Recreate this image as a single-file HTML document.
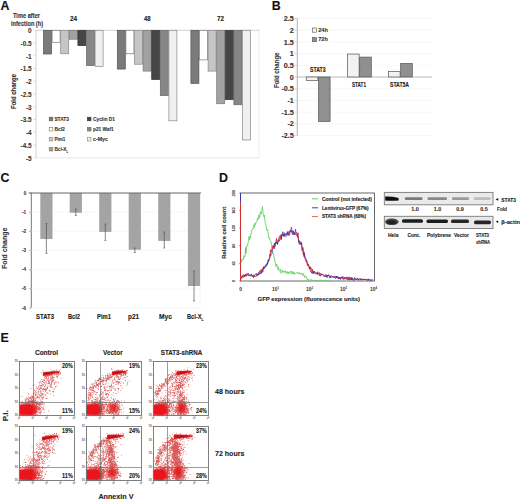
<!DOCTYPE html>
<html><head><meta charset="utf-8"><style>
html,body{margin:0;padding:0;background:#fff;width:520px;height:500px;overflow:hidden}
svg{display:block}
text{font-family:"Liberation Sans", sans-serif}
</style></head><body>
<svg width="520" height="500" viewBox="0 0 520 500" font-family='"Liberation Sans", sans-serif'>
<text x="0.50" y="9.60" font-size="12.4" font-weight="bold" text-anchor="start" fill="#111" stroke="#111" stroke-width="0.1" >A</text>
<text x="13.00" y="18.38" font-size="6.6" font-weight="bold" text-anchor="start" fill="#333" stroke="#333" stroke-width="0.12" textLength="27.00" lengthAdjust="spacingAndGlyphs" >Time after</text>
<text x="11.00" y="25.88" font-size="6.6" font-weight="bold" text-anchor="start" fill="#333" stroke="#333" stroke-width="0.12" textLength="32.00" lengthAdjust="spacingAndGlyphs" >infection (h)</text>
<text x="70.00" y="21.38" font-size="6.6" font-weight="bold" text-anchor="start" fill="#222" stroke="#222" stroke-width="0.12" textLength="7.00" lengthAdjust="spacingAndGlyphs" >24</text>
<text x="144.00" y="21.38" font-size="6.6" font-weight="bold" text-anchor="start" fill="#222" stroke="#222" stroke-width="0.12" textLength="6.50" lengthAdjust="spacingAndGlyphs" >48</text>
<text x="217.00" y="21.38" font-size="6.6" font-weight="bold" text-anchor="start" fill="#222" stroke="#222" stroke-width="0.12" textLength="7.00" lengthAdjust="spacingAndGlyphs" >72</text>
<line x1="36.00" y1="30.30" x2="36.00" y2="157.80" stroke="#c8c8c8" stroke-width="0.8" />
<line x1="36.00" y1="157.80" x2="259.00" y2="157.80" stroke="#e0e0e0" stroke-width="0.8" />
<line x1="259.00" y1="30.30" x2="259.00" y2="157.80" stroke="#e6e6e6" stroke-width="0.8" />
<line x1="36.00" y1="30.30" x2="259.00" y2="30.30" stroke="#c8c8c8" stroke-width="0.8" />
<line x1="33.50" y1="30.30" x2="36.00" y2="30.30" stroke="#c8c8c8" stroke-width="0.6" />
<text x="31.60" y="33.10" font-size="6.4" font-weight="bold" text-anchor="end" fill="#333" stroke="#333" stroke-width="0.06" >0</text>
<line x1="33.50" y1="43.05" x2="36.00" y2="43.05" stroke="#c8c8c8" stroke-width="0.6" />
<text x="31.60" y="45.85" font-size="6.4" font-weight="bold" text-anchor="end" fill="#333" stroke="#333" stroke-width="0.06" >-0.5</text>
<line x1="33.50" y1="55.80" x2="36.00" y2="55.80" stroke="#c8c8c8" stroke-width="0.6" />
<text x="31.60" y="58.60" font-size="6.4" font-weight="bold" text-anchor="end" fill="#333" stroke="#333" stroke-width="0.06" >-1</text>
<line x1="33.50" y1="68.55" x2="36.00" y2="68.55" stroke="#c8c8c8" stroke-width="0.6" />
<text x="31.60" y="71.35" font-size="6.4" font-weight="bold" text-anchor="end" fill="#333" stroke="#333" stroke-width="0.06" >-1.5</text>
<line x1="33.50" y1="81.30" x2="36.00" y2="81.30" stroke="#c8c8c8" stroke-width="0.6" />
<text x="31.60" y="84.10" font-size="6.4" font-weight="bold" text-anchor="end" fill="#333" stroke="#333" stroke-width="0.06" >-2</text>
<line x1="33.50" y1="94.05" x2="36.00" y2="94.05" stroke="#c8c8c8" stroke-width="0.6" />
<text x="31.60" y="96.85" font-size="6.4" font-weight="bold" text-anchor="end" fill="#333" stroke="#333" stroke-width="0.06" >-2.5</text>
<line x1="33.50" y1="106.80" x2="36.00" y2="106.80" stroke="#c8c8c8" stroke-width="0.6" />
<text x="31.60" y="109.60" font-size="6.4" font-weight="bold" text-anchor="end" fill="#333" stroke="#333" stroke-width="0.06" >-3</text>
<line x1="33.50" y1="119.55" x2="36.00" y2="119.55" stroke="#c8c8c8" stroke-width="0.6" />
<text x="31.60" y="122.35" font-size="6.4" font-weight="bold" text-anchor="end" fill="#333" stroke="#333" stroke-width="0.06" >-3.5</text>
<line x1="33.50" y1="132.30" x2="36.00" y2="132.30" stroke="#c8c8c8" stroke-width="0.6" />
<text x="31.60" y="135.10" font-size="6.4" font-weight="bold" text-anchor="end" fill="#333" stroke="#333" stroke-width="0.06" >-4</text>
<line x1="33.50" y1="145.05" x2="36.00" y2="145.05" stroke="#c8c8c8" stroke-width="0.6" />
<text x="31.60" y="147.85" font-size="6.4" font-weight="bold" text-anchor="end" fill="#333" stroke="#333" stroke-width="0.06" >-4.5</text>
<line x1="33.50" y1="157.80" x2="36.00" y2="157.80" stroke="#c8c8c8" stroke-width="0.6" />
<text x="31.60" y="160.60" font-size="6.4" font-weight="bold" text-anchor="end" fill="#333" stroke="#333" stroke-width="0.06" >-5</text>
<text x="15.50" y="91.50" font-size="6.4" font-weight="bold" text-anchor="middle" fill="#333" stroke="#333" stroke-width="0.12" textLength="35.00" lengthAdjust="spacingAndGlyphs" transform="rotate(-90 15.50 91.50)" >Fold change</text>
<rect x="43.50" y="30.30" width="8.00" height="23.71" fill="#7a7a7a" stroke="#555" stroke-width="0.7" />
<rect x="52.10" y="30.30" width="8.00" height="11.98" fill="#ffffff" stroke="#777" stroke-width="0.7" />
<rect x="60.70" y="30.30" width="8.00" height="23.46" fill="#c6c6c6" stroke="#888" stroke-width="0.7" />
<rect x="69.30" y="30.30" width="8.00" height="8.92" fill="#a2a2a2" stroke="#777" stroke-width="0.7" />
<rect x="77.90" y="30.30" width="8.00" height="15.30" fill="#464646" stroke="#333" stroke-width="0.7" />
<rect x="86.50" y="30.30" width="8.00" height="35.19" fill="#868686" stroke="#666" stroke-width="0.7" />
<rect x="95.10" y="30.30" width="8.00" height="36.21" fill="#f0f0f0" stroke="#888" stroke-width="0.7" />
<rect x="117.30" y="30.30" width="8.00" height="38.76" fill="#7a7a7a" stroke="#555" stroke-width="0.7" />
<rect x="125.90" y="30.30" width="8.00" height="23.46" fill="#ffffff" stroke="#777" stroke-width="0.7" />
<rect x="134.50" y="30.30" width="8.00" height="33.91" fill="#c6c6c6" stroke="#888" stroke-width="0.7" />
<rect x="143.10" y="30.30" width="8.00" height="40.80" fill="#a2a2a2" stroke="#777" stroke-width="0.7" />
<rect x="151.70" y="30.30" width="8.00" height="49.21" fill="#464646" stroke="#333" stroke-width="0.7" />
<rect x="160.30" y="30.30" width="8.00" height="65.28" fill="#868686" stroke="#666" stroke-width="0.7" />
<rect x="168.90" y="30.30" width="8.00" height="90.52" fill="#f0f0f0" stroke="#888" stroke-width="0.7" />
<rect x="190.90" y="30.30" width="8.00" height="53.04" fill="#7a7a7a" stroke="#555" stroke-width="0.7" />
<rect x="199.50" y="30.30" width="8.00" height="29.58" fill="#ffffff" stroke="#777" stroke-width="0.7" />
<rect x="208.10" y="30.30" width="8.00" height="40.80" fill="#c6c6c6" stroke="#888" stroke-width="0.7" />
<rect x="216.70" y="30.30" width="8.00" height="73.44" fill="#a2a2a2" stroke="#777" stroke-width="0.7" />
<rect x="225.30" y="30.30" width="8.00" height="69.36" fill="#464646" stroke="#333" stroke-width="0.7" />
<rect x="233.90" y="30.30" width="8.00" height="74.46" fill="#868686" stroke="#666" stroke-width="0.7" />
<rect x="242.50" y="30.30" width="8.00" height="109.65" fill="#f0f0f0" stroke="#888" stroke-width="0.7" />
<rect x="49.20" y="117.20" width="3.60" height="3.60" fill="#7a7a7a" stroke="#555" stroke-width="0.6" />
<text x="54.40" y="121.20" font-size="6.2" font-weight="bold" text-anchor="start" fill="#333" stroke="#333" stroke-width="0.12" textLength="14.60" lengthAdjust="spacingAndGlyphs" >STAT3</text>
<rect x="49.20" y="127.40" width="3.60" height="3.60" fill="#ffffff" stroke="#777" stroke-width="0.6" />
<text x="54.40" y="131.40" font-size="6.2" font-weight="bold" text-anchor="start" fill="#333" stroke="#333" stroke-width="0.12" textLength="10.50" lengthAdjust="spacingAndGlyphs" >Bcl2</text>
<rect x="49.20" y="137.40" width="3.60" height="3.60" fill="#c6c6c6" stroke="#888" stroke-width="0.6" />
<text x="54.40" y="141.40" font-size="6.2" font-weight="bold" text-anchor="start" fill="#333" stroke="#333" stroke-width="0.12" textLength="11.00" lengthAdjust="spacingAndGlyphs" >Pim1</text>
<rect x="49.20" y="147.40" width="3.60" height="3.60" fill="#a2a2a2" stroke="#777" stroke-width="0.6" />
<text x="54.40" y="151.40" font-size="6.2" font-weight="bold" text-anchor="start" fill="#333" stroke="#333" stroke-width="0.12" textLength="13.60" lengthAdjust="spacingAndGlyphs" >Bcl-X<tspan font-size="3.4" dy="1.4">L</tspan></text>
<rect x="87.40" y="117.20" width="3.60" height="3.60" fill="#464646" stroke="#333" stroke-width="0.6" />
<text x="93.00" y="121.20" font-size="6.2" font-weight="bold" text-anchor="start" fill="#333" stroke="#333" stroke-width="0.12" textLength="22.00" lengthAdjust="spacingAndGlyphs" >Cyclin D1</text>
<rect x="87.40" y="127.40" width="3.60" height="3.60" fill="#868686" stroke="#666" stroke-width="0.6" />
<text x="93.00" y="131.40" font-size="6.2" font-weight="bold" text-anchor="start" fill="#333" stroke="#333" stroke-width="0.12" textLength="20.60" lengthAdjust="spacingAndGlyphs" >p21 Waf1</text>
<rect x="87.40" y="137.40" width="3.60" height="3.60" fill="#f0f0f0" stroke="#888" stroke-width="0.6" />
<text x="93.00" y="141.40" font-size="6.2" font-weight="bold" text-anchor="start" fill="#333" stroke="#333" stroke-width="0.12" textLength="15.00" lengthAdjust="spacingAndGlyphs" >c-Myc</text>
<text x="271.80" y="9.60" font-size="12.4" font-weight="bold" text-anchor="start" fill="#111" stroke="#111" stroke-width="0.1" >B</text>
<line x1="297.00" y1="18.50" x2="432.00" y2="18.50" stroke="#f0f0f0" stroke-width="0.6" />
<line x1="294.50" y1="18.50" x2="297.00" y2="18.50" stroke="#bbb" stroke-width="0.6" />
<text x="293.80" y="21.10" font-size="7.2" font-weight="bold" text-anchor="end" fill="#333" stroke="#333" stroke-width="0.12" >2.5</text>
<line x1="297.00" y1="30.20" x2="432.00" y2="30.20" stroke="#f0f0f0" stroke-width="0.6" />
<line x1="294.50" y1="30.20" x2="297.00" y2="30.20" stroke="#bbb" stroke-width="0.6" />
<text x="293.80" y="32.80" font-size="7.2" font-weight="bold" text-anchor="end" fill="#333" stroke="#333" stroke-width="0.12" >2</text>
<line x1="297.00" y1="41.90" x2="432.00" y2="41.90" stroke="#f0f0f0" stroke-width="0.6" />
<line x1="294.50" y1="41.90" x2="297.00" y2="41.90" stroke="#bbb" stroke-width="0.6" />
<text x="293.80" y="44.50" font-size="7.2" font-weight="bold" text-anchor="end" fill="#333" stroke="#333" stroke-width="0.12" >1.5</text>
<line x1="297.00" y1="53.60" x2="432.00" y2="53.60" stroke="#f0f0f0" stroke-width="0.6" />
<line x1="294.50" y1="53.60" x2="297.00" y2="53.60" stroke="#bbb" stroke-width="0.6" />
<text x="293.80" y="56.20" font-size="7.2" font-weight="bold" text-anchor="end" fill="#333" stroke="#333" stroke-width="0.12" >1</text>
<line x1="297.00" y1="65.30" x2="432.00" y2="65.30" stroke="#f0f0f0" stroke-width="0.6" />
<line x1="294.50" y1="65.30" x2="297.00" y2="65.30" stroke="#bbb" stroke-width="0.6" />
<text x="293.80" y="67.90" font-size="7.2" font-weight="bold" text-anchor="end" fill="#333" stroke="#333" stroke-width="0.12" >0.5</text>
<line x1="294.50" y1="77.00" x2="297.00" y2="77.00" stroke="#bbb" stroke-width="0.6" />
<text x="293.80" y="79.60" font-size="7.2" font-weight="bold" text-anchor="end" fill="#333" stroke="#333" stroke-width="0.12" >0</text>
<line x1="297.00" y1="88.70" x2="432.00" y2="88.70" stroke="#f0f0f0" stroke-width="0.6" />
<line x1="294.50" y1="88.70" x2="297.00" y2="88.70" stroke="#bbb" stroke-width="0.6" />
<text x="293.80" y="91.30" font-size="7.2" font-weight="bold" text-anchor="end" fill="#333" stroke="#333" stroke-width="0.12" >-0.5</text>
<line x1="297.00" y1="100.40" x2="432.00" y2="100.40" stroke="#f0f0f0" stroke-width="0.6" />
<line x1="294.50" y1="100.40" x2="297.00" y2="100.40" stroke="#bbb" stroke-width="0.6" />
<text x="293.80" y="103.00" font-size="7.2" font-weight="bold" text-anchor="end" fill="#333" stroke="#333" stroke-width="0.12" >-1</text>
<line x1="297.00" y1="112.10" x2="432.00" y2="112.10" stroke="#f0f0f0" stroke-width="0.6" />
<line x1="294.50" y1="112.10" x2="297.00" y2="112.10" stroke="#bbb" stroke-width="0.6" />
<text x="293.80" y="114.70" font-size="7.2" font-weight="bold" text-anchor="end" fill="#333" stroke="#333" stroke-width="0.12" >-1.5</text>
<line x1="297.00" y1="123.80" x2="432.00" y2="123.80" stroke="#f0f0f0" stroke-width="0.6" />
<line x1="294.50" y1="123.80" x2="297.00" y2="123.80" stroke="#bbb" stroke-width="0.6" />
<text x="293.80" y="126.40" font-size="7.2" font-weight="bold" text-anchor="end" fill="#333" stroke="#333" stroke-width="0.12" >-2</text>
<line x1="297.00" y1="135.50" x2="432.00" y2="135.50" stroke="#f0f0f0" stroke-width="0.6" />
<line x1="294.50" y1="135.50" x2="297.00" y2="135.50" stroke="#bbb" stroke-width="0.6" />
<text x="293.80" y="138.10" font-size="7.2" font-weight="bold" text-anchor="end" fill="#333" stroke="#333" stroke-width="0.12" >-2.5</text>
<line x1="297.30" y1="18.50" x2="297.30" y2="135.50" stroke="#a0a0a0" stroke-width="0.8" />
<line x1="297.00" y1="77.00" x2="432.00" y2="77.00" stroke="#aaa" stroke-width="0.8" />
<text x="279.20" y="70.30" font-size="7.0" font-weight="bold" text-anchor="middle" fill="#333" stroke="#333" stroke-width="0.12" textLength="35.40" lengthAdjust="spacingAndGlyphs" transform="rotate(-90 279.20 70.30)" >Fold change</text>
<rect x="312.30" y="28.00" width="4.20" height="4.20" fill="#f4f4f4" stroke="#555" stroke-width="0.6" />
<rect x="312.30" y="37.50" width="4.20" height="4.20" fill="#909090" stroke="#555" stroke-width="0.6" />
<text x="318.20" y="32.20" font-size="6.2" font-weight="bold" text-anchor="start" fill="#333" stroke="#333" stroke-width="0.12" textLength="9.60" lengthAdjust="spacingAndGlyphs" >24h</text>
<text x="318.20" y="41.40" font-size="6.2" font-weight="bold" text-anchor="start" fill="#333" stroke="#333" stroke-width="0.12" textLength="9.60" lengthAdjust="spacingAndGlyphs" >72h</text>
<rect x="306.30" y="77.00" width="11.60" height="3.51" fill="#f2f2f2" stroke="#555" stroke-width="0.7" />
<rect x="318.50" y="77.00" width="11.60" height="44.46" fill="#909090" stroke="#555" stroke-width="0.7" />
<rect x="347.50" y="54.07" width="11.60" height="22.93" fill="#f2f2f2" stroke="#555" stroke-width="0.7" />
<rect x="359.70" y="57.11" width="11.60" height="19.89" fill="#909090" stroke="#555" stroke-width="0.7" />
<rect x="388.50" y="71.62" width="11.60" height="5.38" fill="#f2f2f2" stroke="#555" stroke-width="0.7" />
<rect x="400.70" y="63.43" width="11.60" height="13.57" fill="#909090" stroke="#555" stroke-width="0.7" />
<text x="310.00" y="71.68" font-size="6.6" font-weight="bold" text-anchor="start" fill="#222" stroke="#222" stroke-width="0.12" textLength="15.50" lengthAdjust="spacingAndGlyphs" >STAT3</text>
<text x="352.00" y="87.38" font-size="6.6" font-weight="bold" text-anchor="start" fill="#222" stroke="#222" stroke-width="0.12" textLength="14.00" lengthAdjust="spacingAndGlyphs" >STAT1</text>
<text x="390.00" y="87.38" font-size="6.6" font-weight="bold" text-anchor="start" fill="#222" stroke="#222" stroke-width="0.12" textLength="19.00" lengthAdjust="spacingAndGlyphs" >STAT5A</text>
<text x="0.60" y="182.30" font-size="12.4" font-weight="bold" text-anchor="start" fill="#111" stroke="#111" stroke-width="0.1" >C</text>
<line x1="31.30" y1="193.00" x2="31.30" y2="308.02" stroke="#666" stroke-width="0.9" />
<line x1="31.00" y1="308.02" x2="200.00" y2="308.02" stroke="#f2f2f2" stroke-width="0.6" />
<line x1="200.00" y1="193.00" x2="200.00" y2="308.02" stroke="#eee" stroke-width="0.6" />
<line x1="29.20" y1="193.00" x2="31.30" y2="193.00" stroke="#777" stroke-width="0.6" />
<text x="26.20" y="194.60" font-size="4.6" font-weight="bold" text-anchor="end" fill="#444" stroke="#444" stroke-width="0.12" >0</text>
<line x1="31.00" y1="212.17" x2="200.00" y2="212.17" stroke="#f3f3f3" stroke-width="0.6" />
<line x1="29.20" y1="212.17" x2="31.30" y2="212.17" stroke="#777" stroke-width="0.6" />
<text x="26.20" y="213.77" font-size="4.6" font-weight="bold" text-anchor="end" fill="#444" stroke="#444" stroke-width="0.12" >-1</text>
<line x1="31.00" y1="231.34" x2="200.00" y2="231.34" stroke="#f3f3f3" stroke-width="0.6" />
<line x1="29.20" y1="231.34" x2="31.30" y2="231.34" stroke="#777" stroke-width="0.6" />
<text x="26.20" y="232.94" font-size="4.6" font-weight="bold" text-anchor="end" fill="#444" stroke="#444" stroke-width="0.12" >-2</text>
<line x1="31.00" y1="250.51" x2="200.00" y2="250.51" stroke="#f3f3f3" stroke-width="0.6" />
<line x1="29.20" y1="250.51" x2="31.30" y2="250.51" stroke="#777" stroke-width="0.6" />
<text x="26.20" y="252.11" font-size="4.6" font-weight="bold" text-anchor="end" fill="#444" stroke="#444" stroke-width="0.12" >-3</text>
<line x1="31.00" y1="269.68" x2="200.00" y2="269.68" stroke="#f3f3f3" stroke-width="0.6" />
<line x1="29.20" y1="269.68" x2="31.30" y2="269.68" stroke="#777" stroke-width="0.6" />
<text x="26.20" y="271.28" font-size="4.6" font-weight="bold" text-anchor="end" fill="#444" stroke="#444" stroke-width="0.12" >-4</text>
<line x1="31.00" y1="288.85" x2="200.00" y2="288.85" stroke="#f3f3f3" stroke-width="0.6" />
<line x1="29.20" y1="288.85" x2="31.30" y2="288.85" stroke="#777" stroke-width="0.6" />
<text x="26.20" y="290.45" font-size="4.6" font-weight="bold" text-anchor="end" fill="#444" stroke="#444" stroke-width="0.12" >-5</text>
<line x1="31.00" y1="308.02" x2="200.00" y2="308.02" stroke="#f3f3f3" stroke-width="0.6" />
<line x1="29.20" y1="308.02" x2="31.30" y2="308.02" stroke="#777" stroke-width="0.6" />
<text x="26.20" y="309.62" font-size="4.6" font-weight="bold" text-anchor="end" fill="#444" stroke="#444" stroke-width="0.12" >-6</text>
<text x="7.10" y="248.30" font-size="6.9" font-weight="bold" text-anchor="middle" fill="#333" stroke="#333" stroke-width="0.12" textLength="41.40" lengthAdjust="spacingAndGlyphs" transform="rotate(-90 7.10 248.30)" >Fold change</text>
<rect x="40.30" y="193.00" width="12.20" height="46.01" fill="#a4a4a4" stroke="none" stroke-width="0.6" />
<rect x="69.70" y="193.00" width="12.20" height="19.75" fill="#a4a4a4" stroke="none" stroke-width="0.6" />
<rect x="99.20" y="193.00" width="12.20" height="38.92" fill="#a4a4a4" stroke="none" stroke-width="0.6" />
<rect x="128.70" y="193.00" width="12.20" height="56.74" fill="#a4a4a4" stroke="none" stroke-width="0.6" />
<rect x="158.20" y="193.00" width="12.20" height="47.93" fill="#a4a4a4" stroke="none" stroke-width="0.6" />
<rect x="187.90" y="193.00" width="12.20" height="92.97" fill="#a4a4a4" stroke="none" stroke-width="0.6" />
<line x1="46.40" y1="223.50" x2="46.40" y2="253.40" stroke="#555" stroke-width="0.7" />
<line x1="45.40" y1="223.50" x2="47.40" y2="223.50" stroke="#555" stroke-width="0.6" />
<line x1="45.40" y1="253.40" x2="47.40" y2="253.40" stroke="#555" stroke-width="0.6" />
<line x1="75.80" y1="209.00" x2="75.80" y2="215.50" stroke="#555" stroke-width="0.7" />
<line x1="74.80" y1="209.00" x2="76.80" y2="209.00" stroke="#555" stroke-width="0.6" />
<line x1="74.80" y1="215.50" x2="76.80" y2="215.50" stroke="#555" stroke-width="0.6" />
<line x1="105.30" y1="224.00" x2="105.30" y2="240.50" stroke="#555" stroke-width="0.7" />
<line x1="104.30" y1="224.00" x2="106.30" y2="224.00" stroke="#555" stroke-width="0.6" />
<line x1="104.30" y1="240.50" x2="106.30" y2="240.50" stroke="#555" stroke-width="0.6" />
<line x1="134.80" y1="248.00" x2="134.80" y2="252.50" stroke="#555" stroke-width="0.7" />
<line x1="133.80" y1="248.00" x2="135.80" y2="248.00" stroke="#555" stroke-width="0.6" />
<line x1="133.80" y1="252.50" x2="135.80" y2="252.50" stroke="#555" stroke-width="0.6" />
<line x1="164.30" y1="232.00" x2="164.30" y2="248.00" stroke="#555" stroke-width="0.7" />
<line x1="163.30" y1="232.00" x2="165.30" y2="232.00" stroke="#555" stroke-width="0.6" />
<line x1="163.30" y1="248.00" x2="165.30" y2="248.00" stroke="#555" stroke-width="0.6" />
<line x1="194.00" y1="271.00" x2="194.00" y2="301.00" stroke="#555" stroke-width="0.7" />
<line x1="193.00" y1="271.00" x2="195.00" y2="271.00" stroke="#555" stroke-width="0.6" />
<line x1="193.00" y1="301.00" x2="195.00" y2="301.00" stroke="#555" stroke-width="0.6" />
<line x1="28.80" y1="193.00" x2="201.00" y2="193.00" stroke="#666" stroke-width="1.0" />
<text x="36.00" y="319.30" font-size="6.4" font-weight="bold" text-anchor="start" fill="#222" stroke="#222" stroke-width="0.12" textLength="18.00" lengthAdjust="spacingAndGlyphs" >STAT3</text>
<text x="68.00" y="319.30" font-size="6.4" font-weight="bold" text-anchor="start" fill="#222" stroke="#222" stroke-width="0.12" textLength="12.00" lengthAdjust="spacingAndGlyphs" >Bcl2</text>
<text x="97.00" y="319.30" font-size="6.4" font-weight="bold" text-anchor="start" fill="#222" stroke="#222" stroke-width="0.12" textLength="14.00" lengthAdjust="spacingAndGlyphs" >Pim1</text>
<text x="128.00" y="319.30" font-size="6.4" font-weight="bold" text-anchor="start" fill="#222" stroke="#222" stroke-width="0.12" textLength="11.00" lengthAdjust="spacingAndGlyphs" >p21</text>
<text x="159.00" y="319.30" font-size="6.4" font-weight="bold" text-anchor="start" fill="#222" stroke="#222" stroke-width="0.12" textLength="13.00" lengthAdjust="spacingAndGlyphs" >Myc</text>
<text x="187.00" y="319.30" font-size="6.4" font-weight="bold" text-anchor="start" fill="#222" stroke="#222" stroke-width="0.12" textLength="16.50" lengthAdjust="spacingAndGlyphs" >Bcl-X<tspan font-size="3.6" dy="1.4">L</tspan></text>
<text x="219.00" y="182.40" font-size="12.4" font-weight="bold" text-anchor="start" fill="#111" stroke="#111" stroke-width="0.1" >D</text>
<text x="226.00" y="232.80" font-size="5.6" font-weight="bold" text-anchor="middle" fill="#333" stroke="#333" stroke-width="0.12" textLength="51.90" lengthAdjust="spacingAndGlyphs" transform="rotate(-90 226.00 232.80)" >Relative cell count</text>
<rect x="240.50" y="193.00" width="133.90" height="88.00" fill="none" stroke="#444" stroke-width="0.8" />
<line x1="239.00" y1="281.00" x2="240.50" y2="281.00" stroke="#444" stroke-width="0.5" />
<text x="234.90" y="281.00" font-size="3.8" font-weight="bold" text-anchor="middle" fill="#333" stroke="#333" stroke-width="0.05" transform="rotate(-90 234.90 281.00)" >0</text>
<line x1="239.00" y1="263.40" x2="240.50" y2="263.40" stroke="#444" stroke-width="0.5" />
<text x="234.90" y="263.40" font-size="3.8" font-weight="bold" text-anchor="middle" fill="#333" stroke="#333" stroke-width="0.05" transform="rotate(-90 234.90 263.40)" >40</text>
<line x1="239.00" y1="245.80" x2="240.50" y2="245.80" stroke="#444" stroke-width="0.5" />
<text x="234.90" y="245.80" font-size="3.8" font-weight="bold" text-anchor="middle" fill="#333" stroke="#333" stroke-width="0.05" transform="rotate(-90 234.90 245.80)" >80</text>
<line x1="239.00" y1="228.20" x2="240.50" y2="228.20" stroke="#444" stroke-width="0.5" />
<text x="234.90" y="228.20" font-size="3.8" font-weight="bold" text-anchor="middle" fill="#333" stroke="#333" stroke-width="0.05" transform="rotate(-90 234.90 228.20)" >120</text>
<line x1="239.00" y1="210.60" x2="240.50" y2="210.60" stroke="#444" stroke-width="0.5" />
<text x="234.90" y="210.60" font-size="3.8" font-weight="bold" text-anchor="middle" fill="#333" stroke="#333" stroke-width="0.05" transform="rotate(-90 234.90 210.60)" >160</text>
<line x1="239.00" y1="193.00" x2="240.50" y2="193.00" stroke="#444" stroke-width="0.5" />
<text x="234.90" y="193.00" font-size="3.8" font-weight="bold" text-anchor="middle" fill="#333" stroke="#333" stroke-width="0.05" transform="rotate(-90 234.90 193.00)" >200</text>
<text x="240.70" y="290.60" font-size="4.9" font-weight="bold" text-anchor="middle" fill="#333" >0</text>
<text x="275.50" y="290.60" font-size="4.9" font-weight="bold" text-anchor="middle" fill="#333" >10<tspan font-size="2.8" dy="-1.6">1</tspan></text>
<text x="309.50" y="290.60" font-size="4.9" font-weight="bold" text-anchor="middle" fill="#333" >10<tspan font-size="2.8" dy="-1.6">2</tspan></text>
<text x="343.50" y="290.60" font-size="4.9" font-weight="bold" text-anchor="middle" fill="#333" >10<tspan font-size="2.8" dy="-1.6">3</tspan></text>
<text x="373.50" y="290.60" font-size="4.9" font-weight="bold" text-anchor="middle" fill="#333" >10<tspan font-size="2.8" dy="-1.6">4</tspan></text>
<text x="257.60" y="301.03" font-size="6.2" font-weight="bold" text-anchor="start" fill="#222" stroke="#222" stroke-width="0.12" textLength="102.40" lengthAdjust="spacingAndGlyphs" >GFP expression (fluorescence units)</text>
<polyline points="241.0,259.1 241.5,262.2 242.0,259.3 242.5,259.6 243.0,258.8 243.5,259.6 244.0,255.7 244.5,257.1 245.0,256.8 245.5,247.5 246.0,253.4 246.5,247.9 247.0,245.2 247.5,245.7 248.0,243.1 248.5,241.4 249.0,236.6 249.5,240.0 250.0,236.3 250.5,237.7 251.0,233.0 251.5,232.9 252.0,229.4 252.5,229.2 253.0,228.1 253.5,228.8 254.0,224.6 254.5,227.2 255.0,223.1 255.5,224.9 256.0,222.1 256.5,221.8 257.0,220.9 257.5,218.1 258.0,219.8 258.5,218.2 259.0,214.9 259.5,218.1 260.0,214.7 260.5,211.8 261.0,214.3 261.5,210.5 262.0,209.7 262.5,206.4 263.0,213.2 263.5,215.4 264.0,216.9 264.5,215.0 265.0,221.7 265.5,223.6 266.0,225.1 266.5,228.3 267.0,230.5 267.5,229.2 268.0,231.6 268.5,236.9 269.0,238.2 269.5,237.6 270.0,240.6 270.5,241.0 271.0,241.5 271.5,245.5 272.0,250.5 272.5,251.2 273.0,254.1 273.5,253.8 274.0,258.0 274.5,258.1 275.0,261.8 275.5,263.9 276.0,266.6 276.5,264.1 277.0,265.0 277.5,266.2 278.0,269.6 278.5,267.2 279.0,270.6 279.5,270.9 280.0,270.7 280.5,269.2 281.0,273.3 281.5,272.6 282.0,271.3 282.5,270.0 283.0,272.4 283.5,271.3 284.0,272.2 284.5,271.5 285.0,272.5 285.5,270.7 286.0,271.5 286.5,273.7 287.0,273.4 287.5,271.7 288.0,273.5 288.5,271.8 289.0,273.8 289.5,273.2 290.0,272.2 290.5,271.8 291.0,271.0 291.5,273.8 292.0,271.2 292.5,273.7 293.0,274.2 293.5,273.0 294.0,271.8 294.5,274.0 295.0,274.4 295.5,273.6 296.0,273.0 296.5,272.7 297.0,272.7 297.5,272.3 298.0,273.9 298.5,273.2 299.0,272.5 299.5,272.3 300.0,274.2 300.5,273.1 301.0,273.8 301.5,273.4 302.0,275.2 302.5,275.6 303.0,273.2 303.5,274.2 304.0,275.0 304.5,277.4 305.0,277.1 305.5,276.1 306.0,276.1 306.5,278.0 307.0,279.1 307.5,279.8 308.0,278.8 308.5,280.1 309.0,280.3 309.5,280.0 310.0,280.6 310.5,279.7 311.0,280.6 311.5,279.6 312.0,279.8 312.5,280.6 313.0,280.0 313.5,280.6 314.0,280.6 314.5,280.6 315.0,280.4 315.5,280.4 316.0,280.3 316.5,280.6 317.0,280.6 317.5,280.6 318.0,280.6 318.5,280.0 319.0,280.6 319.5,280.0 320.0,279.9 320.5,279.9 321.0,280.6 321.5,280.6 322.0,280.6 322.5,280.4 323.0,280.6 323.5,280.6 324.0,280.4 324.5,280.6 325.0,280.2 325.5,279.9 326.0,280.2 326.5,280.6 327.0,280.6 327.5,280.6 328.0,280.5 328.5,280.3 329.0,280.6 329.5,280.6 330.0,279.8" fill="none" stroke="#5fd35f" stroke-width="0.9" stroke-opacity="1" stroke-linejoin="round"/>
<polyline points="241.0,276.7 241.5,277.4 242.0,276.6 242.5,277.1 243.0,276.9 243.5,274.9 244.0,274.5 244.5,276.8 245.0,274.7 245.5,274.4 246.0,276.5 246.5,274.7 247.0,275.5 247.5,274.2 248.0,274.4 248.5,273.2 249.0,274.9 249.5,275.9 250.0,275.1 250.5,276.0 251.0,276.0 251.5,274.4 252.0,276.8 252.5,276.5 253.0,275.9 253.5,274.8 254.0,277.1 254.5,275.7 255.0,276.2 255.5,276.4 256.0,275.7 256.5,276.1 257.0,274.2 257.5,275.2 258.0,273.8 258.5,274.9 259.0,274.2 259.5,271.3 260.0,270.9 260.5,270.1 261.0,273.5 261.5,270.3 262.0,270.8 262.5,268.6 263.0,269.2 263.5,267.9 264.0,266.9 264.5,267.3 265.0,266.5 265.5,267.4 266.0,265.4 266.5,265.9 267.0,264.7 267.5,264.5 268.0,261.6 268.5,261.4 269.0,260.4 269.5,258.1 270.0,257.5 270.5,249.8 271.0,252.3 271.5,251.4 272.0,249.5 272.5,248.1 273.0,245.4 273.5,245.9 274.0,248.8 274.5,248.4 275.0,243.2 275.5,242.4 276.0,243.9 276.5,238.4 277.0,242.2 277.5,244.4 278.0,241.2 278.5,241.3 279.0,240.0 279.5,241.2 280.0,237.6 280.5,236.3 281.0,239.9 281.5,234.8 282.0,234.2 282.5,234.1 283.0,236.0 283.5,235.1 284.0,235.2 284.5,236.2 285.0,233.7 285.5,235.2 286.0,233.8 286.5,233.6 287.0,233.0 287.5,232.2 288.0,234.7 288.5,231.8 289.0,231.6 289.5,232.5 290.0,230.5 290.5,231.5 291.0,231.9 291.5,230.3 292.0,232.6 292.5,231.9 293.0,230.6 293.5,231.3 294.0,235.0 294.5,232.5 295.0,234.7 295.5,233.7 296.0,233.9 296.5,234.3 297.0,235.6 297.5,236.8 298.0,232.8 298.5,241.7 299.0,240.6 299.5,244.1 300.0,244.2 300.5,244.8 301.0,243.9 301.5,242.2 302.0,247.1 302.5,247.4 303.0,252.4 303.5,255.2 304.0,251.9 304.5,254.9 305.0,259.2 305.5,259.2 306.0,261.4 306.5,260.8 307.0,263.2 307.5,265.6 308.0,264.2 308.5,264.3 309.0,266.9 309.5,269.2 310.0,266.7 310.5,270.8 311.0,272.4 311.5,272.3 312.0,272.9 312.5,269.2 313.0,272.7 313.5,273.6 314.0,271.2 314.5,272.0 315.0,272.1 315.5,273.1 316.0,272.9 316.5,273.2 317.0,274.3 317.5,272.0 318.0,272.3 318.5,272.7 319.0,272.8 319.5,272.8 320.0,275.8 320.5,275.6 321.0,273.3 321.5,274.8 322.0,274.3 322.5,274.5 323.0,274.7 323.5,275.8 324.0,275.8 324.5,275.2 325.0,274.8 325.5,275.3 326.0,274.8 326.5,276.2 327.0,276.8 327.5,275.8 328.0,274.9 328.5,275.3 329.0,276.0 329.5,276.8 330.0,277.4 330.5,276.2 331.0,277.6 331.5,277.1 332.0,276.6 332.5,276.5 333.0,276.9 333.5,277.6 334.0,276.8 334.5,277.7 335.0,277.1 335.5,276.5 336.0,277.4 336.5,278.0 337.0,276.1 337.5,277.3 338.0,277.3 338.5,278.8 339.0,279.0 339.5,277.3 340.0,279.0 340.5,278.7 341.0,277.1 341.5,277.8 342.0,276.8 342.5,279.0 343.0,278.6 343.5,279.3 344.0,279.1 344.5,278.7 345.0,279.0 345.5,278.5 346.0,277.1 346.5,278.6 347.0,276.8 347.5,277.3 348.0,279.3 348.5,277.1 349.0,277.3 349.5,277.3 350.0,279.8 350.5,277.7 351.0,277.2 351.5,279.8 352.0,277.6 352.5,279.9 353.0,279.4 353.5,279.9 354.0,280.3 354.5,279.2 355.0,279.5 355.5,278.3 356.0,279.5 356.5,279.1 357.0,279.4 357.5,278.5 358.0,279.6 358.5,279.9 359.0,278.5 359.5,279.0 360.0,279.4 360.5,279.8 361.0,278.9 361.5,278.9 362.0,279.0 362.5,279.6 363.0,279.8 363.5,279.3 364.0,279.3 364.5,279.4 365.0,279.3 365.5,279.5 366.0,279.0 366.5,279.6 367.0,280.4 367.5,279.6 368.0,280.1 368.5,279.2 369.0,280.1 369.5,280.2 370.0,280.1 370.5,279.9 371.0,279.9 371.5,280.1 372.0,280.6 372.5,279.4" fill="none" stroke="#e53024" stroke-width="1.0" stroke-opacity="1" stroke-linejoin="round"/>
<polyline points="241.0,279.0 241.5,278.8 242.0,275.5 242.5,275.4 243.0,277.6 243.5,277.0 244.0,276.6 244.5,275.1 245.0,275.9 245.5,275.6 246.0,275.3 246.5,273.6 247.0,274.3 247.5,273.9 248.0,274.7 248.5,275.9 249.0,276.0 249.5,274.9 250.0,274.8 250.5,274.5 251.0,273.9 251.5,274.2 252.0,275.9 252.5,275.6 253.0,276.1 253.5,277.6 254.0,276.1 254.5,276.0 255.0,274.6 255.5,273.7 256.0,274.4 256.5,273.5 257.0,274.5 257.5,275.9 258.0,274.6 258.5,272.5 259.0,274.4 259.5,273.6 260.0,272.9 260.5,273.9 261.0,272.6 261.5,272.3 262.0,269.3 262.5,272.4 263.0,271.8 263.5,266.6 264.0,269.1 264.5,268.1 265.0,265.9 265.5,265.4 266.0,264.4 266.5,266.0 267.0,262.9 267.5,263.8 268.0,259.9 268.5,261.7 269.0,258.6 269.5,258.3 270.0,254.2 270.5,255.7 271.0,255.5 271.5,254.2 272.0,253.1 272.5,249.2 273.0,248.7 273.5,245.8 274.0,246.4 274.5,243.0 275.0,246.6 275.5,243.1 276.0,241.9 276.5,242.6 277.0,242.5 277.5,244.3 278.0,239.8 278.5,240.2 279.0,237.1 279.5,237.0 280.0,235.7 280.5,235.0 281.0,234.7 281.5,238.9 282.0,235.0 282.5,231.9 283.0,231.9 283.5,236.5 284.0,233.4 284.5,232.7 285.0,236.5 285.5,237.0 286.0,236.5 286.5,234.1 287.0,234.9 287.5,231.5 288.0,235.6 288.5,233.7 289.0,233.1 289.5,235.4 290.0,233.2 290.5,229.7 291.0,228.6 291.5,227.0 292.0,231.8 292.5,234.6 293.0,231.0 293.5,231.5 294.0,234.0 294.5,234.8 295.0,233.6 295.5,229.2 296.0,232.8 296.5,232.1 297.0,234.5 297.5,237.3 298.0,237.4 298.5,238.1 299.0,243.5 299.5,241.6 300.0,240.9 300.5,244.1 301.0,242.7 301.5,245.9 302.0,250.6 302.5,248.6 303.0,247.5 303.5,250.9 304.0,256.8 304.5,253.9 305.0,257.9 305.5,258.0 306.0,258.5 306.5,261.4 307.0,260.9 307.5,262.4 308.0,265.4 308.5,265.2 309.0,266.5 309.5,269.0 310.0,267.9 310.5,267.2 311.0,268.1 311.5,268.4 312.0,273.2 312.5,272.6 313.0,273.8 313.5,273.1 314.0,271.0 314.5,273.3 315.0,273.8 315.5,273.8 316.0,273.1 316.5,272.8 317.0,273.3 317.5,274.6 318.0,272.9 318.5,273.9 319.0,273.9 319.5,275.7 320.0,275.3 320.5,275.9 321.0,275.7 321.5,274.1 322.0,274.0 322.5,275.0 323.0,274.4 323.5,275.1 324.0,276.1 324.5,277.1 325.0,276.1 325.5,276.9 326.0,274.6 326.5,275.5 327.0,277.8 327.5,275.0 328.0,275.9 328.5,274.8 329.0,275.0 329.5,277.8 330.0,278.1 330.5,277.1 331.0,275.4 331.5,276.0 332.0,275.9 332.5,277.4 333.0,277.5 333.5,276.8 334.0,277.1 334.5,275.8 335.0,277.3 335.5,278.8 336.0,278.2 336.5,276.0 337.0,277.5 337.5,278.2 338.0,276.7 338.5,278.9 339.0,277.5 339.5,278.4 340.0,277.4 340.5,279.5 341.0,278.8 341.5,278.2 342.0,276.8 342.5,277.8 343.0,276.5 343.5,278.4 344.0,279.4 344.5,277.1 345.0,278.3 345.5,278.2 346.0,278.0 346.5,279.1 347.0,279.9 347.5,279.1 348.0,278.4 348.5,280.1 349.0,278.0 349.5,279.4 350.0,279.1 350.5,279.5 351.0,279.9 351.5,277.8 352.0,279.2 352.5,278.5 353.0,279.4 353.5,280.5 354.0,279.4 354.5,277.3 355.0,278.9 355.5,279.4 356.0,279.7 356.5,279.3 357.0,279.6 357.5,278.3 358.0,279.9 358.5,279.6 359.0,279.4 359.5,279.9 360.0,279.9 360.5,278.6 361.0,279.9 361.5,279.8 362.0,278.9 362.5,279.8 363.0,279.6 363.5,279.0 364.0,280.0 364.5,278.9 365.0,279.7 365.5,279.5 366.0,279.2 366.5,279.7 367.0,279.6 367.5,279.2 368.0,280.5 368.5,279.0 369.0,278.9 369.5,279.8 370.0,280.4 370.5,280.1 371.0,280.3 371.5,279.9 372.0,280.2 372.5,279.7" fill="none" stroke="#2c2cb0" stroke-width="0.9" stroke-opacity="0.75" stroke-linejoin="round"/>
<line x1="240.50" y1="281.00" x2="240.50" y2="193.50" stroke="#3434b4" stroke-width="1.0" />
<line x1="240.50" y1="281.00" x2="240.50" y2="201.00" stroke="#d03030" stroke-width="1.0" />
<line x1="312.00" y1="198.80" x2="318.00" y2="198.80" stroke="#5fd35f" stroke-width="1.0" />
<line x1="312.00" y1="207.80" x2="318.00" y2="207.80" stroke="#2a2aa8" stroke-width="0.9" />
<line x1="312.00" y1="216.60" x2="318.00" y2="216.60" stroke="#e06030" stroke-width="0.9" />
<text x="322.00" y="201.00" font-size="5.0" font-weight="bold" text-anchor="start" fill="#222" stroke="#222" stroke-width="0.12" textLength="50.00" lengthAdjust="spacingAndGlyphs" >Control (not infected)</text>
<text x="322.00" y="209.70" font-size="5.0" font-weight="bold" text-anchor="start" fill="#222" stroke="#222" stroke-width="0.12" textLength="46.60" lengthAdjust="spacingAndGlyphs" >Lentivirus-GFP (67%)</text>
<text x="322.00" y="217.90" font-size="5.0" font-weight="bold" text-anchor="start" fill="#222" stroke="#222" stroke-width="0.12" textLength="44.00" lengthAdjust="spacingAndGlyphs" >STAT3 shRNA (68%)</text>
<rect x="384.30" y="192.40" width="108.70" height="12.40" fill="#eaeaea" stroke="#7a7a7a" stroke-width="0.9" />
<rect x="384.30" y="216.30" width="108.70" height="12.20" fill="#e8e8e8" stroke="#7a7a7a" stroke-width="0.9" />
<defs><filter id="bl" x="-20%" y="-50%" width="140%" height="200%"><feGaussianBlur stdDeviation="0.6"/></filter><filter id="bl2" x="-20%" y="-50%" width="140%" height="200%"><feGaussianBlur stdDeviation="0.45"/></filter><filter id="bl3" x="-50%" y="-50%" width="200%" height="200%"><feGaussianBlur stdDeviation="1.2"/></filter><filter id="bl4" x="-20%" y="-20%" width="140%" height="140%"><feGaussianBlur stdDeviation="0.8"/></filter></defs>
<path d="M385.2,196.6 Q392,196.4 398.6,198.0 L398.6,200.5 Q392,201.0 385.2,200.6 Z" fill="#0a0a0a" filter="url(#bl2)"/>
<rect x="404.8" y="197.3" width="17.69999999999999" height="2.6" rx="1" fill="#7a7a7a" filter="url(#bl)"/>
<rect x="427.5" y="197.3" width="19.5" height="2.6" rx="1" fill="#888" filter="url(#bl)"/>
<rect x="452" y="197.3" width="17" height="2.6" rx="1" fill="#9a9a9a" filter="url(#bl)"/>
<rect x="474" y="197.3" width="16.5" height="2.6" rx="1" fill="#bdbdbd" filter="url(#bl)"/>
<ellipse cx="391.8" cy="221.8" rx="6.8" ry="3.3" fill="#4a4a4a" filter="url(#bl)"/>
<ellipse cx="391.5" cy="222.2" rx="5.0" ry="2.0" fill="#222" filter="url(#bl)"/>
<rect x="402" y="219.2" width="21" height="3.6" rx="1.6" fill="#1e1e1e" filter="url(#bl2)"/>
<rect x="426.5" y="219.39999999999998" width="21.5" height="3.6" rx="1.6" fill="#1e1e1e" filter="url(#bl2)"/>
<rect x="451" y="219.39999999999998" width="18" height="3.6" rx="1.6" fill="#262626" filter="url(#bl2)"/>
<rect x="474" y="220.6" width="17" height="3.6" rx="1.6" fill="#262626" filter="url(#bl2)"/>
<path d="M495.6,199.4 L498.2,198.1 L498.2,200.7 Z" fill="#111"/>
<path d="M495.6,221.8 L498.2,220.5 L498.2,223.1 Z" fill="#111"/>
<text x="501.30" y="201.63" font-size="6.2" font-weight="bold" text-anchor="start" fill="#222" stroke="#222" stroke-width="0.12" textLength="14.70" lengthAdjust="spacingAndGlyphs" >STAT3</text>
<text x="501.30" y="224.03" font-size="6.2" font-weight="bold" text-anchor="start" fill="#222" stroke="#222" stroke-width="0.12" textLength="18.70" lengthAdjust="spacingAndGlyphs" >β-actin</text>
<text x="415.00" y="211.20" font-size="5.4" font-weight="bold" text-anchor="middle" fill="#333" stroke="#333" stroke-width="0.12" >1.0</text>
<text x="437.50" y="211.20" font-size="5.4" font-weight="bold" text-anchor="middle" fill="#333" stroke="#333" stroke-width="0.12" >1.0</text>
<text x="460.00" y="211.20" font-size="5.4" font-weight="bold" text-anchor="middle" fill="#333" stroke="#333" stroke-width="0.12" >0.9</text>
<text x="484.00" y="211.20" font-size="5.4" font-weight="bold" text-anchor="middle" fill="#333" stroke="#333" stroke-width="0.12" >0.5</text>
<text x="497.00" y="210.94" font-size="5.4" font-weight="bold" text-anchor="start" fill="#333" stroke="#333" stroke-width="0.12" textLength="10.00" lengthAdjust="spacingAndGlyphs" >Fold</text>
<text x="388.00" y="237.12" font-size="5.6" font-weight="bold" text-anchor="start" fill="#222" stroke="#222" stroke-width="0.12" textLength="10.50" lengthAdjust="spacingAndGlyphs" >Hela</text>
<text x="407.50" y="237.12" font-size="5.6" font-weight="bold" text-anchor="start" fill="#222" stroke="#222" stroke-width="0.12" textLength="12.50" lengthAdjust="spacingAndGlyphs" >Cont.</text>
<text x="427.00" y="237.12" font-size="5.6" font-weight="bold" text-anchor="start" fill="#222" stroke="#222" stroke-width="0.12" textLength="24.00" lengthAdjust="spacingAndGlyphs" >Polybrene</text>
<text x="454.00" y="237.12" font-size="5.6" font-weight="bold" text-anchor="start" fill="#222" stroke="#222" stroke-width="0.12" textLength="14.80" lengthAdjust="spacingAndGlyphs" >Vector</text>
<text x="476.00" y="237.12" font-size="5.6" font-weight="bold" text-anchor="start" fill="#222" stroke="#222" stroke-width="0.12" textLength="13.00" lengthAdjust="spacingAndGlyphs" >STAT3</text>
<text x="476.00" y="244.22" font-size="5.6" font-weight="bold" text-anchor="start" fill="#222" stroke="#222" stroke-width="0.12" textLength="14.00" lengthAdjust="spacingAndGlyphs" >shRNA</text>
<text x="0.40" y="342.40" font-size="12.4" font-weight="bold" text-anchor="start" fill="#111" stroke="#111" stroke-width="0.1" >E</text>
<text x="35.00" y="355.45" font-size="6.8" font-weight="bold" text-anchor="start" fill="#222" stroke="#222" stroke-width="0.12" textLength="23.00" lengthAdjust="spacingAndGlyphs" >Control</text>
<text x="103.00" y="355.45" font-size="6.8" font-weight="bold" text-anchor="start" fill="#222" stroke="#222" stroke-width="0.12" textLength="19.70" lengthAdjust="spacingAndGlyphs" >Vector</text>
<text x="160.80" y="355.45" font-size="6.8" font-weight="bold" text-anchor="start" fill="#222" stroke="#222" stroke-width="0.12" textLength="41.40" lengthAdjust="spacingAndGlyphs" >STAT3-shRNA</text>
<text x="215.00" y="393.68" font-size="8.0" font-weight="bold" text-anchor="start" fill="#222" stroke="#222" stroke-width="0.12" textLength="29.40" lengthAdjust="spacingAndGlyphs" >48 hours</text>
<text x="215.00" y="456.08" font-size="8.0" font-weight="bold" text-anchor="start" fill="#222" stroke="#222" stroke-width="0.12" textLength="29.40" lengthAdjust="spacingAndGlyphs" >72 hours</text>
<text x="7.80" y="415.80" font-size="6.8" font-weight="bold" text-anchor="middle" fill="#222" stroke="#222" stroke-width="0.12" textLength="11.00" lengthAdjust="spacingAndGlyphs" transform="rotate(-90 7.80 415.80)" >P.I.</text>
<text x="98.40" y="498.88" font-size="8.0" font-weight="bold" text-anchor="start" fill="#222" stroke="#222" stroke-width="0.12" textLength="35.10" lengthAdjust="spacingAndGlyphs" >Annexin V</text>
<path d="M28.9 397.9h.8v.8h-.8zM46.7 378.0h.8v.8h-.8zM47.3 379.6h.8v.8h-.8zM52.4 391.1h.8v.8h-.8zM50.4 379.6h.8v.8h-.8zM49.3 383.2h.8v.8h-.8zM33.6 399.5h.8v.8h-.8zM55.4 386.0h.8v.8h-.8zM51.1 381.6h.8v.8h-.8zM35.3 393.9h.8v.8h-.8zM27.5 403.6h.8v.8h-.8zM47.6 392.9h.8v.8h-.8zM52.0 381.8h.8v.8h-.8zM47.9 382.7h.8v.8h-.8zM50.4 384.9h.8v.8h-.8zM48.3 377.3h.8v.8h-.8zM34.5 389.8h.8v.8h-.8zM42.8 388.1h.8v.8h-.8zM43.5 380.4h.8v.8h-.8zM49.1 375.4h.8v.8h-.8zM56.1 375.5h.8v.8h-.8zM43.3 380.4h.8v.8h-.8zM48.9 390.1h.8v.8h-.8zM54.3 384.3h.8v.8h-.8zM48.3 383.1h.8v.8h-.8zM45.9 388.3h.8v.8h-.8zM41.3 378.9h.8v.8h-.8zM44.2 386.2h.8v.8h-.8zM37.7 401.3h.8v.8h-.8zM48.7 385.8h.8v.8h-.8zM46.3 380.6h.8v.8h-.8zM42.8 380.6h.8v.8h-.8zM43.3 383.9h.8v.8h-.8zM50.1 379.1h.8v.8h-.8zM37.4 396.4h.8v.8h-.8zM34.8 394.5h.8v.8h-.8zM39.1 396.5h.8v.8h-.8zM40.0 386.9h.8v.8h-.8zM44.4 393.4h.8v.8h-.8zM40.3 395.5h.8v.8h-.8zM47.1 387.1h.8v.8h-.8zM50.2 377.7h.8v.8h-.8zM53.2 395.3h.8v.8h-.8zM40.6 393.1h.8v.8h-.8zM52.4 387.2h.8v.8h-.8zM44.5 386.4h.8v.8h-.8zM33.1 403.0h.8v.8h-.8zM50.8 378.3h.8v.8h-.8zM38.1 387.0h.8v.8h-.8zM52.7 391.8h.8v.8h-.8zM30.8 396.4h.8v.8h-.8zM55.0 386.6h.8v.8h-.8zM32.9 393.2h.8v.8h-.8zM45.4 390.6h.8v.8h-.8zM42.8 390.9h.8v.8h-.8zM46.6 378.0h.8v.8h-.8zM44.1 382.6h.8v.8h-.8zM43.0 384.2h.8v.8h-.8zM43.2 388.2h.8v.8h-.8zM33.9 396.8h.8v.8h-.8zM48.6 380.9h.8v.8h-.8zM33.6 398.6h.8v.8h-.8zM38.0 396.8h.8v.8h-.8zM50.5 387.2h.8v.8h-.8zM57.6 381.5h.8v.8h-.8zM50.2 393.8h.8v.8h-.8zM41.0 387.3h.8v.8h-.8zM39.9 390.3h.8v.8h-.8zM42.6 393.1h.8v.8h-.8zM50.2 383.8h.8v.8h-.8zM48.0 381.3h.8v.8h-.8zM28.1 398.9h.8v.8h-.8zM34.9 395.5h.8v.8h-.8zM39.8 387.6h.8v.8h-.8zM41.6 393.9h.8v.8h-.8zM50.4 386.0h.8v.8h-.8zM53.4 370.2h.8v.8h-.8zM31.4 397.2h.8v.8h-.8zM56.4 376.0h.8v.8h-.8zM53.6 380.5h.8v.8h-.8zM44.6 387.8h.8v.8h-.8zM52.7 378.6h.8v.8h-.8zM40.8 385.6h.8v.8h-.8zM51.6 375.3h.8v.8h-.8zM40.7 394.8h.8v.8h-.8zM39.4 385.6h.8v.8h-.8zM36.1 397.8h.8v.8h-.8zM48.7 380.4h.8v.8h-.8zM44.6 386.2h.8v.8h-.8zM39.3 389.1h.8v.8h-.8zM38.8 397.6h.8v.8h-.8zM35.1 402.5h.8v.8h-.8zM52.3 377.6h.8v.8h-.8zM40.4 391.1h.8v.8h-.8zM49.9 385.4h.8v.8h-.8zM33.6 392.8h.8v.8h-.8zM44.1 380.1h.8v.8h-.8zM34.6 398.0h.8v.8h-.8zM51.2 386.8h.8v.8h-.8zM43.6 389.5h.8v.8h-.8zM38.5 382.4h.8v.8h-.8zM35.9 394.6h.8v.8h-.8zM51.4 373.7h.8v.8h-.8zM46.1 378.6h.8v.8h-.8zM45.8 388.9h.8v.8h-.8zM40.4 400.3h.8v.8h-.8zM51.3 376.8h.8v.8h-.8zM48.8 381.9h.8v.8h-.8zM38.3 385.9h.8v.8h-.8zM49.3 373.4h.8v.8h-.8zM50.3 374.7h.8v.8h-.8zM52.0 376.6h.8v.8h-.8zM57.9 374.6h.8v.8h-.8zM47.5 379.5h.8v.8h-.8zM40.9 372.6h.8v.8h-.8zM41.5 394.6h.8v.8h-.8zM45.2 385.1h.8v.8h-.8zM49.3 381.4h.8v.8h-.8zM28.7 397.6h.8v.8h-.8zM41.8 383.4h.8v.8h-.8zM52.7 381.8h.8v.8h-.8zM44.0 389.4h.8v.8h-.8zM48.7 379.8h.8v.8h-.8zM46.1 377.3h.8v.8h-.8zM57.5 376.3h.8v.8h-.8zM41.6 385.3h.8v.8h-.8zM31.3 396.5h.8v.8h-.8zM47.4 383.4h.8v.8h-.8zM34.7 391.4h.8v.8h-.8zM32.2 400.0h.8v.8h-.8zM52.0 380.2h.8v.8h-.8zM57.9 382.4h.8v.8h-.8zM48.7 385.4h.8v.8h-.8zM34.9 399.8h.8v.8h-.8zM35.7 394.1h.8v.8h-.8zM51.1 386.4h.8v.8h-.8zM56.0 381.8h.8v.8h-.8zM29.9 400.7h.8v.8h-.8zM39.9 401.7h.8v.8h-.8zM36.1 392.7h.8v.8h-.8zM52.4 381.8h.8v.8h-.8zM44.7 389.6h.8v.8h-.8zM27.4 398.1h.8v.8h-.8zM39.6 394.9h.8v.8h-.8zM46.3 377.7h.8v.8h-.8zM42.5 385.3h.8v.8h-.8zM45.5 376.1h.8v.8h-.8zM45.0 391.0h.8v.8h-.8zM41.2 388.4h.8v.8h-.8zM43.4 397.5h.8v.8h-.8zM47.4 379.3h.8v.8h-.8zM50.9 372.8h.8v.8h-.8zM55.7 369.7h.8v.8h-.8zM49.8 390.8h.8v.8h-.8zM53.7 374.3h.8v.8h-.8zM34.4 384.4h.8v.8h-.8zM32.7 385.1h.8v.8h-.8zM40.8 395.9h.8v.8h-.8zM38.9 388.6h.8v.8h-.8zM41.3 397.2h.8v.8h-.8zM34.6 398.0h.8v.8h-.8zM43.5 382.1h.8v.8h-.8zM51.4 384.0h.8v.8h-.8zM33.8 390.2h.8v.8h-.8zM40.6 391.4h.8v.8h-.8zM40.9 382.6h.8v.8h-.8zM32.9 396.1h.8v.8h-.8zM54.6 382.0h.8v.8h-.8zM51.6 378.5h.8v.8h-.8zM48.1 377.9h.8v.8h-.8zM52.2 379.8h.8v.8h-.8zM43.1 389.5h.8v.8h-.8zM42.7 380.7h.8v.8h-.8zM44.4 387.7h.8v.8h-.8zM37.0 387.8h.8v.8h-.8zM39.2 383.8h.8v.8h-.8zM36.2 389.8h.8v.8h-.8zM34.6 392.6h.8v.8h-.8zM49.2 381.5h.8v.8h-.8zM42.1 385.6h.8v.8h-.8zM56.4 385.4h.8v.8h-.8zM47.6 372.3h.8v.8h-.8zM38.5 391.8h.8v.8h-.8zM48.8 382.3h.8v.8h-.8zM54.3 383.1h.8v.8h-.8zM47.1 375.1h.8v.8h-.8zM48.1 376.2h.8v.8h-.8zM41.7 397.6h.8v.8h-.8zM41.1 385.2h.8v.8h-.8zM42.4 394.8h.8v.8h-.8zM46.9 387.2h.8v.8h-.8zM49.3 390.0h.8v.8h-.8zM41.5 392.7h.8v.8h-.8zM45.3 394.4h.8v.8h-.8zM26.8 410.2h.8v.8h-.8zM48.2 374.2h.8v.8h-.8zM45.3 376.2h.8v.8h-.8zM45.2 390.4h.8v.8h-.8zM44.2 386.4h.8v.8h-.8zM46.8 392.4h.8v.8h-.8zM44.0 377.0h.8v.8h-.8zM39.7 385.2h.8v.8h-.8zM52.7 388.9h.8v.8h-.8zM35.7 387.8h.8v.8h-.8zM42.3 397.9h.8v.8h-.8zM41.8 381.1h.8v.8h-.8zM51.5 375.5h.8v.8h-.8zM45.1 381.5h.8v.8h-.8zM51.7 380.7h.8v.8h-.8zM38.3 391.8h.8v.8h-.8zM36.5 392.3h.8v.8h-.8zM45.4 383.9h.8v.8h-.8zM45.8 382.2h.8v.8h-.8zM60.9 378.0h.8v.8h-.8zM32.2 397.5h.8v.8h-.8zM36.1 385.9h.8v.8h-.8zM50.7 384.5h.8v.8h-.8zM42.7 393.9h.8v.8h-.8zM55.0 381.6h.8v.8h-.8zM42.3 389.1h.8v.8h-.8zM49.3 381.8h.8v.8h-.8zM46.9 385.8h.8v.8h-.8zM41.7 389.8h.8v.8h-.8zM31.5 394.7h.8v.8h-.8zM48.1 376.2h.8v.8h-.8zM40.5 385.2h.8v.8h-.8zM46.4 398.1h.8v.8h-.8zM51.3 380.5h.8v.8h-.8zM48.4 375.1h.8v.8h-.8zM53.6 372.1h.8v.8h-.8zM51.7 377.2h.8v.8h-.8zM53.9 388.6h.8v.8h-.8zM45.8 376.7h.8v.8h-.8zM44.9 388.6h.8v.8h-.8zM57.0 377.3h.8v.8h-.8zM51.0 383.2h.8v.8h-.8zM46.3 378.2h.8v.8h-.8zM37.8 393.3h.8v.8h-.8zM53.4 379.2h.8v.8h-.8zM44.6 378.4h.8v.8h-.8zM52.8 379.9h.8v.8h-.8zM37.0 397.3h.8v.8h-.8zM46.5 389.4h.8v.8h-.8zM39.5 382.1h.8v.8h-.8zM51.0 382.8h.8v.8h-.8zM31.9 399.7h.8v.8h-.8zM47.0 388.2h.8v.8h-.8zM31.5 400.9h.8v.8h-.8zM35.3 398.4h.8v.8h-.8zM40.1 392.5h.8v.8h-.8zM37.3 396.1h.8v.8h-.8zM38.4 390.9h.8v.8h-.8zM45.6 397.9h.8v.8h-.8zM49.7 374.5h.8v.8h-.8zM53.7 377.3h.8v.8h-.8zM46.5 375.8h.8v.8h-.8zM42.2 381.1h.8v.8h-.8zM40.1 380.8h.8v.8h-.8zM50.3 377.3h.8v.8h-.8zM29.7 398.4h.8v.8h-.8zM41.8 383.9h.8v.8h-.8zM51.6 381.2h.8v.8h-.8zM43.1 396.4h.8v.8h-.8zM50.4 384.8h.8v.8h-.8zM42.9 397.0h.8v.8h-.8zM39.7 399.3h.8v.8h-.8zM48.4 382.8h.8v.8h-.8zM42.4 396.7h.8v.8h-.8zM53.5 391.1h.8v.8h-.8zM43.6 379.0h.8v.8h-.8zM37.9 389.5h.8v.8h-.8zM34.4 402.4h.8v.8h-.8zM36.7 388.2h.8v.8h-.8zM35.8 397.2h.8v.8h-.8zM45.9 382.6h.8v.8h-.8zM33.5 401.1h.8v.8h-.8zM50.0 385.4h.8v.8h-.8zM45.6 382.8h.8v.8h-.8zM38.4 388.4h.8v.8h-.8zM39.6 396.4h.8v.8h-.8zM28.5 393.7h.8v.8h-.8zM44.1 389.0h.8v.8h-.8zM35.0 391.2h.8v.8h-.8zM45.9 389.5h.8v.8h-.8zM43.3 370.4h.8v.8h-.8zM42.7 375.2h.8v.8h-.8zM46.3 391.9h.8v.8h-.8zM36.7 396.2h.8v.8h-.8zM46.1 372.2h.8v.8h-.8zM46.7 374.4h.8v.8h-.8zM30.6 388.0h.8v.8h-.8zM40.9 387.7h.8v.8h-.8zM48.0 379.4h.8v.8h-.8zM39.9 388.3h.8v.8h-.8zM38.9 394.1h.8v.8h-.8zM37.7 391.5h.8v.8h-.8zM53.4 377.1h.8v.8h-.8zM47.0 387.5h.8v.8h-.8zM34.9 395.5h.8v.8h-.8zM39.9 385.1h.8v.8h-.8zM31.1 408.1h.8v.8h-.8zM30.7 410.8h.8v.8h-.8zM33.5 407.5h.8v.8h-.8zM32.3 405.1h.8v.8h-.8zM28.2 413.7h.8v.8h-.8zM30.8 407.1h.8v.8h-.8zM31.1 411.2h.8v.8h-.8zM28.3 403.2h.8v.8h-.8zM31.2 407.7h.8v.8h-.8zM26.8 409.3h.8v.8h-.8zM36.0 412.0h.8v.8h-.8zM35.0 411.0h.8v.8h-.8zM35.3 410.5h.8v.8h-.8zM37.5 410.5h.8v.8h-.8zM22.3 401.3h.8v.8h-.8zM31.1 409.6h.8v.8h-.8zM25.3 411.7h.8v.8h-.8zM31.7 413.9h.8v.8h-.8zM37.1 411.2h.8v.8h-.8zM32.7 402.2h.8v.8h-.8zM30.7 413.2h.8v.8h-.8zM35.9 407.3h.8v.8h-.8zM31.7 401.9h.8v.8h-.8zM36.0 407.2h.8v.8h-.8zM32.7 406.6h.8v.8h-.8zM33.5 407.0h.8v.8h-.8zM30.3 410.3h.8v.8h-.8zM33.6 413.3h.8v.8h-.8zM30.6 406.6h.8v.8h-.8zM33.2 395.8h.8v.8h-.8zM28.7 407.1h.8v.8h-.8zM29.9 413.1h.8v.8h-.8zM40.1 405.8h.8v.8h-.8zM31.4 409.9h.8v.8h-.8zM31.4 402.3h.8v.8h-.8zM28.9 414.6h.8v.8h-.8zM32.9 399.6h.8v.8h-.8zM32.1 412.7h.8v.8h-.8zM35.2 405.2h.8v.8h-.8zM33.4 408.3h.8v.8h-.8zM28.1 403.6h.8v.8h-.8zM29.8 397.3h.8v.8h-.8zM27.3 405.3h.8v.8h-.8zM37.7 402.9h.8v.8h-.8zM35.7 408.8h.8v.8h-.8zM29.2 405.5h.8v.8h-.8zM33.6 407.5h.8v.8h-.8zM41.5 401.3h.8v.8h-.8zM28.4 410.3h.8v.8h-.8zM28.6 405.9h.8v.8h-.8zM39.2 407.3h.8v.8h-.8zM28.1 407.2h.8v.8h-.8zM26.0 404.5h.8v.8h-.8zM31.0 400.3h.8v.8h-.8zM31.8 405.6h.8v.8h-.8zM27.1 408.1h.8v.8h-.8zM32.9 404.4h.8v.8h-.8zM30.3 410.8h.8v.8h-.8zM42.3 399.3h.8v.8h-.8zM28.8 411.4h.8v.8h-.8zM38.7 409.6h.8v.8h-.8zM27.5 408.9h.8v.8h-.8zM45.5 395.3h.8v.8h-.8zM28.4 400.8h.8v.8h-.8zM28.8 399.9h.8v.8h-.8zM21.1 402.7h.8v.8h-.8zM34.7 413.5h.8v.8h-.8zM27.7 408.0h.8v.8h-.8zM31.5 406.2h.8v.8h-.8zM39.3 403.0h.8v.8h-.8zM27.4 413.5h.8v.8h-.8zM40.8 409.8h.8v.8h-.8zM32.1 402.9h.8v.8h-.8zM27.7 411.2h.8v.8h-.8zM25.0 407.2h.8v.8h-.8zM29.2 406.4h.8v.8h-.8zM28.3 396.6h.8v.8h-.8zM37.4 407.3h.8v.8h-.8zM33.9 401.0h.8v.8h-.8zM27.7 399.3h.8v.8h-.8zM30.2 411.3h.8v.8h-.8zM30.3 410.0h.8v.8h-.8zM31.4 407.1h.8v.8h-.8zM28.9 405.0h.8v.8h-.8zM29.6 408.9h.8v.8h-.8zM33.6 404.8h.8v.8h-.8zM40.8 409.6h.8v.8h-.8zM36.1 408.4h.8v.8h-.8zM35.0 407.5h.8v.8h-.8zM24.3 405.9h.8v.8h-.8zM26.3 405.5h.8v.8h-.8zM32.1 406.1h.8v.8h-.8zM30.7 410.0h.8v.8h-.8zM42.6 406.6h.8v.8h-.8zM33.7 413.0h.8v.8h-.8zM31.3 401.9h.8v.8h-.8zM32.0 399.8h.8v.8h-.8zM34.3 408.3h.8v.8h-.8zM32.6 410.6h.8v.8h-.8zM35.2 409.9h.8v.8h-.8zM27.1 409.4h.8v.8h-.8zM35.3 412.4h.8v.8h-.8zM29.2 404.9h.8v.8h-.8zM39.4 406.9h.8v.8h-.8zM37.5 405.8h.8v.8h-.8zM32.3 401.1h.8v.8h-.8zM35.5 405.3h.8v.8h-.8zM22.7 413.2h.8v.8h-.8zM32.0 412.2h.8v.8h-.8zM31.9 408.9h.8v.8h-.8zM32.6 407.3h.8v.8h-.8zM26.1 405.7h.8v.8h-.8zM41.7 397.4h.8v.8h-.8zM30.8 402.3h.8v.8h-.8zM34.7 405.8h.8v.8h-.8zM29.2 404.6h.8v.8h-.8zM33.6 406.8h.8v.8h-.8zM28.8 405.4h.8v.8h-.8zM35.0 406.6h.8v.8h-.8zM31.9 406.9h.8v.8h-.8zM32.2 411.8h.8v.8h-.8zM26.3 401.5h.8v.8h-.8zM29.4 408.2h.8v.8h-.8zM30.7 409.5h.8v.8h-.8zM35.2 403.7h.8v.8h-.8zM24.3 409.3h.8v.8h-.8zM28.1 403.5h.8v.8h-.8zM26.5 411.0h.8v.8h-.8zM39.8 409.3h.8v.8h-.8zM31.2 411.2h.8v.8h-.8zM43.9 412.0h.8v.8h-.8zM30.8 407.9h.8v.8h-.8zM40.9 407.1h.8v.8h-.8zM33.1 405.3h.8v.8h-.8zM24.5 404.7h.8v.8h-.8zM29.8 401.1h.8v.8h-.8zM40.0 402.0h.8v.8h-.8zM30.3 405.6h.8v.8h-.8zM26.2 406.6h.8v.8h-.8zM21.0 411.7h.8v.8h-.8zM22.2 405.6h.8v.8h-.8zM38.8 402.5h.8v.8h-.8zM38.0 410.5h.8v.8h-.8zM27.0 413.3h.8v.8h-.8zM32.5 407.8h.8v.8h-.8zM29.5 401.3h.8v.8h-.8zM30.6 405.8h.8v.8h-.8zM26.2 399.5h.8v.8h-.8zM36.0 403.2h.8v.8h-.8zM40.2 404.5h.8v.8h-.8zM29.8 408.1h.8v.8h-.8zM24.8 411.3h.8v.8h-.8zM33.0 411.7h.8v.8h-.8zM27.5 414.2h.8v.8h-.8zM29.4 412.8h.8v.8h-.8zM25.7 412.0h.8v.8h-.8zM34.1 406.8h.8v.8h-.8zM32.8 410.4h.8v.8h-.8zM34.6 414.6h.8v.8h-.8zM30.6 413.0h.8v.8h-.8zM36.2 411.4h.8v.8h-.8zM29.7 414.4h.8v.8h-.8zM30.5 409.1h.8v.8h-.8zM28.3 407.9h.8v.8h-.8zM37.6 407.8h.8v.8h-.8zM25.6 402.6h.8v.8h-.8zM31.8 406.3h.8v.8h-.8zM28.3 409.8h.8v.8h-.8zM36.4 402.3h.8v.8h-.8zM32.6 413.3h.8v.8h-.8zM35.1 401.4h.8v.8h-.8zM27.6 403.2h.8v.8h-.8zM42.4 406.9h.8v.8h-.8zM20.2 412.3h.8v.8h-.8zM34.9 403.8h.8v.8h-.8zM30.8 407.9h.8v.8h-.8zM33.0 405.6h.8v.8h-.8zM35.0 406.1h.8v.8h-.8zM27.6 406.3h.8v.8h-.8zM30.9 402.4h.8v.8h-.8zM27.4 401.9h.8v.8h-.8zM36.5 407.2h.8v.8h-.8zM36.1 407.6h.8v.8h-.8zM33.8 407.7h.8v.8h-.8zM35.7 408.2h.8v.8h-.8zM30.0 406.3h.8v.8h-.8zM24.1 410.8h.8v.8h-.8zM27.5 406.1h.8v.8h-.8zM30.3 398.0h.8v.8h-.8zM36.4 405.2h.8v.8h-.8zM31.9 400.4h.8v.8h-.8zM30.6 410.2h.8v.8h-.8zM31.4 406.3h.8v.8h-.8zM48.4 410.6h.8v.8h-.8zM27.2 406.5h.8v.8h-.8zM28.7 407.7h.8v.8h-.8zM34.7 411.4h.8v.8h-.8zM31.1 398.5h.8v.8h-.8zM36.5 408.6h.8v.8h-.8zM32.7 402.1h.8v.8h-.8zM36.0 404.7h.8v.8h-.8zM27.3 399.5h.8v.8h-.8zM29.5 407.4h.8v.8h-.8zM34.4 408.2h.8v.8h-.8zM21.7 401.6h.8v.8h-.8zM34.2 411.7h.8v.8h-.8zM35.8 408.7h.8v.8h-.8zM32.0 408.2h.8v.8h-.8zM29.0 399.9h.8v.8h-.8zM40.4 403.0h.8v.8h-.8zM29.0 404.8h.8v.8h-.8zM33.1 403.5h.8v.8h-.8zM42.8 406.7h.8v.8h-.8zM35.5 409.6h.8v.8h-.8zM24.8 414.3h.8v.8h-.8zM30.8 400.9h.8v.8h-.8zM31.9 402.3h.8v.8h-.8zM31.4 409.9h.8v.8h-.8zM32.4 403.1h.8v.8h-.8zM29.1 409.0h.8v.8h-.8zM35.3 407.2h.8v.8h-.8zM36.5 407.9h.8v.8h-.8zM32.2 411.2h.8v.8h-.8zM40.8 410.8h.8v.8h-.8zM23.9 409.7h.8v.8h-.8zM30.8 406.2h.8v.8h-.8zM34.1 404.3h.8v.8h-.8zM33.4 403.2h.8v.8h-.8zM31.3 408.8h.8v.8h-.8zM34.2 408.9h.8v.8h-.8zM22.3 406.2h.8v.8h-.8zM40.7 412.1h.8v.8h-.8zM30.7 409.9h.8v.8h-.8zM32.7 406.2h.8v.8h-.8zM24.8 408.5h.8v.8h-.8zM25.5 407.2h.8v.8h-.8zM30.2 405.9h.8v.8h-.8zM32.8 408.0h.8v.8h-.8zM36.5 408.7h.8v.8h-.8zM28.9 408.2h.8v.8h-.8zM28.1 402.9h.8v.8h-.8zM23.9 406.1h.8v.8h-.8zM34.7 407.5h.8v.8h-.8zM36.0 406.2h.8v.8h-.8zM28.9 403.9h.8v.8h-.8zM42.6 403.2h.8v.8h-.8zM32.7 408.5h.8v.8h-.8zM27.2 406.5h.8v.8h-.8zM30.1 400.9h.8v.8h-.8zM35.7 401.3h.8v.8h-.8zM31.2 406.4h.8v.8h-.8zM23.9 407.8h.8v.8h-.8zM27.3 401.3h.8v.8h-.8zM21.1 402.1h.8v.8h-.8zM26.0 397.8h.8v.8h-.8zM33.4 406.1h.8v.8h-.8zM34.4 406.3h.8v.8h-.8zM25.3 400.1h.8v.8h-.8zM31.0 413.9h.8v.8h-.8zM23.2 404.5h.8v.8h-.8zM32.9 404.5h.8v.8h-.8zM37.6 413.8h.8v.8h-.8zM39.8 413.7h.8v.8h-.8zM38.1 407.7h.8v.8h-.8zM32.6 405.4h.8v.8h-.8zM26.1 408.9h.8v.8h-.8zM28.9 412.7h.8v.8h-.8zM32.7 409.1h.8v.8h-.8zM34.9 414.6h.8v.8h-.8zM34.7 404.9h.8v.8h-.8zM36.5 408.9h.8v.8h-.8zM21.5 396.3h.8v.8h-.8zM28.6 411.5h.8v.8h-.8zM32.5 405.3h.8v.8h-.8zM41.8 401.9h.8v.8h-.8zM34.9 403.8h.8v.8h-.8zM32.6 400.8h.8v.8h-.8zM32.9 403.8h.8v.8h-.8zM37.2 401.8h.8v.8h-.8zM23.8 409.9h.8v.8h-.8zM25.2 414.3h.8v.8h-.8zM35.0 401.7h.8v.8h-.8zM27.2 404.8h.8v.8h-.8zM28.5 403.0h.8v.8h-.8zM29.1 409.5h.8v.8h-.8zM26.0 405.8h.8v.8h-.8zM31.9 407.5h.8v.8h-.8zM42.5 409.5h.8v.8h-.8zM36.1 406.0h.8v.8h-.8zM36.2 401.7h.8v.8h-.8zM35.4 411.0h.8v.8h-.8zM36.1 409.4h.8v.8h-.8zM25.5 403.2h.8v.8h-.8zM36.4 402.8h.8v.8h-.8zM37.0 406.3h.8v.8h-.8zM23.4 403.3h.8v.8h-.8zM37.6 411.7h.8v.8h-.8zM23.2 406.5h.8v.8h-.8zM28.1 409.2h.8v.8h-.8zM31.0 407.5h.8v.8h-.8zM39.3 402.5h.8v.8h-.8zM32.3 402.4h.8v.8h-.8zM40.3 411.2h.8v.8h-.8zM28.9 404.4h.8v.8h-.8zM37.8 403.9h.8v.8h-.8zM43.2 408.6h.8v.8h-.8zM39.0 405.2h.8v.8h-.8zM32.2 411.0h.8v.8h-.8zM30.4 410.1h.8v.8h-.8zM30.2 408.6h.8v.8h-.8zM25.2 401.7h.8v.8h-.8zM30.7 410.4h.8v.8h-.8zM34.4 406.4h.8v.8h-.8zM27.2 410.0h.8v.8h-.8zM39.5 409.8h.8v.8h-.8zM25.5 402.2h.8v.8h-.8zM27.7 401.2h.8v.8h-.8zM24.8 407.6h.8v.8h-.8zM27.3 408.0h.8v.8h-.8zM35.9 407.4h.8v.8h-.8zM31.7 410.2h.8v.8h-.8zM35.8 408.6h.8v.8h-.8zM35.4 406.5h.8v.8h-.8zM35.9 402.4h.8v.8h-.8zM29.1 410.9h.8v.8h-.8zM27.9 405.0h.8v.8h-.8zM39.0 407.3h.8v.8h-.8zM34.8 408.1h.8v.8h-.8zM33.1 406.5h.8v.8h-.8zM35.6 410.8h.8v.8h-.8zM36.1 405.7h.8v.8h-.8zM25.8 413.0h.8v.8h-.8zM27.5 400.9h.8v.8h-.8zM30.5 410.3h.8v.8h-.8zM33.9 404.6h.8v.8h-.8zM31.0 399.3h.8v.8h-.8zM29.3 412.6h.8v.8h-.8zM31.7 413.7h.8v.8h-.8zM36.0 409.6h.8v.8h-.8zM25.6 403.8h.8v.8h-.8zM26.3 404.6h.8v.8h-.8zM31.0 406.9h.8v.8h-.8zM37.5 394.6h.8v.8h-.8zM30.2 398.1h.8v.8h-.8zM35.2 406.7h.8v.8h-.8zM37.0 407.6h.8v.8h-.8zM31.3 412.3h.8v.8h-.8zM28.8 411.3h.8v.8h-.8zM36.0 401.6h.8v.8h-.8zM30.3 398.2h.8v.8h-.8zM30.0 406.5h.8v.8h-.8zM24.7 405.4h.8v.8h-.8zM35.9 408.0h.8v.8h-.8zM36.3 403.3h.8v.8h-.8zM32.8 411.4h.8v.8h-.8zM21.6 407.0h.8v.8h-.8zM37.6 409.2h.8v.8h-.8zM32.8 409.8h.8v.8h-.8zM37.9 408.5h.8v.8h-.8zM24.5 412.9h.8v.8h-.8zM34.3 409.0h.8v.8h-.8zM32.8 412.6h.8v.8h-.8zM26.9 411.0h.8v.8h-.8zM32.7 398.8h.8v.8h-.8zM26.0 402.8h.8v.8h-.8zM34.1 401.5h.8v.8h-.8zM38.4 404.9h.8v.8h-.8zM37.5 406.1h.8v.8h-.8zM27.9 409.9h.8v.8h-.8zM25.1 405.8h.8v.8h-.8zM23.9 408.1h.8v.8h-.8zM23.1 410.4h.8v.8h-.8zM32.6 410.5h.8v.8h-.8zM36.2 405.9h.8v.8h-.8zM31.3 412.3h.8v.8h-.8zM35.0 407.6h.8v.8h-.8zM26.0 407.1h.8v.8h-.8zM37.4 409.0h.8v.8h-.8zM26.3 404.6h.8v.8h-.8zM39.8 413.0h.8v.8h-.8zM28.3 399.9h.8v.8h-.8zM34.2 409.3h.8v.8h-.8zM31.4 407.4h.8v.8h-.8zM32.5 404.3h.8v.8h-.8zM29.7 401.2h.8v.8h-.8zM35.6 406.3h.8v.8h-.8zM38.2 407.1h.8v.8h-.8zM44.1 409.4h.8v.8h-.8zM22.8 402.4h.8v.8h-.8zM25.1 403.8h.8v.8h-.8zM21.0 408.0h.8v.8h-.8zM33.4 402.0h.8v.8h-.8zM29.3 405.2h.8v.8h-.8zM30.7 410.5h.8v.8h-.8zM31.0 411.4h.8v.8h-.8zM33.2 401.4h.8v.8h-.8zM25.5 399.2h.8v.8h-.8zM25.5 405.3h.8v.8h-.8zM26.6 407.3h.8v.8h-.8zM35.9 403.8h.8v.8h-.8zM32.2 396.8h.8v.8h-.8zM30.4 401.4h.8v.8h-.8zM29.6 406.4h.8v.8h-.8zM37.2 402.8h.8v.8h-.8zM27.9 413.3h.8v.8h-.8zM37.1 411.8h.8v.8h-.8zM44.0 403.6h.8v.8h-.8zM34.0 404.8h.8v.8h-.8zM28.3 407.9h.8v.8h-.8zM39.3 403.7h.8v.8h-.8zM36.5 407.1h.8v.8h-.8zM23.0 410.5h.8v.8h-.8zM28.4 406.4h.8v.8h-.8zM33.1 408.2h.8v.8h-.8zM35.0 407.7h.8v.8h-.8zM28.4 412.7h.8v.8h-.8zM33.7 407.5h.8v.8h-.8zM32.9 407.7h.8v.8h-.8zM32.7 400.8h.8v.8h-.8zM27.6 411.2h.8v.8h-.8zM34.1 405.3h.8v.8h-.8zM34.7 405.9h.8v.8h-.8zM33.2 397.7h.8v.8h-.8zM35.8 408.7h.8v.8h-.8zM29.6 407.2h.8v.8h-.8zM33.1 404.0h.8v.8h-.8zM39.5 408.8h.8v.8h-.8zM20.7 410.7h.8v.8h-.8zM41.7 404.2h.8v.8h-.8zM36.9 408.6h.8v.8h-.8zM38.1 404.2h.8v.8h-.8zM25.8 408.0h.8v.8h-.8zM42.3 402.5h.8v.8h-.8zM20.8 403.2h.8v.8h-.8zM32.0 396.1h.8v.8h-.8zM26.6 406.3h.8v.8h-.8zM29.2 406.0h.8v.8h-.8zM33.8 407.4h.8v.8h-.8zM29.8 407.8h.8v.8h-.8zM34.4 403.6h.8v.8h-.8zM28.1 408.3h.8v.8h-.8zM34.9 398.4h.8v.8h-.8zM40.3 405.2h.8v.8h-.8zM31.4 409.7h.8v.8h-.8zM32.3 409.3h.8v.8h-.8zM31.2 410.1h.8v.8h-.8zM31.3 412.6h.8v.8h-.8zM32.4 409.4h.8v.8h-.8zM32.0 401.2h.8v.8h-.8zM39.7 411.9h.8v.8h-.8zM37.8 403.9h.8v.8h-.8zM31.6 407.2h.8v.8h-.8zM32.1 410.1h.8v.8h-.8zM30.9 402.8h.8v.8h-.8zM24.8 399.8h.8v.8h-.8zM39.3 407.6h.8v.8h-.8zM25.4 411.6h.8v.8h-.8zM38.7 403.3h.8v.8h-.8zM32.1 404.2h.8v.8h-.8zM32.8 412.7h.8v.8h-.8zM32.3 403.5h.8v.8h-.8zM32.7 398.4h.8v.8h-.8zM41.3 402.9h.8v.8h-.8zM39.5 408.4h.8v.8h-.8zM24.2 404.4h.8v.8h-.8zM29.5 405.5h.8v.8h-.8zM36.5 406.2h.8v.8h-.8zM35.0 406.0h.8v.8h-.8zM30.8 400.2h.8v.8h-.8zM38.7 408.3h.8v.8h-.8zM32.4 410.5h.8v.8h-.8zM27.7 411.3h.8v.8h-.8zM29.4 403.3h.8v.8h-.8zM26.2 397.3h.8v.8h-.8zM28.3 402.9h.8v.8h-.8zM31.7 405.3h.8v.8h-.8zM36.3 401.4h.8v.8h-.8zM30.1 398.4h.8v.8h-.8zM40.2 408.1h.8v.8h-.8zM27.8 406.7h.8v.8h-.8zM34.9 407.5h.8v.8h-.8zM32.9 410.3h.8v.8h-.8zM29.8 413.6h.8v.8h-.8zM34.7 406.9h.8v.8h-.8zM28.7 410.5h.8v.8h-.8zM29.0 404.5h.8v.8h-.8zM29.0 411.2h.8v.8h-.8zM27.6 411.1h.8v.8h-.8zM37.4 407.4h.8v.8h-.8zM27.3 403.6h.8v.8h-.8zM30.2 407.5h.8v.8h-.8zM29.4 405.2h.8v.8h-.8zM30.8 410.2h.8v.8h-.8zM27.8 403.6h.8v.8h-.8zM30.2 396.6h.8v.8h-.8zM28.9 401.1h.8v.8h-.8zM29.1 410.6h.8v.8h-.8zM36.7 396.3h.8v.8h-.8zM28.3 404.8h.8v.8h-.8zM31.5 412.7h.8v.8h-.8zM24.7 400.9h.8v.8h-.8zM28.1 412.5h.8v.8h-.8zM31.5 400.6h.8v.8h-.8zM33.6 402.9h.8v.8h-.8zM33.8 411.1h.8v.8h-.8zM35.2 412.8h.8v.8h-.8zM34.0 407.7h.8v.8h-.8zM29.7 403.5h.8v.8h-.8zM37.0 404.3h.8v.8h-.8zM28.1 408.5h.8v.8h-.8zM29.9 410.3h.8v.8h-.8zM31.4 405.2h.8v.8h-.8zM28.3 405.4h.8v.8h-.8zM31.1 408.0h.8v.8h-.8zM32.5 406.1h.8v.8h-.8zM29.6 407.7h.8v.8h-.8zM36.7 402.2h.8v.8h-.8zM29.9 409.6h.8v.8h-.8zM25.5 406.4h.8v.8h-.8zM36.5 403.9h.8v.8h-.8zM25.9 402.6h.8v.8h-.8zM36.5 414.3h.8v.8h-.8zM28.1 401.6h.8v.8h-.8zM39.0 412.8h.8v.8h-.8zM35.5 405.6h.8v.8h-.8zM32.2 406.2h.8v.8h-.8zM37.8 397.8h.8v.8h-.8zM31.8 409.5h.8v.8h-.8zM28.7 397.6h.8v.8h-.8zM29.7 405.3h.8v.8h-.8zM27.9 393.4h.8v.8h-.8zM30.9 413.3h.8v.8h-.8zM31.3 412.0h.8v.8h-.8zM25.2 414.0h.8v.8h-.8zM26.7 403.5h.8v.8h-.8zM31.9 412.7h.8v.8h-.8zM33.5 394.8h.8v.8h-.8zM25.6 412.4h.8v.8h-.8zM30.7 403.4h.8v.8h-.8zM37.6 409.3h.8v.8h-.8zM32.8 406.2h.8v.8h-.8zM27.0 407.1h.8v.8h-.8zM26.0 403.4h.8v.8h-.8zM31.6 413.8h.8v.8h-.8zM30.9 413.9h.8v.8h-.8zM36.5 406.2h.8v.8h-.8zM35.9 409.4h.8v.8h-.8zM32.1 404.2h.8v.8h-.8zM23.0 413.8h.8v.8h-.8zM32.5 403.6h.8v.8h-.8zM24.3 403.3h.8v.8h-.8zM35.2 403.5h.8v.8h-.8zM36.4 404.6h.8v.8h-.8zM39.9 403.4h.8v.8h-.8zM20.6 414.0h.8v.8h-.8zM39.1 404.7h.8v.8h-.8zM28.0 406.3h.8v.8h-.8zM35.3 409.2h.8v.8h-.8zM31.2 401.4h.8v.8h-.8zM35.5 410.3h.8v.8h-.8zM40.8 401.6h.8v.8h-.8zM25.9 410.2h.8v.8h-.8zM32.4 406.3h.8v.8h-.8zM29.9 407.2h.8v.8h-.8zM27.1 402.0h.8v.8h-.8zM24.7 408.0h.8v.8h-.8zM42.5 408.1h.8v.8h-.8zM28.9 413.0h.8v.8h-.8zM30.2 409.3h.8v.8h-.8zM42.8 404.5h.8v.8h-.8zM28.8 404.8h.8v.8h-.8zM33.1 413.1h.8v.8h-.8zM22.0 408.1h.8v.8h-.8zM41.4 404.1h.8v.8h-.8zM34.8 401.4h.8v.8h-.8zM34.3 400.0h.8v.8h-.8zM30.3 406.4h.8v.8h-.8zM36.4 406.4h.8v.8h-.8zM28.1 405.2h.8v.8h-.8zM30.8 412.6h.8v.8h-.8zM31.5 406.9h.8v.8h-.8zM28.5 400.0h.8v.8h-.8zM31.7 409.7h.8v.8h-.8zM27.8 401.2h.8v.8h-.8zM38.8 409.0h.8v.8h-.8zM35.4 411.6h.8v.8h-.8zM26.3 409.4h.8v.8h-.8zM34.4 406.7h.8v.8h-.8zM34.7 410.2h.8v.8h-.8zM22.2 411.7h.8v.8h-.8zM35.2 406.5h.8v.8h-.8zM31.3 409.2h.8v.8h-.8zM31.6 414.4h.8v.8h-.8zM31.4 410.9h.8v.8h-.8zM28.6 399.8h.8v.8h-.8zM41.5 404.3h.8v.8h-.8zM27.2 414.2h.8v.8h-.8zM28.1 410.2h.8v.8h-.8zM30.3 410.2h.8v.8h-.8zM35.2 400.1h.8v.8h-.8zM24.6 398.5h.8v.8h-.8zM21.0 411.8h.8v.8h-.8zM38.7 406.2h.8v.8h-.8zM32.3 413.0h.8v.8h-.8zM28.1 402.0h.8v.8h-.8zM21.3 411.0h.8v.8h-.8zM28.0 404.9h.8v.8h-.8zM27.9 401.5h.8v.8h-.8zM29.8 412.2h.8v.8h-.8zM31.2 405.3h.8v.8h-.8zM29.8 405.3h.8v.8h-.8zM30.7 412.4h.8v.8h-.8zM34.0 406.1h.8v.8h-.8zM34.4 401.6h.8v.8h-.8zM32.4 410.5h.8v.8h-.8zM32.5 409.7h.8v.8h-.8zM31.2 408.9h.8v.8h-.8zM33.6 408.5h.8v.8h-.8zM29.4 404.0h.8v.8h-.8zM38.6 404.0h.8v.8h-.8zM28.0 406.8h.8v.8h-.8zM35.6 407.6h.8v.8h-.8zM33.8 409.6h.8v.8h-.8zM24.1 408.9h.8v.8h-.8zM35.9 405.9h.8v.8h-.8zM34.7 412.2h.8v.8h-.8zM27.4 411.5h.8v.8h-.8zM30.0 406.2h.8v.8h-.8zM32.6 408.7h.8v.8h-.8zM36.5 411.5h.8v.8h-.8zM30.0 400.4h.8v.8h-.8zM34.8 408.2h.8v.8h-.8zM24.6 409.9h.8v.8h-.8zM23.7 408.7h.8v.8h-.8zM28.1 408.2h.8v.8h-.8zM37.7 408.8h.8v.8h-.8zM33.2 405.3h.8v.8h-.8zM42.1 401.1h.8v.8h-.8zM33.2 407.6h.8v.8h-.8zM36.9 403.9h.8v.8h-.8zM31.5 412.0h.8v.8h-.8zM30.7 407.9h.8v.8h-.8zM37.0 403.7h.8v.8h-.8zM34.2 407.4h.8v.8h-.8zM35.4 410.0h.8v.8h-.8zM31.2 409.2h.8v.8h-.8zM39.0 411.7h.8v.8h-.8zM32.4 403.9h.8v.8h-.8zM22.5 407.7h.8v.8h-.8zM28.3 413.6h.8v.8h-.8zM24.4 405.4h.8v.8h-.8zM32.0 408.3h.8v.8h-.8zM37.4 403.5h.8v.8h-.8zM32.2 403.6h.8v.8h-.8zM44.5 372.0h.8v.8h-.8zM58.2 372.8h.8v.8h-.8zM44.7 373.9h.8v.8h-.8zM58.2 373.2h.8v.8h-.8zM57.0 370.8h.8v.8h-.8zM51.7 372.7h.8v.8h-.8zM52.6 372.4h.8v.8h-.8zM57.5 372.6h.8v.8h-.8zM57.2 370.9h.8v.8h-.8zM56.4 373.5h.8v.8h-.8zM59.5 369.6h.8v.8h-.8zM57.0 373.9h.8v.8h-.8zM51.5 374.2h.8v.8h-.8zM41.9 370.7h.8v.8h-.8zM44.9 375.2h.8v.8h-.8zM49.2 372.1h.8v.8h-.8zM58.8 373.8h.8v.8h-.8zM47.4 372.7h.8v.8h-.8zM51.9 373.0h.8v.8h-.8zM56.7 373.8h.8v.8h-.8zM48.1 374.1h.8v.8h-.8zM48.5 372.2h.8v.8h-.8zM58.8 370.6h.8v.8h-.8zM49.7 372.8h.8v.8h-.8zM45.2 374.2h.8v.8h-.8zM54.8 371.0h.8v.8h-.8zM52.4 373.4h.8v.8h-.8zM46.6 374.4h.8v.8h-.8zM50.6 369.3h.8v.8h-.8zM47.1 373.4h.8v.8h-.8zM48.1 375.1h.8v.8h-.8zM48.5 374.1h.8v.8h-.8zM47.0 372.2h.8v.8h-.8zM58.3 372.6h.8v.8h-.8zM45.8 371.8h.8v.8h-.8zM56.0 372.4h.8v.8h-.8zM55.2 371.7h.8v.8h-.8zM50.9 372.1h.8v.8h-.8zM58.7 371.6h.8v.8h-.8zM56.8 373.7h.8v.8h-.8zM44.6 373.3h.8v.8h-.8zM49.2 372.3h.8v.8h-.8zM58.2 372.9h.8v.8h-.8zM53.9 371.0h.8v.8h-.8zM48.7 372.9h.8v.8h-.8zM47.0 373.5h.8v.8h-.8zM44.9 374.4h.8v.8h-.8zM43.3 373.8h.8v.8h-.8zM45.7 375.5h.8v.8h-.8zM48.9 372.3h.8v.8h-.8zM47.1 374.8h.8v.8h-.8zM47.7 374.2h.8v.8h-.8zM50.4 374.5h.8v.8h-.8zM51.4 372.3h.8v.8h-.8zM56.4 376.5h.8v.8h-.8zM60.0 372.1h.8v.8h-.8zM42.6 373.7h.8v.8h-.8zM57.9 375.1h.8v.8h-.8zM51.7 370.8h.8v.8h-.8zM51.3 373.5h.8v.8h-.8zM54.8 371.3h.8v.8h-.8zM44.2 372.7h.8v.8h-.8zM54.5 374.5h.8v.8h-.8zM58.8 370.6h.8v.8h-.8zM47.9 372.9h.8v.8h-.8zM49.3 371.9h.8v.8h-.8zM46.8 375.6h.8v.8h-.8zM50.7 373.4h.8v.8h-.8zM53.0 371.5h.8v.8h-.8zM57.3 373.3h.8v.8h-.8zM51.5 371.3h.8v.8h-.8zM48.8 375.0h.8v.8h-.8zM48.9 374.5h.8v.8h-.8zM54.6 373.8h.8v.8h-.8zM47.9 372.4h.8v.8h-.8zM59.9 373.2h.8v.8h-.8zM56.8 372.7h.8v.8h-.8zM45.6 373.8h.8v.8h-.8zM49.3 374.4h.8v.8h-.8zM57.8 373.1h.8v.8h-.8zM47.7 373.9h.8v.8h-.8zM47.2 375.1h.8v.8h-.8zM48.7 372.0h.8v.8h-.8zM51.1 373.7h.8v.8h-.8zM55.9 371.8h.8v.8h-.8zM52.7 375.7h.8v.8h-.8zM43.2 374.3h.8v.8h-.8zM59.4 373.2h.8v.8h-.8zM56.1 369.6h.8v.8h-.8zM59.8 373.6h.8v.8h-.8zM46.6 376.2h.8v.8h-.8zM47.1 375.5h.8v.8h-.8zM54.7 371.2h.8v.8h-.8zM51.1 375.0h.8v.8h-.8zM46.3 372.5h.8v.8h-.8zM50.8 373.2h.8v.8h-.8zM46.7 373.9h.8v.8h-.8zM54.2 370.4h.8v.8h-.8zM46.6 373.4h.8v.8h-.8zM58.5 371.5h.8v.8h-.8zM56.1 374.0h.8v.8h-.8zM56.7 373.3h.8v.8h-.8zM52.2 371.2h.8v.8h-.8zM47.7 373.6h.8v.8h-.8zM58.4 371.3h.8v.8h-.8zM47.1 373.5h.8v.8h-.8zM47.1 373.0h.8v.8h-.8zM53.5 371.5h.8v.8h-.8zM45.0 377.7h.8v.8h-.8zM49.7 371.9h.8v.8h-.8zM53.2 372.6h.8v.8h-.8zM56.3 371.2h.8v.8h-.8zM43.9 376.0h.8v.8h-.8zM46.5 375.6h.8v.8h-.8zM50.2 375.8h.8v.8h-.8zM49.0 374.5h.8v.8h-.8zM54.8 370.9h.8v.8h-.8zM45.1 375.9h.8v.8h-.8zM43.6 373.0h.8v.8h-.8zM51.9 372.5h.8v.8h-.8z" fill="#c81212" fill-opacity="0.7"/>
<path d="M20.1,403.9 L32.0,403.7 Q36.5,405.5 36.5,412.5 L35.0,414.7 L20.1,414.7 Z" fill="#e8161c" opacity="1" filter="url(#bl4)"/>
<rect x="20.0" y="405.0" width="12.5" height="9.7" fill="#e8161c" filter="url(#bl2)"/>
<path d="M43.0,372.3 Q51.2,371.0 59.5,371.3 L59.5,372.4 Q51.2,374.6 43.0,375.9 Z" fill="#e01a1a" filter="url(#bl2)"/>
<path d="M44.0,373.4 Q51.2,372.1 56.5,371.8 Q51.2,373.5 44.0,374.8 Z" fill="#b81014" filter="url(#bl2)"/>
<rect x="19.50" y="361.50" width="55.00" height="54.00" fill="none" stroke="#555" stroke-width="0.75" />
<line x1="33.50" y1="361.50" x2="33.50" y2="415.50" stroke="#666" stroke-width="0.65" />
<line x1="19.50" y1="402.50" x2="74.50" y2="402.50" stroke="#666" stroke-width="0.65" />
<text x="62.10" y="368.48" font-size="6.6" font-weight="bold" text-anchor="start" fill="#222" stroke="#222" stroke-width="0.12" textLength="10.80" lengthAdjust="spacingAndGlyphs" >20%</text>
<text x="62.10" y="413.28" font-size="6.6" font-weight="bold" text-anchor="start" fill="#222" stroke="#222" stroke-width="0.12" textLength="10.80" lengthAdjust="spacingAndGlyphs" >11%</text>
<line x1="18.50" y1="415.50" x2="19.50" y2="415.50" stroke="#555" stroke-width="0.4" />
<text x="17.70" y="416.40" font-size="2.6" font-weight="bold" text-anchor="end" fill="#444" >10</text>
<line x1="18.50" y1="402.00" x2="19.50" y2="402.00" stroke="#555" stroke-width="0.4" />
<text x="17.70" y="402.90" font-size="2.6" font-weight="bold" text-anchor="end" fill="#444" >10</text>
<line x1="18.50" y1="388.50" x2="19.50" y2="388.50" stroke="#555" stroke-width="0.4" />
<text x="17.70" y="389.40" font-size="2.6" font-weight="bold" text-anchor="end" fill="#444" >10</text>
<line x1="18.50" y1="375.00" x2="19.50" y2="375.00" stroke="#555" stroke-width="0.4" />
<text x="17.70" y="375.90" font-size="2.6" font-weight="bold" text-anchor="end" fill="#444" >10</text>
<line x1="18.50" y1="361.50" x2="19.50" y2="361.50" stroke="#555" stroke-width="0.4" />
<text x="17.70" y="362.40" font-size="2.6" font-weight="bold" text-anchor="end" fill="#444" >10</text>
<line x1="19.50" y1="415.50" x2="19.50" y2="416.50" stroke="#555" stroke-width="0.4" />
<text x="19.50" y="418.50" font-size="2.6" font-weight="bold" text-anchor="middle" fill="#444" transform="rotate(-45 19.50 418.50)" >10</text>
<line x1="33.25" y1="415.50" x2="33.25" y2="416.50" stroke="#555" stroke-width="0.4" />
<text x="33.25" y="418.50" font-size="2.6" font-weight="bold" text-anchor="middle" fill="#444" transform="rotate(-45 33.25 418.50)" >10</text>
<line x1="47.00" y1="415.50" x2="47.00" y2="416.50" stroke="#555" stroke-width="0.4" />
<text x="47.00" y="418.50" font-size="2.6" font-weight="bold" text-anchor="middle" fill="#444" transform="rotate(-45 47.00 418.50)" >10</text>
<line x1="60.75" y1="415.50" x2="60.75" y2="416.50" stroke="#555" stroke-width="0.4" />
<text x="60.75" y="418.50" font-size="2.6" font-weight="bold" text-anchor="middle" fill="#444" transform="rotate(-45 60.75 418.50)" >10</text>
<line x1="74.50" y1="415.50" x2="74.50" y2="416.50" stroke="#555" stroke-width="0.4" />
<text x="74.50" y="418.50" font-size="2.6" font-weight="bold" text-anchor="middle" fill="#444" transform="rotate(-45 74.50 418.50)" >10</text>
<path d="M116.3 393.4h.8v.8h-.8zM114.0 378.0h.8v.8h-.8zM105.4 395.5h.8v.8h-.8zM117.6 391.6h.8v.8h-.8zM102.6 397.4h.8v.8h-.8zM113.1 382.9h.8v.8h-.8zM103.9 386.4h.8v.8h-.8zM101.1 393.9h.8v.8h-.8zM105.7 389.4h.8v.8h-.8zM117.5 379.1h.8v.8h-.8zM103.9 390.1h.8v.8h-.8zM119.3 381.9h.8v.8h-.8zM110.8 385.4h.8v.8h-.8zM120.8 381.3h.8v.8h-.8zM106.3 394.3h.8v.8h-.8zM105.8 400.8h.8v.8h-.8zM111.3 384.8h.8v.8h-.8zM100.8 386.1h.8v.8h-.8zM111.3 385.4h.8v.8h-.8zM116.5 381.5h.8v.8h-.8zM95.0 404.7h.8v.8h-.8zM120.5 376.0h.8v.8h-.8zM116.3 373.7h.8v.8h-.8zM118.9 381.0h.8v.8h-.8zM116.4 370.7h.8v.8h-.8zM111.2 385.3h.8v.8h-.8zM124.4 373.8h.8v.8h-.8zM95.3 394.0h.8v.8h-.8zM110.8 390.1h.8v.8h-.8zM126.8 383.6h.8v.8h-.8zM106.0 393.3h.8v.8h-.8zM125.2 373.8h.8v.8h-.8zM97.0 388.3h.8v.8h-.8zM94.8 391.4h.8v.8h-.8zM102.2 383.3h.8v.8h-.8zM104.2 397.5h.8v.8h-.8zM107.7 383.5h.8v.8h-.8zM119.2 382.5h.8v.8h-.8zM118.5 378.1h.8v.8h-.8zM107.1 393.0h.8v.8h-.8zM100.5 397.8h.8v.8h-.8zM105.9 381.5h.8v.8h-.8zM110.3 385.8h.8v.8h-.8zM115.6 388.0h.8v.8h-.8zM103.4 383.9h.8v.8h-.8zM100.7 393.4h.8v.8h-.8zM107.7 390.6h.8v.8h-.8zM122.0 371.3h.8v.8h-.8zM113.4 388.0h.8v.8h-.8zM121.9 371.9h.8v.8h-.8zM123.4 375.1h.8v.8h-.8zM105.1 388.4h.8v.8h-.8zM117.7 388.1h.8v.8h-.8zM125.2 380.3h.8v.8h-.8zM101.3 386.3h.8v.8h-.8zM123.1 372.4h.8v.8h-.8zM119.9 385.4h.8v.8h-.8zM108.4 390.3h.8v.8h-.8zM105.3 390.5h.8v.8h-.8zM106.0 394.0h.8v.8h-.8zM109.9 377.3h.8v.8h-.8zM118.7 377.6h.8v.8h-.8zM97.1 392.2h.8v.8h-.8zM117.2 376.7h.8v.8h-.8zM116.3 382.0h.8v.8h-.8zM125.6 373.7h.8v.8h-.8zM111.6 387.3h.8v.8h-.8zM95.9 392.4h.8v.8h-.8zM110.9 368.0h.8v.8h-.8zM109.4 388.7h.8v.8h-.8zM93.2 388.2h.8v.8h-.8zM107.0 396.6h.8v.8h-.8zM105.7 387.2h.8v.8h-.8zM125.3 374.8h.8v.8h-.8zM120.3 377.5h.8v.8h-.8zM110.5 387.3h.8v.8h-.8zM106.0 394.5h.8v.8h-.8zM117.5 383.1h.8v.8h-.8zM116.3 377.2h.8v.8h-.8zM117.6 384.2h.8v.8h-.8zM103.0 395.4h.8v.8h-.8zM109.2 378.5h.8v.8h-.8zM109.1 386.6h.8v.8h-.8zM111.6 369.1h.8v.8h-.8zM124.9 380.2h.8v.8h-.8zM100.0 392.0h.8v.8h-.8zM129.2 380.7h.8v.8h-.8zM101.7 396.5h.8v.8h-.8zM111.5 393.8h.8v.8h-.8zM123.0 382.6h.8v.8h-.8zM116.6 375.9h.8v.8h-.8zM120.8 370.0h.8v.8h-.8zM100.0 394.6h.8v.8h-.8zM100.8 385.8h.8v.8h-.8zM109.6 386.3h.8v.8h-.8zM111.0 384.2h.8v.8h-.8zM113.5 386.6h.8v.8h-.8zM120.3 390.0h.8v.8h-.8zM108.4 394.8h.8v.8h-.8zM107.9 400.0h.8v.8h-.8zM93.4 393.0h.8v.8h-.8zM112.8 379.6h.8v.8h-.8zM110.7 396.7h.8v.8h-.8zM123.3 372.8h.8v.8h-.8zM117.9 383.5h.8v.8h-.8zM117.6 378.9h.8v.8h-.8zM115.2 379.8h.8v.8h-.8zM104.3 386.5h.8v.8h-.8zM110.6 389.1h.8v.8h-.8zM125.0 377.0h.8v.8h-.8zM117.8 381.5h.8v.8h-.8zM112.9 382.4h.8v.8h-.8zM99.5 393.9h.8v.8h-.8zM105.8 397.6h.8v.8h-.8zM121.0 385.5h.8v.8h-.8zM101.9 401.6h.8v.8h-.8zM99.5 399.4h.8v.8h-.8zM107.0 390.3h.8v.8h-.8zM118.3 379.0h.8v.8h-.8zM115.6 384.1h.8v.8h-.8zM106.8 390.4h.8v.8h-.8zM112.4 385.9h.8v.8h-.8zM103.9 399.5h.8v.8h-.8zM127.3 383.4h.8v.8h-.8zM117.4 380.9h.8v.8h-.8zM116.1 381.6h.8v.8h-.8zM95.8 394.4h.8v.8h-.8zM108.3 394.9h.8v.8h-.8zM120.9 375.6h.8v.8h-.8zM101.8 399.1h.8v.8h-.8zM104.2 388.4h.8v.8h-.8zM107.9 378.9h.8v.8h-.8zM111.6 387.6h.8v.8h-.8zM118.4 376.2h.8v.8h-.8zM96.8 401.0h.8v.8h-.8zM110.5 386.8h.8v.8h-.8zM112.3 381.3h.8v.8h-.8zM120.0 383.0h.8v.8h-.8zM114.1 377.5h.8v.8h-.8zM117.3 381.4h.8v.8h-.8zM108.8 385.8h.8v.8h-.8zM105.5 383.0h.8v.8h-.8zM97.0 384.0h.8v.8h-.8zM103.0 391.7h.8v.8h-.8zM105.9 392.9h.8v.8h-.8zM121.8 388.0h.8v.8h-.8zM109.2 391.9h.8v.8h-.8zM114.2 382.2h.8v.8h-.8zM117.6 381.7h.8v.8h-.8zM107.2 390.4h.8v.8h-.8zM112.0 379.8h.8v.8h-.8zM111.4 382.5h.8v.8h-.8zM126.7 376.1h.8v.8h-.8zM118.3 382.1h.8v.8h-.8zM112.9 392.0h.8v.8h-.8zM99.6 395.0h.8v.8h-.8zM102.1 403.2h.8v.8h-.8zM109.8 390.0h.8v.8h-.8zM101.0 397.0h.8v.8h-.8zM112.6 382.8h.8v.8h-.8zM102.0 391.9h.8v.8h-.8zM98.2 389.1h.8v.8h-.8zM102.2 396.5h.8v.8h-.8zM114.5 388.8h.8v.8h-.8zM100.0 393.0h.8v.8h-.8zM120.6 370.7h.8v.8h-.8zM116.6 381.2h.8v.8h-.8zM118.3 388.0h.8v.8h-.8zM103.7 387.6h.8v.8h-.8zM112.2 379.8h.8v.8h-.8zM117.7 375.9h.8v.8h-.8zM121.5 374.7h.8v.8h-.8zM104.4 401.9h.8v.8h-.8zM123.9 377.1h.8v.8h-.8zM105.2 394.1h.8v.8h-.8zM104.2 389.8h.8v.8h-.8zM111.7 373.9h.8v.8h-.8zM119.4 373.1h.8v.8h-.8zM103.6 386.5h.8v.8h-.8zM118.3 376.9h.8v.8h-.8zM100.9 389.5h.8v.8h-.8zM106.8 397.2h.8v.8h-.8zM120.5 375.2h.8v.8h-.8zM119.4 371.6h.8v.8h-.8zM99.1 400.7h.8v.8h-.8zM114.7 389.8h.8v.8h-.8zM109.7 379.4h.8v.8h-.8zM118.2 389.1h.8v.8h-.8zM123.6 372.3h.8v.8h-.8zM104.8 392.8h.8v.8h-.8zM123.6 372.0h.8v.8h-.8zM115.4 375.9h.8v.8h-.8zM111.2 398.0h.8v.8h-.8zM120.4 370.6h.8v.8h-.8zM110.6 385.3h.8v.8h-.8zM102.1 394.8h.8v.8h-.8zM114.0 379.1h.8v.8h-.8zM108.0 394.1h.8v.8h-.8zM115.4 381.4h.8v.8h-.8zM101.5 391.1h.8v.8h-.8zM120.0 378.4h.8v.8h-.8zM106.7 385.7h.8v.8h-.8zM106.2 379.7h.8v.8h-.8zM104.9 390.2h.8v.8h-.8zM104.8 384.2h.8v.8h-.8zM99.2 395.6h.8v.8h-.8zM101.8 392.7h.8v.8h-.8zM100.4 383.9h.8v.8h-.8zM122.5 379.0h.8v.8h-.8zM102.7 384.1h.8v.8h-.8zM96.1 384.1h.8v.8h-.8zM122.6 373.3h.8v.8h-.8zM127.1 381.7h.8v.8h-.8zM119.2 379.1h.8v.8h-.8zM115.2 389.9h.8v.8h-.8zM107.6 393.3h.8v.8h-.8zM106.2 380.1h.8v.8h-.8zM116.6 372.0h.8v.8h-.8zM104.7 397.9h.8v.8h-.8zM96.3 392.2h.8v.8h-.8zM100.7 393.1h.8v.8h-.8zM100.5 400.2h.8v.8h-.8zM116.3 381.0h.8v.8h-.8zM104.1 386.9h.8v.8h-.8zM106.9 393.0h.8v.8h-.8zM107.4 386.5h.8v.8h-.8zM116.3 375.1h.8v.8h-.8zM126.4 385.4h.8v.8h-.8zM114.8 393.3h.8v.8h-.8zM110.8 377.4h.8v.8h-.8zM89.4 396.3h.8v.8h-.8zM107.4 379.0h.8v.8h-.8zM98.8 378.3h.8v.8h-.8zM92.1 392.2h.8v.8h-.8zM91.8 395.9h.8v.8h-.8zM101.7 379.9h.8v.8h-.8zM96.1 382.9h.8v.8h-.8zM111.1 376.7h.8v.8h-.8zM90.6 393.8h.8v.8h-.8zM91.8 383.7h.8v.8h-.8zM105.9 378.1h.8v.8h-.8zM107.3 378.2h.8v.8h-.8zM100.1 381.7h.8v.8h-.8zM87.9 397.1h.8v.8h-.8zM103.4 380.5h.8v.8h-.8zM89.1 392.0h.8v.8h-.8zM90.1 387.1h.8v.8h-.8zM100.3 378.9h.8v.8h-.8zM110.7 376.1h.8v.8h-.8zM88.3 394.5h.8v.8h-.8zM93.9 391.2h.8v.8h-.8zM89.0 387.6h.8v.8h-.8zM96.1 384.1h.8v.8h-.8zM99.5 379.3h.8v.8h-.8zM110.2 376.8h.8v.8h-.8zM95.5 380.3h.8v.8h-.8zM101.8 380.7h.8v.8h-.8zM101.0 381.2h.8v.8h-.8zM106.8 374.9h.8v.8h-.8zM107.8 375.4h.8v.8h-.8zM92.6 390.4h.8v.8h-.8zM96.4 382.3h.8v.8h-.8zM93.9 386.3h.8v.8h-.8zM93.6 385.9h.8v.8h-.8zM110.3 376.8h.8v.8h-.8zM96.8 385.3h.8v.8h-.8zM110.0 375.0h.8v.8h-.8zM88.0 394.5h.8v.8h-.8zM98.8 383.8h.8v.8h-.8zM113.1 375.0h.8v.8h-.8zM99.7 381.5h.8v.8h-.8zM107.9 376.5h.8v.8h-.8zM109.4 374.0h.8v.8h-.8zM98.6 379.1h.8v.8h-.8zM94.4 383.1h.8v.8h-.8zM107.0 376.2h.8v.8h-.8zM89.9 393.7h.8v.8h-.8zM93.1 387.0h.8v.8h-.8zM88.2 390.3h.8v.8h-.8zM91.1 388.7h.8v.8h-.8zM89.3 396.8h.8v.8h-.8zM98.1 383.4h.8v.8h-.8zM92.2 387.7h.8v.8h-.8zM110.1 373.9h.8v.8h-.8zM104.9 377.8h.8v.8h-.8zM95.9 383.4h.8v.8h-.8zM89.9 389.4h.8v.8h-.8zM95.9 386.8h.8v.8h-.8zM87.7 396.0h.8v.8h-.8zM106.6 376.9h.8v.8h-.8zM108.6 379.5h.8v.8h-.8zM104.9 375.4h.8v.8h-.8zM107.2 373.6h.8v.8h-.8zM91.5 396.6h.8v.8h-.8zM90.6 392.1h.8v.8h-.8zM106.4 379.6h.8v.8h-.8zM103.6 377.9h.8v.8h-.8zM93.3 387.4h.8v.8h-.8zM100.0 382.9h.8v.8h-.8zM102.3 374.9h.8v.8h-.8zM101.5 379.1h.8v.8h-.8zM98.2 387.4h.8v.8h-.8zM88.2 392.3h.8v.8h-.8zM99.2 381.6h.8v.8h-.8zM110.5 376.2h.8v.8h-.8zM106.2 378.6h.8v.8h-.8zM98.2 380.3h.8v.8h-.8zM99.5 377.7h.8v.8h-.8zM98.1 382.7h.8v.8h-.8zM107.8 377.4h.8v.8h-.8zM90.4 386.1h.8v.8h-.8zM89.4 394.8h.8v.8h-.8zM106.7 378.7h.8v.8h-.8zM92.5 389.5h.8v.8h-.8zM94.2 385.1h.8v.8h-.8zM104.8 379.8h.8v.8h-.8zM98.0 383.2h.8v.8h-.8zM98.6 379.5h.8v.8h-.8zM90.1 393.0h.8v.8h-.8zM97.4 380.5h.8v.8h-.8zM110.5 374.6h.8v.8h-.8zM92.9 386.7h.8v.8h-.8zM89.1 388.6h.8v.8h-.8zM91.6 394.9h.8v.8h-.8zM87.9 397.9h.8v.8h-.8zM106.1 379.9h.8v.8h-.8zM107.7 375.1h.8v.8h-.8zM93.5 390.5h.8v.8h-.8zM102.7 380.5h.8v.8h-.8zM110.0 373.9h.8v.8h-.8zM91.8 384.8h.8v.8h-.8zM109.1 375.5h.8v.8h-.8zM88.6 398.6h.8v.8h-.8zM94.9 387.4h.8v.8h-.8zM88.5 393.5h.8v.8h-.8zM95.4 382.2h.8v.8h-.8zM113.1 374.2h.8v.8h-.8zM89.7 392.8h.8v.8h-.8zM90.1 398.2h.8v.8h-.8zM105.2 376.8h.8v.8h-.8zM97.7 380.1h.8v.8h-.8zM103.3 379.7h.8v.8h-.8zM106.8 374.9h.8v.8h-.8zM102.9 377.6h.8v.8h-.8zM101.4 378.2h.8v.8h-.8zM91.2 393.8h.8v.8h-.8zM92.2 387.4h.8v.8h-.8zM111.9 376.3h.8v.8h-.8zM90.4 394.8h.8v.8h-.8zM103.2 377.0h.8v.8h-.8zM110.6 376.6h.8v.8h-.8zM89.4 393.9h.8v.8h-.8zM99.2 378.6h.8v.8h-.8zM107.5 377.4h.8v.8h-.8zM93.4 383.8h.8v.8h-.8zM95.0 386.1h.8v.8h-.8zM95.4 379.9h.8v.8h-.8zM105.1 377.9h.8v.8h-.8zM92.0 394.3h.8v.8h-.8zM104.7 380.8h.8v.8h-.8zM87.4 388.3h.8v.8h-.8zM108.5 377.0h.8v.8h-.8zM90.2 389.3h.8v.8h-.8zM92.4 383.8h.8v.8h-.8zM92.4 387.2h.8v.8h-.8zM99.6 383.1h.8v.8h-.8zM98.3 380.4h.8v.8h-.8zM109.1 377.3h.8v.8h-.8zM96.1 386.5h.8v.8h-.8zM103.6 379.1h.8v.8h-.8zM108.6 373.3h.8v.8h-.8zM90.2 395.4h.8v.8h-.8zM102.7 379.8h.8v.8h-.8zM111.2 373.5h.8v.8h-.8zM97.1 384.7h.8v.8h-.8zM114.4 377.2h.8v.8h-.8zM103.6 380.0h.8v.8h-.8zM97.0 380.0h.8v.8h-.8zM97.8 383.9h.8v.8h-.8zM93.6 384.9h.8v.8h-.8zM89.7 396.4h.8v.8h-.8zM91.4 390.5h.8v.8h-.8zM111.8 375.8h.8v.8h-.8zM106.0 380.6h.8v.8h-.8zM106.5 379.6h.8v.8h-.8zM93.5 392.0h.8v.8h-.8zM109.5 376.6h.8v.8h-.8zM98.2 378.5h.8v.8h-.8zM101.1 380.7h.8v.8h-.8zM108.2 378.1h.8v.8h-.8zM93.8 391.1h.8v.8h-.8zM92.3 385.9h.8v.8h-.8zM91.8 388.8h.8v.8h-.8zM104.9 377.8h.8v.8h-.8zM94.5 381.5h.8v.8h-.8zM98.2 386.1h.8v.8h-.8zM108.6 376.9h.8v.8h-.8zM115.6 373.9h.8v.8h-.8zM95.6 384.9h.8v.8h-.8zM91.7 390.2h.8v.8h-.8zM88.2 398.2h.8v.8h-.8zM101.0 380.9h.8v.8h-.8zM102.7 381.9h.8v.8h-.8zM102.5 380.3h.8v.8h-.8zM92.8 390.2h.8v.8h-.8zM93.4 389.9h.8v.8h-.8zM90.9 387.5h.8v.8h-.8zM101.8 381.5h.8v.8h-.8zM90.2 387.6h.8v.8h-.8zM108.1 376.5h.8v.8h-.8zM106.8 375.4h.8v.8h-.8zM90.6 389.6h.8v.8h-.8zM100.4 377.2h.8v.8h-.8zM96.5 381.7h.8v.8h-.8zM88.8 394.9h.8v.8h-.8zM102.8 381.0h.8v.8h-.8zM87.5 400.0h.8v.8h-.8zM87.4 393.7h.8v.8h-.8zM110.4 375.0h.8v.8h-.8zM106.8 375.8h.8v.8h-.8zM105.4 375.2h.8v.8h-.8zM96.6 384.8h.8v.8h-.8zM91.3 383.4h.8v.8h-.8zM91.4 387.2h.8v.8h-.8zM91.6 388.8h.8v.8h-.8zM98.3 384.8h.8v.8h-.8zM96.4 385.2h.8v.8h-.8zM97.8 384.9h.8v.8h-.8zM102.4 406.6h.8v.8h-.8zM96.1 404.3h.8v.8h-.8zM101.5 414.5h.8v.8h-.8zM100.9 406.2h.8v.8h-.8zM95.1 413.4h.8v.8h-.8zM99.5 410.0h.8v.8h-.8zM92.1 407.8h.8v.8h-.8zM96.7 412.7h.8v.8h-.8zM96.6 412.0h.8v.8h-.8zM98.9 401.6h.8v.8h-.8zM92.4 409.4h.8v.8h-.8zM110.4 405.0h.8v.8h-.8zM103.5 402.2h.8v.8h-.8zM92.0 409.8h.8v.8h-.8zM98.4 409.1h.8v.8h-.8zM95.8 406.0h.8v.8h-.8zM97.4 403.7h.8v.8h-.8zM97.0 401.8h.8v.8h-.8zM101.5 411.5h.8v.8h-.8zM97.3 407.2h.8v.8h-.8zM100.8 410.7h.8v.8h-.8zM93.2 405.0h.8v.8h-.8zM91.4 411.3h.8v.8h-.8zM97.7 411.3h.8v.8h-.8zM95.9 408.5h.8v.8h-.8zM98.3 412.9h.8v.8h-.8zM104.6 406.5h.8v.8h-.8zM93.9 406.8h.8v.8h-.8zM102.3 407.0h.8v.8h-.8zM92.7 402.0h.8v.8h-.8zM96.9 403.9h.8v.8h-.8zM97.9 411.8h.8v.8h-.8zM94.0 407.8h.8v.8h-.8zM108.4 409.7h.8v.8h-.8zM93.9 411.6h.8v.8h-.8zM91.9 400.1h.8v.8h-.8zM94.0 408.8h.8v.8h-.8zM96.1 405.9h.8v.8h-.8zM100.2 406.8h.8v.8h-.8zM99.4 403.0h.8v.8h-.8zM102.9 413.5h.8v.8h-.8zM105.6 411.5h.8v.8h-.8zM98.1 411.0h.8v.8h-.8zM99.5 407.9h.8v.8h-.8zM103.3 401.4h.8v.8h-.8zM88.7 410.3h.8v.8h-.8zM96.5 412.2h.8v.8h-.8zM93.7 410.0h.8v.8h-.8zM91.8 406.9h.8v.8h-.8zM95.8 400.0h.8v.8h-.8zM93.7 410.9h.8v.8h-.8zM94.8 406.5h.8v.8h-.8zM98.8 408.1h.8v.8h-.8zM97.7 404.9h.8v.8h-.8zM104.0 412.2h.8v.8h-.8zM94.9 403.2h.8v.8h-.8zM97.7 409.8h.8v.8h-.8zM97.2 404.3h.8v.8h-.8zM107.9 405.8h.8v.8h-.8zM89.6 410.3h.8v.8h-.8zM101.7 413.1h.8v.8h-.8zM96.1 410.1h.8v.8h-.8zM95.3 397.1h.8v.8h-.8zM89.1 405.3h.8v.8h-.8zM94.0 410.3h.8v.8h-.8zM95.5 401.0h.8v.8h-.8zM100.9 407.7h.8v.8h-.8zM94.9 402.7h.8v.8h-.8zM100.4 410.8h.8v.8h-.8zM99.8 406.5h.8v.8h-.8zM99.3 407.5h.8v.8h-.8zM103.8 406.2h.8v.8h-.8zM98.9 409.3h.8v.8h-.8zM103.7 402.1h.8v.8h-.8zM88.8 399.6h.8v.8h-.8zM89.7 405.4h.8v.8h-.8zM97.4 407.5h.8v.8h-.8zM102.1 404.6h.8v.8h-.8zM106.0 410.3h.8v.8h-.8zM100.2 410.1h.8v.8h-.8zM100.9 401.4h.8v.8h-.8zM106.8 404.0h.8v.8h-.8zM94.8 411.1h.8v.8h-.8zM102.4 414.3h.8v.8h-.8zM100.7 403.7h.8v.8h-.8zM103.1 393.4h.8v.8h-.8zM94.0 403.3h.8v.8h-.8zM94.6 402.5h.8v.8h-.8zM93.7 411.5h.8v.8h-.8zM99.9 404.6h.8v.8h-.8zM108.2 413.5h.8v.8h-.8zM99.1 410.1h.8v.8h-.8zM88.7 404.7h.8v.8h-.8zM95.6 399.4h.8v.8h-.8zM99.8 407.7h.8v.8h-.8zM92.2 401.5h.8v.8h-.8zM98.4 403.2h.8v.8h-.8zM89.8 414.4h.8v.8h-.8zM98.4 403.5h.8v.8h-.8zM97.1 405.7h.8v.8h-.8zM98.1 403.9h.8v.8h-.8zM101.8 412.2h.8v.8h-.8zM91.1 406.0h.8v.8h-.8zM96.9 406.7h.8v.8h-.8zM101.3 407.0h.8v.8h-.8zM103.9 410.9h.8v.8h-.8zM95.3 406.4h.8v.8h-.8zM98.6 411.8h.8v.8h-.8zM99.4 405.3h.8v.8h-.8zM97.7 408.4h.8v.8h-.8zM96.3 409.0h.8v.8h-.8zM92.2 408.8h.8v.8h-.8zM98.4 411.7h.8v.8h-.8zM90.1 405.3h.8v.8h-.8zM99.7 406.3h.8v.8h-.8zM101.6 404.5h.8v.8h-.8zM100.1 410.8h.8v.8h-.8zM100.9 407.7h.8v.8h-.8zM94.1 406.7h.8v.8h-.8zM98.9 406.0h.8v.8h-.8zM104.0 404.4h.8v.8h-.8zM101.2 403.5h.8v.8h-.8zM106.2 410.2h.8v.8h-.8zM92.6 411.3h.8v.8h-.8zM97.5 405.1h.8v.8h-.8zM97.8 411.4h.8v.8h-.8zM94.9 404.3h.8v.8h-.8zM97.2 399.9h.8v.8h-.8zM94.3 414.5h.8v.8h-.8zM97.2 399.6h.8v.8h-.8zM97.9 406.5h.8v.8h-.8zM93.1 410.1h.8v.8h-.8zM88.6 402.2h.8v.8h-.8zM93.2 410.1h.8v.8h-.8zM96.0 413.8h.8v.8h-.8zM100.8 401.0h.8v.8h-.8zM102.0 408.0h.8v.8h-.8zM101.6 407.7h.8v.8h-.8zM98.4 410.5h.8v.8h-.8zM99.6 409.8h.8v.8h-.8zM99.0 407.0h.8v.8h-.8zM99.9 399.2h.8v.8h-.8zM98.3 405.1h.8v.8h-.8zM107.9 399.4h.8v.8h-.8zM101.4 397.7h.8v.8h-.8zM96.5 407.8h.8v.8h-.8zM95.2 406.7h.8v.8h-.8zM103.3 402.5h.8v.8h-.8zM87.7 406.3h.8v.8h-.8zM101.0 405.9h.8v.8h-.8zM89.9 403.9h.8v.8h-.8zM100.9 408.4h.8v.8h-.8zM102.8 406.3h.8v.8h-.8zM102.9 405.1h.8v.8h-.8zM106.6 401.9h.8v.8h-.8zM95.7 399.1h.8v.8h-.8zM101.7 403.3h.8v.8h-.8zM93.9 414.5h.8v.8h-.8zM105.7 403.1h.8v.8h-.8zM94.1 405.2h.8v.8h-.8zM97.3 405.1h.8v.8h-.8zM102.3 413.1h.8v.8h-.8zM97.1 403.7h.8v.8h-.8zM101.1 407.2h.8v.8h-.8zM90.3 410.2h.8v.8h-.8zM102.9 408.8h.8v.8h-.8zM87.3 403.8h.8v.8h-.8zM100.3 406.0h.8v.8h-.8zM97.7 411.5h.8v.8h-.8zM97.7 409.1h.8v.8h-.8zM91.5 403.1h.8v.8h-.8zM108.2 409.9h.8v.8h-.8zM92.5 402.3h.8v.8h-.8zM89.4 412.8h.8v.8h-.8zM98.9 403.1h.8v.8h-.8zM87.5 404.5h.8v.8h-.8zM96.1 406.5h.8v.8h-.8zM107.1 409.1h.8v.8h-.8zM95.9 402.6h.8v.8h-.8zM92.5 405.4h.8v.8h-.8zM104.5 410.0h.8v.8h-.8zM100.9 408.6h.8v.8h-.8zM92.4 408.2h.8v.8h-.8zM91.5 401.3h.8v.8h-.8zM91.8 409.3h.8v.8h-.8zM90.7 404.5h.8v.8h-.8zM98.1 411.6h.8v.8h-.8zM100.3 404.1h.8v.8h-.8zM87.9 405.6h.8v.8h-.8zM87.7 402.9h.8v.8h-.8zM93.3 408.1h.8v.8h-.8zM92.2 407.8h.8v.8h-.8zM88.0 401.9h.8v.8h-.8zM100.6 403.6h.8v.8h-.8zM96.6 409.2h.8v.8h-.8zM105.7 411.3h.8v.8h-.8zM90.0 408.5h.8v.8h-.8zM103.9 407.0h.8v.8h-.8zM100.9 403.6h.8v.8h-.8zM99.8 414.7h.8v.8h-.8zM94.9 408.8h.8v.8h-.8zM103.2 399.0h.8v.8h-.8zM98.5 414.5h.8v.8h-.8zM96.7 403.1h.8v.8h-.8zM88.1 412.3h.8v.8h-.8zM101.3 408.6h.8v.8h-.8zM94.0 406.9h.8v.8h-.8zM102.6 396.8h.8v.8h-.8zM92.8 410.3h.8v.8h-.8zM104.5 406.3h.8v.8h-.8zM94.0 403.9h.8v.8h-.8zM94.1 404.0h.8v.8h-.8zM97.7 405.3h.8v.8h-.8zM103.1 404.0h.8v.8h-.8zM103.0 405.7h.8v.8h-.8zM98.1 403.1h.8v.8h-.8zM100.4 407.0h.8v.8h-.8zM99.2 409.5h.8v.8h-.8zM100.9 399.3h.8v.8h-.8zM96.4 404.3h.8v.8h-.8zM97.9 414.4h.8v.8h-.8zM99.7 406.2h.8v.8h-.8zM96.3 408.0h.8v.8h-.8zM99.4 407.2h.8v.8h-.8zM101.4 401.8h.8v.8h-.8zM99.3 412.1h.8v.8h-.8zM98.5 402.8h.8v.8h-.8zM106.2 409.2h.8v.8h-.8zM96.0 408.8h.8v.8h-.8zM103.7 408.0h.8v.8h-.8zM94.2 405.1h.8v.8h-.8zM99.8 401.2h.8v.8h-.8zM94.2 404.7h.8v.8h-.8zM107.0 404.6h.8v.8h-.8zM93.4 407.5h.8v.8h-.8zM98.6 400.7h.8v.8h-.8zM103.1 410.8h.8v.8h-.8zM89.0 412.7h.8v.8h-.8zM93.6 399.3h.8v.8h-.8zM98.9 403.0h.8v.8h-.8zM94.8 406.1h.8v.8h-.8zM94.0 406.8h.8v.8h-.8zM97.1 405.3h.8v.8h-.8zM105.8 412.3h.8v.8h-.8zM97.0 409.3h.8v.8h-.8zM104.7 410.8h.8v.8h-.8zM102.1 405.8h.8v.8h-.8zM93.6 398.4h.8v.8h-.8zM102.5 411.2h.8v.8h-.8zM104.6 402.0h.8v.8h-.8zM97.8 412.1h.8v.8h-.8zM97.1 413.6h.8v.8h-.8zM97.4 406.5h.8v.8h-.8zM91.4 404.3h.8v.8h-.8zM95.9 402.8h.8v.8h-.8zM101.0 404.0h.8v.8h-.8zM96.9 408.2h.8v.8h-.8zM103.4 407.9h.8v.8h-.8zM92.5 404.0h.8v.8h-.8zM99.3 406.1h.8v.8h-.8zM93.9 410.4h.8v.8h-.8zM102.5 403.9h.8v.8h-.8zM103.9 411.2h.8v.8h-.8zM97.9 409.7h.8v.8h-.8zM101.2 407.1h.8v.8h-.8zM104.3 413.6h.8v.8h-.8zM94.1 411.6h.8v.8h-.8zM99.2 400.3h.8v.8h-.8zM108.2 403.4h.8v.8h-.8zM100.0 405.1h.8v.8h-.8zM96.9 405.9h.8v.8h-.8zM98.1 411.8h.8v.8h-.8zM97.6 406.7h.8v.8h-.8zM105.0 409.2h.8v.8h-.8zM89.0 405.1h.8v.8h-.8zM100.3 412.8h.8v.8h-.8zM101.1 405.6h.8v.8h-.8zM97.5 398.0h.8v.8h-.8zM95.1 405.4h.8v.8h-.8zM100.3 404.3h.8v.8h-.8zM103.4 407.1h.8v.8h-.8zM96.3 411.4h.8v.8h-.8zM90.5 410.2h.8v.8h-.8zM102.2 406.9h.8v.8h-.8zM97.5 411.4h.8v.8h-.8zM99.0 404.9h.8v.8h-.8zM96.0 408.1h.8v.8h-.8zM94.7 401.4h.8v.8h-.8zM96.6 404.9h.8v.8h-.8zM94.9 408.9h.8v.8h-.8zM104.5 405.6h.8v.8h-.8zM103.0 399.2h.8v.8h-.8zM106.5 408.4h.8v.8h-.8zM97.0 408.8h.8v.8h-.8zM96.8 396.9h.8v.8h-.8zM105.8 413.3h.8v.8h-.8zM99.4 406.2h.8v.8h-.8zM95.3 412.7h.8v.8h-.8zM95.0 405.2h.8v.8h-.8zM97.3 407.8h.8v.8h-.8zM96.8 404.1h.8v.8h-.8zM95.7 408.8h.8v.8h-.8zM100.8 410.8h.8v.8h-.8zM91.5 411.2h.8v.8h-.8zM96.6 407.8h.8v.8h-.8zM92.2 413.8h.8v.8h-.8zM101.4 403.3h.8v.8h-.8zM98.5 406.4h.8v.8h-.8zM99.2 414.2h.8v.8h-.8zM98.4 404.2h.8v.8h-.8zM100.5 409.8h.8v.8h-.8zM101.5 408.1h.8v.8h-.8zM94.2 406.8h.8v.8h-.8zM92.5 410.1h.8v.8h-.8zM96.4 406.8h.8v.8h-.8zM98.3 414.3h.8v.8h-.8zM93.9 402.3h.8v.8h-.8zM98.9 410.0h.8v.8h-.8zM100.8 409.7h.8v.8h-.8zM99.0 407.3h.8v.8h-.8zM94.9 409.8h.8v.8h-.8zM98.3 411.8h.8v.8h-.8zM98.8 401.2h.8v.8h-.8zM105.8 403.9h.8v.8h-.8zM97.8 407.2h.8v.8h-.8zM102.1 398.3h.8v.8h-.8zM97.5 409.5h.8v.8h-.8zM94.9 409.2h.8v.8h-.8zM107.0 413.4h.8v.8h-.8zM99.5 406.3h.8v.8h-.8zM95.8 413.3h.8v.8h-.8zM96.3 412.9h.8v.8h-.8zM96.4 405.9h.8v.8h-.8zM101.9 408.4h.8v.8h-.8zM98.9 406.7h.8v.8h-.8zM105.7 404.2h.8v.8h-.8zM97.1 407.3h.8v.8h-.8zM94.9 410.1h.8v.8h-.8zM95.4 408.8h.8v.8h-.8zM94.5 404.6h.8v.8h-.8zM96.5 411.6h.8v.8h-.8zM101.2 404.0h.8v.8h-.8zM97.0 404.2h.8v.8h-.8zM106.1 408.5h.8v.8h-.8zM94.5 402.9h.8v.8h-.8zM101.9 405.6h.8v.8h-.8zM89.2 404.9h.8v.8h-.8zM89.2 404.2h.8v.8h-.8zM92.9 413.6h.8v.8h-.8zM88.5 409.7h.8v.8h-.8zM94.2 407.1h.8v.8h-.8zM104.9 399.8h.8v.8h-.8zM96.2 404.2h.8v.8h-.8zM97.2 409.4h.8v.8h-.8zM92.7 406.0h.8v.8h-.8zM103.4 409.2h.8v.8h-.8zM95.1 413.3h.8v.8h-.8zM91.9 403.2h.8v.8h-.8zM92.5 405.9h.8v.8h-.8zM101.4 404.8h.8v.8h-.8zM87.8 410.9h.8v.8h-.8zM101.1 408.8h.8v.8h-.8zM95.1 405.6h.8v.8h-.8zM106.4 404.1h.8v.8h-.8zM95.2 400.7h.8v.8h-.8zM95.6 406.7h.8v.8h-.8zM94.9 403.8h.8v.8h-.8zM97.0 410.4h.8v.8h-.8zM103.9 408.0h.8v.8h-.8zM96.1 412.2h.8v.8h-.8zM90.2 398.3h.8v.8h-.8zM94.2 407.3h.8v.8h-.8zM96.5 401.4h.8v.8h-.8zM98.2 408.0h.8v.8h-.8zM93.1 407.7h.8v.8h-.8zM94.3 401.4h.8v.8h-.8zM90.2 412.7h.8v.8h-.8zM101.0 406.1h.8v.8h-.8zM93.9 403.0h.8v.8h-.8zM96.0 401.5h.8v.8h-.8zM92.1 403.4h.8v.8h-.8zM103.6 412.3h.8v.8h-.8zM100.4 405.1h.8v.8h-.8zM92.4 405.0h.8v.8h-.8zM104.5 403.7h.8v.8h-.8zM97.2 412.1h.8v.8h-.8zM96.5 405.4h.8v.8h-.8zM99.8 400.3h.8v.8h-.8zM87.9 402.6h.8v.8h-.8zM100.3 404.6h.8v.8h-.8zM95.1 411.3h.8v.8h-.8zM100.6 403.7h.8v.8h-.8zM97.2 405.9h.8v.8h-.8zM97.3 407.4h.8v.8h-.8zM94.4 414.3h.8v.8h-.8zM101.9 403.9h.8v.8h-.8zM95.7 404.5h.8v.8h-.8zM95.3 405.5h.8v.8h-.8zM107.9 410.8h.8v.8h-.8zM100.7 403.5h.8v.8h-.8zM95.7 409.8h.8v.8h-.8zM94.1 407.8h.8v.8h-.8zM97.2 414.2h.8v.8h-.8zM97.3 405.1h.8v.8h-.8zM91.1 411.8h.8v.8h-.8zM99.7 406.7h.8v.8h-.8zM99.7 406.2h.8v.8h-.8zM97.3 403.4h.8v.8h-.8zM87.5 407.5h.8v.8h-.8zM98.1 408.1h.8v.8h-.8zM94.0 408.6h.8v.8h-.8zM99.0 400.4h.8v.8h-.8zM98.7 409.1h.8v.8h-.8zM98.9 405.0h.8v.8h-.8zM91.6 408.4h.8v.8h-.8zM98.0 411.5h.8v.8h-.8zM90.9 400.3h.8v.8h-.8zM103.5 401.8h.8v.8h-.8zM103.7 407.9h.8v.8h-.8zM108.3 406.3h.8v.8h-.8zM97.9 411.2h.8v.8h-.8zM100.2 414.5h.8v.8h-.8zM101.1 410.6h.8v.8h-.8zM92.4 411.9h.8v.8h-.8zM107.7 406.5h.8v.8h-.8zM104.5 402.2h.8v.8h-.8zM101.0 404.4h.8v.8h-.8zM99.8 411.2h.8v.8h-.8zM100.5 410.3h.8v.8h-.8zM99.3 407.3h.8v.8h-.8zM94.2 401.0h.8v.8h-.8zM96.3 401.5h.8v.8h-.8zM98.8 406.2h.8v.8h-.8zM93.6 404.7h.8v.8h-.8zM95.2 410.4h.8v.8h-.8zM88.3 399.5h.8v.8h-.8zM99.3 402.3h.8v.8h-.8zM94.3 408.6h.8v.8h-.8zM96.9 411.3h.8v.8h-.8zM93.5 403.1h.8v.8h-.8zM91.7 404.3h.8v.8h-.8zM101.4 409.4h.8v.8h-.8zM94.7 403.1h.8v.8h-.8zM99.5 409.7h.8v.8h-.8zM88.7 406.1h.8v.8h-.8zM99.7 403.3h.8v.8h-.8zM100.6 403.4h.8v.8h-.8zM90.6 413.2h.8v.8h-.8zM93.2 408.5h.8v.8h-.8zM100.0 410.9h.8v.8h-.8zM92.7 410.3h.8v.8h-.8zM94.6 413.3h.8v.8h-.8zM89.5 414.2h.8v.8h-.8zM95.0 399.1h.8v.8h-.8zM92.7 406.8h.8v.8h-.8zM103.5 404.3h.8v.8h-.8zM99.3 401.9h.8v.8h-.8zM92.4 412.6h.8v.8h-.8zM101.4 403.1h.8v.8h-.8zM95.4 414.5h.8v.8h-.8zM92.4 401.0h.8v.8h-.8zM100.8 409.6h.8v.8h-.8zM100.1 411.1h.8v.8h-.8zM94.7 412.6h.8v.8h-.8zM103.1 413.2h.8v.8h-.8zM107.8 410.1h.8v.8h-.8zM91.1 403.0h.8v.8h-.8zM98.9 408.9h.8v.8h-.8zM96.5 407.0h.8v.8h-.8zM97.4 413.4h.8v.8h-.8zM99.3 407.3h.8v.8h-.8zM104.0 398.9h.8v.8h-.8zM89.4 408.3h.8v.8h-.8zM94.4 408.5h.8v.8h-.8zM96.3 405.3h.8v.8h-.8zM100.2 414.0h.8v.8h-.8zM95.6 411.2h.8v.8h-.8zM91.2 407.2h.8v.8h-.8zM95.7 412.0h.8v.8h-.8zM95.6 405.8h.8v.8h-.8zM91.4 406.5h.8v.8h-.8zM106.0 407.5h.8v.8h-.8zM103.2 413.6h.8v.8h-.8zM92.2 412.4h.8v.8h-.8zM96.0 408.1h.8v.8h-.8zM106.6 406.0h.8v.8h-.8zM91.8 410.3h.8v.8h-.8zM104.2 407.7h.8v.8h-.8zM99.3 407.6h.8v.8h-.8zM95.6 405.6h.8v.8h-.8zM94.6 405.3h.8v.8h-.8zM100.2 406.3h.8v.8h-.8zM102.9 407.2h.8v.8h-.8zM96.4 398.2h.8v.8h-.8zM102.3 413.6h.8v.8h-.8zM101.2 413.1h.8v.8h-.8zM100.5 402.9h.8v.8h-.8zM94.4 409.1h.8v.8h-.8zM93.1 401.7h.8v.8h-.8zM93.2 414.6h.8v.8h-.8zM100.4 402.8h.8v.8h-.8zM95.2 403.4h.8v.8h-.8zM105.3 404.3h.8v.8h-.8zM101.9 411.4h.8v.8h-.8zM102.2 408.3h.8v.8h-.8zM95.8 406.3h.8v.8h-.8zM91.6 407.0h.8v.8h-.8zM99.3 405.5h.8v.8h-.8zM89.1 406.1h.8v.8h-.8zM97.7 410.9h.8v.8h-.8zM100.1 409.7h.8v.8h-.8zM89.3 405.5h.8v.8h-.8zM87.3 414.2h.8v.8h-.8zM101.1 410.9h.8v.8h-.8zM92.4 412.8h.8v.8h-.8zM88.6 411.2h.8v.8h-.8zM99.0 409.0h.8v.8h-.8zM95.4 404.1h.8v.8h-.8zM94.5 409.7h.8v.8h-.8zM96.6 407.0h.8v.8h-.8zM90.2 409.2h.8v.8h-.8zM99.6 409.3h.8v.8h-.8zM104.1 408.1h.8v.8h-.8zM97.7 404.7h.8v.8h-.8zM104.7 410.8h.8v.8h-.8zM89.2 406.6h.8v.8h-.8zM93.5 410.3h.8v.8h-.8zM103.5 408.7h.8v.8h-.8zM100.7 407.6h.8v.8h-.8zM101.0 403.1h.8v.8h-.8zM102.7 410.4h.8v.8h-.8zM89.3 406.9h.8v.8h-.8zM91.1 409.7h.8v.8h-.8zM97.4 401.5h.8v.8h-.8zM101.3 410.6h.8v.8h-.8zM97.7 404.0h.8v.8h-.8zM94.4 405.0h.8v.8h-.8zM99.0 400.6h.8v.8h-.8zM91.9 407.3h.8v.8h-.8zM101.6 407.9h.8v.8h-.8zM98.4 398.4h.8v.8h-.8zM104.8 405.6h.8v.8h-.8zM108.2 406.3h.8v.8h-.8zM96.9 412.4h.8v.8h-.8zM104.5 403.8h.8v.8h-.8zM101.2 406.7h.8v.8h-.8zM103.1 409.3h.8v.8h-.8zM93.2 402.9h.8v.8h-.8zM99.5 410.2h.8v.8h-.8zM99.5 404.3h.8v.8h-.8zM107.0 406.7h.8v.8h-.8zM93.7 411.4h.8v.8h-.8zM92.1 405.4h.8v.8h-.8zM97.5 401.5h.8v.8h-.8zM112.8 411.4h.8v.8h-.8zM92.0 397.3h.8v.8h-.8zM99.6 400.2h.8v.8h-.8zM113.3 405.4h.8v.8h-.8zM107.9 406.1h.8v.8h-.8zM117.7 411.2h.8v.8h-.8zM113.4 408.1h.8v.8h-.8zM112.9 404.1h.8v.8h-.8zM116.4 400.3h.8v.8h-.8zM114.6 409.2h.8v.8h-.8zM108.3 412.2h.8v.8h-.8zM112.9 399.2h.8v.8h-.8zM117.7 414.6h.8v.8h-.8zM113.0 404.7h.8v.8h-.8zM113.3 406.7h.8v.8h-.8zM115.1 404.1h.8v.8h-.8zM113.8 408.1h.8v.8h-.8zM113.3 400.0h.8v.8h-.8zM111.2 410.9h.8v.8h-.8zM109.9 407.3h.8v.8h-.8zM112.7 406.3h.8v.8h-.8zM116.2 402.7h.8v.8h-.8zM117.1 402.3h.8v.8h-.8zM110.7 404.8h.8v.8h-.8zM114.4 407.3h.8v.8h-.8zM115.2 405.9h.8v.8h-.8zM112.9 404.3h.8v.8h-.8zM109.9 410.0h.8v.8h-.8zM113.4 408.8h.8v.8h-.8zM115.9 413.5h.8v.8h-.8zM111.0 411.6h.8v.8h-.8zM109.2 411.5h.8v.8h-.8zM112.6 406.4h.8v.8h-.8zM109.2 412.8h.8v.8h-.8zM111.3 410.4h.8v.8h-.8zM114.5 408.6h.8v.8h-.8zM113.3 407.8h.8v.8h-.8zM112.2 404.9h.8v.8h-.8zM115.0 412.2h.8v.8h-.8zM114.1 409.7h.8v.8h-.8zM120.9 412.4h.8v.8h-.8zM107.6 410.6h.8v.8h-.8zM107.2 410.9h.8v.8h-.8zM110.6 409.4h.8v.8h-.8zM114.3 407.9h.8v.8h-.8zM114.5 404.0h.8v.8h-.8zM116.0 412.4h.8v.8h-.8zM106.0 409.9h.8v.8h-.8zM109.9 409.7h.8v.8h-.8zM117.0 402.9h.8v.8h-.8zM114.2 409.7h.8v.8h-.8zM113.4 409.4h.8v.8h-.8zM112.3 406.4h.8v.8h-.8zM118.8 408.9h.8v.8h-.8zM108.2 411.0h.8v.8h-.8zM114.8 402.2h.8v.8h-.8zM113.5 409.5h.8v.8h-.8zM109.3 407.6h.8v.8h-.8zM119.3 405.1h.8v.8h-.8zM115.5 410.2h.8v.8h-.8zM116.3 411.0h.8v.8h-.8zM117.4 400.1h.8v.8h-.8zM123.0 407.8h.8v.8h-.8zM111.1 409.1h.8v.8h-.8zM114.5 406.8h.8v.8h-.8zM111.0 404.6h.8v.8h-.8zM115.2 398.4h.8v.8h-.8zM110.9 410.4h.8v.8h-.8zM112.5 404.4h.8v.8h-.8zM114.3 407.4h.8v.8h-.8zM110.5 407.8h.8v.8h-.8zM111.1 405.6h.8v.8h-.8zM111.5 406.1h.8v.8h-.8zM110.4 406.1h.8v.8h-.8zM111.6 411.9h.8v.8h-.8zM116.1 409.4h.8v.8h-.8zM113.9 399.8h.8v.8h-.8zM112.7 404.5h.8v.8h-.8zM116.8 406.1h.8v.8h-.8zM116.6 406.9h.8v.8h-.8zM110.7 396.8h.8v.8h-.8zM115.2 405.1h.8v.8h-.8zM114.0 411.9h.8v.8h-.8zM115.5 410.4h.8v.8h-.8zM113.1 414.6h.8v.8h-.8zM114.8 407.2h.8v.8h-.8zM111.7 402.1h.8v.8h-.8zM108.1 413.4h.8v.8h-.8zM108.9 413.3h.8v.8h-.8zM113.8 407.7h.8v.8h-.8zM109.6 406.3h.8v.8h-.8zM111.3 406.0h.8v.8h-.8zM115.1 406.0h.8v.8h-.8zM109.4 407.6h.8v.8h-.8zM111.1 409.1h.8v.8h-.8zM114.8 408.9h.8v.8h-.8zM107.1 407.6h.8v.8h-.8zM119.1 411.7h.8v.8h-.8zM109.8 403.3h.8v.8h-.8zM117.8 413.2h.8v.8h-.8zM118.9 411.9h.8v.8h-.8zM115.7 411.6h.8v.8h-.8zM113.6 407.2h.8v.8h-.8zM113.0 405.9h.8v.8h-.8zM112.6 410.0h.8v.8h-.8zM112.9 408.0h.8v.8h-.8zM115.3 408.3h.8v.8h-.8zM108.9 411.6h.8v.8h-.8zM113.2 405.9h.8v.8h-.8zM117.1 407.1h.8v.8h-.8zM117.1 400.4h.8v.8h-.8zM113.7 403.3h.8v.8h-.8zM108.8 410.4h.8v.8h-.8zM115.0 414.4h.8v.8h-.8zM116.0 402.2h.8v.8h-.8zM108.8 410.7h.8v.8h-.8zM116.4 412.1h.8v.8h-.8zM110.5 406.6h.8v.8h-.8zM113.2 398.2h.8v.8h-.8zM112.2 403.7h.8v.8h-.8zM113.3 399.1h.8v.8h-.8zM118.6 408.7h.8v.8h-.8zM121.3 404.0h.8v.8h-.8zM113.5 414.2h.8v.8h-.8zM115.7 410.1h.8v.8h-.8zM113.1 405.8h.8v.8h-.8zM115.7 410.7h.8v.8h-.8zM114.5 409.7h.8v.8h-.8zM113.0 407.4h.8v.8h-.8zM115.0 406.2h.8v.8h-.8zM111.6 406.5h.8v.8h-.8zM112.8 409.9h.8v.8h-.8zM107.0 410.2h.8v.8h-.8zM118.2 400.8h.8v.8h-.8zM112.4 412.7h.8v.8h-.8zM111.9 410.4h.8v.8h-.8zM110.4 412.7h.8v.8h-.8zM113.2 407.0h.8v.8h-.8zM117.8 410.6h.8v.8h-.8zM109.0 402.4h.8v.8h-.8zM115.5 408.9h.8v.8h-.8zM120.9 409.1h.8v.8h-.8zM117.1 407.7h.8v.8h-.8zM121.4 400.0h.8v.8h-.8zM107.5 410.3h.8v.8h-.8zM114.6 402.3h.8v.8h-.8zM114.1 411.5h.8v.8h-.8zM116.6 407.1h.8v.8h-.8zM110.5 410.9h.8v.8h-.8zM108.9 412.1h.8v.8h-.8zM110.6 412.0h.8v.8h-.8zM115.5 412.7h.8v.8h-.8zM109.5 408.7h.8v.8h-.8zM112.3 403.8h.8v.8h-.8zM118.3 413.4h.8v.8h-.8zM114.6 414.2h.8v.8h-.8zM113.8 404.1h.8v.8h-.8zM109.4 413.2h.8v.8h-.8zM112.5 404.6h.8v.8h-.8zM111.9 401.5h.8v.8h-.8zM113.2 405.7h.8v.8h-.8zM110.7 409.7h.8v.8h-.8zM110.2 403.8h.8v.8h-.8zM110.5 409.6h.8v.8h-.8zM113.5 410.4h.8v.8h-.8zM112.5 404.9h.8v.8h-.8zM109.7 409.0h.8v.8h-.8zM114.9 408.8h.8v.8h-.8zM116.0 414.5h.8v.8h-.8zM109.2 408.3h.8v.8h-.8zM107.2 411.0h.8v.8h-.8zM108.7 404.9h.8v.8h-.8zM118.0 407.9h.8v.8h-.8zM114.0 408.7h.8v.8h-.8zM111.3 405.8h.8v.8h-.8zM119.0 403.1h.8v.8h-.8zM117.6 400.9h.8v.8h-.8zM106.0 402.8h.8v.8h-.8zM117.0 403.7h.8v.8h-.8zM114.6 410.5h.8v.8h-.8zM114.0 408.8h.8v.8h-.8zM110.8 413.4h.8v.8h-.8zM114.2 401.2h.8v.8h-.8zM116.0 411.9h.8v.8h-.8zM110.1 400.0h.8v.8h-.8zM115.1 408.0h.8v.8h-.8zM110.2 405.5h.8v.8h-.8zM119.4 401.3h.8v.8h-.8zM110.2 409.5h.8v.8h-.8zM110.9 408.9h.8v.8h-.8zM108.0 410.0h.8v.8h-.8zM114.1 409.0h.8v.8h-.8zM112.1 408.4h.8v.8h-.8zM110.6 403.1h.8v.8h-.8zM117.6 407.7h.8v.8h-.8zM114.4 411.0h.8v.8h-.8zM113.2 404.6h.8v.8h-.8zM117.2 411.2h.8v.8h-.8zM113.9 408.0h.8v.8h-.8zM114.3 404.4h.8v.8h-.8zM110.6 406.4h.8v.8h-.8zM113.4 410.3h.8v.8h-.8zM113.4 407.2h.8v.8h-.8zM112.5 406.2h.8v.8h-.8zM110.8 414.0h.8v.8h-.8zM110.3 412.2h.8v.8h-.8zM106.6 405.0h.8v.8h-.8zM111.3 411.9h.8v.8h-.8zM114.4 404.9h.8v.8h-.8zM114.2 407.9h.8v.8h-.8zM115.1 402.7h.8v.8h-.8zM112.3 406.9h.8v.8h-.8zM109.4 403.9h.8v.8h-.8zM114.8 410.0h.8v.8h-.8zM117.9 409.3h.8v.8h-.8zM116.6 407.0h.8v.8h-.8zM113.6 411.2h.8v.8h-.8zM109.4 412.1h.8v.8h-.8zM111.4 410.4h.8v.8h-.8zM114.6 402.9h.8v.8h-.8zM118.7 401.3h.8v.8h-.8zM106.4 410.8h.8v.8h-.8zM108.9 405.4h.8v.8h-.8zM111.8 404.3h.8v.8h-.8zM115.8 408.5h.8v.8h-.8zM115.4 409.1h.8v.8h-.8zM113.0 404.6h.8v.8h-.8zM113.2 408.0h.8v.8h-.8zM115.7 411.4h.8v.8h-.8zM109.5 409.3h.8v.8h-.8zM118.5 407.7h.8v.8h-.8zM115.4 406.2h.8v.8h-.8zM117.1 408.9h.8v.8h-.8zM115.3 412.1h.8v.8h-.8zM106.1 404.1h.8v.8h-.8zM115.5 405.7h.8v.8h-.8zM110.5 404.3h.8v.8h-.8zM111.7 406.7h.8v.8h-.8zM113.4 409.0h.8v.8h-.8zM116.0 401.3h.8v.8h-.8zM114.9 411.7h.8v.8h-.8zM112.2 411.6h.8v.8h-.8zM111.3 405.0h.8v.8h-.8zM113.4 409.7h.8v.8h-.8zM112.0 413.3h.8v.8h-.8zM116.4 406.6h.8v.8h-.8zM111.8 407.8h.8v.8h-.8zM112.5 410.4h.8v.8h-.8zM112.8 410.5h.8v.8h-.8zM114.1 406.8h.8v.8h-.8zM117.0 413.8h.8v.8h-.8zM109.8 399.7h.8v.8h-.8zM118.5 405.9h.8v.8h-.8zM111.8 408.6h.8v.8h-.8zM116.5 405.7h.8v.8h-.8zM113.6 400.0h.8v.8h-.8zM111.4 401.9h.8v.8h-.8zM110.0 412.1h.8v.8h-.8zM115.9 404.5h.8v.8h-.8zM106.6 401.8h.8v.8h-.8zM112.3 413.2h.8v.8h-.8zM118.6 405.8h.8v.8h-.8zM114.3 404.9h.8v.8h-.8zM103.9 406.4h.8v.8h-.8zM111.9 405.6h.8v.8h-.8zM118.3 404.0h.8v.8h-.8zM109.8 404.1h.8v.8h-.8zM114.9 411.6h.8v.8h-.8zM114.3 409.9h.8v.8h-.8zM115.3 403.4h.8v.8h-.8zM114.5 405.1h.8v.8h-.8zM111.7 408.8h.8v.8h-.8zM107.6 412.2h.8v.8h-.8zM116.9 410.2h.8v.8h-.8zM113.3 410.8h.8v.8h-.8zM114.8 403.0h.8v.8h-.8zM115.4 403.9h.8v.8h-.8zM119.3 410.2h.8v.8h-.8zM109.2 402.3h.8v.8h-.8zM119.6 410.8h.8v.8h-.8zM112.2 402.0h.8v.8h-.8zM110.1 406.6h.8v.8h-.8zM118.2 406.6h.8v.8h-.8zM110.3 406.0h.8v.8h-.8zM110.0 404.4h.8v.8h-.8zM112.2 407.2h.8v.8h-.8zM119.6 409.1h.8v.8h-.8zM121.0 401.9h.8v.8h-.8zM108.1 404.2h.8v.8h-.8zM117.5 400.9h.8v.8h-.8zM116.0 404.1h.8v.8h-.8zM113.0 411.8h.8v.8h-.8zM114.8 414.5h.8v.8h-.8zM109.4 406.4h.8v.8h-.8zM111.6 410.2h.8v.8h-.8zM120.8 409.4h.8v.8h-.8zM112.3 407.5h.8v.8h-.8zM115.9 401.8h.8v.8h-.8zM113.4 408.8h.8v.8h-.8zM111.2 402.0h.8v.8h-.8zM116.7 412.5h.8v.8h-.8zM111.3 409.0h.8v.8h-.8zM107.1 407.1h.8v.8h-.8zM116.5 406.3h.8v.8h-.8zM117.3 405.1h.8v.8h-.8zM113.7 401.5h.8v.8h-.8zM117.8 408.4h.8v.8h-.8zM110.6 410.5h.8v.8h-.8zM111.8 403.7h.8v.8h-.8zM109.4 405.6h.8v.8h-.8zM112.2 410.7h.8v.8h-.8zM111.9 403.5h.8v.8h-.8zM117.1 407.6h.8v.8h-.8zM110.6 412.7h.8v.8h-.8zM105.6 404.5h.8v.8h-.8zM107.9 406.6h.8v.8h-.8zM112.5 412.5h.8v.8h-.8zM113.0 408.3h.8v.8h-.8zM108.0 404.1h.8v.8h-.8zM113.2 406.8h.8v.8h-.8zM112.0 409.7h.8v.8h-.8zM106.9 399.7h.8v.8h-.8zM112.7 407.7h.8v.8h-.8zM112.6 406.3h.8v.8h-.8zM114.6 409.6h.8v.8h-.8zM112.4 404.8h.8v.8h-.8zM117.5 409.6h.8v.8h-.8zM119.1 405.8h.8v.8h-.8zM111.9 408.3h.8v.8h-.8zM108.4 412.7h.8v.8h-.8zM110.0 403.4h.8v.8h-.8zM108.8 404.3h.8v.8h-.8zM118.4 408.6h.8v.8h-.8zM117.3 408.4h.8v.8h-.8zM119.5 405.7h.8v.8h-.8zM109.1 402.1h.8v.8h-.8zM118.2 412.5h.8v.8h-.8zM111.0 406.5h.8v.8h-.8zM115.2 406.8h.8v.8h-.8zM112.8 412.1h.8v.8h-.8zM109.4 411.1h.8v.8h-.8zM112.5 404.9h.8v.8h-.8zM112.8 405.3h.8v.8h-.8zM115.5 408.5h.8v.8h-.8zM112.6 403.2h.8v.8h-.8zM110.2 408.2h.8v.8h-.8zM117.6 404.6h.8v.8h-.8zM111.0 411.4h.8v.8h-.8zM115.6 405.7h.8v.8h-.8zM116.3 405.8h.8v.8h-.8zM112.2 413.3h.8v.8h-.8zM108.9 412.0h.8v.8h-.8zM113.9 412.0h.8v.8h-.8zM109.0 400.8h.8v.8h-.8zM116.4 406.7h.8v.8h-.8zM113.1 413.5h.8v.8h-.8zM109.7 405.8h.8v.8h-.8zM119.5 407.3h.8v.8h-.8zM115.9 406.4h.8v.8h-.8zM115.4 408.2h.8v.8h-.8zM113.0 407.7h.8v.8h-.8zM114.8 407.8h.8v.8h-.8zM111.2 404.6h.8v.8h-.8zM118.4 414.2h.8v.8h-.8zM112.9 409.4h.8v.8h-.8zM112.1 410.2h.8v.8h-.8zM110.7 402.5h.8v.8h-.8zM113.9 408.7h.8v.8h-.8zM114.6 406.6h.8v.8h-.8zM118.0 407.3h.8v.8h-.8zM115.8 408.9h.8v.8h-.8zM122.8 411.7h.8v.8h-.8zM114.2 405.8h.8v.8h-.8zM112.1 407.3h.8v.8h-.8zM115.1 409.6h.8v.8h-.8zM114.1 406.6h.8v.8h-.8zM112.1 408.3h.8v.8h-.8zM113.3 408.9h.8v.8h-.8zM115.0 406.7h.8v.8h-.8zM107.0 408.4h.8v.8h-.8zM111.3 405.4h.8v.8h-.8zM124.1 400.7h.8v.8h-.8zM115.0 404.2h.8v.8h-.8zM110.4 404.8h.8v.8h-.8zM116.7 410.8h.8v.8h-.8zM109.1 402.6h.8v.8h-.8zM113.6 413.3h.8v.8h-.8zM114.9 403.5h.8v.8h-.8zM112.3 410.1h.8v.8h-.8zM107.5 405.2h.8v.8h-.8zM111.2 406.9h.8v.8h-.8zM117.7 401.6h.8v.8h-.8zM107.9 408.7h.8v.8h-.8zM109.2 406.6h.8v.8h-.8zM107.0 406.3h.8v.8h-.8zM112.3 411.6h.8v.8h-.8zM114.7 414.6h.8v.8h-.8zM115.0 409.3h.8v.8h-.8zM108.4 403.8h.8v.8h-.8zM110.6 406.3h.8v.8h-.8zM112.3 408.3h.8v.8h-.8zM112.4 403.2h.8v.8h-.8zM116.0 405.4h.8v.8h-.8zM114.6 405.7h.8v.8h-.8zM116.6 409.4h.8v.8h-.8zM113.4 395.4h.8v.8h-.8zM113.6 405.9h.8v.8h-.8zM111.0 407.9h.8v.8h-.8zM109.5 413.0h.8v.8h-.8zM114.6 404.7h.8v.8h-.8zM106.4 408.4h.8v.8h-.8zM110.6 411.5h.8v.8h-.8zM111.8 406.8h.8v.8h-.8zM115.0 412.6h.8v.8h-.8zM113.5 400.9h.8v.8h-.8zM110.1 410.3h.8v.8h-.8zM122.3 405.5h.8v.8h-.8zM112.8 408.2h.8v.8h-.8zM113.4 409.3h.8v.8h-.8zM109.1 412.3h.8v.8h-.8zM119.5 408.5h.8v.8h-.8zM113.2 408.2h.8v.8h-.8zM116.1 405.1h.8v.8h-.8zM113.5 405.4h.8v.8h-.8zM112.7 372.3h.8v.8h-.8zM124.0 373.1h.8v.8h-.8zM115.8 371.9h.8v.8h-.8zM112.7 373.9h.8v.8h-.8zM123.7 372.6h.8v.8h-.8zM116.7 371.9h.8v.8h-.8zM121.3 370.8h.8v.8h-.8zM125.1 372.3h.8v.8h-.8zM126.4 370.3h.8v.8h-.8zM124.0 371.6h.8v.8h-.8zM115.8 373.8h.8v.8h-.8zM112.5 373.9h.8v.8h-.8zM120.2 372.6h.8v.8h-.8zM116.8 374.1h.8v.8h-.8zM122.4 371.6h.8v.8h-.8zM121.0 372.3h.8v.8h-.8zM116.6 370.0h.8v.8h-.8zM115.8 373.5h.8v.8h-.8zM114.9 373.2h.8v.8h-.8zM113.3 373.7h.8v.8h-.8zM121.2 371.8h.8v.8h-.8zM122.6 371.3h.8v.8h-.8zM125.5 372.0h.8v.8h-.8zM113.0 372.0h.8v.8h-.8zM125.6 372.8h.8v.8h-.8zM123.5 371.3h.8v.8h-.8zM112.2 371.9h.8v.8h-.8zM120.7 370.0h.8v.8h-.8zM122.0 375.0h.8v.8h-.8zM111.9 376.8h.8v.8h-.8zM119.6 374.2h.8v.8h-.8zM125.6 373.8h.8v.8h-.8zM112.1 373.8h.8v.8h-.8zM125.8 370.2h.8v.8h-.8zM116.0 375.2h.8v.8h-.8zM119.5 370.8h.8v.8h-.8zM124.0 370.2h.8v.8h-.8zM122.3 370.3h.8v.8h-.8zM121.3 373.7h.8v.8h-.8zM123.0 374.1h.8v.8h-.8zM124.7 373.3h.8v.8h-.8zM125.6 373.3h.8v.8h-.8zM114.2 373.4h.8v.8h-.8zM115.8 370.5h.8v.8h-.8zM115.8 373.8h.8v.8h-.8zM113.7 375.3h.8v.8h-.8zM123.8 371.5h.8v.8h-.8zM125.0 372.4h.8v.8h-.8zM115.2 373.8h.8v.8h-.8zM117.1 369.9h.8v.8h-.8zM116.6 374.9h.8v.8h-.8zM127.1 370.1h.8v.8h-.8zM114.5 373.2h.8v.8h-.8zM121.3 371.6h.8v.8h-.8zM118.0 373.9h.8v.8h-.8zM123.6 372.0h.8v.8h-.8zM119.3 374.1h.8v.8h-.8zM120.9 374.7h.8v.8h-.8zM123.5 371.3h.8v.8h-.8zM123.9 370.8h.8v.8h-.8zM123.6 372.5h.8v.8h-.8zM114.7 373.9h.8v.8h-.8zM124.5 371.3h.8v.8h-.8zM119.6 372.7h.8v.8h-.8zM119.4 373.1h.8v.8h-.8zM120.3 373.0h.8v.8h-.8zM120.4 374.2h.8v.8h-.8zM122.6 372.0h.8v.8h-.8zM120.7 371.2h.8v.8h-.8zM119.7 370.7h.8v.8h-.8zM114.5 374.1h.8v.8h-.8zM123.0 373.0h.8v.8h-.8zM125.6 372.7h.8v.8h-.8zM113.6 372.6h.8v.8h-.8zM111.8 372.6h.8v.8h-.8zM113.8 372.8h.8v.8h-.8zM125.3 372.4h.8v.8h-.8zM115.4 373.5h.8v.8h-.8zM119.2 373.7h.8v.8h-.8zM114.7 373.2h.8v.8h-.8zM112.4 374.1h.8v.8h-.8zM112.0 373.8h.8v.8h-.8zM116.4 372.3h.8v.8h-.8zM124.5 370.9h.8v.8h-.8zM119.6 373.4h.8v.8h-.8zM112.0 374.0h.8v.8h-.8zM121.6 369.1h.8v.8h-.8zM114.6 372.6h.8v.8h-.8zM114.4 370.6h.8v.8h-.8zM125.4 374.2h.8v.8h-.8zM116.7 374.0h.8v.8h-.8zM120.9 373.8h.8v.8h-.8zM118.8 373.0h.8v.8h-.8zM121.8 370.9h.8v.8h-.8zM119.1 372.7h.8v.8h-.8zM123.0 371.9h.8v.8h-.8zM117.3 372.8h.8v.8h-.8zM114.6 372.9h.8v.8h-.8zM117.6 370.5h.8v.8h-.8zM124.4 371.4h.8v.8h-.8zM118.5 370.3h.8v.8h-.8zM120.2 372.0h.8v.8h-.8zM120.2 372.4h.8v.8h-.8zM123.1 373.7h.8v.8h-.8zM123.9 371.7h.8v.8h-.8zM112.5 374.1h.8v.8h-.8zM126.6 372.4h.8v.8h-.8zM118.4 369.6h.8v.8h-.8zM112.3 371.5h.8v.8h-.8zM113.8 371.7h.8v.8h-.8zM117.7 372.8h.8v.8h-.8zM118.7 370.2h.8v.8h-.8zM125.0 373.7h.8v.8h-.8zM118.3 371.3h.8v.8h-.8zM125.4 373.1h.8v.8h-.8zM124.1 370.6h.8v.8h-.8zM124.9 374.7h.8v.8h-.8zM120.3 370.9h.8v.8h-.8zM114.4 371.8h.8v.8h-.8zM117.0 374.6h.8v.8h-.8z" fill="#c81212" fill-opacity="0.7"/>
<path d="M87.1,403.9 L97.5,403.7 Q102.0,405.5 102.0,412.5 L100.5,414.7 L87.1,414.7 Z" fill="#e8161c" opacity="1" filter="url(#bl4)"/>
<rect x="87.0" y="405.0" width="11.0" height="9.7" fill="#e8161c" filter="url(#bl2)"/>
<ellipse cx="113.5" cy="408.0" rx="3.8" ry="3.8" fill="#e41c1c" opacity="0.71" filter="url(#bl4)"/>
<path d="M112.0,371.4 Q119.2,370.4 126.5,371.1 L126.5,372.2 Q119.2,374.2 112.0,375.2 Z" fill="#e01a1a" filter="url(#bl2)"/>
<path d="M113.0,372.5 Q119.2,371.6 123.5,371.6 Q119.2,373.1 113.0,374.1 Z" fill="#b81014" filter="url(#bl2)"/>
<rect x="86.50" y="361.50" width="55.00" height="54.00" fill="none" stroke="#555" stroke-width="0.75" />
<line x1="100.50" y1="361.50" x2="100.50" y2="415.50" stroke="#666" stroke-width="0.65" />
<line x1="86.50" y1="402.50" x2="141.50" y2="402.50" stroke="#666" stroke-width="0.65" />
<text x="129.10" y="368.48" font-size="6.6" font-weight="bold" text-anchor="start" fill="#222" stroke="#222" stroke-width="0.12" textLength="10.80" lengthAdjust="spacingAndGlyphs" >19%</text>
<text x="129.10" y="413.28" font-size="6.6" font-weight="bold" text-anchor="start" fill="#222" stroke="#222" stroke-width="0.12" textLength="10.80" lengthAdjust="spacingAndGlyphs" >15%</text>
<line x1="85.50" y1="415.50" x2="86.50" y2="415.50" stroke="#555" stroke-width="0.4" />
<text x="84.70" y="416.40" font-size="2.6" font-weight="bold" text-anchor="end" fill="#444" >10</text>
<line x1="85.50" y1="402.00" x2="86.50" y2="402.00" stroke="#555" stroke-width="0.4" />
<text x="84.70" y="402.90" font-size="2.6" font-weight="bold" text-anchor="end" fill="#444" >10</text>
<line x1="85.50" y1="388.50" x2="86.50" y2="388.50" stroke="#555" stroke-width="0.4" />
<text x="84.70" y="389.40" font-size="2.6" font-weight="bold" text-anchor="end" fill="#444" >10</text>
<line x1="85.50" y1="375.00" x2="86.50" y2="375.00" stroke="#555" stroke-width="0.4" />
<text x="84.70" y="375.90" font-size="2.6" font-weight="bold" text-anchor="end" fill="#444" >10</text>
<line x1="85.50" y1="361.50" x2="86.50" y2="361.50" stroke="#555" stroke-width="0.4" />
<text x="84.70" y="362.40" font-size="2.6" font-weight="bold" text-anchor="end" fill="#444" >10</text>
<line x1="86.50" y1="415.50" x2="86.50" y2="416.50" stroke="#555" stroke-width="0.4" />
<text x="86.50" y="418.50" font-size="2.6" font-weight="bold" text-anchor="middle" fill="#444" transform="rotate(-45 86.50 418.50)" >10</text>
<line x1="100.25" y1="415.50" x2="100.25" y2="416.50" stroke="#555" stroke-width="0.4" />
<text x="100.25" y="418.50" font-size="2.6" font-weight="bold" text-anchor="middle" fill="#444" transform="rotate(-45 100.25 418.50)" >10</text>
<line x1="114.00" y1="415.50" x2="114.00" y2="416.50" stroke="#555" stroke-width="0.4" />
<text x="114.00" y="418.50" font-size="2.6" font-weight="bold" text-anchor="middle" fill="#444" transform="rotate(-45 114.00 418.50)" >10</text>
<line x1="127.75" y1="415.50" x2="127.75" y2="416.50" stroke="#555" stroke-width="0.4" />
<text x="127.75" y="418.50" font-size="2.6" font-weight="bold" text-anchor="middle" fill="#444" transform="rotate(-45 127.75 418.50)" >10</text>
<line x1="141.50" y1="415.50" x2="141.50" y2="416.50" stroke="#555" stroke-width="0.4" />
<text x="141.50" y="418.50" font-size="2.6" font-weight="bold" text-anchor="middle" fill="#444" transform="rotate(-45 141.50 418.50)" >10</text>
<path d="M168.2 392.4h.8v.8h-.8zM177.2 378.2h.8v.8h-.8zM177.7 382.4h.8v.8h-.8zM173.4 381.7h.8v.8h-.8zM184.1 373.6h.8v.8h-.8zM177.4 397.4h.8v.8h-.8zM176.5 378.4h.8v.8h-.8zM177.8 390.6h.8v.8h-.8zM165.6 390.2h.8v.8h-.8zM179.9 383.4h.8v.8h-.8zM171.7 385.3h.8v.8h-.8zM177.2 381.5h.8v.8h-.8zM186.7 379.4h.8v.8h-.8zM175.2 380.5h.8v.8h-.8zM171.6 386.5h.8v.8h-.8zM187.6 372.3h.8v.8h-.8zM180.9 385.0h.8v.8h-.8zM183.7 378.3h.8v.8h-.8zM174.6 382.9h.8v.8h-.8zM181.4 373.5h.8v.8h-.8zM182.4 375.2h.8v.8h-.8zM188.5 375.7h.8v.8h-.8zM174.7 389.4h.8v.8h-.8zM174.5 394.6h.8v.8h-.8zM187.1 380.7h.8v.8h-.8zM180.6 385.9h.8v.8h-.8zM167.0 394.5h.8v.8h-.8zM167.0 397.1h.8v.8h-.8zM172.5 398.1h.8v.8h-.8zM172.8 386.0h.8v.8h-.8zM173.5 394.9h.8v.8h-.8zM182.7 384.2h.8v.8h-.8zM185.1 374.8h.8v.8h-.8zM181.6 375.9h.8v.8h-.8zM173.1 401.5h.8v.8h-.8zM181.0 379.4h.8v.8h-.8zM184.9 376.9h.8v.8h-.8zM173.9 396.7h.8v.8h-.8zM186.7 377.9h.8v.8h-.8zM183.2 372.7h.8v.8h-.8zM182.2 385.1h.8v.8h-.8zM182.0 379.2h.8v.8h-.8zM173.4 392.4h.8v.8h-.8zM171.8 384.2h.8v.8h-.8zM188.4 376.5h.8v.8h-.8zM174.3 392.1h.8v.8h-.8zM172.6 392.1h.8v.8h-.8zM177.2 388.8h.8v.8h-.8zM174.5 377.7h.8v.8h-.8zM169.1 389.2h.8v.8h-.8zM191.7 377.1h.8v.8h-.8zM173.7 381.8h.8v.8h-.8zM180.2 386.4h.8v.8h-.8zM186.0 379.6h.8v.8h-.8zM168.3 393.9h.8v.8h-.8zM179.5 377.5h.8v.8h-.8zM172.9 395.0h.8v.8h-.8zM188.2 384.1h.8v.8h-.8zM167.3 398.2h.8v.8h-.8zM177.5 388.4h.8v.8h-.8zM177.1 388.0h.8v.8h-.8zM177.5 385.1h.8v.8h-.8zM181.6 381.8h.8v.8h-.8zM181.1 381.2h.8v.8h-.8zM184.5 386.6h.8v.8h-.8zM175.4 373.7h.8v.8h-.8zM160.0 397.5h.8v.8h-.8zM170.2 389.9h.8v.8h-.8zM179.3 378.7h.8v.8h-.8zM168.3 398.6h.8v.8h-.8zM183.9 374.3h.8v.8h-.8zM189.0 372.2h.8v.8h-.8zM180.5 394.9h.8v.8h-.8zM186.7 375.9h.8v.8h-.8zM183.9 378.9h.8v.8h-.8zM169.4 399.4h.8v.8h-.8zM183.7 374.8h.8v.8h-.8zM192.2 379.7h.8v.8h-.8zM182.0 384.2h.8v.8h-.8zM169.7 390.5h.8v.8h-.8zM175.2 387.6h.8v.8h-.8zM174.1 386.1h.8v.8h-.8zM164.7 395.5h.8v.8h-.8zM163.8 398.7h.8v.8h-.8zM169.4 394.0h.8v.8h-.8zM170.4 392.3h.8v.8h-.8zM184.5 374.0h.8v.8h-.8zM176.0 385.6h.8v.8h-.8zM178.8 379.9h.8v.8h-.8zM178.6 387.5h.8v.8h-.8zM184.1 378.6h.8v.8h-.8zM175.6 390.9h.8v.8h-.8zM186.9 380.5h.8v.8h-.8zM181.7 384.4h.8v.8h-.8zM184.4 373.7h.8v.8h-.8zM174.8 381.8h.8v.8h-.8zM167.2 383.9h.8v.8h-.8zM170.4 393.7h.8v.8h-.8zM172.8 390.1h.8v.8h-.8zM174.9 388.3h.8v.8h-.8zM170.8 380.7h.8v.8h-.8zM162.4 401.3h.8v.8h-.8zM173.8 390.1h.8v.8h-.8zM179.0 385.7h.8v.8h-.8zM183.9 395.7h.8v.8h-.8zM185.0 371.7h.8v.8h-.8zM184.2 378.8h.8v.8h-.8zM172.4 387.7h.8v.8h-.8zM189.9 371.6h.8v.8h-.8zM165.8 390.2h.8v.8h-.8zM179.2 379.3h.8v.8h-.8zM182.6 376.0h.8v.8h-.8zM187.8 386.1h.8v.8h-.8zM186.7 379.2h.8v.8h-.8zM176.3 381.9h.8v.8h-.8zM180.1 381.5h.8v.8h-.8zM185.9 377.4h.8v.8h-.8zM169.4 391.5h.8v.8h-.8zM185.2 377.2h.8v.8h-.8zM170.9 389.5h.8v.8h-.8zM178.2 385.1h.8v.8h-.8zM165.3 392.4h.8v.8h-.8zM169.3 400.1h.8v.8h-.8zM171.3 392.8h.8v.8h-.8zM184.1 377.3h.8v.8h-.8zM191.9 372.2h.8v.8h-.8zM183.1 371.0h.8v.8h-.8zM182.8 394.0h.8v.8h-.8zM172.3 392.1h.8v.8h-.8zM182.5 377.9h.8v.8h-.8zM193.7 375.1h.8v.8h-.8zM177.6 372.8h.8v.8h-.8zM186.4 373.7h.8v.8h-.8zM179.9 393.4h.8v.8h-.8zM190.1 374.0h.8v.8h-.8zM182.1 392.5h.8v.8h-.8zM174.1 392.4h.8v.8h-.8zM178.9 380.2h.8v.8h-.8zM161.4 396.6h.8v.8h-.8zM183.7 383.6h.8v.8h-.8zM184.5 377.7h.8v.8h-.8zM183.2 380.1h.8v.8h-.8zM180.6 383.5h.8v.8h-.8zM169.5 392.3h.8v.8h-.8zM173.8 392.3h.8v.8h-.8zM167.8 395.1h.8v.8h-.8zM180.3 382.6h.8v.8h-.8zM176.1 376.2h.8v.8h-.8zM180.0 378.3h.8v.8h-.8zM167.9 383.2h.8v.8h-.8zM171.1 382.8h.8v.8h-.8zM183.6 380.6h.8v.8h-.8zM169.8 395.4h.8v.8h-.8zM171.7 382.9h.8v.8h-.8zM184.4 374.5h.8v.8h-.8zM177.3 391.0h.8v.8h-.8zM177.5 375.4h.8v.8h-.8zM187.5 377.7h.8v.8h-.8zM179.8 380.2h.8v.8h-.8zM181.9 379.2h.8v.8h-.8zM169.8 393.0h.8v.8h-.8zM188.4 376.4h.8v.8h-.8zM177.4 378.7h.8v.8h-.8zM184.5 372.3h.8v.8h-.8zM189.1 377.5h.8v.8h-.8zM174.8 386.2h.8v.8h-.8zM182.1 388.2h.8v.8h-.8zM170.4 386.9h.8v.8h-.8zM175.7 380.1h.8v.8h-.8zM181.3 382.7h.8v.8h-.8zM164.3 397.0h.8v.8h-.8zM175.9 376.9h.8v.8h-.8zM164.5 390.0h.8v.8h-.8zM171.7 389.4h.8v.8h-.8zM180.2 390.6h.8v.8h-.8zM169.5 391.2h.8v.8h-.8zM172.2 394.8h.8v.8h-.8zM174.2 393.6h.8v.8h-.8zM162.4 386.4h.8v.8h-.8zM173.6 396.0h.8v.8h-.8zM167.9 391.2h.8v.8h-.8zM184.4 378.2h.8v.8h-.8zM172.3 377.2h.8v.8h-.8zM172.1 383.7h.8v.8h-.8zM176.0 383.4h.8v.8h-.8zM155.1 404.5h.8v.8h-.8zM172.1 385.5h.8v.8h-.8zM179.2 382.4h.8v.8h-.8zM169.2 387.6h.8v.8h-.8zM182.5 381.8h.8v.8h-.8zM186.5 382.4h.8v.8h-.8zM184.7 375.7h.8v.8h-.8zM176.8 385.6h.8v.8h-.8zM171.9 385.6h.8v.8h-.8zM174.8 381.3h.8v.8h-.8zM176.5 374.0h.8v.8h-.8zM188.2 379.6h.8v.8h-.8zM174.3 387.8h.8v.8h-.8zM184.9 382.2h.8v.8h-.8zM166.1 398.7h.8v.8h-.8zM165.4 403.5h.8v.8h-.8zM173.6 392.9h.8v.8h-.8zM182.1 386.4h.8v.8h-.8zM179.6 381.9h.8v.8h-.8zM173.4 390.4h.8v.8h-.8zM173.6 398.4h.8v.8h-.8zM181.7 384.8h.8v.8h-.8zM191.4 378.2h.8v.8h-.8zM175.3 395.1h.8v.8h-.8zM169.7 391.9h.8v.8h-.8zM165.8 395.8h.8v.8h-.8zM183.0 376.9h.8v.8h-.8zM175.8 386.0h.8v.8h-.8zM173.7 382.7h.8v.8h-.8zM186.6 370.8h.8v.8h-.8zM167.7 388.5h.8v.8h-.8zM178.7 376.1h.8v.8h-.8zM175.1 379.1h.8v.8h-.8zM169.8 396.2h.8v.8h-.8zM176.0 381.7h.8v.8h-.8zM176.3 386.9h.8v.8h-.8zM172.4 384.5h.8v.8h-.8zM178.4 389.3h.8v.8h-.8zM178.0 386.2h.8v.8h-.8zM175.7 392.5h.8v.8h-.8zM184.7 382.2h.8v.8h-.8zM169.9 386.0h.8v.8h-.8zM189.0 378.9h.8v.8h-.8zM181.6 381.3h.8v.8h-.8zM176.0 388.2h.8v.8h-.8zM183.4 372.1h.8v.8h-.8zM183.9 373.3h.8v.8h-.8zM191.4 375.3h.8v.8h-.8zM187.3 367.4h.8v.8h-.8zM182.9 373.4h.8v.8h-.8zM182.3 380.8h.8v.8h-.8zM177.0 388.8h.8v.8h-.8zM178.9 385.7h.8v.8h-.8zM173.3 382.2h.8v.8h-.8zM171.7 400.6h.8v.8h-.8zM157.4 396.5h.8v.8h-.8zM175.2 371.8h.8v.8h-.8zM172.2 379.1h.8v.8h-.8zM167.9 379.6h.8v.8h-.8zM158.7 393.5h.8v.8h-.8zM159.3 390.1h.8v.8h-.8zM175.2 375.0h.8v.8h-.8zM154.9 393.4h.8v.8h-.8zM170.1 377.3h.8v.8h-.8zM167.0 383.1h.8v.8h-.8zM170.8 378.0h.8v.8h-.8zM157.4 394.3h.8v.8h-.8zM158.2 389.7h.8v.8h-.8zM178.0 373.8h.8v.8h-.8zM157.3 386.3h.8v.8h-.8zM156.4 398.8h.8v.8h-.8zM158.6 388.1h.8v.8h-.8zM164.0 384.2h.8v.8h-.8zM166.1 380.7h.8v.8h-.8zM169.8 378.8h.8v.8h-.8zM156.5 396.6h.8v.8h-.8zM166.0 382.9h.8v.8h-.8zM159.1 388.2h.8v.8h-.8zM170.3 375.9h.8v.8h-.8zM159.8 385.8h.8v.8h-.8zM162.9 384.2h.8v.8h-.8zM168.8 380.4h.8v.8h-.8zM167.2 379.6h.8v.8h-.8zM178.1 375.4h.8v.8h-.8zM168.1 374.6h.8v.8h-.8zM159.8 397.4h.8v.8h-.8zM174.5 377.0h.8v.8h-.8zM172.4 375.8h.8v.8h-.8zM158.6 390.2h.8v.8h-.8zM159.4 388.0h.8v.8h-.8zM165.8 382.5h.8v.8h-.8zM164.8 380.9h.8v.8h-.8zM157.8 387.6h.8v.8h-.8zM154.8 395.4h.8v.8h-.8zM174.3 373.3h.8v.8h-.8zM155.9 395.3h.8v.8h-.8zM154.4 392.3h.8v.8h-.8zM176.5 373.3h.8v.8h-.8zM161.7 383.4h.8v.8h-.8zM155.7 392.9h.8v.8h-.8zM171.3 373.6h.8v.8h-.8zM158.2 394.7h.8v.8h-.8zM164.0 385.6h.8v.8h-.8zM169.3 378.3h.8v.8h-.8zM156.1 388.2h.8v.8h-.8zM177.3 375.5h.8v.8h-.8zM163.5 384.6h.8v.8h-.8zM158.3 387.7h.8v.8h-.8zM170.5 377.2h.8v.8h-.8zM170.0 377.2h.8v.8h-.8zM161.6 387.2h.8v.8h-.8zM176.5 370.4h.8v.8h-.8zM156.1 390.6h.8v.8h-.8zM162.4 384.3h.8v.8h-.8zM174.6 375.4h.8v.8h-.8zM157.8 393.8h.8v.8h-.8zM175.0 374.3h.8v.8h-.8zM158.0 388.1h.8v.8h-.8zM176.3 372.7h.8v.8h-.8zM173.1 374.6h.8v.8h-.8zM165.4 381.4h.8v.8h-.8zM156.8 394.4h.8v.8h-.8zM171.4 376.0h.8v.8h-.8zM155.9 393.3h.8v.8h-.8zM171.8 375.6h.8v.8h-.8zM176.7 373.9h.8v.8h-.8zM170.1 376.7h.8v.8h-.8zM157.5 392.2h.8v.8h-.8zM163.1 383.4h.8v.8h-.8zM161.3 387.9h.8v.8h-.8zM176.6 374.7h.8v.8h-.8zM160.7 386.3h.8v.8h-.8zM173.2 373.4h.8v.8h-.8zM164.7 380.3h.8v.8h-.8zM161.7 392.7h.8v.8h-.8zM173.1 377.7h.8v.8h-.8zM158.5 390.9h.8v.8h-.8zM179.5 377.1h.8v.8h-.8zM156.9 390.2h.8v.8h-.8zM155.3 390.4h.8v.8h-.8zM171.5 375.2h.8v.8h-.8zM160.9 382.8h.8v.8h-.8zM167.8 375.5h.8v.8h-.8zM158.0 390.7h.8v.8h-.8zM158.6 389.3h.8v.8h-.8zM176.1 377.1h.8v.8h-.8zM169.2 378.8h.8v.8h-.8zM177.7 373.7h.8v.8h-.8zM156.1 390.5h.8v.8h-.8zM155.1 392.2h.8v.8h-.8zM157.2 392.2h.8v.8h-.8zM158.1 389.3h.8v.8h-.8zM161.1 385.7h.8v.8h-.8zM163.3 385.8h.8v.8h-.8zM165.9 379.4h.8v.8h-.8zM165.5 379.5h.8v.8h-.8zM160.8 387.6h.8v.8h-.8zM168.9 378.7h.8v.8h-.8zM160.9 387.3h.8v.8h-.8zM175.3 374.6h.8v.8h-.8zM168.3 381.6h.8v.8h-.8zM175.2 378.4h.8v.8h-.8zM169.8 377.4h.8v.8h-.8zM161.9 383.6h.8v.8h-.8zM162.7 383.7h.8v.8h-.8zM158.1 392.9h.8v.8h-.8zM169.0 377.9h.8v.8h-.8zM170.0 375.7h.8v.8h-.8zM165.8 380.8h.8v.8h-.8zM165.2 380.3h.8v.8h-.8zM160.9 386.4h.8v.8h-.8zM169.4 374.1h.8v.8h-.8zM166.7 378.5h.8v.8h-.8zM163.9 383.0h.8v.8h-.8zM167.0 381.0h.8v.8h-.8zM178.7 375.2h.8v.8h-.8zM174.9 370.4h.8v.8h-.8zM156.9 390.8h.8v.8h-.8zM164.0 383.8h.8v.8h-.8zM171.9 379.3h.8v.8h-.8zM156.9 392.7h.8v.8h-.8zM175.1 373.8h.8v.8h-.8zM176.6 376.4h.8v.8h-.8zM166.9 383.6h.8v.8h-.8zM160.1 385.4h.8v.8h-.8zM175.8 376.5h.8v.8h-.8zM168.2 379.5h.8v.8h-.8zM169.8 376.7h.8v.8h-.8zM169.6 377.2h.8v.8h-.8zM164.6 381.9h.8v.8h-.8zM173.0 377.9h.8v.8h-.8zM177.7 371.1h.8v.8h-.8zM160.0 389.0h.8v.8h-.8zM158.2 392.7h.8v.8h-.8zM161.9 385.5h.8v.8h-.8zM160.9 386.2h.8v.8h-.8zM164.9 378.4h.8v.8h-.8zM155.9 393.0h.8v.8h-.8zM170.8 378.2h.8v.8h-.8zM176.5 373.4h.8v.8h-.8zM160.0 390.3h.8v.8h-.8zM156.1 384.8h.8v.8h-.8zM164.9 386.0h.8v.8h-.8zM159.1 384.7h.8v.8h-.8zM167.4 380.8h.8v.8h-.8zM166.8 379.0h.8v.8h-.8zM172.7 377.1h.8v.8h-.8zM169.7 380.5h.8v.8h-.8zM156.6 393.6h.8v.8h-.8zM155.3 391.3h.8v.8h-.8zM165.9 381.0h.8v.8h-.8zM163.7 385.2h.8v.8h-.8zM155.3 391.5h.8v.8h-.8zM162.3 386.4h.8v.8h-.8zM159.4 383.9h.8v.8h-.8zM172.3 376.4h.8v.8h-.8zM160.7 389.5h.8v.8h-.8zM159.2 385.3h.8v.8h-.8zM155.8 388.4h.8v.8h-.8zM162.8 387.8h.8v.8h-.8zM159.4 390.7h.8v.8h-.8zM157.3 391.0h.8v.8h-.8zM172.3 371.9h.8v.8h-.8zM176.5 372.9h.8v.8h-.8zM160.4 386.3h.8v.8h-.8zM176.6 375.9h.8v.8h-.8zM163.8 383.1h.8v.8h-.8zM166.0 383.1h.8v.8h-.8zM161.3 385.2h.8v.8h-.8zM165.8 378.2h.8v.8h-.8zM164.8 379.3h.8v.8h-.8zM170.8 379.4h.8v.8h-.8zM175.9 372.5h.8v.8h-.8zM155.2 393.9h.8v.8h-.8zM157.2 393.5h.8v.8h-.8zM169.4 379.5h.8v.8h-.8zM166.8 381.0h.8v.8h-.8zM167.5 382.7h.8v.8h-.8zM171.4 377.3h.8v.8h-.8zM159.7 391.1h.8v.8h-.8zM157.7 386.1h.8v.8h-.8zM161.0 384.8h.8v.8h-.8zM156.4 394.2h.8v.8h-.8zM162.5 385.3h.8v.8h-.8zM154.9 393.3h.8v.8h-.8zM168.7 377.6h.8v.8h-.8zM158.5 388.1h.8v.8h-.8zM157.0 393.9h.8v.8h-.8zM171.9 374.7h.8v.8h-.8zM157.4 394.2h.8v.8h-.8zM166.5 381.6h.8v.8h-.8zM157.7 391.3h.8v.8h-.8zM165.8 384.6h.8v.8h-.8zM177.0 382.4h.8v.8h-.8zM175.8 388.9h.8v.8h-.8zM185.0 378.3h.8v.8h-.8zM178.6 397.0h.8v.8h-.8zM178.8 394.3h.8v.8h-.8zM179.9 384.2h.8v.8h-.8zM175.7 379.0h.8v.8h-.8zM181.6 395.9h.8v.8h-.8zM179.9 391.9h.8v.8h-.8zM181.1 380.7h.8v.8h-.8zM182.7 382.7h.8v.8h-.8zM182.6 397.4h.8v.8h-.8zM183.9 398.8h.8v.8h-.8zM181.9 386.7h.8v.8h-.8zM181.0 396.3h.8v.8h-.8zM185.8 389.5h.8v.8h-.8zM179.1 395.5h.8v.8h-.8zM181.8 394.4h.8v.8h-.8zM175.8 393.2h.8v.8h-.8zM181.5 399.2h.8v.8h-.8zM183.0 396.9h.8v.8h-.8zM182.3 393.5h.8v.8h-.8zM177.3 392.7h.8v.8h-.8zM184.5 397.3h.8v.8h-.8zM179.3 393.9h.8v.8h-.8zM179.3 387.8h.8v.8h-.8zM179.8 387.1h.8v.8h-.8zM179.3 392.5h.8v.8h-.8zM181.6 397.4h.8v.8h-.8zM176.0 380.5h.8v.8h-.8zM179.2 384.2h.8v.8h-.8zM184.1 396.9h.8v.8h-.8zM183.9 395.3h.8v.8h-.8zM178.0 387.4h.8v.8h-.8zM178.3 385.0h.8v.8h-.8zM184.2 396.3h.8v.8h-.8zM182.3 397.3h.8v.8h-.8zM181.7 394.9h.8v.8h-.8zM179.5 384.1h.8v.8h-.8zM181.9 392.5h.8v.8h-.8zM178.1 386.4h.8v.8h-.8zM178.7 381.6h.8v.8h-.8zM175.7 384.6h.8v.8h-.8zM179.9 381.5h.8v.8h-.8zM184.2 391.7h.8v.8h-.8zM186.4 399.3h.8v.8h-.8zM180.4 395.6h.8v.8h-.8zM178.2 387.6h.8v.8h-.8zM181.6 397.4h.8v.8h-.8zM182.2 398.7h.8v.8h-.8zM179.0 384.9h.8v.8h-.8zM180.3 387.2h.8v.8h-.8zM181.0 395.0h.8v.8h-.8zM179.5 398.7h.8v.8h-.8zM176.1 380.1h.8v.8h-.8zM183.5 399.6h.8v.8h-.8zM181.6 393.5h.8v.8h-.8zM184.6 397.2h.8v.8h-.8zM179.9 398.6h.8v.8h-.8zM179.6 395.2h.8v.8h-.8zM179.8 384.3h.8v.8h-.8zM181.7 380.7h.8v.8h-.8zM183.3 397.4h.8v.8h-.8zM179.9 386.8h.8v.8h-.8zM176.8 386.2h.8v.8h-.8zM183.9 384.1h.8v.8h-.8zM181.2 394.1h.8v.8h-.8zM179.0 396.8h.8v.8h-.8zM182.5 385.1h.8v.8h-.8zM184.2 399.3h.8v.8h-.8zM179.7 384.0h.8v.8h-.8zM182.4 391.6h.8v.8h-.8zM177.4 391.6h.8v.8h-.8zM177.0 396.2h.8v.8h-.8zM182.3 388.8h.8v.8h-.8zM178.0 391.9h.8v.8h-.8zM181.1 398.8h.8v.8h-.8zM179.8 396.2h.8v.8h-.8zM183.0 392.1h.8v.8h-.8zM185.1 381.4h.8v.8h-.8zM180.1 385.6h.8v.8h-.8zM177.7 396.2h.8v.8h-.8zM186.0 401.1h.8v.8h-.8zM180.0 384.7h.8v.8h-.8zM177.7 396.5h.8v.8h-.8zM180.9 393.4h.8v.8h-.8zM178.2 387.3h.8v.8h-.8zM178.9 388.2h.8v.8h-.8zM181.1 387.0h.8v.8h-.8zM183.8 395.5h.8v.8h-.8zM182.0 400.6h.8v.8h-.8zM182.1 397.0h.8v.8h-.8zM186.2 397.3h.8v.8h-.8zM175.4 389.1h.8v.8h-.8zM180.5 400.7h.8v.8h-.8zM181.5 378.6h.8v.8h-.8zM181.8 383.8h.8v.8h-.8zM186.5 394.0h.8v.8h-.8zM182.2 397.5h.8v.8h-.8zM179.0 400.0h.8v.8h-.8zM179.4 382.2h.8v.8h-.8zM182.4 388.5h.8v.8h-.8zM178.2 385.8h.8v.8h-.8zM178.3 390.6h.8v.8h-.8zM180.4 392.7h.8v.8h-.8zM181.5 380.9h.8v.8h-.8zM178.9 394.0h.8v.8h-.8zM179.3 389.2h.8v.8h-.8zM181.6 400.4h.8v.8h-.8zM180.4 392.4h.8v.8h-.8zM175.9 380.4h.8v.8h-.8zM180.5 377.3h.8v.8h-.8zM178.5 397.3h.8v.8h-.8zM181.7 385.0h.8v.8h-.8zM183.6 390.3h.8v.8h-.8zM181.2 401.5h.8v.8h-.8zM177.8 378.4h.8v.8h-.8zM182.6 378.1h.8v.8h-.8zM178.7 386.7h.8v.8h-.8zM179.8 394.3h.8v.8h-.8zM179.9 382.7h.8v.8h-.8zM180.3 400.2h.8v.8h-.8zM182.9 398.8h.8v.8h-.8zM178.9 403.1h.8v.8h-.8zM182.1 380.8h.8v.8h-.8zM176.7 394.4h.8v.8h-.8zM180.0 391.5h.8v.8h-.8zM183.4 390.1h.8v.8h-.8zM177.6 388.3h.8v.8h-.8zM179.9 394.0h.8v.8h-.8zM182.2 387.5h.8v.8h-.8zM177.5 384.8h.8v.8h-.8zM178.3 383.9h.8v.8h-.8zM178.4 382.1h.8v.8h-.8zM179.2 394.1h.8v.8h-.8zM183.2 385.0h.8v.8h-.8zM182.9 379.4h.8v.8h-.8zM179.9 393.0h.8v.8h-.8zM181.4 391.4h.8v.8h-.8zM177.8 394.6h.8v.8h-.8zM179.9 394.8h.8v.8h-.8zM181.5 386.8h.8v.8h-.8zM180.8 386.2h.8v.8h-.8zM177.2 389.5h.8v.8h-.8zM178.7 391.5h.8v.8h-.8zM181.8 395.8h.8v.8h-.8zM185.5 397.8h.8v.8h-.8zM178.1 384.2h.8v.8h-.8zM183.0 404.0h.8v.8h-.8zM176.1 385.2h.8v.8h-.8zM169.0 409.9h.8v.8h-.8zM167.1 414.1h.8v.8h-.8zM159.2 404.6h.8v.8h-.8zM165.1 409.0h.8v.8h-.8zM160.2 410.3h.8v.8h-.8zM164.3 411.1h.8v.8h-.8zM169.2 402.4h.8v.8h-.8zM171.1 404.8h.8v.8h-.8zM166.4 408.1h.8v.8h-.8zM164.0 411.6h.8v.8h-.8zM165.3 403.0h.8v.8h-.8zM170.8 406.4h.8v.8h-.8zM164.0 399.8h.8v.8h-.8zM168.5 406.4h.8v.8h-.8zM164.8 395.2h.8v.8h-.8zM168.9 404.9h.8v.8h-.8zM155.6 409.4h.8v.8h-.8zM166.6 409.0h.8v.8h-.8zM165.3 412.0h.8v.8h-.8zM173.3 409.0h.8v.8h-.8zM163.9 407.2h.8v.8h-.8zM162.0 410.8h.8v.8h-.8zM160.7 404.2h.8v.8h-.8zM161.4 411.4h.8v.8h-.8zM163.7 406.5h.8v.8h-.8zM162.0 410.3h.8v.8h-.8zM160.5 398.1h.8v.8h-.8zM159.6 410.9h.8v.8h-.8zM165.2 400.8h.8v.8h-.8zM166.0 404.1h.8v.8h-.8zM168.9 411.0h.8v.8h-.8zM167.1 407.3h.8v.8h-.8zM163.2 407.6h.8v.8h-.8zM170.3 403.6h.8v.8h-.8zM156.5 409.4h.8v.8h-.8zM158.1 404.6h.8v.8h-.8zM168.6 400.9h.8v.8h-.8zM160.6 408.1h.8v.8h-.8zM168.3 409.6h.8v.8h-.8zM160.2 404.5h.8v.8h-.8zM159.9 413.9h.8v.8h-.8zM161.5 410.7h.8v.8h-.8zM165.6 407.1h.8v.8h-.8zM161.8 413.6h.8v.8h-.8zM162.9 410.7h.8v.8h-.8zM158.7 409.6h.8v.8h-.8zM168.0 411.6h.8v.8h-.8zM162.8 414.3h.8v.8h-.8zM166.5 407.1h.8v.8h-.8zM158.3 414.6h.8v.8h-.8zM162.0 412.5h.8v.8h-.8zM163.4 411.9h.8v.8h-.8zM168.5 407.0h.8v.8h-.8zM165.7 412.3h.8v.8h-.8zM169.7 410.7h.8v.8h-.8zM163.7 406.6h.8v.8h-.8zM162.8 409.4h.8v.8h-.8zM165.0 408.1h.8v.8h-.8zM164.5 410.5h.8v.8h-.8zM162.7 410.0h.8v.8h-.8zM160.7 411.0h.8v.8h-.8zM174.1 401.3h.8v.8h-.8zM163.9 407.5h.8v.8h-.8zM167.1 412.6h.8v.8h-.8zM176.2 402.4h.8v.8h-.8zM165.8 406.2h.8v.8h-.8zM166.4 409.9h.8v.8h-.8zM168.4 400.7h.8v.8h-.8zM159.4 403.3h.8v.8h-.8zM163.0 409.5h.8v.8h-.8zM157.7 404.7h.8v.8h-.8zM163.2 405.3h.8v.8h-.8zM163.8 406.5h.8v.8h-.8zM161.3 403.6h.8v.8h-.8zM158.1 399.7h.8v.8h-.8zM161.9 400.3h.8v.8h-.8zM162.3 403.0h.8v.8h-.8zM159.7 413.8h.8v.8h-.8zM172.4 410.4h.8v.8h-.8zM167.8 411.2h.8v.8h-.8zM165.1 403.9h.8v.8h-.8zM165.5 402.2h.8v.8h-.8zM166.7 410.6h.8v.8h-.8zM163.7 406.4h.8v.8h-.8zM157.5 414.3h.8v.8h-.8zM169.3 410.6h.8v.8h-.8zM173.4 413.2h.8v.8h-.8zM166.7 404.5h.8v.8h-.8zM166.5 412.8h.8v.8h-.8zM166.8 402.8h.8v.8h-.8zM164.2 411.1h.8v.8h-.8zM160.0 407.0h.8v.8h-.8zM165.9 411.4h.8v.8h-.8zM166.5 410.4h.8v.8h-.8zM159.7 410.9h.8v.8h-.8zM162.9 407.1h.8v.8h-.8zM163.2 406.9h.8v.8h-.8zM160.6 413.9h.8v.8h-.8zM161.4 405.3h.8v.8h-.8zM161.3 406.2h.8v.8h-.8zM159.4 409.1h.8v.8h-.8zM164.2 399.5h.8v.8h-.8zM161.8 412.0h.8v.8h-.8zM172.2 407.5h.8v.8h-.8zM164.3 411.5h.8v.8h-.8zM166.6 410.5h.8v.8h-.8zM162.5 400.0h.8v.8h-.8zM160.8 409.0h.8v.8h-.8zM167.1 407.4h.8v.8h-.8zM169.2 413.6h.8v.8h-.8zM162.4 408.9h.8v.8h-.8zM173.0 407.4h.8v.8h-.8zM174.6 400.7h.8v.8h-.8zM160.0 402.0h.8v.8h-.8zM167.6 408.7h.8v.8h-.8zM162.5 404.3h.8v.8h-.8zM162.7 408.2h.8v.8h-.8zM155.5 412.8h.8v.8h-.8zM164.6 408.1h.8v.8h-.8zM166.6 410.2h.8v.8h-.8zM159.1 405.5h.8v.8h-.8zM163.4 407.3h.8v.8h-.8zM162.2 411.8h.8v.8h-.8zM163.8 407.2h.8v.8h-.8zM159.1 407.7h.8v.8h-.8zM158.4 405.8h.8v.8h-.8zM165.5 409.4h.8v.8h-.8zM162.9 404.8h.8v.8h-.8zM160.4 405.0h.8v.8h-.8zM164.6 404.8h.8v.8h-.8zM161.4 402.9h.8v.8h-.8zM155.9 409.5h.8v.8h-.8zM168.3 404.7h.8v.8h-.8zM163.0 413.5h.8v.8h-.8zM159.2 406.6h.8v.8h-.8zM160.9 405.0h.8v.8h-.8zM171.1 406.3h.8v.8h-.8zM167.2 413.8h.8v.8h-.8zM169.2 403.3h.8v.8h-.8zM159.9 413.5h.8v.8h-.8zM167.7 409.4h.8v.8h-.8zM166.0 410.0h.8v.8h-.8zM167.1 400.1h.8v.8h-.8zM154.9 413.2h.8v.8h-.8zM160.8 410.2h.8v.8h-.8zM167.0 410.2h.8v.8h-.8zM172.7 411.7h.8v.8h-.8zM159.3 401.2h.8v.8h-.8zM159.4 409.7h.8v.8h-.8zM166.2 406.0h.8v.8h-.8zM167.8 406.2h.8v.8h-.8zM171.1 403.0h.8v.8h-.8zM162.6 406.1h.8v.8h-.8zM159.3 413.3h.8v.8h-.8zM156.4 401.6h.8v.8h-.8zM163.9 404.1h.8v.8h-.8zM161.2 407.8h.8v.8h-.8zM169.1 409.3h.8v.8h-.8zM169.6 403.5h.8v.8h-.8zM169.8 400.8h.8v.8h-.8zM160.0 411.6h.8v.8h-.8zM157.5 405.7h.8v.8h-.8zM161.3 407.6h.8v.8h-.8zM161.4 404.6h.8v.8h-.8zM169.2 406.8h.8v.8h-.8zM162.7 410.8h.8v.8h-.8zM164.2 405.4h.8v.8h-.8zM171.2 414.0h.8v.8h-.8zM169.5 399.7h.8v.8h-.8zM174.4 401.6h.8v.8h-.8zM166.2 412.0h.8v.8h-.8zM171.8 408.5h.8v.8h-.8zM168.0 407.3h.8v.8h-.8zM166.9 412.5h.8v.8h-.8zM158.2 406.4h.8v.8h-.8zM172.4 402.6h.8v.8h-.8zM160.9 403.7h.8v.8h-.8zM169.2 413.4h.8v.8h-.8zM163.2 413.2h.8v.8h-.8zM158.2 410.5h.8v.8h-.8zM159.9 406.5h.8v.8h-.8zM164.7 404.4h.8v.8h-.8zM167.1 401.0h.8v.8h-.8zM164.8 404.0h.8v.8h-.8zM155.0 404.5h.8v.8h-.8zM160.8 405.9h.8v.8h-.8zM166.4 406.6h.8v.8h-.8zM159.6 404.7h.8v.8h-.8zM162.6 409.2h.8v.8h-.8zM156.9 413.1h.8v.8h-.8zM164.4 412.6h.8v.8h-.8zM162.5 413.3h.8v.8h-.8zM159.3 400.5h.8v.8h-.8zM155.5 402.9h.8v.8h-.8zM158.3 403.1h.8v.8h-.8zM161.1 404.7h.8v.8h-.8zM172.8 405.8h.8v.8h-.8zM161.3 411.9h.8v.8h-.8zM158.0 402.8h.8v.8h-.8zM168.0 409.4h.8v.8h-.8zM171.9 402.1h.8v.8h-.8zM172.7 413.3h.8v.8h-.8zM163.5 405.8h.8v.8h-.8zM161.5 406.9h.8v.8h-.8zM165.9 406.9h.8v.8h-.8zM171.5 406.5h.8v.8h-.8zM154.5 409.9h.8v.8h-.8zM157.2 401.6h.8v.8h-.8zM162.1 406.5h.8v.8h-.8zM158.0 402.5h.8v.8h-.8zM166.2 407.5h.8v.8h-.8zM158.1 410.7h.8v.8h-.8zM167.0 409.6h.8v.8h-.8zM164.8 401.7h.8v.8h-.8zM159.3 403.4h.8v.8h-.8zM163.9 406.3h.8v.8h-.8zM157.2 407.0h.8v.8h-.8zM161.3 402.6h.8v.8h-.8zM158.6 412.7h.8v.8h-.8zM167.2 404.3h.8v.8h-.8zM162.1 412.2h.8v.8h-.8zM163.0 406.9h.8v.8h-.8zM158.8 404.8h.8v.8h-.8zM155.6 406.9h.8v.8h-.8zM164.3 405.9h.8v.8h-.8zM166.9 410.9h.8v.8h-.8zM160.4 406.6h.8v.8h-.8zM169.0 402.2h.8v.8h-.8zM167.0 406.7h.8v.8h-.8zM163.1 414.3h.8v.8h-.8zM155.9 404.1h.8v.8h-.8zM158.2 405.1h.8v.8h-.8zM163.7 411.6h.8v.8h-.8zM162.1 408.3h.8v.8h-.8zM157.2 407.3h.8v.8h-.8zM170.9 411.7h.8v.8h-.8zM163.9 404.3h.8v.8h-.8zM177.7 408.4h.8v.8h-.8zM167.8 414.2h.8v.8h-.8zM170.9 404.1h.8v.8h-.8zM162.2 408.5h.8v.8h-.8zM157.2 403.4h.8v.8h-.8zM161.1 413.9h.8v.8h-.8zM163.1 406.2h.8v.8h-.8zM172.7 408.8h.8v.8h-.8zM169.0 404.8h.8v.8h-.8zM159.5 406.9h.8v.8h-.8zM174.5 394.7h.8v.8h-.8zM159.0 405.9h.8v.8h-.8zM158.8 410.4h.8v.8h-.8zM163.8 406.1h.8v.8h-.8zM162.6 406.3h.8v.8h-.8zM168.0 409.6h.8v.8h-.8zM164.5 403.4h.8v.8h-.8zM160.9 404.9h.8v.8h-.8zM170.2 408.0h.8v.8h-.8zM171.3 414.2h.8v.8h-.8zM165.3 404.6h.8v.8h-.8zM168.0 398.8h.8v.8h-.8zM155.8 408.7h.8v.8h-.8zM162.6 409.2h.8v.8h-.8zM155.8 404.8h.8v.8h-.8zM161.2 409.8h.8v.8h-.8zM157.8 410.8h.8v.8h-.8zM164.1 413.1h.8v.8h-.8zM167.8 400.4h.8v.8h-.8zM164.4 401.4h.8v.8h-.8zM168.7 401.9h.8v.8h-.8zM162.5 405.2h.8v.8h-.8zM159.6 409.4h.8v.8h-.8zM164.9 402.6h.8v.8h-.8zM163.3 409.8h.8v.8h-.8zM167.5 412.3h.8v.8h-.8zM174.2 411.4h.8v.8h-.8zM167.7 401.9h.8v.8h-.8zM161.4 405.2h.8v.8h-.8zM167.2 402.7h.8v.8h-.8zM159.5 405.3h.8v.8h-.8zM162.7 407.7h.8v.8h-.8zM165.9 404.6h.8v.8h-.8zM167.7 405.8h.8v.8h-.8zM166.0 409.9h.8v.8h-.8zM159.1 410.9h.8v.8h-.8zM160.3 408.2h.8v.8h-.8zM165.6 410.8h.8v.8h-.8zM163.6 410.5h.8v.8h-.8zM166.0 404.6h.8v.8h-.8zM167.3 408.1h.8v.8h-.8zM165.3 407.9h.8v.8h-.8zM158.5 410.5h.8v.8h-.8zM166.0 405.8h.8v.8h-.8zM161.0 414.4h.8v.8h-.8zM164.6 404.3h.8v.8h-.8zM165.3 411.2h.8v.8h-.8zM163.2 402.1h.8v.8h-.8zM164.8 407.4h.8v.8h-.8zM169.7 407.0h.8v.8h-.8zM161.5 409.7h.8v.8h-.8zM164.2 407.8h.8v.8h-.8zM156.1 406.9h.8v.8h-.8zM163.6 408.0h.8v.8h-.8zM171.1 405.6h.8v.8h-.8zM163.9 402.7h.8v.8h-.8zM159.0 410.3h.8v.8h-.8zM162.9 410.8h.8v.8h-.8zM162.9 409.3h.8v.8h-.8zM155.3 402.2h.8v.8h-.8zM162.1 409.3h.8v.8h-.8zM162.3 406.6h.8v.8h-.8zM158.3 407.0h.8v.8h-.8zM158.4 409.5h.8v.8h-.8zM159.4 406.0h.8v.8h-.8zM158.4 411.4h.8v.8h-.8zM163.8 408.8h.8v.8h-.8zM159.2 413.9h.8v.8h-.8zM161.1 401.9h.8v.8h-.8zM169.4 411.3h.8v.8h-.8zM169.2 404.8h.8v.8h-.8zM164.1 403.9h.8v.8h-.8zM160.9 408.6h.8v.8h-.8zM168.0 409.5h.8v.8h-.8zM163.2 403.7h.8v.8h-.8zM163.4 405.8h.8v.8h-.8zM167.6 406.2h.8v.8h-.8zM167.1 402.8h.8v.8h-.8zM158.8 405.9h.8v.8h-.8zM165.9 405.0h.8v.8h-.8zM159.7 402.9h.8v.8h-.8zM169.0 406.3h.8v.8h-.8zM168.3 407.3h.8v.8h-.8zM171.0 406.6h.8v.8h-.8zM163.4 399.5h.8v.8h-.8zM157.8 408.4h.8v.8h-.8zM166.9 404.3h.8v.8h-.8zM165.9 405.3h.8v.8h-.8zM162.0 412.6h.8v.8h-.8zM164.4 411.7h.8v.8h-.8zM161.7 411.4h.8v.8h-.8zM159.7 409.9h.8v.8h-.8zM173.2 405.1h.8v.8h-.8zM173.5 414.0h.8v.8h-.8zM164.8 413.4h.8v.8h-.8zM168.3 401.1h.8v.8h-.8zM163.3 404.7h.8v.8h-.8zM161.9 404.2h.8v.8h-.8zM163.0 409.6h.8v.8h-.8zM161.5 410.5h.8v.8h-.8zM169.7 403.0h.8v.8h-.8zM156.1 410.8h.8v.8h-.8zM165.0 413.4h.8v.8h-.8zM172.4 408.1h.8v.8h-.8zM164.4 403.3h.8v.8h-.8zM160.8 406.9h.8v.8h-.8zM154.3 409.2h.8v.8h-.8zM167.7 413.1h.8v.8h-.8zM162.7 403.2h.8v.8h-.8zM168.4 404.7h.8v.8h-.8zM162.8 406.7h.8v.8h-.8zM162.9 402.2h.8v.8h-.8zM165.8 413.8h.8v.8h-.8zM166.1 409.7h.8v.8h-.8zM160.1 409.5h.8v.8h-.8zM164.3 406.4h.8v.8h-.8zM166.4 408.0h.8v.8h-.8zM162.1 402.7h.8v.8h-.8zM156.8 408.5h.8v.8h-.8zM165.4 401.8h.8v.8h-.8zM165.5 410.5h.8v.8h-.8zM157.9 405.2h.8v.8h-.8zM162.0 405.4h.8v.8h-.8zM167.3 412.8h.8v.8h-.8zM165.4 398.1h.8v.8h-.8zM162.5 404.5h.8v.8h-.8zM154.0 399.5h.8v.8h-.8zM158.4 404.9h.8v.8h-.8zM164.5 402.3h.8v.8h-.8zM159.3 409.2h.8v.8h-.8zM166.2 410.3h.8v.8h-.8zM160.0 405.6h.8v.8h-.8zM158.7 408.9h.8v.8h-.8zM169.0 409.4h.8v.8h-.8zM159.2 404.1h.8v.8h-.8zM167.7 405.0h.8v.8h-.8zM161.0 406.3h.8v.8h-.8zM163.3 405.1h.8v.8h-.8zM171.5 402.4h.8v.8h-.8zM162.1 401.5h.8v.8h-.8zM169.4 407.5h.8v.8h-.8zM164.4 409.4h.8v.8h-.8zM169.5 409.7h.8v.8h-.8zM159.8 406.6h.8v.8h-.8zM164.8 402.6h.8v.8h-.8zM160.4 407.3h.8v.8h-.8zM169.4 410.4h.8v.8h-.8zM166.0 404.3h.8v.8h-.8zM166.8 404.2h.8v.8h-.8zM171.3 405.7h.8v.8h-.8zM160.6 410.9h.8v.8h-.8zM167.1 402.7h.8v.8h-.8zM158.8 402.9h.8v.8h-.8zM162.3 406.1h.8v.8h-.8zM171.2 402.5h.8v.8h-.8zM166.2 402.9h.8v.8h-.8zM162.0 408.8h.8v.8h-.8zM160.9 400.7h.8v.8h-.8zM166.7 404.7h.8v.8h-.8zM154.8 407.0h.8v.8h-.8zM157.8 406.8h.8v.8h-.8zM158.3 410.3h.8v.8h-.8zM171.9 406.7h.8v.8h-.8zM157.5 410.9h.8v.8h-.8zM162.7 411.3h.8v.8h-.8zM169.8 406.0h.8v.8h-.8zM168.5 398.7h.8v.8h-.8zM159.2 408.8h.8v.8h-.8zM162.0 409.6h.8v.8h-.8zM163.9 406.5h.8v.8h-.8zM162.2 405.2h.8v.8h-.8zM160.8 410.0h.8v.8h-.8zM165.5 404.9h.8v.8h-.8zM163.9 411.0h.8v.8h-.8zM169.5 404.1h.8v.8h-.8zM163.4 399.6h.8v.8h-.8zM163.2 409.0h.8v.8h-.8zM165.2 406.4h.8v.8h-.8zM163.2 398.0h.8v.8h-.8zM163.0 406.4h.8v.8h-.8zM162.7 408.5h.8v.8h-.8zM165.9 401.7h.8v.8h-.8zM165.1 404.5h.8v.8h-.8zM168.2 406.9h.8v.8h-.8zM158.7 410.1h.8v.8h-.8zM168.6 407.7h.8v.8h-.8zM155.9 411.2h.8v.8h-.8zM160.4 406.5h.8v.8h-.8zM157.7 408.5h.8v.8h-.8zM165.9 403.0h.8v.8h-.8zM158.5 403.5h.8v.8h-.8zM167.2 401.1h.8v.8h-.8zM158.8 406.9h.8v.8h-.8zM164.4 414.7h.8v.8h-.8zM158.6 408.8h.8v.8h-.8zM161.9 413.7h.8v.8h-.8zM169.5 410.0h.8v.8h-.8zM160.8 398.8h.8v.8h-.8zM161.0 406.1h.8v.8h-.8zM171.3 410.2h.8v.8h-.8zM164.7 404.0h.8v.8h-.8zM165.1 408.9h.8v.8h-.8zM161.7 411.4h.8v.8h-.8zM163.5 400.5h.8v.8h-.8zM164.7 406.2h.8v.8h-.8zM170.2 403.3h.8v.8h-.8zM164.0 406.7h.8v.8h-.8zM159.6 403.5h.8v.8h-.8zM166.7 413.9h.8v.8h-.8zM166.3 411.2h.8v.8h-.8zM162.7 404.3h.8v.8h-.8zM163.3 412.4h.8v.8h-.8zM160.1 409.1h.8v.8h-.8zM168.6 405.1h.8v.8h-.8zM167.3 408.4h.8v.8h-.8zM165.2 399.8h.8v.8h-.8zM167.0 409.9h.8v.8h-.8zM162.5 400.9h.8v.8h-.8zM161.4 410.5h.8v.8h-.8zM165.7 411.5h.8v.8h-.8zM158.9 404.9h.8v.8h-.8zM169.9 411.0h.8v.8h-.8zM161.3 406.2h.8v.8h-.8zM169.4 406.6h.8v.8h-.8zM163.9 399.7h.8v.8h-.8zM159.2 412.7h.8v.8h-.8zM165.3 405.5h.8v.8h-.8zM159.4 405.7h.8v.8h-.8zM163.8 409.5h.8v.8h-.8zM163.5 402.1h.8v.8h-.8zM169.1 404.1h.8v.8h-.8zM155.6 410.8h.8v.8h-.8zM168.6 410.5h.8v.8h-.8zM162.8 410.8h.8v.8h-.8zM158.0 406.7h.8v.8h-.8zM162.1 406.6h.8v.8h-.8zM154.8 404.9h.8v.8h-.8zM165.3 413.7h.8v.8h-.8zM163.4 402.5h.8v.8h-.8zM168.6 404.8h.8v.8h-.8zM163.6 410.4h.8v.8h-.8zM164.6 395.9h.8v.8h-.8zM155.2 405.2h.8v.8h-.8zM173.1 404.1h.8v.8h-.8zM161.3 403.5h.8v.8h-.8zM164.8 402.4h.8v.8h-.8zM162.9 403.6h.8v.8h-.8zM166.0 405.6h.8v.8h-.8zM162.6 400.5h.8v.8h-.8zM169.0 404.0h.8v.8h-.8zM167.8 402.0h.8v.8h-.8zM163.0 411.9h.8v.8h-.8zM161.8 408.6h.8v.8h-.8zM160.5 408.8h.8v.8h-.8zM160.5 404.4h.8v.8h-.8zM160.0 400.6h.8v.8h-.8zM158.2 405.4h.8v.8h-.8zM163.8 406.0h.8v.8h-.8zM159.2 403.4h.8v.8h-.8zM156.5 412.4h.8v.8h-.8zM167.2 404.3h.8v.8h-.8zM165.8 407.3h.8v.8h-.8zM160.5 405.6h.8v.8h-.8zM162.3 412.4h.8v.8h-.8zM163.2 406.1h.8v.8h-.8zM160.5 406.5h.8v.8h-.8zM163.3 408.2h.8v.8h-.8zM157.5 403.2h.8v.8h-.8zM183.3 408.7h.8v.8h-.8zM187.8 412.2h.8v.8h-.8zM175.6 410.8h.8v.8h-.8zM181.3 401.9h.8v.8h-.8zM178.2 404.0h.8v.8h-.8zM181.7 406.1h.8v.8h-.8zM185.3 403.1h.8v.8h-.8zM182.3 409.3h.8v.8h-.8zM181.4 408.5h.8v.8h-.8zM180.5 407.2h.8v.8h-.8zM178.1 404.4h.8v.8h-.8zM186.0 401.2h.8v.8h-.8zM180.2 408.6h.8v.8h-.8zM184.4 406.9h.8v.8h-.8zM178.8 403.1h.8v.8h-.8zM180.3 409.0h.8v.8h-.8zM179.4 406.2h.8v.8h-.8zM180.0 397.4h.8v.8h-.8zM183.9 403.1h.8v.8h-.8zM179.6 410.7h.8v.8h-.8zM180.3 412.2h.8v.8h-.8zM178.5 404.5h.8v.8h-.8zM186.6 397.0h.8v.8h-.8zM181.0 406.9h.8v.8h-.8zM183.9 406.5h.8v.8h-.8zM173.4 404.8h.8v.8h-.8zM174.9 409.9h.8v.8h-.8zM182.4 412.1h.8v.8h-.8zM185.0 408.6h.8v.8h-.8zM174.8 406.5h.8v.8h-.8zM179.8 411.2h.8v.8h-.8zM183.6 412.0h.8v.8h-.8zM181.9 411.4h.8v.8h-.8zM176.9 407.1h.8v.8h-.8zM181.1 406.9h.8v.8h-.8zM183.9 411.5h.8v.8h-.8zM180.1 402.4h.8v.8h-.8zM180.5 411.4h.8v.8h-.8zM180.3 414.6h.8v.8h-.8zM184.0 404.2h.8v.8h-.8zM183.5 408.6h.8v.8h-.8zM181.6 407.4h.8v.8h-.8zM184.0 399.6h.8v.8h-.8zM180.3 410.6h.8v.8h-.8zM181.2 409.1h.8v.8h-.8zM186.8 407.6h.8v.8h-.8zM184.3 408.4h.8v.8h-.8zM182.3 410.6h.8v.8h-.8zM186.6 410.1h.8v.8h-.8zM184.8 408.6h.8v.8h-.8zM178.7 406.1h.8v.8h-.8zM177.5 401.5h.8v.8h-.8zM187.6 409.2h.8v.8h-.8zM180.9 401.0h.8v.8h-.8zM174.7 407.8h.8v.8h-.8zM177.2 411.9h.8v.8h-.8zM181.5 412.1h.8v.8h-.8zM181.6 412.4h.8v.8h-.8zM177.3 410.5h.8v.8h-.8zM182.4 399.3h.8v.8h-.8zM179.6 413.7h.8v.8h-.8zM184.1 403.8h.8v.8h-.8zM180.4 401.1h.8v.8h-.8zM183.2 407.2h.8v.8h-.8zM181.2 404.9h.8v.8h-.8zM180.6 406.3h.8v.8h-.8zM190.8 408.6h.8v.8h-.8zM182.7 403.6h.8v.8h-.8zM181.1 410.3h.8v.8h-.8zM182.4 405.3h.8v.8h-.8zM177.3 404.0h.8v.8h-.8zM181.0 412.4h.8v.8h-.8zM185.9 406.9h.8v.8h-.8zM178.3 400.6h.8v.8h-.8zM179.2 401.7h.8v.8h-.8zM180.5 410.5h.8v.8h-.8zM177.8 403.8h.8v.8h-.8zM181.7 408.4h.8v.8h-.8zM188.1 413.1h.8v.8h-.8zM184.6 408.6h.8v.8h-.8zM179.7 406.3h.8v.8h-.8zM180.7 411.7h.8v.8h-.8zM180.0 411.8h.8v.8h-.8zM185.1 404.7h.8v.8h-.8zM182.1 404.1h.8v.8h-.8zM177.2 407.1h.8v.8h-.8zM177.2 396.3h.8v.8h-.8zM181.9 404.9h.8v.8h-.8zM182.5 408.4h.8v.8h-.8zM177.8 410.3h.8v.8h-.8zM183.7 401.1h.8v.8h-.8zM182.6 397.1h.8v.8h-.8zM179.9 406.6h.8v.8h-.8zM178.5 412.3h.8v.8h-.8zM180.6 411.7h.8v.8h-.8zM175.7 400.6h.8v.8h-.8zM180.2 406.4h.8v.8h-.8zM179.6 395.9h.8v.8h-.8zM184.7 409.1h.8v.8h-.8zM179.5 406.6h.8v.8h-.8zM181.4 413.1h.8v.8h-.8zM185.8 405.3h.8v.8h-.8zM181.9 402.4h.8v.8h-.8zM181.9 407.5h.8v.8h-.8zM182.6 402.9h.8v.8h-.8zM181.6 401.3h.8v.8h-.8zM182.4 405.8h.8v.8h-.8zM178.7 412.7h.8v.8h-.8zM177.3 413.4h.8v.8h-.8zM184.8 409.7h.8v.8h-.8zM185.9 406.1h.8v.8h-.8zM179.9 405.4h.8v.8h-.8zM181.0 410.9h.8v.8h-.8zM178.9 404.2h.8v.8h-.8zM180.5 413.9h.8v.8h-.8zM186.7 410.9h.8v.8h-.8zM184.6 403.5h.8v.8h-.8zM182.7 408.6h.8v.8h-.8zM184.7 398.8h.8v.8h-.8zM182.6 407.7h.8v.8h-.8zM172.8 400.6h.8v.8h-.8zM184.7 412.2h.8v.8h-.8zM185.1 409.2h.8v.8h-.8zM181.1 400.4h.8v.8h-.8zM178.1 411.3h.8v.8h-.8zM182.3 405.8h.8v.8h-.8zM185.7 414.4h.8v.8h-.8zM177.6 400.5h.8v.8h-.8zM177.3 411.7h.8v.8h-.8zM182.2 406.8h.8v.8h-.8zM187.3 410.1h.8v.8h-.8zM175.7 407.7h.8v.8h-.8zM182.1 400.2h.8v.8h-.8zM183.7 405.0h.8v.8h-.8zM175.8 410.1h.8v.8h-.8zM183.8 411.7h.8v.8h-.8zM183.0 405.2h.8v.8h-.8zM182.2 410.3h.8v.8h-.8zM178.8 409.0h.8v.8h-.8zM179.2 405.9h.8v.8h-.8zM181.9 406.9h.8v.8h-.8zM175.0 411.6h.8v.8h-.8zM180.8 414.0h.8v.8h-.8zM181.3 414.4h.8v.8h-.8zM179.7 407.5h.8v.8h-.8zM180.2 403.7h.8v.8h-.8zM182.3 403.9h.8v.8h-.8zM182.3 407.5h.8v.8h-.8zM182.6 403.3h.8v.8h-.8zM184.4 411.7h.8v.8h-.8zM183.7 402.3h.8v.8h-.8zM174.8 413.4h.8v.8h-.8zM181.2 412.8h.8v.8h-.8zM180.2 410.1h.8v.8h-.8zM179.0 409.6h.8v.8h-.8zM183.3 401.3h.8v.8h-.8zM179.2 403.1h.8v.8h-.8zM177.5 399.0h.8v.8h-.8zM179.8 409.2h.8v.8h-.8zM184.3 411.3h.8v.8h-.8zM181.6 404.0h.8v.8h-.8zM180.5 409.8h.8v.8h-.8zM184.5 409.0h.8v.8h-.8zM183.6 403.2h.8v.8h-.8zM179.2 402.6h.8v.8h-.8zM177.3 412.6h.8v.8h-.8zM177.4 398.9h.8v.8h-.8zM188.0 401.0h.8v.8h-.8zM182.9 410.6h.8v.8h-.8zM180.8 412.5h.8v.8h-.8zM179.5 412.1h.8v.8h-.8zM184.6 408.2h.8v.8h-.8zM178.5 411.5h.8v.8h-.8zM182.4 410.9h.8v.8h-.8zM179.7 406.4h.8v.8h-.8zM188.1 408.5h.8v.8h-.8zM183.8 407.2h.8v.8h-.8zM185.1 411.1h.8v.8h-.8zM178.2 406.8h.8v.8h-.8zM178.8 402.9h.8v.8h-.8zM180.1 408.6h.8v.8h-.8zM178.4 408.2h.8v.8h-.8zM183.4 412.4h.8v.8h-.8zM178.6 414.5h.8v.8h-.8zM178.8 409.3h.8v.8h-.8zM181.0 404.2h.8v.8h-.8zM182.3 406.8h.8v.8h-.8zM184.8 407.0h.8v.8h-.8zM174.3 409.5h.8v.8h-.8zM179.2 410.4h.8v.8h-.8zM182.1 403.3h.8v.8h-.8zM178.4 407.0h.8v.8h-.8zM180.5 407.1h.8v.8h-.8zM182.8 399.4h.8v.8h-.8zM185.9 411.2h.8v.8h-.8zM188.5 406.0h.8v.8h-.8zM181.0 412.6h.8v.8h-.8zM175.7 404.9h.8v.8h-.8zM183.7 402.5h.8v.8h-.8zM178.8 413.7h.8v.8h-.8zM173.5 410.9h.8v.8h-.8zM184.7 406.8h.8v.8h-.8zM188.3 410.3h.8v.8h-.8zM180.8 409.0h.8v.8h-.8zM184.2 414.4h.8v.8h-.8zM183.9 409.6h.8v.8h-.8zM179.3 410.5h.8v.8h-.8zM183.7 407.4h.8v.8h-.8zM184.1 411.1h.8v.8h-.8zM179.2 406.4h.8v.8h-.8zM180.6 407.8h.8v.8h-.8zM179.8 405.7h.8v.8h-.8zM191.1 409.7h.8v.8h-.8zM177.6 400.1h.8v.8h-.8zM172.7 413.6h.8v.8h-.8zM178.9 400.9h.8v.8h-.8zM180.5 410.4h.8v.8h-.8zM179.7 411.8h.8v.8h-.8zM176.2 408.6h.8v.8h-.8zM180.7 400.6h.8v.8h-.8zM186.1 408.1h.8v.8h-.8zM179.4 405.8h.8v.8h-.8zM175.0 409.0h.8v.8h-.8zM182.0 411.1h.8v.8h-.8zM178.9 405.0h.8v.8h-.8zM184.5 404.0h.8v.8h-.8zM178.6 408.4h.8v.8h-.8zM182.8 407.6h.8v.8h-.8zM184.4 402.9h.8v.8h-.8zM180.5 405.2h.8v.8h-.8zM179.0 406.9h.8v.8h-.8zM180.1 407.6h.8v.8h-.8zM177.8 414.3h.8v.8h-.8zM178.0 407.0h.8v.8h-.8zM183.4 405.2h.8v.8h-.8zM181.8 410.7h.8v.8h-.8zM178.7 406.1h.8v.8h-.8zM185.2 403.5h.8v.8h-.8zM181.6 405.6h.8v.8h-.8zM180.7 411.3h.8v.8h-.8zM180.6 410.7h.8v.8h-.8zM170.2 411.0h.8v.8h-.8zM186.6 404.9h.8v.8h-.8zM180.2 407.5h.8v.8h-.8zM186.1 408.2h.8v.8h-.8zM183.0 405.5h.8v.8h-.8zM182.5 407.4h.8v.8h-.8zM189.3 408.8h.8v.8h-.8zM180.6 406.0h.8v.8h-.8zM184.0 412.0h.8v.8h-.8zM178.7 408.5h.8v.8h-.8zM183.5 413.1h.8v.8h-.8zM174.7 407.1h.8v.8h-.8zM181.0 409.3h.8v.8h-.8zM187.1 410.7h.8v.8h-.8zM181.3 405.0h.8v.8h-.8zM179.9 409.7h.8v.8h-.8zM177.9 413.2h.8v.8h-.8zM184.2 405.8h.8v.8h-.8zM181.1 408.1h.8v.8h-.8zM181.6 409.9h.8v.8h-.8zM181.5 409.2h.8v.8h-.8zM184.3 406.6h.8v.8h-.8zM179.8 408.5h.8v.8h-.8zM182.2 405.3h.8v.8h-.8zM185.8 411.6h.8v.8h-.8zM177.1 398.3h.8v.8h-.8zM179.3 402.2h.8v.8h-.8zM190.3 404.3h.8v.8h-.8zM183.1 409.8h.8v.8h-.8zM173.0 404.5h.8v.8h-.8zM181.4 407.4h.8v.8h-.8zM184.3 408.0h.8v.8h-.8zM178.6 400.7h.8v.8h-.8zM181.1 412.9h.8v.8h-.8zM178.5 402.6h.8v.8h-.8zM181.9 403.9h.8v.8h-.8zM179.7 404.6h.8v.8h-.8zM176.1 409.9h.8v.8h-.8zM180.7 411.4h.8v.8h-.8zM184.0 405.3h.8v.8h-.8zM182.6 405.3h.8v.8h-.8zM176.8 407.6h.8v.8h-.8zM178.8 408.9h.8v.8h-.8zM180.1 407.2h.8v.8h-.8zM181.5 405.8h.8v.8h-.8zM182.3 409.0h.8v.8h-.8zM180.5 402.9h.8v.8h-.8zM182.4 405.2h.8v.8h-.8zM180.0 401.8h.8v.8h-.8zM188.7 402.7h.8v.8h-.8zM184.0 409.4h.8v.8h-.8zM184.4 410.4h.8v.8h-.8zM175.7 398.3h.8v.8h-.8zM183.9 404.8h.8v.8h-.8zM180.9 409.0h.8v.8h-.8zM179.7 408.3h.8v.8h-.8zM181.2 409.5h.8v.8h-.8zM187.1 405.8h.8v.8h-.8zM186.4 405.3h.8v.8h-.8zM177.5 412.5h.8v.8h-.8zM184.6 402.8h.8v.8h-.8zM180.2 409.4h.8v.8h-.8zM184.4 405.1h.8v.8h-.8zM181.1 408.3h.8v.8h-.8zM186.9 412.1h.8v.8h-.8zM184.3 414.1h.8v.8h-.8zM178.5 410.1h.8v.8h-.8zM182.3 412.0h.8v.8h-.8zM184.3 401.4h.8v.8h-.8zM183.8 412.5h.8v.8h-.8zM181.0 405.3h.8v.8h-.8zM186.1 403.0h.8v.8h-.8zM185.2 403.2h.8v.8h-.8zM184.8 405.5h.8v.8h-.8zM184.1 405.5h.8v.8h-.8zM182.9 405.5h.8v.8h-.8zM183.6 412.3h.8v.8h-.8zM183.3 409.6h.8v.8h-.8zM181.4 402.5h.8v.8h-.8zM177.3 409.1h.8v.8h-.8zM180.4 407.1h.8v.8h-.8zM182.5 407.4h.8v.8h-.8zM180.1 412.9h.8v.8h-.8zM185.2 413.6h.8v.8h-.8zM182.7 405.4h.8v.8h-.8zM181.2 408.7h.8v.8h-.8zM186.0 398.3h.8v.8h-.8zM177.4 413.3h.8v.8h-.8zM186.3 409.8h.8v.8h-.8zM179.6 411.6h.8v.8h-.8zM181.8 408.7h.8v.8h-.8zM178.5 407.6h.8v.8h-.8zM180.0 402.9h.8v.8h-.8zM182.3 407.3h.8v.8h-.8zM178.5 408.6h.8v.8h-.8zM182.9 409.5h.8v.8h-.8zM181.0 408.5h.8v.8h-.8zM179.5 404.0h.8v.8h-.8zM179.2 408.2h.8v.8h-.8zM183.5 407.1h.8v.8h-.8zM182.5 399.4h.8v.8h-.8zM184.8 405.0h.8v.8h-.8zM185.1 411.5h.8v.8h-.8zM184.7 409.6h.8v.8h-.8zM180.5 400.2h.8v.8h-.8zM181.8 403.3h.8v.8h-.8zM184.2 406.4h.8v.8h-.8zM177.3 402.0h.8v.8h-.8zM176.7 409.8h.8v.8h-.8zM183.3 408.9h.8v.8h-.8zM176.9 411.8h.8v.8h-.8zM179.3 409.8h.8v.8h-.8zM184.1 404.1h.8v.8h-.8zM182.5 406.3h.8v.8h-.8zM175.6 412.1h.8v.8h-.8zM181.6 413.2h.8v.8h-.8zM186.7 412.2h.8v.8h-.8zM182.6 414.3h.8v.8h-.8zM183.3 410.4h.8v.8h-.8zM191.0 407.1h.8v.8h-.8zM177.5 404.3h.8v.8h-.8zM180.2 405.0h.8v.8h-.8zM182.8 412.2h.8v.8h-.8zM179.2 406.1h.8v.8h-.8zM181.7 412.7h.8v.8h-.8zM181.7 408.5h.8v.8h-.8zM183.6 405.8h.8v.8h-.8zM181.1 406.2h.8v.8h-.8zM180.1 410.8h.8v.8h-.8zM179.5 406.2h.8v.8h-.8zM191.5 407.1h.8v.8h-.8zM184.9 407.4h.8v.8h-.8zM184.6 405.9h.8v.8h-.8zM184.2 408.5h.8v.8h-.8zM181.2 403.2h.8v.8h-.8zM181.3 412.0h.8v.8h-.8zM180.5 408.3h.8v.8h-.8zM180.8 406.8h.8v.8h-.8zM184.0 406.4h.8v.8h-.8zM179.5 406.0h.8v.8h-.8zM179.8 409.2h.8v.8h-.8zM176.1 411.1h.8v.8h-.8zM175.9 406.6h.8v.8h-.8zM181.7 401.5h.8v.8h-.8zM183.2 409.0h.8v.8h-.8zM185.4 412.2h.8v.8h-.8zM182.7 413.5h.8v.8h-.8zM177.9 404.1h.8v.8h-.8zM181.6 410.8h.8v.8h-.8zM178.5 404.2h.8v.8h-.8zM175.5 408.8h.8v.8h-.8zM187.4 408.3h.8v.8h-.8zM179.3 412.1h.8v.8h-.8zM180.3 401.5h.8v.8h-.8zM184.0 408.8h.8v.8h-.8zM186.6 407.5h.8v.8h-.8zM176.6 404.9h.8v.8h-.8zM180.3 408.6h.8v.8h-.8zM178.6 406.0h.8v.8h-.8zM181.6 412.2h.8v.8h-.8zM180.3 412.5h.8v.8h-.8zM183.7 406.3h.8v.8h-.8zM179.5 400.2h.8v.8h-.8zM185.0 402.4h.8v.8h-.8zM181.0 406.8h.8v.8h-.8zM184.6 406.8h.8v.8h-.8zM184.2 407.8h.8v.8h-.8zM183.5 409.1h.8v.8h-.8zM178.2 400.8h.8v.8h-.8zM180.9 409.4h.8v.8h-.8zM181.2 411.8h.8v.8h-.8zM175.2 412.2h.8v.8h-.8zM182.7 407.8h.8v.8h-.8zM181.1 408.5h.8v.8h-.8zM179.1 398.3h.8v.8h-.8zM185.6 406.9h.8v.8h-.8zM180.8 410.2h.8v.8h-.8zM186.2 408.3h.8v.8h-.8zM177.3 403.1h.8v.8h-.8zM174.4 406.6h.8v.8h-.8zM181.7 411.2h.8v.8h-.8zM179.2 406.8h.8v.8h-.8zM181.7 409.0h.8v.8h-.8zM190.0 407.9h.8v.8h-.8zM180.0 409.9h.8v.8h-.8zM183.1 401.7h.8v.8h-.8zM176.6 410.3h.8v.8h-.8zM176.2 407.4h.8v.8h-.8zM184.6 411.0h.8v.8h-.8zM184.3 412.4h.8v.8h-.8zM180.0 408.4h.8v.8h-.8zM177.5 408.5h.8v.8h-.8zM178.6 405.3h.8v.8h-.8zM186.5 411.8h.8v.8h-.8zM182.7 410.3h.8v.8h-.8zM179.2 404.8h.8v.8h-.8zM181.4 412.1h.8v.8h-.8zM182.6 402.4h.8v.8h-.8zM179.6 408.0h.8v.8h-.8zM183.7 398.0h.8v.8h-.8zM183.7 407.3h.8v.8h-.8zM178.6 409.2h.8v.8h-.8zM181.5 402.7h.8v.8h-.8zM181.1 408.7h.8v.8h-.8zM183.1 411.8h.8v.8h-.8zM178.3 405.7h.8v.8h-.8zM180.5 393.7h.8v.8h-.8zM188.4 402.8h.8v.8h-.8zM178.5 406.6h.8v.8h-.8zM182.3 403.0h.8v.8h-.8zM181.3 404.0h.8v.8h-.8zM181.9 403.9h.8v.8h-.8zM179.7 400.9h.8v.8h-.8zM181.1 412.8h.8v.8h-.8zM188.4 411.7h.8v.8h-.8zM181.0 412.4h.8v.8h-.8zM184.0 409.9h.8v.8h-.8zM182.1 404.1h.8v.8h-.8zM185.9 409.5h.8v.8h-.8zM177.9 401.0h.8v.8h-.8zM179.5 407.6h.8v.8h-.8zM183.7 408.2h.8v.8h-.8zM180.7 404.4h.8v.8h-.8zM183.2 409.3h.8v.8h-.8zM188.1 399.8h.8v.8h-.8zM181.5 404.1h.8v.8h-.8zM186.0 408.7h.8v.8h-.8zM183.1 398.8h.8v.8h-.8zM182.0 411.9h.8v.8h-.8zM182.8 407.4h.8v.8h-.8zM183.5 403.4h.8v.8h-.8zM181.3 407.0h.8v.8h-.8zM179.8 408.9h.8v.8h-.8zM178.5 404.5h.8v.8h-.8zM182.9 407.8h.8v.8h-.8zM177.6 403.0h.8v.8h-.8zM181.3 408.1h.8v.8h-.8zM180.1 402.0h.8v.8h-.8zM177.8 400.3h.8v.8h-.8zM183.5 412.6h.8v.8h-.8zM185.8 411.9h.8v.8h-.8zM181.0 406.5h.8v.8h-.8zM178.5 404.5h.8v.8h-.8zM183.6 406.4h.8v.8h-.8zM189.1 404.8h.8v.8h-.8zM186.8 407.9h.8v.8h-.8zM181.0 409.9h.8v.8h-.8zM179.6 411.2h.8v.8h-.8zM176.5 410.5h.8v.8h-.8zM178.2 410.6h.8v.8h-.8zM183.3 414.3h.8v.8h-.8zM183.5 411.5h.8v.8h-.8zM181.5 409.9h.8v.8h-.8zM180.9 409.2h.8v.8h-.8zM181.3 404.1h.8v.8h-.8zM181.4 409.2h.8v.8h-.8zM177.8 412.6h.8v.8h-.8zM179.0 408.7h.8v.8h-.8zM177.3 404.1h.8v.8h-.8zM177.7 402.6h.8v.8h-.8zM181.3 409.2h.8v.8h-.8zM183.1 414.1h.8v.8h-.8zM181.0 399.9h.8v.8h-.8zM188.0 411.3h.8v.8h-.8zM180.8 404.9h.8v.8h-.8zM181.9 404.8h.8v.8h-.8zM180.5 408.5h.8v.8h-.8zM181.7 399.6h.8v.8h-.8zM186.3 413.5h.8v.8h-.8zM182.4 406.1h.8v.8h-.8zM177.7 411.0h.8v.8h-.8zM186.2 412.4h.8v.8h-.8zM184.8 412.5h.8v.8h-.8zM177.2 408.3h.8v.8h-.8zM182.1 410.7h.8v.8h-.8zM183.0 398.8h.8v.8h-.8zM179.1 410.6h.8v.8h-.8zM183.3 412.4h.8v.8h-.8zM184.1 404.0h.8v.8h-.8zM180.8 405.9h.8v.8h-.8zM175.2 406.9h.8v.8h-.8zM177.4 403.5h.8v.8h-.8zM184.8 409.5h.8v.8h-.8zM178.4 405.0h.8v.8h-.8zM179.8 405.2h.8v.8h-.8zM183.4 408.8h.8v.8h-.8zM180.7 410.2h.8v.8h-.8zM181.4 403.7h.8v.8h-.8zM178.0 403.6h.8v.8h-.8zM183.7 403.5h.8v.8h-.8zM177.6 402.8h.8v.8h-.8zM180.4 407.9h.8v.8h-.8zM185.0 400.8h.8v.8h-.8zM181.3 414.4h.8v.8h-.8zM183.9 410.1h.8v.8h-.8zM181.4 412.7h.8v.8h-.8zM181.1 409.1h.8v.8h-.8zM182.5 401.1h.8v.8h-.8zM185.7 405.2h.8v.8h-.8zM179.4 409.6h.8v.8h-.8zM175.9 404.6h.8v.8h-.8zM184.8 406.6h.8v.8h-.8zM177.8 407.0h.8v.8h-.8zM189.0 403.7h.8v.8h-.8zM185.6 404.7h.8v.8h-.8zM181.7 401.2h.8v.8h-.8zM178.4 410.6h.8v.8h-.8zM181.5 409.4h.8v.8h-.8zM183.6 408.6h.8v.8h-.8zM183.8 411.1h.8v.8h-.8zM181.3 401.4h.8v.8h-.8zM178.8 403.5h.8v.8h-.8zM178.5 406.7h.8v.8h-.8zM180.5 406.8h.8v.8h-.8zM180.3 409.4h.8v.8h-.8zM181.1 404.1h.8v.8h-.8zM181.5 404.9h.8v.8h-.8zM175.9 406.0h.8v.8h-.8zM187.0 409.6h.8v.8h-.8zM175.5 402.2h.8v.8h-.8zM181.4 404.2h.8v.8h-.8zM177.5 410.0h.8v.8h-.8zM179.9 413.3h.8v.8h-.8zM180.0 403.6h.8v.8h-.8zM174.4 410.2h.8v.8h-.8zM184.8 412.2h.8v.8h-.8zM179.7 410.9h.8v.8h-.8zM184.3 410.3h.8v.8h-.8zM187.0 409.9h.8v.8h-.8zM180.6 412.1h.8v.8h-.8zM185.9 408.1h.8v.8h-.8zM182.4 408.0h.8v.8h-.8zM185.0 403.8h.8v.8h-.8zM181.4 409.7h.8v.8h-.8zM178.0 403.2h.8v.8h-.8zM179.5 410.0h.8v.8h-.8zM182.5 405.7h.8v.8h-.8zM176.9 411.9h.8v.8h-.8zM179.8 409.3h.8v.8h-.8zM179.6 406.3h.8v.8h-.8zM187.5 403.5h.8v.8h-.8zM180.6 408.6h.8v.8h-.8zM176.3 410.1h.8v.8h-.8zM178.9 403.1h.8v.8h-.8zM180.3 413.1h.8v.8h-.8zM185.2 409.4h.8v.8h-.8zM179.5 405.2h.8v.8h-.8zM178.6 398.2h.8v.8h-.8zM186.4 409.4h.8v.8h-.8zM175.3 411.4h.8v.8h-.8zM185.5 405.7h.8v.8h-.8zM185.3 403.8h.8v.8h-.8zM171.7 409.1h.8v.8h-.8zM178.9 409.3h.8v.8h-.8zM185.1 407.1h.8v.8h-.8zM178.5 399.0h.8v.8h-.8zM188.2 402.7h.8v.8h-.8zM185.1 406.8h.8v.8h-.8zM177.2 414.1h.8v.8h-.8zM182.2 412.3h.8v.8h-.8zM180.2 401.4h.8v.8h-.8zM186.8 408.9h.8v.8h-.8zM176.5 407.4h.8v.8h-.8zM174.2 374.8h.8v.8h-.8zM188.4 374.2h.8v.8h-.8zM182.9 373.1h.8v.8h-.8zM182.0 373.1h.8v.8h-.8zM186.8 370.0h.8v.8h-.8zM177.3 373.7h.8v.8h-.8zM186.4 374.6h.8v.8h-.8zM185.4 370.7h.8v.8h-.8zM179.0 373.0h.8v.8h-.8zM185.9 374.2h.8v.8h-.8zM181.9 377.0h.8v.8h-.8zM190.6 370.3h.8v.8h-.8zM187.5 372.4h.8v.8h-.8zM176.8 374.0h.8v.8h-.8zM188.0 373.3h.8v.8h-.8zM179.5 374.7h.8v.8h-.8zM185.4 372.3h.8v.8h-.8zM182.5 371.0h.8v.8h-.8zM183.5 374.0h.8v.8h-.8zM186.4 372.2h.8v.8h-.8zM182.2 375.3h.8v.8h-.8zM192.5 373.2h.8v.8h-.8zM181.9 372.8h.8v.8h-.8zM184.0 372.2h.8v.8h-.8zM182.4 371.5h.8v.8h-.8zM179.1 372.0h.8v.8h-.8zM182.3 372.4h.8v.8h-.8zM183.0 373.0h.8v.8h-.8zM185.0 371.7h.8v.8h-.8zM187.5 369.5h.8v.8h-.8zM183.8 372.5h.8v.8h-.8zM177.7 373.2h.8v.8h-.8zM182.9 375.6h.8v.8h-.8zM177.8 372.4h.8v.8h-.8zM177.7 374.2h.8v.8h-.8zM188.2 373.4h.8v.8h-.8zM180.8 372.4h.8v.8h-.8zM185.3 371.2h.8v.8h-.8zM191.1 372.9h.8v.8h-.8zM181.7 371.8h.8v.8h-.8zM182.3 372.6h.8v.8h-.8zM182.2 372.5h.8v.8h-.8zM188.3 371.9h.8v.8h-.8zM189.0 373.2h.8v.8h-.8zM181.9 372.9h.8v.8h-.8zM189.1 372.1h.8v.8h-.8zM187.1 371.5h.8v.8h-.8zM190.1 373.2h.8v.8h-.8zM188.7 373.9h.8v.8h-.8zM179.4 373.2h.8v.8h-.8zM183.6 371.1h.8v.8h-.8zM177.1 373.1h.8v.8h-.8zM186.0 374.9h.8v.8h-.8zM181.1 372.6h.8v.8h-.8zM184.1 373.5h.8v.8h-.8zM188.4 372.5h.8v.8h-.8zM189.3 370.4h.8v.8h-.8zM186.9 371.5h.8v.8h-.8zM181.8 371.2h.8v.8h-.8zM183.0 373.2h.8v.8h-.8zM193.1 368.8h.8v.8h-.8zM188.9 371.9h.8v.8h-.8zM178.5 372.0h.8v.8h-.8zM181.1 370.4h.8v.8h-.8zM183.9 371.0h.8v.8h-.8zM182.2 371.4h.8v.8h-.8zM186.6 370.7h.8v.8h-.8zM179.6 374.2h.8v.8h-.8zM187.7 371.9h.8v.8h-.8zM176.5 376.1h.8v.8h-.8zM181.9 372.5h.8v.8h-.8zM183.8 371.5h.8v.8h-.8zM176.3 370.8h.8v.8h-.8zM183.9 372.5h.8v.8h-.8zM183.3 372.5h.8v.8h-.8zM191.9 372.8h.8v.8h-.8zM185.4 372.8h.8v.8h-.8zM180.8 376.1h.8v.8h-.8zM180.1 370.9h.8v.8h-.8zM187.4 370.2h.8v.8h-.8zM185.6 371.5h.8v.8h-.8zM184.4 372.7h.8v.8h-.8zM186.6 372.4h.8v.8h-.8zM182.7 371.8h.8v.8h-.8zM191.2 370.9h.8v.8h-.8zM185.1 371.3h.8v.8h-.8zM189.3 372.2h.8v.8h-.8zM179.6 373.0h.8v.8h-.8zM186.0 371.1h.8v.8h-.8zM175.5 373.6h.8v.8h-.8zM180.0 372.9h.8v.8h-.8zM183.8 371.3h.8v.8h-.8zM175.8 373.8h.8v.8h-.8zM189.5 373.2h.8v.8h-.8zM177.0 374.9h.8v.8h-.8zM182.0 372.7h.8v.8h-.8zM183.7 369.3h.8v.8h-.8zM186.5 370.8h.8v.8h-.8zM178.9 375.1h.8v.8h-.8zM188.8 372.6h.8v.8h-.8zM180.3 373.7h.8v.8h-.8zM179.3 370.8h.8v.8h-.8zM189.8 373.2h.8v.8h-.8zM178.9 374.7h.8v.8h-.8zM188.8 372.3h.8v.8h-.8zM180.0 370.6h.8v.8h-.8zM183.5 373.6h.8v.8h-.8zM179.0 373.4h.8v.8h-.8zM178.7 372.9h.8v.8h-.8zM178.2 369.9h.8v.8h-.8zM180.5 372.5h.8v.8h-.8zM185.7 372.2h.8v.8h-.8zM182.5 372.5h.8v.8h-.8zM186.3 371.1h.8v.8h-.8zM186.7 374.1h.8v.8h-.8zM190.7 373.0h.8v.8h-.8zM181.7 374.3h.8v.8h-.8zM177.6 373.2h.8v.8h-.8zM186.2 371.8h.8v.8h-.8zM189.8 371.1h.8v.8h-.8z" fill="#c81212" fill-opacity="0.7"/>
<path d="M154.1,403.9 L163.5,403.7 Q168.0,405.5 168.0,412.5 L166.5,414.7 L154.1,414.7 Z" fill="#e8161c" opacity="1" filter="url(#bl4)"/>
<rect x="154.0" y="405.0" width="10.0" height="9.7" fill="#e8161c" filter="url(#bl2)"/>
<ellipse cx="181.5" cy="408.0" rx="3.6" ry="4.3" fill="#e41c1c" opacity="0.95" filter="url(#bl4)"/>
<path d="M176.5,371.4 Q184.0,370.4 191.5,371.1 L191.5,372.2 Q184.0,374.2 176.5,375.2 Z" fill="#e01a1a" filter="url(#bl2)"/>
<path d="M177.5,372.5 Q184.0,371.6 188.5,371.6 Q184.0,373.1 177.5,374.1 Z" fill="#b81014" filter="url(#bl2)"/>
<rect x="153.50" y="361.50" width="55.00" height="54.00" fill="none" stroke="#555" stroke-width="0.75" />
<line x1="167.50" y1="361.50" x2="167.50" y2="415.50" stroke="#666" stroke-width="0.65" />
<line x1="153.50" y1="402.50" x2="208.50" y2="402.50" stroke="#666" stroke-width="0.65" />
<text x="196.10" y="368.48" font-size="6.6" font-weight="bold" text-anchor="start" fill="#222" stroke="#222" stroke-width="0.12" textLength="10.80" lengthAdjust="spacingAndGlyphs" >23%</text>
<text x="196.10" y="413.28" font-size="6.6" font-weight="bold" text-anchor="start" fill="#222" stroke="#222" stroke-width="0.12" textLength="10.80" lengthAdjust="spacingAndGlyphs" >24%</text>
<line x1="152.50" y1="415.50" x2="153.50" y2="415.50" stroke="#555" stroke-width="0.4" />
<text x="151.70" y="416.40" font-size="2.6" font-weight="bold" text-anchor="end" fill="#444" >10</text>
<line x1="152.50" y1="402.00" x2="153.50" y2="402.00" stroke="#555" stroke-width="0.4" />
<text x="151.70" y="402.90" font-size="2.6" font-weight="bold" text-anchor="end" fill="#444" >10</text>
<line x1="152.50" y1="388.50" x2="153.50" y2="388.50" stroke="#555" stroke-width="0.4" />
<text x="151.70" y="389.40" font-size="2.6" font-weight="bold" text-anchor="end" fill="#444" >10</text>
<line x1="152.50" y1="375.00" x2="153.50" y2="375.00" stroke="#555" stroke-width="0.4" />
<text x="151.70" y="375.90" font-size="2.6" font-weight="bold" text-anchor="end" fill="#444" >10</text>
<line x1="152.50" y1="361.50" x2="153.50" y2="361.50" stroke="#555" stroke-width="0.4" />
<text x="151.70" y="362.40" font-size="2.6" font-weight="bold" text-anchor="end" fill="#444" >10</text>
<line x1="153.50" y1="415.50" x2="153.50" y2="416.50" stroke="#555" stroke-width="0.4" />
<text x="153.50" y="418.50" font-size="2.6" font-weight="bold" text-anchor="middle" fill="#444" transform="rotate(-45 153.50 418.50)" >10</text>
<line x1="167.25" y1="415.50" x2="167.25" y2="416.50" stroke="#555" stroke-width="0.4" />
<text x="167.25" y="418.50" font-size="2.6" font-weight="bold" text-anchor="middle" fill="#444" transform="rotate(-45 167.25 418.50)" >10</text>
<line x1="181.00" y1="415.50" x2="181.00" y2="416.50" stroke="#555" stroke-width="0.4" />
<text x="181.00" y="418.50" font-size="2.6" font-weight="bold" text-anchor="middle" fill="#444" transform="rotate(-45 181.00 418.50)" >10</text>
<line x1="194.75" y1="415.50" x2="194.75" y2="416.50" stroke="#555" stroke-width="0.4" />
<text x="194.75" y="418.50" font-size="2.6" font-weight="bold" text-anchor="middle" fill="#444" transform="rotate(-45 194.75 418.50)" >10</text>
<line x1="208.50" y1="415.50" x2="208.50" y2="416.50" stroke="#555" stroke-width="0.4" />
<text x="208.50" y="418.50" font-size="2.6" font-weight="bold" text-anchor="middle" fill="#444" transform="rotate(-45 208.50 418.50)" >10</text>
<path d="M42.1 446.9h.8v.8h-.8zM34.2 459.1h.8v.8h-.8zM46.6 453.5h.8v.8h-.8zM47.0 459.0h.8v.8h-.8zM51.8 447.2h.8v.8h-.8zM36.9 454.4h.8v.8h-.8zM43.4 452.4h.8v.8h-.8zM52.3 452.1h.8v.8h-.8zM36.4 448.1h.8v.8h-.8zM51.4 439.3h.8v.8h-.8zM41.1 459.2h.8v.8h-.8zM43.1 444.1h.8v.8h-.8zM41.7 466.4h.8v.8h-.8zM49.0 441.4h.8v.8h-.8zM41.3 461.8h.8v.8h-.8zM32.1 460.2h.8v.8h-.8zM38.4 449.0h.8v.8h-.8zM38.7 462.0h.8v.8h-.8zM46.5 445.2h.8v.8h-.8zM46.6 440.8h.8v.8h-.8zM50.9 440.5h.8v.8h-.8zM50.3 443.2h.8v.8h-.8zM40.4 457.2h.8v.8h-.8zM41.4 448.1h.8v.8h-.8zM37.5 464.5h.8v.8h-.8zM44.3 451.1h.8v.8h-.8zM38.5 459.9h.8v.8h-.8zM38.8 463.8h.8v.8h-.8zM46.8 443.7h.8v.8h-.8zM32.1 466.7h.8v.8h-.8zM34.1 452.3h.8v.8h-.8zM43.8 452.5h.8v.8h-.8zM39.5 439.4h.8v.8h-.8zM50.7 437.0h.8v.8h-.8zM44.6 449.4h.8v.8h-.8zM41.2 457.7h.8v.8h-.8zM35.8 462.6h.8v.8h-.8zM35.7 460.1h.8v.8h-.8zM44.1 445.2h.8v.8h-.8zM32.9 447.5h.8v.8h-.8zM44.4 451.0h.8v.8h-.8zM41.9 466.1h.8v.8h-.8zM53.1 448.5h.8v.8h-.8zM48.9 447.5h.8v.8h-.8zM30.7 462.2h.8v.8h-.8zM30.7 459.7h.8v.8h-.8zM56.9 441.6h.8v.8h-.8zM34.7 462.3h.8v.8h-.8zM49.5 438.7h.8v.8h-.8zM50.7 443.5h.8v.8h-.8zM44.7 451.8h.8v.8h-.8zM40.4 448.6h.8v.8h-.8zM48.6 441.2h.8v.8h-.8zM30.1 456.2h.8v.8h-.8zM47.2 448.8h.8v.8h-.8zM25.0 466.0h.8v.8h-.8zM47.4 445.6h.8v.8h-.8zM46.9 443.0h.8v.8h-.8zM46.4 453.2h.8v.8h-.8zM34.3 462.6h.8v.8h-.8zM53.0 446.0h.8v.8h-.8zM49.9 449.2h.8v.8h-.8zM38.3 456.3h.8v.8h-.8zM50.1 451.8h.8v.8h-.8zM53.9 449.0h.8v.8h-.8zM37.4 459.0h.8v.8h-.8zM38.7 465.7h.8v.8h-.8zM37.7 451.8h.8v.8h-.8zM35.7 463.4h.8v.8h-.8zM40.5 455.5h.8v.8h-.8zM40.7 455.9h.8v.8h-.8zM48.1 448.5h.8v.8h-.8zM39.0 458.4h.8v.8h-.8zM45.1 456.4h.8v.8h-.8zM45.0 452.6h.8v.8h-.8zM35.3 458.9h.8v.8h-.8zM52.9 442.0h.8v.8h-.8zM36.0 471.7h.8v.8h-.8zM37.2 455.2h.8v.8h-.8zM35.8 463.0h.8v.8h-.8zM51.2 443.4h.8v.8h-.8zM35.0 459.9h.8v.8h-.8zM45.0 451.3h.8v.8h-.8zM38.0 461.8h.8v.8h-.8zM46.3 457.3h.8v.8h-.8zM40.5 456.9h.8v.8h-.8zM36.5 451.6h.8v.8h-.8zM38.2 472.5h.8v.8h-.8zM40.1 454.8h.8v.8h-.8zM49.2 449.5h.8v.8h-.8zM48.3 441.0h.8v.8h-.8zM31.6 445.7h.8v.8h-.8zM45.5 443.4h.8v.8h-.8zM41.1 449.2h.8v.8h-.8zM47.8 453.1h.8v.8h-.8zM42.3 463.3h.8v.8h-.8zM41.9 459.2h.8v.8h-.8zM26.8 455.2h.8v.8h-.8zM51.1 441.1h.8v.8h-.8zM46.9 442.5h.8v.8h-.8zM39.7 460.5h.8v.8h-.8zM39.4 467.6h.8v.8h-.8zM38.8 457.5h.8v.8h-.8zM45.4 454.5h.8v.8h-.8zM43.6 462.8h.8v.8h-.8zM45.7 448.0h.8v.8h-.8zM44.4 453.4h.8v.8h-.8zM42.8 457.9h.8v.8h-.8zM46.1 451.3h.8v.8h-.8zM49.3 461.3h.8v.8h-.8zM45.0 442.6h.8v.8h-.8zM46.8 452.3h.8v.8h-.8zM43.1 447.3h.8v.8h-.8zM32.6 460.2h.8v.8h-.8zM40.4 457.2h.8v.8h-.8zM51.1 438.5h.8v.8h-.8zM42.5 448.1h.8v.8h-.8zM34.4 462.4h.8v.8h-.8zM53.7 450.4h.8v.8h-.8zM38.9 453.0h.8v.8h-.8zM37.8 454.8h.8v.8h-.8zM38.7 455.5h.8v.8h-.8zM58.2 439.2h.8v.8h-.8zM34.4 454.7h.8v.8h-.8zM42.6 447.9h.8v.8h-.8zM30.0 460.9h.8v.8h-.8zM42.4 459.4h.8v.8h-.8zM44.5 448.2h.8v.8h-.8zM48.9 453.1h.8v.8h-.8zM35.7 452.1h.8v.8h-.8zM43.2 441.1h.8v.8h-.8zM39.4 446.9h.8v.8h-.8zM38.8 458.1h.8v.8h-.8zM41.3 455.6h.8v.8h-.8zM39.5 455.7h.8v.8h-.8zM48.9 443.9h.8v.8h-.8zM48.0 450.0h.8v.8h-.8zM44.5 462.7h.8v.8h-.8zM41.9 459.4h.8v.8h-.8zM46.8 448.9h.8v.8h-.8zM45.4 443.1h.8v.8h-.8zM41.5 452.0h.8v.8h-.8zM53.7 438.5h.8v.8h-.8zM54.4 443.7h.8v.8h-.8zM52.2 447.9h.8v.8h-.8zM45.2 456.2h.8v.8h-.8zM45.1 445.5h.8v.8h-.8zM31.0 459.4h.8v.8h-.8zM32.1 460.2h.8v.8h-.8zM50.2 450.1h.8v.8h-.8zM33.9 458.4h.8v.8h-.8zM48.7 450.5h.8v.8h-.8zM28.1 456.7h.8v.8h-.8zM35.6 460.4h.8v.8h-.8zM45.8 452.0h.8v.8h-.8zM44.2 448.9h.8v.8h-.8zM25.2 468.1h.8v.8h-.8zM44.2 456.2h.8v.8h-.8zM28.2 460.8h.8v.8h-.8zM49.0 433.7h.8v.8h-.8zM42.4 451.2h.8v.8h-.8zM39.3 451.4h.8v.8h-.8zM25.5 462.1h.8v.8h-.8zM39.7 454.7h.8v.8h-.8zM34.6 454.6h.8v.8h-.8zM41.8 461.6h.8v.8h-.8zM46.8 456.7h.8v.8h-.8zM50.2 446.8h.8v.8h-.8zM29.7 458.1h.8v.8h-.8zM37.0 463.4h.8v.8h-.8zM39.2 459.7h.8v.8h-.8zM37.0 444.2h.8v.8h-.8zM36.3 443.6h.8v.8h-.8zM44.3 447.6h.8v.8h-.8zM41.6 458.3h.8v.8h-.8zM41.3 443.6h.8v.8h-.8zM31.8 460.6h.8v.8h-.8zM44.2 442.3h.8v.8h-.8zM30.0 467.2h.8v.8h-.8zM44.7 455.9h.8v.8h-.8zM36.5 467.3h.8v.8h-.8zM38.1 457.2h.8v.8h-.8zM37.0 454.6h.8v.8h-.8zM36.3 444.9h.8v.8h-.8zM47.7 436.5h.8v.8h-.8zM46.2 436.6h.8v.8h-.8zM52.3 439.2h.8v.8h-.8zM47.5 449.9h.8v.8h-.8zM30.3 469.6h.8v.8h-.8zM36.8 460.8h.8v.8h-.8zM32.5 459.3h.8v.8h-.8zM33.5 457.1h.8v.8h-.8zM48.3 456.4h.8v.8h-.8zM45.4 450.1h.8v.8h-.8zM40.5 457.7h.8v.8h-.8zM37.2 456.6h.8v.8h-.8zM30.4 463.1h.8v.8h-.8zM42.6 447.2h.8v.8h-.8zM39.7 444.2h.8v.8h-.8zM36.9 459.5h.8v.8h-.8zM44.3 456.9h.8v.8h-.8zM40.7 455.4h.8v.8h-.8zM35.2 461.5h.8v.8h-.8zM39.4 444.3h.8v.8h-.8zM47.0 458.5h.8v.8h-.8zM45.8 445.5h.8v.8h-.8zM42.1 463.3h.8v.8h-.8zM42.9 447.6h.8v.8h-.8zM43.3 456.0h.8v.8h-.8zM44.5 451.3h.8v.8h-.8zM54.0 439.7h.8v.8h-.8zM37.9 452.9h.8v.8h-.8zM50.8 443.4h.8v.8h-.8zM42.5 455.4h.8v.8h-.8zM37.7 459.7h.8v.8h-.8zM47.6 448.2h.8v.8h-.8zM46.9 444.0h.8v.8h-.8zM47.1 447.9h.8v.8h-.8zM49.5 440.5h.8v.8h-.8zM37.2 459.6h.8v.8h-.8zM38.5 453.0h.8v.8h-.8zM32.1 452.2h.8v.8h-.8zM47.5 465.6h.8v.8h-.8zM49.6 435.1h.8v.8h-.8zM51.9 451.8h.8v.8h-.8zM52.9 452.7h.8v.8h-.8zM36.1 454.2h.8v.8h-.8zM48.0 447.5h.8v.8h-.8zM36.0 451.3h.8v.8h-.8zM48.7 456.5h.8v.8h-.8zM32.2 467.3h.8v.8h-.8zM52.8 441.0h.8v.8h-.8zM52.4 449.5h.8v.8h-.8zM38.7 445.6h.8v.8h-.8zM42.8 463.5h.8v.8h-.8zM40.2 449.1h.8v.8h-.8zM41.9 445.9h.8v.8h-.8zM44.2 461.3h.8v.8h-.8zM52.6 445.0h.8v.8h-.8zM48.3 445.2h.8v.8h-.8zM44.7 459.0h.8v.8h-.8zM40.1 443.6h.8v.8h-.8zM45.7 444.9h.8v.8h-.8zM51.4 442.7h.8v.8h-.8zM48.6 450.0h.8v.8h-.8zM39.5 455.2h.8v.8h-.8zM41.6 451.9h.8v.8h-.8zM46.0 440.8h.8v.8h-.8zM40.7 443.2h.8v.8h-.8zM33.2 460.7h.8v.8h-.8zM39.2 452.8h.8v.8h-.8zM39.0 459.3h.8v.8h-.8zM43.0 448.5h.8v.8h-.8zM42.9 460.2h.8v.8h-.8zM41.9 442.8h.8v.8h-.8zM45.8 439.7h.8v.8h-.8zM48.5 438.2h.8v.8h-.8zM39.1 448.6h.8v.8h-.8zM48.3 442.2h.8v.8h-.8zM42.6 440.5h.8v.8h-.8zM40.9 440.5h.8v.8h-.8zM34.6 462.8h.8v.8h-.8zM46.5 444.1h.8v.8h-.8zM48.5 451.2h.8v.8h-.8zM45.0 448.4h.8v.8h-.8zM38.9 457.2h.8v.8h-.8zM44.1 448.0h.8v.8h-.8zM46.5 449.2h.8v.8h-.8zM31.7 458.1h.8v.8h-.8zM36.2 466.3h.8v.8h-.8zM43.2 447.0h.8v.8h-.8zM46.5 438.4h.8v.8h-.8zM31.1 459.9h.8v.8h-.8zM34.0 458.1h.8v.8h-.8zM33.8 474.7h.8v.8h-.8zM30.4 468.8h.8v.8h-.8zM47.9 446.2h.8v.8h-.8zM39.2 459.0h.8v.8h-.8zM29.8 466.5h.8v.8h-.8zM49.1 442.7h.8v.8h-.8zM46.2 445.8h.8v.8h-.8zM40.7 449.4h.8v.8h-.8zM46.8 437.2h.8v.8h-.8zM34.3 463.9h.8v.8h-.8zM44.6 441.2h.8v.8h-.8zM27.9 468.5h.8v.8h-.8zM41.0 457.6h.8v.8h-.8zM47.1 439.9h.8v.8h-.8zM27.3 458.8h.8v.8h-.8zM52.5 441.4h.8v.8h-.8zM42.8 445.0h.8v.8h-.8zM37.7 447.3h.8v.8h-.8zM36.4 452.1h.8v.8h-.8zM40.2 453.3h.8v.8h-.8zM47.0 441.4h.8v.8h-.8zM44.4 455.1h.8v.8h-.8zM38.1 459.5h.8v.8h-.8zM39.6 446.5h.8v.8h-.8zM36.4 458.8h.8v.8h-.8zM44.7 451.8h.8v.8h-.8zM34.5 435.0h.8v.8h-.8zM39.2 442.4h.8v.8h-.8zM33.8 459.9h.8v.8h-.8zM49.0 448.6h.8v.8h-.8zM39.0 452.4h.8v.8h-.8zM48.3 442.4h.8v.8h-.8zM31.5 462.9h.8v.8h-.8zM43.1 447.8h.8v.8h-.8zM45.3 437.6h.8v.8h-.8zM42.5 444.5h.8v.8h-.8zM31.7 470.2h.8v.8h-.8zM48.8 454.6h.8v.8h-.8zM40.9 452.1h.8v.8h-.8zM47.9 444.1h.8v.8h-.8zM42.6 461.2h.8v.8h-.8zM37.0 459.2h.8v.8h-.8zM41.1 452.5h.8v.8h-.8zM42.0 461.9h.8v.8h-.8zM41.8 450.9h.8v.8h-.8zM35.6 468.6h.8v.8h-.8zM46.2 442.6h.8v.8h-.8zM43.8 433.1h.8v.8h-.8zM33.3 465.8h.8v.8h-.8zM24.1 459.3h.8v.8h-.8zM37.3 452.8h.8v.8h-.8zM53.2 441.4h.8v.8h-.8zM53.1 440.3h.8v.8h-.8zM37.7 455.9h.8v.8h-.8zM37.1 445.9h.8v.8h-.8zM52.0 449.7h.8v.8h-.8zM46.5 455.4h.8v.8h-.8zM38.0 453.5h.8v.8h-.8zM38.3 459.4h.8v.8h-.8zM42.5 443.6h.8v.8h-.8zM44.1 446.6h.8v.8h-.8zM44.4 446.9h.8v.8h-.8zM48.7 465.1h.8v.8h-.8zM54.5 453.0h.8v.8h-.8zM45.8 441.3h.8v.8h-.8zM31.9 465.3h.8v.8h-.8zM33.8 477.7h.8v.8h-.8zM34.3 469.6h.8v.8h-.8zM32.1 466.3h.8v.8h-.8zM36.6 470.0h.8v.8h-.8zM32.9 473.9h.8v.8h-.8zM30.8 471.5h.8v.8h-.8zM23.6 475.1h.8v.8h-.8zM25.8 475.7h.8v.8h-.8zM35.3 475.0h.8v.8h-.8zM31.9 471.9h.8v.8h-.8zM44.4 467.8h.8v.8h-.8zM35.0 464.2h.8v.8h-.8zM41.7 470.5h.8v.8h-.8zM39.4 478.0h.8v.8h-.8zM34.5 473.1h.8v.8h-.8zM37.1 467.8h.8v.8h-.8zM24.9 474.4h.8v.8h-.8zM27.2 470.6h.8v.8h-.8zM37.8 477.9h.8v.8h-.8zM34.7 478.1h.8v.8h-.8zM30.7 472.2h.8v.8h-.8zM29.1 473.4h.8v.8h-.8zM36.3 472.8h.8v.8h-.8zM35.8 467.6h.8v.8h-.8zM38.1 478.3h.8v.8h-.8zM38.2 473.5h.8v.8h-.8zM35.8 470.9h.8v.8h-.8zM34.0 479.4h.8v.8h-.8zM25.0 472.6h.8v.8h-.8zM32.2 473.6h.8v.8h-.8zM41.6 472.6h.8v.8h-.8zM22.3 473.8h.8v.8h-.8zM31.4 477.5h.8v.8h-.8zM24.8 465.8h.8v.8h-.8zM29.3 471.2h.8v.8h-.8zM31.5 476.2h.8v.8h-.8zM40.7 477.1h.8v.8h-.8zM29.9 468.3h.8v.8h-.8zM27.7 465.7h.8v.8h-.8zM27.6 472.2h.8v.8h-.8zM29.5 466.2h.8v.8h-.8zM24.4 475.2h.8v.8h-.8zM32.5 477.1h.8v.8h-.8zM38.2 475.6h.8v.8h-.8zM28.0 468.9h.8v.8h-.8zM29.3 475.8h.8v.8h-.8zM45.6 474.3h.8v.8h-.8zM28.2 469.5h.8v.8h-.8zM36.3 474.9h.8v.8h-.8zM37.1 472.2h.8v.8h-.8zM26.4 476.4h.8v.8h-.8zM37.2 477.1h.8v.8h-.8zM28.0 465.1h.8v.8h-.8zM33.1 471.0h.8v.8h-.8zM33.1 470.8h.8v.8h-.8zM34.9 469.5h.8v.8h-.8zM39.8 474.7h.8v.8h-.8zM25.1 475.5h.8v.8h-.8zM29.5 467.7h.8v.8h-.8zM29.3 475.3h.8v.8h-.8zM26.2 475.4h.8v.8h-.8zM31.4 468.0h.8v.8h-.8zM34.6 470.5h.8v.8h-.8zM34.5 470.2h.8v.8h-.8zM30.8 478.0h.8v.8h-.8zM28.4 473.8h.8v.8h-.8zM31.6 469.4h.8v.8h-.8zM28.8 464.3h.8v.8h-.8zM29.8 466.2h.8v.8h-.8zM33.0 465.1h.8v.8h-.8zM33.8 469.5h.8v.8h-.8zM29.8 478.4h.8v.8h-.8zM42.1 470.9h.8v.8h-.8zM29.6 473.2h.8v.8h-.8zM27.8 473.8h.8v.8h-.8zM25.2 463.9h.8v.8h-.8zM27.9 476.1h.8v.8h-.8zM30.7 475.6h.8v.8h-.8zM37.9 466.3h.8v.8h-.8zM25.8 469.6h.8v.8h-.8zM37.2 479.5h.8v.8h-.8zM29.7 471.8h.8v.8h-.8zM32.0 479.4h.8v.8h-.8zM34.3 478.1h.8v.8h-.8zM37.4 468.8h.8v.8h-.8zM32.5 470.4h.8v.8h-.8zM29.1 477.1h.8v.8h-.8zM25.9 472.5h.8v.8h-.8zM32.6 472.5h.8v.8h-.8zM35.4 466.0h.8v.8h-.8zM28.5 471.6h.8v.8h-.8zM22.5 466.1h.8v.8h-.8zM30.0 479.2h.8v.8h-.8zM36.3 468.6h.8v.8h-.8zM32.0 469.7h.8v.8h-.8zM29.4 475.6h.8v.8h-.8zM29.2 470.3h.8v.8h-.8zM31.7 475.6h.8v.8h-.8zM31.2 471.7h.8v.8h-.8zM35.8 472.8h.8v.8h-.8zM22.1 476.8h.8v.8h-.8zM40.1 479.2h.8v.8h-.8zM33.3 469.6h.8v.8h-.8zM34.4 475.5h.8v.8h-.8zM31.2 472.0h.8v.8h-.8zM32.1 472.3h.8v.8h-.8zM36.1 472.3h.8v.8h-.8zM28.0 470.4h.8v.8h-.8zM30.5 472.5h.8v.8h-.8zM39.2 475.2h.8v.8h-.8zM37.6 477.2h.8v.8h-.8zM34.4 474.0h.8v.8h-.8zM35.5 470.1h.8v.8h-.8zM33.6 468.6h.8v.8h-.8zM35.1 477.5h.8v.8h-.8zM35.0 471.9h.8v.8h-.8zM38.6 467.5h.8v.8h-.8zM30.1 461.9h.8v.8h-.8zM28.1 472.8h.8v.8h-.8zM24.4 470.6h.8v.8h-.8zM27.7 468.7h.8v.8h-.8zM35.1 468.1h.8v.8h-.8zM25.6 475.4h.8v.8h-.8zM35.5 467.5h.8v.8h-.8zM26.8 467.3h.8v.8h-.8zM28.2 476.5h.8v.8h-.8zM37.3 472.8h.8v.8h-.8zM30.0 467.8h.8v.8h-.8zM41.8 475.0h.8v.8h-.8zM26.0 475.0h.8v.8h-.8zM31.4 478.7h.8v.8h-.8zM33.3 475.0h.8v.8h-.8zM26.2 475.9h.8v.8h-.8zM32.4 476.1h.8v.8h-.8zM32.5 472.4h.8v.8h-.8zM24.2 469.5h.8v.8h-.8zM39.9 475.2h.8v.8h-.8zM31.7 467.6h.8v.8h-.8zM39.6 477.1h.8v.8h-.8zM26.9 474.8h.8v.8h-.8zM34.7 470.4h.8v.8h-.8zM33.9 476.1h.8v.8h-.8zM32.7 470.8h.8v.8h-.8zM31.8 470.3h.8v.8h-.8zM30.3 468.8h.8v.8h-.8zM30.1 472.5h.8v.8h-.8zM32.5 464.6h.8v.8h-.8zM39.8 477.5h.8v.8h-.8zM35.4 472.1h.8v.8h-.8zM38.1 474.8h.8v.8h-.8zM34.4 474.7h.8v.8h-.8zM38.4 468.0h.8v.8h-.8zM24.8 478.8h.8v.8h-.8zM32.5 474.4h.8v.8h-.8zM30.8 465.3h.8v.8h-.8zM27.3 476.9h.8v.8h-.8zM26.5 475.3h.8v.8h-.8zM29.3 470.7h.8v.8h-.8zM34.7 473.0h.8v.8h-.8zM32.0 477.8h.8v.8h-.8zM32.9 472.0h.8v.8h-.8zM40.8 471.1h.8v.8h-.8zM30.7 467.6h.8v.8h-.8zM29.9 475.0h.8v.8h-.8zM26.5 466.5h.8v.8h-.8zM24.1 474.4h.8v.8h-.8zM26.8 477.2h.8v.8h-.8zM38.5 455.5h.8v.8h-.8zM39.1 477.2h.8v.8h-.8zM34.5 475.2h.8v.8h-.8zM25.1 477.0h.8v.8h-.8zM32.2 470.2h.8v.8h-.8zM25.6 473.1h.8v.8h-.8zM28.8 473.9h.8v.8h-.8zM35.6 473.9h.8v.8h-.8zM37.5 471.0h.8v.8h-.8zM24.2 471.9h.8v.8h-.8zM29.4 467.7h.8v.8h-.8zM22.8 477.3h.8v.8h-.8zM31.1 475.6h.8v.8h-.8zM31.0 469.4h.8v.8h-.8zM31.1 472.2h.8v.8h-.8zM28.9 467.3h.8v.8h-.8zM33.2 476.7h.8v.8h-.8zM28.6 472.3h.8v.8h-.8zM33.6 468.9h.8v.8h-.8zM37.2 478.8h.8v.8h-.8zM35.9 468.0h.8v.8h-.8zM31.0 472.7h.8v.8h-.8zM36.2 469.2h.8v.8h-.8zM38.6 471.1h.8v.8h-.8zM37.0 473.4h.8v.8h-.8zM33.7 473.2h.8v.8h-.8zM29.2 472.4h.8v.8h-.8zM37.6 477.5h.8v.8h-.8zM29.4 470.3h.8v.8h-.8zM34.4 477.7h.8v.8h-.8zM36.6 474.2h.8v.8h-.8zM32.7 471.5h.8v.8h-.8zM32.5 470.8h.8v.8h-.8zM25.9 471.7h.8v.8h-.8zM33.5 475.9h.8v.8h-.8zM31.3 475.5h.8v.8h-.8zM33.5 477.2h.8v.8h-.8zM31.7 477.5h.8v.8h-.8zM32.7 469.6h.8v.8h-.8zM38.7 463.9h.8v.8h-.8zM38.4 474.7h.8v.8h-.8zM32.9 470.7h.8v.8h-.8zM34.9 474.3h.8v.8h-.8zM31.7 468.4h.8v.8h-.8zM38.9 473.6h.8v.8h-.8zM35.9 473.3h.8v.8h-.8zM37.0 474.5h.8v.8h-.8zM30.4 471.6h.8v.8h-.8zM24.1 477.5h.8v.8h-.8zM29.1 469.9h.8v.8h-.8zM39.9 477.5h.8v.8h-.8zM32.3 474.5h.8v.8h-.8zM36.9 470.7h.8v.8h-.8zM26.4 472.1h.8v.8h-.8zM20.1 467.4h.8v.8h-.8zM36.4 469.3h.8v.8h-.8zM30.1 469.9h.8v.8h-.8zM36.0 473.2h.8v.8h-.8zM29.6 475.0h.8v.8h-.8zM37.8 469.0h.8v.8h-.8zM30.2 467.5h.8v.8h-.8zM32.0 471.4h.8v.8h-.8zM26.6 470.7h.8v.8h-.8zM35.8 475.9h.8v.8h-.8zM34.4 474.0h.8v.8h-.8zM30.3 471.2h.8v.8h-.8zM30.2 466.8h.8v.8h-.8zM34.3 476.0h.8v.8h-.8zM27.2 468.9h.8v.8h-.8zM36.5 471.8h.8v.8h-.8zM28.2 474.5h.8v.8h-.8zM27.1 471.0h.8v.8h-.8zM30.4 470.8h.8v.8h-.8zM24.1 473.6h.8v.8h-.8zM25.2 467.0h.8v.8h-.8zM26.6 469.3h.8v.8h-.8zM31.1 466.0h.8v.8h-.8zM27.2 468.2h.8v.8h-.8zM31.7 465.1h.8v.8h-.8zM45.7 467.5h.8v.8h-.8zM27.1 466.3h.8v.8h-.8zM27.6 479.1h.8v.8h-.8zM34.0 473.7h.8v.8h-.8zM31.9 470.8h.8v.8h-.8zM40.8 475.6h.8v.8h-.8zM30.6 471.6h.8v.8h-.8zM31.6 474.3h.8v.8h-.8zM36.9 477.7h.8v.8h-.8zM38.8 467.1h.8v.8h-.8zM40.7 471.7h.8v.8h-.8zM37.7 473.9h.8v.8h-.8zM31.0 466.8h.8v.8h-.8zM23.0 474.6h.8v.8h-.8zM33.4 468.7h.8v.8h-.8zM26.9 475.5h.8v.8h-.8zM29.4 471.8h.8v.8h-.8zM31.9 478.8h.8v.8h-.8zM26.2 478.5h.8v.8h-.8zM32.0 471.9h.8v.8h-.8zM32.8 469.6h.8v.8h-.8zM34.9 467.3h.8v.8h-.8zM34.2 467.6h.8v.8h-.8zM29.1 479.2h.8v.8h-.8zM24.9 461.7h.8v.8h-.8zM34.0 474.6h.8v.8h-.8zM30.4 467.7h.8v.8h-.8zM31.2 474.0h.8v.8h-.8zM34.8 474.3h.8v.8h-.8zM29.3 471.5h.8v.8h-.8zM23.8 476.3h.8v.8h-.8zM37.5 465.6h.8v.8h-.8zM31.0 475.0h.8v.8h-.8zM30.9 466.0h.8v.8h-.8zM39.2 462.4h.8v.8h-.8zM25.1 472.9h.8v.8h-.8zM37.0 466.7h.8v.8h-.8zM37.8 478.8h.8v.8h-.8zM32.3 473.0h.8v.8h-.8zM35.2 468.7h.8v.8h-.8zM29.9 479.6h.8v.8h-.8zM35.9 465.8h.8v.8h-.8zM36.9 477.5h.8v.8h-.8zM37.5 470.2h.8v.8h-.8zM43.5 478.0h.8v.8h-.8zM32.6 468.7h.8v.8h-.8zM39.4 473.6h.8v.8h-.8zM34.4 466.9h.8v.8h-.8zM35.5 468.5h.8v.8h-.8zM31.3 469.4h.8v.8h-.8zM29.1 462.6h.8v.8h-.8zM28.8 474.0h.8v.8h-.8zM36.5 463.6h.8v.8h-.8zM26.3 471.0h.8v.8h-.8zM37.9 477.0h.8v.8h-.8zM26.3 467.5h.8v.8h-.8zM40.3 471.5h.8v.8h-.8zM30.5 473.0h.8v.8h-.8zM33.9 468.5h.8v.8h-.8zM29.8 473.2h.8v.8h-.8zM31.4 470.2h.8v.8h-.8zM35.8 461.3h.8v.8h-.8zM40.0 470.2h.8v.8h-.8zM28.8 474.6h.8v.8h-.8zM29.8 477.3h.8v.8h-.8zM29.9 472.6h.8v.8h-.8zM33.7 474.3h.8v.8h-.8zM33.0 472.8h.8v.8h-.8zM31.4 476.6h.8v.8h-.8zM34.2 475.1h.8v.8h-.8zM32.8 469.1h.8v.8h-.8zM29.2 468.5h.8v.8h-.8zM28.8 470.1h.8v.8h-.8zM26.4 477.2h.8v.8h-.8zM38.0 467.9h.8v.8h-.8zM35.1 466.6h.8v.8h-.8zM31.7 472.6h.8v.8h-.8zM38.7 472.9h.8v.8h-.8zM38.9 472.3h.8v.8h-.8zM35.8 466.1h.8v.8h-.8zM38.4 476.6h.8v.8h-.8zM24.8 468.9h.8v.8h-.8zM26.6 468.4h.8v.8h-.8zM25.9 469.1h.8v.8h-.8zM31.8 471.1h.8v.8h-.8zM40.9 475.2h.8v.8h-.8zM24.0 467.7h.8v.8h-.8zM40.1 470.0h.8v.8h-.8zM23.5 462.3h.8v.8h-.8zM27.7 475.9h.8v.8h-.8zM26.7 475.6h.8v.8h-.8zM29.7 473.2h.8v.8h-.8zM37.3 471.8h.8v.8h-.8zM25.6 467.1h.8v.8h-.8zM32.0 477.3h.8v.8h-.8zM34.5 473.4h.8v.8h-.8zM31.2 476.9h.8v.8h-.8zM28.5 474.4h.8v.8h-.8zM30.6 474.4h.8v.8h-.8zM31.3 473.6h.8v.8h-.8zM32.7 467.0h.8v.8h-.8zM33.0 466.9h.8v.8h-.8zM24.9 474.2h.8v.8h-.8zM29.7 471.2h.8v.8h-.8zM30.6 462.4h.8v.8h-.8zM28.0 470.4h.8v.8h-.8zM33.8 476.9h.8v.8h-.8zM38.8 470.4h.8v.8h-.8zM25.8 466.3h.8v.8h-.8zM23.7 476.4h.8v.8h-.8zM31.6 463.0h.8v.8h-.8zM31.2 467.7h.8v.8h-.8zM27.8 479.5h.8v.8h-.8zM33.8 469.0h.8v.8h-.8zM27.5 468.2h.8v.8h-.8zM35.1 470.0h.8v.8h-.8zM35.9 475.0h.8v.8h-.8zM28.1 472.4h.8v.8h-.8zM33.0 474.9h.8v.8h-.8zM31.2 467.4h.8v.8h-.8zM34.4 468.3h.8v.8h-.8zM29.0 464.9h.8v.8h-.8zM36.3 478.1h.8v.8h-.8zM35.2 472.8h.8v.8h-.8zM32.3 474.7h.8v.8h-.8zM22.2 476.0h.8v.8h-.8zM37.3 466.1h.8v.8h-.8zM29.8 475.2h.8v.8h-.8zM37.4 472.5h.8v.8h-.8zM37.8 463.8h.8v.8h-.8zM40.8 478.8h.8v.8h-.8zM23.8 476.1h.8v.8h-.8zM27.6 476.3h.8v.8h-.8zM32.0 472.9h.8v.8h-.8zM41.2 472.0h.8v.8h-.8zM29.1 472.4h.8v.8h-.8zM46.3 470.9h.8v.8h-.8zM32.1 470.6h.8v.8h-.8zM36.7 471.8h.8v.8h-.8zM32.9 471.8h.8v.8h-.8zM26.0 469.5h.8v.8h-.8zM41.0 477.0h.8v.8h-.8zM21.9 474.2h.8v.8h-.8zM34.9 473.4h.8v.8h-.8zM33.5 470.3h.8v.8h-.8zM29.5 475.6h.8v.8h-.8zM39.5 469.8h.8v.8h-.8zM29.1 479.0h.8v.8h-.8zM36.7 472.2h.8v.8h-.8zM29.9 470.6h.8v.8h-.8zM30.8 469.6h.8v.8h-.8zM29.3 472.5h.8v.8h-.8zM27.1 471.4h.8v.8h-.8zM32.4 471.1h.8v.8h-.8zM29.3 471.1h.8v.8h-.8zM33.9 478.5h.8v.8h-.8zM29.3 473.6h.8v.8h-.8zM32.8 476.9h.8v.8h-.8zM34.3 470.5h.8v.8h-.8zM29.6 472.3h.8v.8h-.8zM32.8 474.0h.8v.8h-.8zM36.8 478.9h.8v.8h-.8zM30.9 475.4h.8v.8h-.8zM37.3 469.0h.8v.8h-.8zM44.0 475.9h.8v.8h-.8zM24.0 472.5h.8v.8h-.8zM24.6 474.3h.8v.8h-.8zM28.9 469.6h.8v.8h-.8zM29.1 470.7h.8v.8h-.8zM30.5 469.5h.8v.8h-.8zM31.0 477.0h.8v.8h-.8zM32.1 477.9h.8v.8h-.8zM30.6 470.2h.8v.8h-.8zM32.9 472.7h.8v.8h-.8zM31.1 473.2h.8v.8h-.8zM34.5 466.0h.8v.8h-.8zM29.4 466.4h.8v.8h-.8zM31.8 468.0h.8v.8h-.8zM36.4 470.7h.8v.8h-.8zM33.9 469.5h.8v.8h-.8zM27.0 476.0h.8v.8h-.8zM42.1 478.6h.8v.8h-.8zM31.0 473.9h.8v.8h-.8zM22.8 474.1h.8v.8h-.8zM28.6 471.1h.8v.8h-.8zM38.2 462.7h.8v.8h-.8zM28.6 469.7h.8v.8h-.8zM21.8 470.7h.8v.8h-.8zM39.1 473.7h.8v.8h-.8zM35.8 467.5h.8v.8h-.8zM30.0 466.6h.8v.8h-.8zM35.5 468.5h.8v.8h-.8zM30.7 468.9h.8v.8h-.8zM29.2 472.0h.8v.8h-.8zM37.8 461.7h.8v.8h-.8zM25.8 465.8h.8v.8h-.8zM38.4 472.5h.8v.8h-.8zM29.7 479.2h.8v.8h-.8zM32.3 465.2h.8v.8h-.8zM22.7 470.2h.8v.8h-.8zM31.1 466.8h.8v.8h-.8zM29.2 466.9h.8v.8h-.8zM26.0 474.2h.8v.8h-.8zM27.9 466.6h.8v.8h-.8zM29.2 470.8h.8v.8h-.8zM34.6 474.4h.8v.8h-.8zM34.1 468.5h.8v.8h-.8zM30.7 467.6h.8v.8h-.8zM32.0 476.1h.8v.8h-.8zM31.5 478.4h.8v.8h-.8zM29.3 474.3h.8v.8h-.8zM29.0 474.1h.8v.8h-.8zM27.3 477.0h.8v.8h-.8zM27.7 473.9h.8v.8h-.8zM38.4 466.6h.8v.8h-.8zM30.3 468.9h.8v.8h-.8zM27.1 468.5h.8v.8h-.8zM34.3 475.6h.8v.8h-.8zM22.2 472.7h.8v.8h-.8zM24.8 477.4h.8v.8h-.8zM29.7 470.2h.8v.8h-.8zM33.5 475.0h.8v.8h-.8zM31.6 469.1h.8v.8h-.8zM29.6 465.5h.8v.8h-.8zM30.2 473.8h.8v.8h-.8zM33.9 472.7h.8v.8h-.8zM30.6 478.8h.8v.8h-.8zM31.3 472.3h.8v.8h-.8zM31.7 478.8h.8v.8h-.8zM36.9 477.3h.8v.8h-.8zM26.9 474.0h.8v.8h-.8zM36.3 465.4h.8v.8h-.8zM33.9 470.9h.8v.8h-.8zM32.9 477.0h.8v.8h-.8zM30.5 474.9h.8v.8h-.8zM39.8 471.9h.8v.8h-.8zM33.7 461.9h.8v.8h-.8zM37.6 475.1h.8v.8h-.8zM35.7 475.9h.8v.8h-.8zM24.1 473.2h.8v.8h-.8zM29.2 471.4h.8v.8h-.8zM31.7 471.5h.8v.8h-.8zM41.0 473.7h.8v.8h-.8zM35.7 476.1h.8v.8h-.8zM31.5 471.2h.8v.8h-.8zM38.9 472.4h.8v.8h-.8zM30.0 478.0h.8v.8h-.8zM29.3 473.7h.8v.8h-.8zM40.9 473.8h.8v.8h-.8zM32.9 469.2h.8v.8h-.8zM36.3 466.4h.8v.8h-.8zM24.0 469.7h.8v.8h-.8zM42.6 470.4h.8v.8h-.8zM34.8 467.8h.8v.8h-.8zM21.8 466.1h.8v.8h-.8zM30.8 478.9h.8v.8h-.8zM31.7 473.4h.8v.8h-.8zM31.2 475.7h.8v.8h-.8zM33.1 465.1h.8v.8h-.8zM31.7 478.2h.8v.8h-.8zM41.5 467.2h.8v.8h-.8zM29.9 472.1h.8v.8h-.8zM32.3 466.3h.8v.8h-.8zM33.6 470.3h.8v.8h-.8zM31.3 473.5h.8v.8h-.8zM32.0 474.8h.8v.8h-.8zM31.5 475.8h.8v.8h-.8zM29.2 474.3h.8v.8h-.8zM29.4 474.8h.8v.8h-.8zM25.0 475.0h.8v.8h-.8zM32.5 476.1h.8v.8h-.8zM29.5 476.3h.8v.8h-.8zM28.1 474.9h.8v.8h-.8zM37.2 474.4h.8v.8h-.8zM31.4 469.7h.8v.8h-.8zM26.6 475.2h.8v.8h-.8zM35.3 468.1h.8v.8h-.8zM35.5 476.8h.8v.8h-.8zM32.7 475.7h.8v.8h-.8zM41.7 475.9h.8v.8h-.8zM32.1 470.4h.8v.8h-.8zM37.1 461.4h.8v.8h-.8zM28.9 476.8h.8v.8h-.8zM29.1 465.1h.8v.8h-.8zM28.3 469.2h.8v.8h-.8zM32.7 468.7h.8v.8h-.8zM29.0 473.4h.8v.8h-.8zM33.5 474.8h.8v.8h-.8zM37.0 477.8h.8v.8h-.8zM38.9 473.0h.8v.8h-.8zM35.7 472.1h.8v.8h-.8zM30.1 470.7h.8v.8h-.8zM39.5 469.0h.8v.8h-.8zM30.2 470.2h.8v.8h-.8zM31.7 475.0h.8v.8h-.8zM29.1 478.3h.8v.8h-.8zM43.6 472.4h.8v.8h-.8zM31.6 469.4h.8v.8h-.8zM39.5 466.4h.8v.8h-.8zM38.3 471.9h.8v.8h-.8zM35.5 472.0h.8v.8h-.8zM30.9 469.3h.8v.8h-.8zM37.7 472.7h.8v.8h-.8zM25.3 468.0h.8v.8h-.8zM28.3 468.3h.8v.8h-.8zM35.9 476.7h.8v.8h-.8zM31.8 474.4h.8v.8h-.8zM29.5 473.9h.8v.8h-.8zM33.5 475.1h.8v.8h-.8zM31.8 467.8h.8v.8h-.8zM24.5 475.4h.8v.8h-.8zM33.0 468.5h.8v.8h-.8zM28.3 465.9h.8v.8h-.8zM28.7 464.5h.8v.8h-.8zM38.9 472.7h.8v.8h-.8zM36.5 467.1h.8v.8h-.8zM32.4 475.0h.8v.8h-.8zM29.2 471.5h.8v.8h-.8zM41.5 479.3h.8v.8h-.8zM30.0 470.0h.8v.8h-.8zM36.8 474.4h.8v.8h-.8zM24.9 462.1h.8v.8h-.8zM37.6 473.3h.8v.8h-.8zM39.9 463.2h.8v.8h-.8zM35.2 464.6h.8v.8h-.8zM34.1 476.2h.8v.8h-.8zM34.3 474.2h.8v.8h-.8zM31.9 476.4h.8v.8h-.8zM31.4 469.3h.8v.8h-.8zM36.5 466.7h.8v.8h-.8zM29.6 470.9h.8v.8h-.8zM29.2 477.9h.8v.8h-.8zM31.7 474.2h.8v.8h-.8zM29.8 465.6h.8v.8h-.8zM23.7 474.5h.8v.8h-.8zM30.1 474.5h.8v.8h-.8zM32.9 473.5h.8v.8h-.8zM33.5 467.0h.8v.8h-.8zM24.8 476.8h.8v.8h-.8zM27.6 470.8h.8v.8h-.8zM35.5 476.7h.8v.8h-.8zM28.1 476.9h.8v.8h-.8zM30.8 470.2h.8v.8h-.8zM31.3 475.0h.8v.8h-.8zM29.3 478.2h.8v.8h-.8zM27.2 464.5h.8v.8h-.8zM30.1 467.1h.8v.8h-.8zM39.1 474.1h.8v.8h-.8zM39.0 474.5h.8v.8h-.8zM38.0 467.7h.8v.8h-.8zM38.8 478.6h.8v.8h-.8zM25.3 466.9h.8v.8h-.8zM36.8 466.3h.8v.8h-.8zM31.0 474.4h.8v.8h-.8zM30.1 465.7h.8v.8h-.8zM27.6 470.5h.8v.8h-.8zM26.3 473.6h.8v.8h-.8zM28.6 473.5h.8v.8h-.8zM34.6 475.2h.8v.8h-.8zM30.6 479.2h.8v.8h-.8zM33.8 465.6h.8v.8h-.8zM30.0 467.0h.8v.8h-.8zM36.4 469.5h.8v.8h-.8zM28.8 476.5h.8v.8h-.8zM30.9 468.1h.8v.8h-.8zM27.0 476.5h.8v.8h-.8zM33.6 471.7h.8v.8h-.8zM31.5 474.3h.8v.8h-.8zM22.3 473.3h.8v.8h-.8zM34.6 477.3h.8v.8h-.8zM27.6 471.8h.8v.8h-.8zM27.1 469.9h.8v.8h-.8zM37.7 474.1h.8v.8h-.8zM28.3 475.1h.8v.8h-.8zM26.0 476.5h.8v.8h-.8zM34.9 476.8h.8v.8h-.8zM34.0 464.9h.8v.8h-.8zM30.4 468.4h.8v.8h-.8zM37.0 469.9h.8v.8h-.8zM35.4 473.0h.8v.8h-.8zM30.9 473.9h.8v.8h-.8zM27.1 473.9h.8v.8h-.8zM32.8 471.5h.8v.8h-.8zM25.8 475.4h.8v.8h-.8zM33.0 466.3h.8v.8h-.8zM28.2 470.3h.8v.8h-.8zM35.7 477.9h.8v.8h-.8zM30.9 473.9h.8v.8h-.8zM28.1 477.6h.8v.8h-.8zM33.5 466.8h.8v.8h-.8zM26.4 476.4h.8v.8h-.8zM35.9 467.1h.8v.8h-.8zM36.1 467.8h.8v.8h-.8zM32.8 476.7h.8v.8h-.8zM31.1 472.3h.8v.8h-.8zM34.5 474.1h.8v.8h-.8zM31.0 470.5h.8v.8h-.8zM24.7 470.2h.8v.8h-.8zM31.7 474.4h.8v.8h-.8zM45.0 473.8h.8v.8h-.8zM43.2 478.1h.8v.8h-.8zM33.3 478.1h.8v.8h-.8zM30.4 469.0h.8v.8h-.8zM31.3 471.9h.8v.8h-.8zM30.9 472.0h.8v.8h-.8zM33.5 469.2h.8v.8h-.8zM31.8 473.4h.8v.8h-.8zM34.2 474.1h.8v.8h-.8zM26.7 468.8h.8v.8h-.8zM37.7 465.4h.8v.8h-.8zM27.6 471.0h.8v.8h-.8zM37.1 471.7h.8v.8h-.8zM31.9 472.0h.8v.8h-.8zM33.8 478.2h.8v.8h-.8zM36.9 479.3h.8v.8h-.8zM28.8 459.4h.8v.8h-.8zM20.1 465.3h.8v.8h-.8zM42.1 467.9h.8v.8h-.8zM34.8 465.2h.8v.8h-.8zM30.9 464.9h.8v.8h-.8zM40.3 477.8h.8v.8h-.8zM33.6 470.5h.8v.8h-.8zM34.7 475.7h.8v.8h-.8zM26.0 474.5h.8v.8h-.8zM30.7 473.2h.8v.8h-.8zM42.1 468.1h.8v.8h-.8zM27.7 478.5h.8v.8h-.8zM38.0 474.7h.8v.8h-.8zM29.4 472.2h.8v.8h-.8zM31.0 479.5h.8v.8h-.8zM28.9 469.6h.8v.8h-.8zM28.8 467.2h.8v.8h-.8zM28.0 467.1h.8v.8h-.8zM36.8 472.8h.8v.8h-.8zM31.4 476.7h.8v.8h-.8zM32.3 475.3h.8v.8h-.8zM38.5 475.6h.8v.8h-.8zM36.3 469.0h.8v.8h-.8zM30.0 471.4h.8v.8h-.8zM27.2 473.9h.8v.8h-.8zM30.8 471.5h.8v.8h-.8zM27.3 470.3h.8v.8h-.8zM29.8 477.6h.8v.8h-.8zM34.9 471.4h.8v.8h-.8zM31.9 471.7h.8v.8h-.8zM25.6 471.7h.8v.8h-.8zM24.9 471.1h.8v.8h-.8zM32.6 473.5h.8v.8h-.8zM29.3 475.0h.8v.8h-.8zM35.7 471.1h.8v.8h-.8zM31.2 472.9h.8v.8h-.8zM32.0 473.4h.8v.8h-.8zM33.2 475.1h.8v.8h-.8zM36.5 460.1h.8v.8h-.8zM28.0 478.9h.8v.8h-.8zM33.0 467.1h.8v.8h-.8zM28.2 475.6h.8v.8h-.8zM32.6 470.5h.8v.8h-.8zM58.8 436.6h.8v.8h-.8zM55.8 439.4h.8v.8h-.8zM58.4 439.4h.8v.8h-.8zM46.5 438.2h.8v.8h-.8zM53.8 434.6h.8v.8h-.8zM48.0 439.3h.8v.8h-.8zM47.0 436.1h.8v.8h-.8zM48.5 435.8h.8v.8h-.8zM49.8 436.9h.8v.8h-.8zM53.1 437.5h.8v.8h-.8zM43.8 439.8h.8v.8h-.8zM57.4 437.4h.8v.8h-.8zM46.8 435.0h.8v.8h-.8zM50.8 437.0h.8v.8h-.8zM49.7 437.3h.8v.8h-.8zM46.1 437.7h.8v.8h-.8zM53.4 437.4h.8v.8h-.8zM47.9 437.0h.8v.8h-.8zM58.2 437.9h.8v.8h-.8zM46.7 439.9h.8v.8h-.8zM45.6 435.1h.8v.8h-.8zM52.9 434.6h.8v.8h-.8zM50.7 440.3h.8v.8h-.8zM50.3 437.6h.8v.8h-.8zM52.9 435.9h.8v.8h-.8zM41.8 437.5h.8v.8h-.8zM49.9 435.1h.8v.8h-.8zM45.0 439.3h.8v.8h-.8zM51.7 436.4h.8v.8h-.8zM48.9 439.9h.8v.8h-.8zM44.0 439.8h.8v.8h-.8zM57.4 435.8h.8v.8h-.8zM45.2 439.0h.8v.8h-.8zM48.1 435.4h.8v.8h-.8zM44.6 437.8h.8v.8h-.8zM55.0 439.5h.8v.8h-.8zM50.6 434.9h.8v.8h-.8zM51.9 437.8h.8v.8h-.8zM45.3 436.7h.8v.8h-.8zM50.8 435.0h.8v.8h-.8zM57.3 436.9h.8v.8h-.8zM46.9 438.0h.8v.8h-.8zM47.0 436.4h.8v.8h-.8zM51.5 436.7h.8v.8h-.8zM50.2 437.6h.8v.8h-.8zM46.5 437.2h.8v.8h-.8zM41.9 438.4h.8v.8h-.8zM56.9 436.9h.8v.8h-.8zM43.6 437.0h.8v.8h-.8zM56.7 435.1h.8v.8h-.8zM51.5 435.2h.8v.8h-.8zM49.7 438.4h.8v.8h-.8zM57.2 435.8h.8v.8h-.8zM41.8 437.3h.8v.8h-.8zM47.1 434.9h.8v.8h-.8zM55.3 435.2h.8v.8h-.8zM44.4 437.4h.8v.8h-.8zM47.1 438.6h.8v.8h-.8zM53.7 435.7h.8v.8h-.8zM56.0 433.9h.8v.8h-.8zM56.8 437.6h.8v.8h-.8zM54.3 434.9h.8v.8h-.8zM53.8 437.2h.8v.8h-.8zM52.7 436.2h.8v.8h-.8zM51.9 437.5h.8v.8h-.8zM50.4 436.7h.8v.8h-.8zM50.5 438.7h.8v.8h-.8zM49.6 439.7h.8v.8h-.8zM50.0 437.5h.8v.8h-.8zM55.0 438.2h.8v.8h-.8zM45.4 436.0h.8v.8h-.8zM56.3 436.4h.8v.8h-.8zM45.2 435.6h.8v.8h-.8zM57.5 436.2h.8v.8h-.8zM50.4 434.8h.8v.8h-.8zM49.4 436.8h.8v.8h-.8zM53.6 435.8h.8v.8h-.8zM55.8 434.0h.8v.8h-.8zM53.9 439.3h.8v.8h-.8zM44.6 437.4h.8v.8h-.8zM51.3 436.1h.8v.8h-.8zM54.6 437.1h.8v.8h-.8zM54.1 433.1h.8v.8h-.8zM43.3 441.8h.8v.8h-.8zM58.6 434.4h.8v.8h-.8zM57.2 437.3h.8v.8h-.8zM51.7 437.0h.8v.8h-.8zM56.2 433.1h.8v.8h-.8zM53.2 437.0h.8v.8h-.8zM54.4 436.3h.8v.8h-.8zM49.3 438.0h.8v.8h-.8zM52.0 434.0h.8v.8h-.8zM46.8 437.5h.8v.8h-.8zM44.8 441.2h.8v.8h-.8zM42.8 437.6h.8v.8h-.8zM43.4 437.4h.8v.8h-.8zM45.4 442.2h.8v.8h-.8zM44.3 440.6h.8v.8h-.8zM45.3 437.5h.8v.8h-.8zM48.9 439.0h.8v.8h-.8zM57.2 436.1h.8v.8h-.8zM57.4 437.3h.8v.8h-.8zM56.5 436.3h.8v.8h-.8zM54.5 438.3h.8v.8h-.8zM47.2 437.1h.8v.8h-.8zM53.1 436.0h.8v.8h-.8zM44.5 437.7h.8v.8h-.8zM50.5 436.9h.8v.8h-.8zM55.8 433.7h.8v.8h-.8zM51.1 437.6h.8v.8h-.8zM56.9 436.0h.8v.8h-.8zM53.1 438.3h.8v.8h-.8zM52.3 437.3h.8v.8h-.8zM55.2 436.8h.8v.8h-.8zM49.6 438.3h.8v.8h-.8zM42.6 439.9h.8v.8h-.8zM51.6 436.9h.8v.8h-.8zM47.7 438.1h.8v.8h-.8zM50.6 435.8h.8v.8h-.8zM55.2 436.7h.8v.8h-.8z" fill="#c81212" fill-opacity="0.7"/>
<path d="M20.1,468.9 L32.0,468.7 Q36.5,470.5 36.5,477.5 L35.0,479.7 L20.1,479.7 Z" fill="#e8161c" opacity="1" filter="url(#bl4)"/>
<rect x="20.0" y="470.0" width="12.5" height="9.7" fill="#e8161c" filter="url(#bl2)"/>
<path d="M42.0,436.8 Q50.0,435.3 58.0,435.5 L58.0,436.6 Q50.0,439.1 42.0,440.6 Z" fill="#e01a1a" filter="url(#bl2)"/>
<path d="M43.0,437.9 Q50.0,436.4 55.0,436.0 Q50.0,438.0 43.0,439.5 Z" fill="#b81014" filter="url(#bl2)"/>
<rect x="19.50" y="426.50" width="55.00" height="54.00" fill="none" stroke="#555" stroke-width="0.75" />
<line x1="33.50" y1="426.50" x2="33.50" y2="480.50" stroke="#666" stroke-width="0.65" />
<line x1="19.50" y1="467.50" x2="74.50" y2="467.50" stroke="#666" stroke-width="0.65" />
<text x="62.10" y="433.48" font-size="6.6" font-weight="bold" text-anchor="start" fill="#222" stroke="#222" stroke-width="0.12" textLength="10.80" lengthAdjust="spacingAndGlyphs" >19%</text>
<text x="62.10" y="478.28" font-size="6.6" font-weight="bold" text-anchor="start" fill="#222" stroke="#222" stroke-width="0.12" textLength="10.80" lengthAdjust="spacingAndGlyphs" >11%</text>
<line x1="18.50" y1="480.50" x2="19.50" y2="480.50" stroke="#555" stroke-width="0.4" />
<text x="17.70" y="481.40" font-size="2.6" font-weight="bold" text-anchor="end" fill="#444" >10</text>
<line x1="18.50" y1="467.00" x2="19.50" y2="467.00" stroke="#555" stroke-width="0.4" />
<text x="17.70" y="467.90" font-size="2.6" font-weight="bold" text-anchor="end" fill="#444" >10</text>
<line x1="18.50" y1="453.50" x2="19.50" y2="453.50" stroke="#555" stroke-width="0.4" />
<text x="17.70" y="454.40" font-size="2.6" font-weight="bold" text-anchor="end" fill="#444" >10</text>
<line x1="18.50" y1="440.00" x2="19.50" y2="440.00" stroke="#555" stroke-width="0.4" />
<text x="17.70" y="440.90" font-size="2.6" font-weight="bold" text-anchor="end" fill="#444" >10</text>
<line x1="18.50" y1="426.50" x2="19.50" y2="426.50" stroke="#555" stroke-width="0.4" />
<text x="17.70" y="427.40" font-size="2.6" font-weight="bold" text-anchor="end" fill="#444" >10</text>
<line x1="19.50" y1="480.50" x2="19.50" y2="481.50" stroke="#555" stroke-width="0.4" />
<text x="19.50" y="483.50" font-size="2.6" font-weight="bold" text-anchor="middle" fill="#444" transform="rotate(-45 19.50 483.50)" >10</text>
<line x1="33.25" y1="480.50" x2="33.25" y2="481.50" stroke="#555" stroke-width="0.4" />
<text x="33.25" y="483.50" font-size="2.6" font-weight="bold" text-anchor="middle" fill="#444" transform="rotate(-45 33.25 483.50)" >10</text>
<line x1="47.00" y1="480.50" x2="47.00" y2="481.50" stroke="#555" stroke-width="0.4" />
<text x="47.00" y="483.50" font-size="2.6" font-weight="bold" text-anchor="middle" fill="#444" transform="rotate(-45 47.00 483.50)" >10</text>
<line x1="60.75" y1="480.50" x2="60.75" y2="481.50" stroke="#555" stroke-width="0.4" />
<text x="60.75" y="483.50" font-size="2.6" font-weight="bold" text-anchor="middle" fill="#444" transform="rotate(-45 60.75 483.50)" >10</text>
<line x1="74.50" y1="480.50" x2="74.50" y2="481.50" stroke="#555" stroke-width="0.4" />
<text x="74.50" y="483.50" font-size="2.6" font-weight="bold" text-anchor="middle" fill="#444" transform="rotate(-45 74.50 483.50)" >10</text>
<path d="M111.7 457.1h.8v.8h-.8zM101.6 457.6h.8v.8h-.8zM104.2 463.6h.8v.8h-.8zM101.1 455.0h.8v.8h-.8zM104.7 458.9h.8v.8h-.8zM111.7 447.8h.8v.8h-.8zM106.0 454.5h.8v.8h-.8zM99.3 456.8h.8v.8h-.8zM109.7 445.1h.8v.8h-.8zM98.7 461.5h.8v.8h-.8zM113.7 455.7h.8v.8h-.8zM107.0 463.0h.8v.8h-.8zM115.4 441.5h.8v.8h-.8zM103.3 450.0h.8v.8h-.8zM114.7 451.0h.8v.8h-.8zM112.6 455.6h.8v.8h-.8zM110.1 458.3h.8v.8h-.8zM95.7 449.5h.8v.8h-.8zM107.0 462.3h.8v.8h-.8zM114.0 452.0h.8v.8h-.8zM103.4 451.8h.8v.8h-.8zM99.7 440.7h.8v.8h-.8zM117.5 452.0h.8v.8h-.8zM112.3 453.3h.8v.8h-.8zM105.4 458.4h.8v.8h-.8zM106.3 455.4h.8v.8h-.8zM110.3 449.8h.8v.8h-.8zM102.0 446.2h.8v.8h-.8zM111.0 454.0h.8v.8h-.8zM105.7 461.1h.8v.8h-.8zM104.2 459.8h.8v.8h-.8zM109.9 443.1h.8v.8h-.8zM104.2 470.6h.8v.8h-.8zM106.1 453.6h.8v.8h-.8zM98.4 464.6h.8v.8h-.8zM99.3 455.0h.8v.8h-.8zM105.3 456.8h.8v.8h-.8zM99.6 456.8h.8v.8h-.8zM111.7 450.4h.8v.8h-.8zM114.3 456.6h.8v.8h-.8zM102.1 450.7h.8v.8h-.8zM102.4 460.2h.8v.8h-.8zM92.8 460.2h.8v.8h-.8zM111.5 448.2h.8v.8h-.8zM104.4 451.4h.8v.8h-.8zM100.6 462.4h.8v.8h-.8zM104.5 469.5h.8v.8h-.8zM107.5 446.7h.8v.8h-.8zM109.7 452.1h.8v.8h-.8zM103.3 459.7h.8v.8h-.8zM99.9 467.8h.8v.8h-.8zM99.3 459.7h.8v.8h-.8zM108.9 453.7h.8v.8h-.8zM106.7 441.0h.8v.8h-.8zM97.8 462.8h.8v.8h-.8zM109.7 453.8h.8v.8h-.8zM107.7 446.7h.8v.8h-.8zM112.9 444.5h.8v.8h-.8zM115.0 447.2h.8v.8h-.8zM109.7 449.0h.8v.8h-.8zM101.5 456.7h.8v.8h-.8zM111.4 455.6h.8v.8h-.8zM102.0 466.8h.8v.8h-.8zM106.9 453.3h.8v.8h-.8zM107.4 448.9h.8v.8h-.8zM98.7 457.9h.8v.8h-.8zM107.4 444.1h.8v.8h-.8zM100.3 458.2h.8v.8h-.8zM100.2 454.2h.8v.8h-.8zM111.5 452.5h.8v.8h-.8zM104.3 458.3h.8v.8h-.8zM113.3 446.8h.8v.8h-.8zM107.9 459.9h.8v.8h-.8zM107.0 463.9h.8v.8h-.8zM93.8 460.7h.8v.8h-.8zM102.5 457.6h.8v.8h-.8zM112.8 451.8h.8v.8h-.8zM102.5 457.9h.8v.8h-.8zM103.0 467.8h.8v.8h-.8zM102.9 455.2h.8v.8h-.8zM115.3 443.3h.8v.8h-.8zM107.6 460.8h.8v.8h-.8zM111.0 459.0h.8v.8h-.8zM114.9 440.6h.8v.8h-.8zM93.4 451.8h.8v.8h-.8zM105.6 452.9h.8v.8h-.8zM98.6 436.4h.8v.8h-.8zM105.4 444.1h.8v.8h-.8zM103.1 461.3h.8v.8h-.8zM107.7 452.8h.8v.8h-.8zM106.4 450.9h.8v.8h-.8zM108.9 454.5h.8v.8h-.8zM108.8 449.9h.8v.8h-.8zM102.5 448.7h.8v.8h-.8zM95.0 456.2h.8v.8h-.8zM103.9 454.2h.8v.8h-.8zM105.6 457.7h.8v.8h-.8zM109.8 447.1h.8v.8h-.8zM110.1 459.5h.8v.8h-.8zM101.1 461.9h.8v.8h-.8zM103.2 456.8h.8v.8h-.8zM109.7 451.4h.8v.8h-.8zM105.9 456.2h.8v.8h-.8zM103.1 449.5h.8v.8h-.8zM109.2 458.4h.8v.8h-.8zM102.5 451.4h.8v.8h-.8zM96.7 456.3h.8v.8h-.8zM108.6 458.1h.8v.8h-.8zM107.1 451.6h.8v.8h-.8zM96.2 450.4h.8v.8h-.8zM112.4 449.2h.8v.8h-.8zM113.2 450.0h.8v.8h-.8zM110.7 450.4h.8v.8h-.8zM110.0 461.3h.8v.8h-.8zM105.2 445.8h.8v.8h-.8zM113.5 451.5h.8v.8h-.8zM107.4 456.3h.8v.8h-.8zM110.1 447.8h.8v.8h-.8zM113.0 444.2h.8v.8h-.8zM107.6 450.9h.8v.8h-.8zM101.7 459.4h.8v.8h-.8zM105.1 470.8h.8v.8h-.8zM102.8 458.5h.8v.8h-.8zM103.6 463.8h.8v.8h-.8zM99.3 462.8h.8v.8h-.8zM101.0 445.5h.8v.8h-.8zM106.3 464.0h.8v.8h-.8zM106.8 453.4h.8v.8h-.8zM114.1 453.7h.8v.8h-.8zM98.1 454.9h.8v.8h-.8zM110.3 461.7h.8v.8h-.8zM99.7 461.7h.8v.8h-.8zM107.7 451.9h.8v.8h-.8zM102.1 447.8h.8v.8h-.8zM108.7 463.1h.8v.8h-.8zM105.0 465.3h.8v.8h-.8zM111.8 451.1h.8v.8h-.8zM101.3 459.9h.8v.8h-.8zM105.2 456.4h.8v.8h-.8zM110.6 446.4h.8v.8h-.8zM111.4 452.4h.8v.8h-.8zM99.2 463.8h.8v.8h-.8zM105.7 442.9h.8v.8h-.8zM111.3 449.6h.8v.8h-.8zM104.5 452.0h.8v.8h-.8zM103.4 451.3h.8v.8h-.8zM101.1 462.6h.8v.8h-.8zM111.3 450.4h.8v.8h-.8zM111.0 454.1h.8v.8h-.8zM104.3 440.1h.8v.8h-.8zM104.6 459.6h.8v.8h-.8zM100.8 461.2h.8v.8h-.8zM107.6 452.4h.8v.8h-.8zM121.2 454.7h.8v.8h-.8zM102.6 459.3h.8v.8h-.8zM109.0 451.1h.8v.8h-.8zM106.9 453.7h.8v.8h-.8zM106.0 470.4h.8v.8h-.8zM100.1 458.7h.8v.8h-.8zM105.5 452.4h.8v.8h-.8zM102.1 460.8h.8v.8h-.8zM105.4 450.4h.8v.8h-.8zM95.7 469.3h.8v.8h-.8zM110.0 440.8h.8v.8h-.8zM111.8 456.0h.8v.8h-.8zM110.4 447.2h.8v.8h-.8zM110.0 452.0h.8v.8h-.8zM106.4 454.5h.8v.8h-.8zM113.1 438.2h.8v.8h-.8zM111.0 445.6h.8v.8h-.8zM105.1 464.5h.8v.8h-.8zM112.0 449.9h.8v.8h-.8zM115.9 452.5h.8v.8h-.8zM100.6 458.8h.8v.8h-.8zM108.9 456.9h.8v.8h-.8zM99.8 456.1h.8v.8h-.8zM101.5 450.2h.8v.8h-.8zM107.6 451.7h.8v.8h-.8zM102.8 457.5h.8v.8h-.8zM112.3 448.5h.8v.8h-.8zM99.1 458.5h.8v.8h-.8zM106.3 461.0h.8v.8h-.8zM101.1 451.7h.8v.8h-.8zM110.0 450.6h.8v.8h-.8zM109.7 458.9h.8v.8h-.8zM108.5 448.0h.8v.8h-.8zM110.1 442.6h.8v.8h-.8zM108.3 458.8h.8v.8h-.8zM104.5 457.9h.8v.8h-.8zM108.1 448.4h.8v.8h-.8zM110.2 444.4h.8v.8h-.8zM104.2 446.5h.8v.8h-.8zM105.1 461.6h.8v.8h-.8zM91.2 463.8h.8v.8h-.8zM109.7 453.3h.8v.8h-.8zM97.0 460.4h.8v.8h-.8zM111.8 460.8h.8v.8h-.8zM111.5 453.7h.8v.8h-.8zM96.4 456.9h.8v.8h-.8zM102.5 454.1h.8v.8h-.8zM113.4 448.5h.8v.8h-.8zM98.1 454.6h.8v.8h-.8zM107.7 452.7h.8v.8h-.8zM103.4 458.8h.8v.8h-.8zM102.7 454.7h.8v.8h-.8zM100.8 458.5h.8v.8h-.8zM109.8 440.8h.8v.8h-.8zM103.2 451.1h.8v.8h-.8zM97.8 459.2h.8v.8h-.8zM100.4 450.2h.8v.8h-.8zM111.2 453.8h.8v.8h-.8zM117.9 441.6h.8v.8h-.8zM103.2 455.5h.8v.8h-.8zM103.8 459.9h.8v.8h-.8zM101.4 460.0h.8v.8h-.8zM120.3 444.0h.8v.8h-.8zM104.0 458.9h.8v.8h-.8zM107.3 452.8h.8v.8h-.8zM104.9 458.9h.8v.8h-.8zM107.5 456.1h.8v.8h-.8zM103.5 455.7h.8v.8h-.8zM109.7 446.0h.8v.8h-.8zM109.4 448.3h.8v.8h-.8zM109.3 447.1h.8v.8h-.8zM102.9 458.8h.8v.8h-.8zM105.8 447.5h.8v.8h-.8zM112.2 450.9h.8v.8h-.8zM107.1 442.5h.8v.8h-.8zM96.7 465.0h.8v.8h-.8zM102.5 467.1h.8v.8h-.8zM105.0 458.4h.8v.8h-.8zM118.0 456.8h.8v.8h-.8zM112.2 454.9h.8v.8h-.8zM108.8 446.6h.8v.8h-.8zM97.5 456.9h.8v.8h-.8zM106.2 457.6h.8v.8h-.8zM98.8 454.9h.8v.8h-.8zM109.0 447.9h.8v.8h-.8zM109.5 453.9h.8v.8h-.8zM110.5 449.3h.8v.8h-.8zM110.1 444.0h.8v.8h-.8zM103.7 466.8h.8v.8h-.8zM101.6 452.0h.8v.8h-.8zM107.5 444.4h.8v.8h-.8zM102.1 460.7h.8v.8h-.8zM105.5 442.3h.8v.8h-.8zM103.5 447.4h.8v.8h-.8zM110.0 442.2h.8v.8h-.8zM102.8 459.3h.8v.8h-.8zM105.2 451.8h.8v.8h-.8zM103.2 453.2h.8v.8h-.8zM115.9 459.2h.8v.8h-.8zM102.7 452.6h.8v.8h-.8zM96.7 452.0h.8v.8h-.8zM96.5 456.8h.8v.8h-.8zM103.3 451.2h.8v.8h-.8zM106.7 451.3h.8v.8h-.8zM104.0 463.0h.8v.8h-.8zM97.8 459.5h.8v.8h-.8zM103.9 459.8h.8v.8h-.8zM91.4 457.6h.8v.8h-.8zM99.1 444.9h.8v.8h-.8zM91.1 453.2h.8v.8h-.8zM97.6 446.5h.8v.8h-.8zM110.8 440.9h.8v.8h-.8zM101.9 443.0h.8v.8h-.8zM106.0 440.0h.8v.8h-.8zM99.1 446.2h.8v.8h-.8zM90.5 459.8h.8v.8h-.8zM101.2 443.9h.8v.8h-.8zM103.2 440.5h.8v.8h-.8zM90.2 452.7h.8v.8h-.8zM90.9 450.9h.8v.8h-.8zM89.4 459.7h.8v.8h-.8zM104.8 441.2h.8v.8h-.8zM101.6 443.0h.8v.8h-.8zM93.4 457.5h.8v.8h-.8zM96.8 446.1h.8v.8h-.8zM97.6 447.4h.8v.8h-.8zM89.4 456.6h.8v.8h-.8zM95.0 446.4h.8v.8h-.8zM101.0 444.0h.8v.8h-.8zM105.9 437.9h.8v.8h-.8zM92.7 451.3h.8v.8h-.8zM89.8 455.1h.8v.8h-.8zM90.8 459.6h.8v.8h-.8zM95.1 449.9h.8v.8h-.8zM107.1 439.9h.8v.8h-.8zM95.6 451.2h.8v.8h-.8zM91.7 451.9h.8v.8h-.8zM92.1 457.3h.8v.8h-.8zM107.5 442.6h.8v.8h-.8zM100.5 445.3h.8v.8h-.8zM90.5 458.7h.8v.8h-.8zM89.7 459.8h.8v.8h-.8zM107.0 440.8h.8v.8h-.8zM98.2 446.7h.8v.8h-.8zM97.3 443.0h.8v.8h-.8zM92.9 456.0h.8v.8h-.8zM106.2 441.1h.8v.8h-.8zM106.1 441.2h.8v.8h-.8zM92.1 454.9h.8v.8h-.8zM91.5 460.1h.8v.8h-.8zM92.9 450.6h.8v.8h-.8zM106.2 438.6h.8v.8h-.8zM91.7 457.7h.8v.8h-.8zM93.1 457.6h.8v.8h-.8zM94.1 452.7h.8v.8h-.8zM107.6 440.1h.8v.8h-.8zM91.4 452.2h.8v.8h-.8zM92.8 449.1h.8v.8h-.8zM87.0 461.8h.8v.8h-.8zM97.5 444.0h.8v.8h-.8zM103.5 443.1h.8v.8h-.8zM95.1 447.3h.8v.8h-.8zM91.4 452.0h.8v.8h-.8zM101.5 441.3h.8v.8h-.8zM97.4 453.1h.8v.8h-.8zM95.5 448.9h.8v.8h-.8zM94.7 447.1h.8v.8h-.8zM96.9 451.7h.8v.8h-.8zM88.6 451.3h.8v.8h-.8zM87.9 457.2h.8v.8h-.8zM103.1 443.7h.8v.8h-.8zM88.1 456.2h.8v.8h-.8zM99.7 442.0h.8v.8h-.8zM107.7 435.6h.8v.8h-.8zM92.6 449.9h.8v.8h-.8zM99.4 445.5h.8v.8h-.8zM110.8 436.1h.8v.8h-.8zM108.2 439.3h.8v.8h-.8zM104.0 440.6h.8v.8h-.8zM89.2 457.9h.8v.8h-.8zM92.2 452.7h.8v.8h-.8zM91.4 454.4h.8v.8h-.8zM94.8 451.9h.8v.8h-.8zM100.9 444.2h.8v.8h-.8zM97.8 444.9h.8v.8h-.8zM90.1 454.1h.8v.8h-.8zM91.3 460.0h.8v.8h-.8zM107.6 438.0h.8v.8h-.8zM92.2 452.8h.8v.8h-.8zM95.1 448.5h.8v.8h-.8zM88.4 459.3h.8v.8h-.8zM96.5 446.4h.8v.8h-.8zM103.6 440.3h.8v.8h-.8zM94.8 444.3h.8v.8h-.8zM100.2 443.7h.8v.8h-.8zM93.4 450.5h.8v.8h-.8zM104.0 439.9h.8v.8h-.8zM94.5 445.9h.8v.8h-.8zM107.8 440.6h.8v.8h-.8zM94.3 447.5h.8v.8h-.8zM93.5 449.5h.8v.8h-.8zM109.4 438.0h.8v.8h-.8zM89.2 454.4h.8v.8h-.8zM99.6 444.9h.8v.8h-.8zM101.7 444.0h.8v.8h-.8zM90.7 454.8h.8v.8h-.8zM90.0 452.5h.8v.8h-.8zM92.9 449.6h.8v.8h-.8zM103.7 440.1h.8v.8h-.8zM91.0 456.1h.8v.8h-.8zM101.1 442.2h.8v.8h-.8zM109.2 441.5h.8v.8h-.8zM89.8 459.5h.8v.8h-.8zM92.5 453.6h.8v.8h-.8zM102.7 443.2h.8v.8h-.8zM106.0 442.0h.8v.8h-.8zM90.3 459.6h.8v.8h-.8zM103.0 441.6h.8v.8h-.8zM105.9 438.4h.8v.8h-.8zM99.1 442.7h.8v.8h-.8zM104.0 441.0h.8v.8h-.8zM97.6 446.1h.8v.8h-.8zM100.0 442.8h.8v.8h-.8zM101.2 440.1h.8v.8h-.8zM98.1 445.6h.8v.8h-.8zM95.4 444.9h.8v.8h-.8zM96.5 449.2h.8v.8h-.8zM92.1 455.8h.8v.8h-.8zM92.7 452.3h.8v.8h-.8zM97.3 447.3h.8v.8h-.8zM105.8 440.0h.8v.8h-.8zM94.2 446.4h.8v.8h-.8zM90.3 452.6h.8v.8h-.8zM96.0 447.8h.8v.8h-.8zM101.5 439.8h.8v.8h-.8zM106.9 442.5h.8v.8h-.8zM87.4 462.4h.8v.8h-.8zM90.6 452.2h.8v.8h-.8zM101.5 445.4h.8v.8h-.8zM91.6 454.9h.8v.8h-.8zM98.7 444.2h.8v.8h-.8zM103.5 442.1h.8v.8h-.8zM94.6 448.9h.8v.8h-.8zM91.4 451.2h.8v.8h-.8zM105.6 438.9h.8v.8h-.8zM97.9 447.9h.8v.8h-.8zM94.0 456.0h.8v.8h-.8zM91.3 453.3h.8v.8h-.8zM94.4 445.0h.8v.8h-.8zM101.7 440.3h.8v.8h-.8zM96.2 447.7h.8v.8h-.8zM94.3 453.1h.8v.8h-.8zM100.9 446.0h.8v.8h-.8zM106.6 437.7h.8v.8h-.8zM92.7 449.4h.8v.8h-.8zM89.4 452.4h.8v.8h-.8zM92.9 452.6h.8v.8h-.8zM95.9 447.8h.8v.8h-.8zM100.2 442.7h.8v.8h-.8zM100.4 442.0h.8v.8h-.8zM100.6 442.4h.8v.8h-.8zM90.6 458.9h.8v.8h-.8zM104.6 437.9h.8v.8h-.8zM105.4 440.1h.8v.8h-.8zM95.6 446.3h.8v.8h-.8zM90.7 455.6h.8v.8h-.8zM99.4 443.7h.8v.8h-.8zM94.7 448.5h.8v.8h-.8zM105.8 443.3h.8v.8h-.8zM91.6 453.4h.8v.8h-.8zM94.5 450.0h.8v.8h-.8zM91.2 455.4h.8v.8h-.8zM94.9 447.3h.8v.8h-.8zM99.3 446.0h.8v.8h-.8zM105.3 437.2h.8v.8h-.8zM98.8 443.8h.8v.8h-.8zM104.5 440.4h.8v.8h-.8zM95.7 449.1h.8v.8h-.8zM92.5 450.3h.8v.8h-.8zM98.5 443.1h.8v.8h-.8zM93.2 452.1h.8v.8h-.8zM89.6 453.3h.8v.8h-.8zM99.6 442.9h.8v.8h-.8zM103.2 438.9h.8v.8h-.8zM103.6 438.9h.8v.8h-.8zM92.5 452.8h.8v.8h-.8zM91.7 451.2h.8v.8h-.8zM91.8 452.0h.8v.8h-.8zM89.0 457.7h.8v.8h-.8zM108.4 439.5h.8v.8h-.8zM99.1 448.9h.8v.8h-.8zM100.3 446.7h.8v.8h-.8zM92.9 449.7h.8v.8h-.8zM102.9 440.0h.8v.8h-.8zM98.9 446.1h.8v.8h-.8zM92.1 453.9h.8v.8h-.8zM103.6 444.5h.8v.8h-.8zM90.0 458.4h.8v.8h-.8zM102.1 441.3h.8v.8h-.8zM92.9 451.4h.8v.8h-.8zM98.2 446.2h.8v.8h-.8zM89.9 461.4h.8v.8h-.8zM106.7 438.7h.8v.8h-.8zM88.5 460.6h.8v.8h-.8zM92.7 454.4h.8v.8h-.8zM96.6 449.6h.8v.8h-.8zM88.5 458.2h.8v.8h-.8zM103.8 441.3h.8v.8h-.8zM100.9 442.9h.8v.8h-.8zM100.4 445.8h.8v.8h-.8zM107.0 441.0h.8v.8h-.8zM96.7 451.9h.8v.8h-.8zM102.5 437.6h.8v.8h-.8zM98.0 448.1h.8v.8h-.8zM92.2 449.9h.8v.8h-.8zM99.9 444.9h.8v.8h-.8zM103.4 441.4h.8v.8h-.8zM98.3 445.9h.8v.8h-.8zM94.2 444.1h.8v.8h-.8zM93.0 448.2h.8v.8h-.8zM88.5 455.4h.8v.8h-.8zM100.9 440.8h.8v.8h-.8zM100.4 442.0h.8v.8h-.8zM101.4 441.8h.8v.8h-.8zM97.3 445.6h.8v.8h-.8zM109.4 452.0h.8v.8h-.8zM110.7 457.1h.8v.8h-.8zM108.5 452.9h.8v.8h-.8zM112.2 461.4h.8v.8h-.8zM110.9 463.3h.8v.8h-.8zM109.4 443.1h.8v.8h-.8zM105.4 450.1h.8v.8h-.8zM112.3 449.1h.8v.8h-.8zM106.2 443.5h.8v.8h-.8zM110.6 447.1h.8v.8h-.8zM109.6 452.1h.8v.8h-.8zM109.1 465.9h.8v.8h-.8zM113.7 466.0h.8v.8h-.8zM107.5 461.9h.8v.8h-.8zM105.4 448.5h.8v.8h-.8zM108.1 448.8h.8v.8h-.8zM112.1 460.9h.8v.8h-.8zM109.1 457.7h.8v.8h-.8zM110.6 465.4h.8v.8h-.8zM109.2 462.3h.8v.8h-.8zM114.4 461.0h.8v.8h-.8zM110.9 462.0h.8v.8h-.8zM109.1 452.1h.8v.8h-.8zM110.1 447.0h.8v.8h-.8zM109.6 453.1h.8v.8h-.8zM111.5 444.9h.8v.8h-.8zM111.6 445.0h.8v.8h-.8zM110.8 460.6h.8v.8h-.8zM110.3 454.8h.8v.8h-.8zM110.9 449.1h.8v.8h-.8zM111.2 465.6h.8v.8h-.8zM113.1 445.9h.8v.8h-.8zM113.8 455.1h.8v.8h-.8zM113.0 460.2h.8v.8h-.8zM107.9 445.0h.8v.8h-.8zM108.4 453.3h.8v.8h-.8zM112.7 459.2h.8v.8h-.8zM110.7 467.3h.8v.8h-.8zM111.3 461.8h.8v.8h-.8zM112.4 453.9h.8v.8h-.8zM108.0 451.2h.8v.8h-.8zM110.0 450.9h.8v.8h-.8zM109.8 447.7h.8v.8h-.8zM109.5 447.7h.8v.8h-.8zM115.2 468.7h.8v.8h-.8zM108.1 454.6h.8v.8h-.8zM110.4 464.5h.8v.8h-.8zM110.2 462.5h.8v.8h-.8zM110.6 448.4h.8v.8h-.8zM113.9 458.0h.8v.8h-.8zM112.1 465.8h.8v.8h-.8zM110.0 460.5h.8v.8h-.8zM109.8 447.6h.8v.8h-.8zM110.9 454.8h.8v.8h-.8zM113.8 464.0h.8v.8h-.8zM111.9 465.8h.8v.8h-.8zM109.3 454.6h.8v.8h-.8zM109.7 447.5h.8v.8h-.8zM112.6 445.7h.8v.8h-.8zM110.8 453.9h.8v.8h-.8zM109.3 459.6h.8v.8h-.8zM108.5 456.8h.8v.8h-.8zM111.9 463.6h.8v.8h-.8zM107.0 448.9h.8v.8h-.8zM111.0 445.3h.8v.8h-.8zM108.6 456.7h.8v.8h-.8zM108.9 455.3h.8v.8h-.8zM113.7 444.5h.8v.8h-.8zM107.6 455.8h.8v.8h-.8zM106.7 443.3h.8v.8h-.8zM113.7 452.4h.8v.8h-.8zM113.5 448.0h.8v.8h-.8zM110.5 440.8h.8v.8h-.8zM108.8 453.0h.8v.8h-.8zM109.0 445.8h.8v.8h-.8zM114.3 454.5h.8v.8h-.8zM112.6 458.4h.8v.8h-.8zM109.3 457.0h.8v.8h-.8zM113.3 458.0h.8v.8h-.8zM112.0 454.2h.8v.8h-.8zM112.1 466.2h.8v.8h-.8zM113.0 456.3h.8v.8h-.8zM110.6 457.9h.8v.8h-.8zM110.4 463.3h.8v.8h-.8zM111.1 451.1h.8v.8h-.8zM111.0 459.3h.8v.8h-.8zM109.8 465.3h.8v.8h-.8zM115.2 461.5h.8v.8h-.8zM109.5 465.7h.8v.8h-.8zM108.6 459.8h.8v.8h-.8zM110.0 450.1h.8v.8h-.8zM111.4 460.8h.8v.8h-.8zM108.3 452.9h.8v.8h-.8zM109.7 458.2h.8v.8h-.8zM110.5 465.2h.8v.8h-.8zM110.7 451.2h.8v.8h-.8zM111.0 454.0h.8v.8h-.8zM108.4 441.6h.8v.8h-.8zM108.7 447.1h.8v.8h-.8zM112.5 455.8h.8v.8h-.8zM108.3 447.6h.8v.8h-.8zM111.9 458.7h.8v.8h-.8zM112.4 463.1h.8v.8h-.8zM114.4 457.6h.8v.8h-.8zM117.0 457.1h.8v.8h-.8zM109.1 461.7h.8v.8h-.8zM111.3 464.4h.8v.8h-.8zM108.1 455.5h.8v.8h-.8zM108.1 447.8h.8v.8h-.8zM114.9 469.0h.8v.8h-.8zM109.2 459.8h.8v.8h-.8zM111.7 464.1h.8v.8h-.8zM110.4 445.6h.8v.8h-.8zM114.0 459.8h.8v.8h-.8zM109.4 450.0h.8v.8h-.8zM108.3 449.8h.8v.8h-.8zM114.1 464.7h.8v.8h-.8zM111.9 451.9h.8v.8h-.8zM111.3 463.0h.8v.8h-.8zM112.0 458.7h.8v.8h-.8zM113.1 444.4h.8v.8h-.8zM111.1 459.8h.8v.8h-.8zM112.1 455.2h.8v.8h-.8zM110.8 457.4h.8v.8h-.8zM107.1 448.8h.8v.8h-.8zM105.9 455.9h.8v.8h-.8zM110.9 452.1h.8v.8h-.8zM111.6 449.5h.8v.8h-.8zM107.1 450.1h.8v.8h-.8zM117.2 461.2h.8v.8h-.8zM108.9 440.9h.8v.8h-.8zM109.5 449.2h.8v.8h-.8zM109.4 465.8h.8v.8h-.8zM110.5 465.6h.8v.8h-.8zM108.8 459.3h.8v.8h-.8zM115.1 463.3h.8v.8h-.8zM109.1 445.4h.8v.8h-.8zM116.4 465.4h.8v.8h-.8zM107.6 440.7h.8v.8h-.8zM111.8 446.8h.8v.8h-.8zM109.5 460.2h.8v.8h-.8zM108.5 449.8h.8v.8h-.8zM111.2 447.1h.8v.8h-.8zM108.0 445.8h.8v.8h-.8zM115.2 462.6h.8v.8h-.8zM112.6 465.6h.8v.8h-.8zM112.0 448.6h.8v.8h-.8zM115.7 466.9h.8v.8h-.8zM113.2 451.0h.8v.8h-.8zM113.1 461.7h.8v.8h-.8zM109.5 448.6h.8v.8h-.8zM106.6 445.5h.8v.8h-.8zM109.7 448.3h.8v.8h-.8zM108.4 453.3h.8v.8h-.8zM109.8 464.1h.8v.8h-.8zM104.6 446.0h.8v.8h-.8zM112.3 449.5h.8v.8h-.8zM111.3 440.8h.8v.8h-.8zM110.7 465.1h.8v.8h-.8zM110.6 450.1h.8v.8h-.8zM111.0 459.8h.8v.8h-.8zM109.7 458.3h.8v.8h-.8zM113.1 451.2h.8v.8h-.8zM109.9 465.3h.8v.8h-.8zM110.5 449.4h.8v.8h-.8zM111.6 448.1h.8v.8h-.8zM112.6 463.8h.8v.8h-.8zM114.3 463.8h.8v.8h-.8zM111.0 458.9h.8v.8h-.8zM109.0 442.8h.8v.8h-.8zM110.6 452.1h.8v.8h-.8zM112.7 460.6h.8v.8h-.8zM107.8 441.2h.8v.8h-.8zM110.5 448.9h.8v.8h-.8zM111.9 462.9h.8v.8h-.8zM110.3 460.1h.8v.8h-.8zM111.2 453.9h.8v.8h-.8zM113.5 444.7h.8v.8h-.8zM109.2 459.4h.8v.8h-.8zM111.3 455.9h.8v.8h-.8zM109.4 451.1h.8v.8h-.8zM108.3 454.1h.8v.8h-.8zM106.3 445.3h.8v.8h-.8zM107.1 463.5h.8v.8h-.8zM109.1 454.1h.8v.8h-.8zM111.6 465.0h.8v.8h-.8zM108.7 453.9h.8v.8h-.8zM109.1 442.2h.8v.8h-.8zM110.1 444.9h.8v.8h-.8zM112.9 463.3h.8v.8h-.8zM106.5 441.8h.8v.8h-.8zM113.5 466.8h.8v.8h-.8zM112.5 456.5h.8v.8h-.8zM105.9 449.5h.8v.8h-.8zM110.3 466.0h.8v.8h-.8zM113.0 463.9h.8v.8h-.8zM111.4 457.8h.8v.8h-.8zM115.5 465.9h.8v.8h-.8zM112.7 457.8h.8v.8h-.8zM108.8 460.6h.8v.8h-.8zM109.8 452.0h.8v.8h-.8zM113.0 468.4h.8v.8h-.8zM111.5 463.2h.8v.8h-.8zM113.6 440.2h.8v.8h-.8zM111.5 455.6h.8v.8h-.8zM108.8 448.6h.8v.8h-.8zM114.1 462.2h.8v.8h-.8zM111.9 454.5h.8v.8h-.8zM111.3 449.1h.8v.8h-.8zM109.7 462.3h.8v.8h-.8zM111.6 451.3h.8v.8h-.8zM111.4 463.9h.8v.8h-.8zM112.2 443.8h.8v.8h-.8zM112.4 464.8h.8v.8h-.8zM111.2 463.8h.8v.8h-.8zM108.8 450.9h.8v.8h-.8zM109.8 450.9h.8v.8h-.8zM109.2 453.7h.8v.8h-.8zM111.0 465.8h.8v.8h-.8zM108.9 447.3h.8v.8h-.8zM107.1 445.1h.8v.8h-.8zM109.1 458.0h.8v.8h-.8zM113.9 462.6h.8v.8h-.8zM113.7 461.5h.8v.8h-.8zM109.3 454.7h.8v.8h-.8zM111.3 462.5h.8v.8h-.8zM110.3 462.4h.8v.8h-.8zM111.5 461.8h.8v.8h-.8zM110.5 448.6h.8v.8h-.8zM112.0 444.1h.8v.8h-.8zM114.5 446.6h.8v.8h-.8zM111.3 463.4h.8v.8h-.8zM111.0 450.0h.8v.8h-.8zM111.9 446.6h.8v.8h-.8zM110.9 449.6h.8v.8h-.8zM112.4 453.5h.8v.8h-.8zM111.4 454.3h.8v.8h-.8zM114.6 459.0h.8v.8h-.8zM116.2 464.5h.8v.8h-.8zM114.7 464.9h.8v.8h-.8zM107.5 450.4h.8v.8h-.8zM108.4 462.1h.8v.8h-.8zM105.8 447.4h.8v.8h-.8zM110.9 459.4h.8v.8h-.8zM112.8 463.2h.8v.8h-.8zM108.6 451.3h.8v.8h-.8zM111.9 464.5h.8v.8h-.8zM114.2 454.3h.8v.8h-.8zM114.5 456.0h.8v.8h-.8zM111.4 459.2h.8v.8h-.8zM107.7 456.3h.8v.8h-.8zM109.7 461.1h.8v.8h-.8zM111.3 452.0h.8v.8h-.8zM113.7 457.6h.8v.8h-.8zM110.0 443.4h.8v.8h-.8zM110.0 447.2h.8v.8h-.8zM109.6 451.1h.8v.8h-.8zM113.7 458.1h.8v.8h-.8zM112.2 454.6h.8v.8h-.8zM111.1 442.7h.8v.8h-.8zM113.7 463.7h.8v.8h-.8zM107.5 444.7h.8v.8h-.8zM109.8 460.5h.8v.8h-.8zM107.0 446.4h.8v.8h-.8zM110.3 463.5h.8v.8h-.8zM110.2 452.1h.8v.8h-.8zM107.9 456.8h.8v.8h-.8zM111.6 449.5h.8v.8h-.8zM110.2 448.4h.8v.8h-.8zM105.7 447.2h.8v.8h-.8zM113.1 456.7h.8v.8h-.8zM114.3 464.4h.8v.8h-.8zM112.5 466.4h.8v.8h-.8zM110.0 450.3h.8v.8h-.8zM110.5 444.0h.8v.8h-.8zM114.5 465.6h.8v.8h-.8zM112.8 443.9h.8v.8h-.8zM111.1 454.9h.8v.8h-.8zM110.7 447.8h.8v.8h-.8zM111.0 460.8h.8v.8h-.8zM112.5 452.2h.8v.8h-.8zM114.0 453.6h.8v.8h-.8zM106.4 457.2h.8v.8h-.8zM110.2 460.6h.8v.8h-.8zM112.8 459.3h.8v.8h-.8zM113.4 465.7h.8v.8h-.8zM106.2 446.7h.8v.8h-.8zM111.9 442.2h.8v.8h-.8zM115.0 469.6h.8v.8h-.8zM113.9 452.5h.8v.8h-.8zM106.3 448.7h.8v.8h-.8zM110.3 464.4h.8v.8h-.8zM111.5 458.4h.8v.8h-.8zM110.6 450.3h.8v.8h-.8zM111.1 448.7h.8v.8h-.8zM111.4 450.2h.8v.8h-.8zM109.5 448.0h.8v.8h-.8zM111.6 452.2h.8v.8h-.8zM112.7 445.3h.8v.8h-.8zM107.5 446.9h.8v.8h-.8zM109.0 450.0h.8v.8h-.8zM112.6 456.7h.8v.8h-.8zM110.4 444.8h.8v.8h-.8zM112.7 456.9h.8v.8h-.8zM107.7 439.5h.8v.8h-.8zM110.0 464.4h.8v.8h-.8zM109.9 456.6h.8v.8h-.8zM113.0 453.7h.8v.8h-.8zM115.7 446.2h.8v.8h-.8zM109.5 450.7h.8v.8h-.8zM108.0 451.9h.8v.8h-.8zM109.3 445.7h.8v.8h-.8zM112.2 454.6h.8v.8h-.8zM108.6 442.0h.8v.8h-.8zM111.1 462.4h.8v.8h-.8zM110.9 462.9h.8v.8h-.8zM111.1 453.3h.8v.8h-.8zM109.9 450.5h.8v.8h-.8zM110.9 450.4h.8v.8h-.8zM110.4 464.2h.8v.8h-.8zM91.5 473.9h.8v.8h-.8zM94.1 474.1h.8v.8h-.8zM99.2 469.7h.8v.8h-.8zM91.3 470.4h.8v.8h-.8zM104.7 476.9h.8v.8h-.8zM94.7 469.9h.8v.8h-.8zM95.8 467.0h.8v.8h-.8zM102.1 473.1h.8v.8h-.8zM92.8 470.8h.8v.8h-.8zM100.3 472.2h.8v.8h-.8zM96.6 475.4h.8v.8h-.8zM88.6 476.4h.8v.8h-.8zM92.1 466.5h.8v.8h-.8zM97.3 475.2h.8v.8h-.8zM99.5 470.2h.8v.8h-.8zM100.4 470.3h.8v.8h-.8zM88.9 467.2h.8v.8h-.8zM101.7 476.6h.8v.8h-.8zM93.3 473.9h.8v.8h-.8zM101.1 473.7h.8v.8h-.8zM96.1 470.6h.8v.8h-.8zM93.9 472.1h.8v.8h-.8zM101.7 469.4h.8v.8h-.8zM105.8 473.3h.8v.8h-.8zM104.6 478.4h.8v.8h-.8zM96.1 469.9h.8v.8h-.8zM98.6 464.2h.8v.8h-.8zM98.7 468.1h.8v.8h-.8zM97.9 469.1h.8v.8h-.8zM89.9 477.0h.8v.8h-.8zM97.6 478.4h.8v.8h-.8zM100.9 474.5h.8v.8h-.8zM95.4 467.5h.8v.8h-.8zM87.8 471.2h.8v.8h-.8zM109.7 471.1h.8v.8h-.8zM98.3 477.8h.8v.8h-.8zM93.8 465.1h.8v.8h-.8zM103.3 473.0h.8v.8h-.8zM100.9 471.6h.8v.8h-.8zM109.0 471.4h.8v.8h-.8zM95.0 469.7h.8v.8h-.8zM102.4 474.5h.8v.8h-.8zM103.0 473.2h.8v.8h-.8zM97.1 471.2h.8v.8h-.8zM102.9 468.9h.8v.8h-.8zM97.0 473.2h.8v.8h-.8zM96.5 463.1h.8v.8h-.8zM101.1 476.3h.8v.8h-.8zM99.1 472.7h.8v.8h-.8zM106.7 479.2h.8v.8h-.8zM93.2 470.4h.8v.8h-.8zM100.0 465.9h.8v.8h-.8zM99.5 469.4h.8v.8h-.8zM91.6 477.1h.8v.8h-.8zM100.5 477.3h.8v.8h-.8zM104.9 467.4h.8v.8h-.8zM99.0 472.3h.8v.8h-.8zM94.9 473.9h.8v.8h-.8zM99.6 467.4h.8v.8h-.8zM99.4 466.0h.8v.8h-.8zM99.8 474.4h.8v.8h-.8zM97.6 471.5h.8v.8h-.8zM94.1 471.2h.8v.8h-.8zM94.5 471.4h.8v.8h-.8zM97.3 476.9h.8v.8h-.8zM97.3 478.0h.8v.8h-.8zM89.1 462.5h.8v.8h-.8zM98.8 473.7h.8v.8h-.8zM96.5 471.0h.8v.8h-.8zM98.1 469.7h.8v.8h-.8zM95.1 473.5h.8v.8h-.8zM92.4 474.9h.8v.8h-.8zM95.6 468.0h.8v.8h-.8zM100.1 472.6h.8v.8h-.8zM89.5 476.3h.8v.8h-.8zM99.4 466.4h.8v.8h-.8zM103.8 470.5h.8v.8h-.8zM104.3 474.9h.8v.8h-.8zM97.9 473.3h.8v.8h-.8zM98.4 472.6h.8v.8h-.8zM102.3 470.0h.8v.8h-.8zM99.4 475.4h.8v.8h-.8zM95.2 474.0h.8v.8h-.8zM88.8 472.3h.8v.8h-.8zM100.0 473.3h.8v.8h-.8zM101.0 478.4h.8v.8h-.8zM95.9 467.4h.8v.8h-.8zM91.2 468.2h.8v.8h-.8zM95.6 472.8h.8v.8h-.8zM101.1 476.5h.8v.8h-.8zM90.8 468.4h.8v.8h-.8zM100.9 471.2h.8v.8h-.8zM94.3 466.3h.8v.8h-.8zM95.6 474.8h.8v.8h-.8zM98.4 479.5h.8v.8h-.8zM112.8 470.8h.8v.8h-.8zM97.6 470.8h.8v.8h-.8zM87.0 468.7h.8v.8h-.8zM89.7 471.1h.8v.8h-.8zM103.2 473.1h.8v.8h-.8zM100.8 464.0h.8v.8h-.8zM93.8 471.1h.8v.8h-.8zM97.9 458.1h.8v.8h-.8zM101.0 472.8h.8v.8h-.8zM105.2 467.4h.8v.8h-.8zM95.7 475.3h.8v.8h-.8zM98.7 464.2h.8v.8h-.8zM103.7 474.1h.8v.8h-.8zM94.7 472.0h.8v.8h-.8zM96.4 471.5h.8v.8h-.8zM96.8 475.6h.8v.8h-.8zM93.3 469.0h.8v.8h-.8zM103.8 471.9h.8v.8h-.8zM105.8 475.7h.8v.8h-.8zM93.1 470.1h.8v.8h-.8zM101.6 468.9h.8v.8h-.8zM97.6 473.4h.8v.8h-.8zM106.7 467.3h.8v.8h-.8zM102.6 472.0h.8v.8h-.8zM92.3 474.1h.8v.8h-.8zM100.8 469.2h.8v.8h-.8zM103.6 472.7h.8v.8h-.8zM97.1 476.1h.8v.8h-.8zM102.4 477.3h.8v.8h-.8zM103.4 464.6h.8v.8h-.8zM100.7 465.5h.8v.8h-.8zM92.5 467.6h.8v.8h-.8zM90.8 475.3h.8v.8h-.8zM101.4 472.0h.8v.8h-.8zM100.0 471.3h.8v.8h-.8zM100.4 475.2h.8v.8h-.8zM106.9 466.5h.8v.8h-.8zM94.1 472.3h.8v.8h-.8zM103.3 468.7h.8v.8h-.8zM92.4 472.4h.8v.8h-.8zM92.1 475.7h.8v.8h-.8zM98.9 475.7h.8v.8h-.8zM91.7 468.9h.8v.8h-.8zM90.8 474.0h.8v.8h-.8zM102.8 477.9h.8v.8h-.8zM100.8 479.2h.8v.8h-.8zM90.2 473.6h.8v.8h-.8zM93.3 470.9h.8v.8h-.8zM95.4 471.4h.8v.8h-.8zM98.5 471.0h.8v.8h-.8zM92.5 473.4h.8v.8h-.8zM107.9 473.0h.8v.8h-.8zM90.3 471.5h.8v.8h-.8zM99.3 470.1h.8v.8h-.8zM101.6 473.0h.8v.8h-.8zM94.8 469.9h.8v.8h-.8zM103.2 476.2h.8v.8h-.8zM96.9 477.9h.8v.8h-.8zM103.9 469.8h.8v.8h-.8zM99.0 468.6h.8v.8h-.8zM92.5 472.9h.8v.8h-.8zM90.4 472.8h.8v.8h-.8zM94.1 472.6h.8v.8h-.8zM88.3 474.7h.8v.8h-.8zM102.4 466.9h.8v.8h-.8zM103.4 476.5h.8v.8h-.8zM96.6 477.8h.8v.8h-.8zM94.8 471.2h.8v.8h-.8zM110.0 476.4h.8v.8h-.8zM99.5 477.6h.8v.8h-.8zM102.9 472.7h.8v.8h-.8zM100.4 466.5h.8v.8h-.8zM94.8 468.7h.8v.8h-.8zM91.9 473.1h.8v.8h-.8zM93.7 472.2h.8v.8h-.8zM104.3 470.6h.8v.8h-.8zM102.9 478.2h.8v.8h-.8zM98.3 475.7h.8v.8h-.8zM107.0 472.3h.8v.8h-.8zM94.4 476.2h.8v.8h-.8zM92.5 473.2h.8v.8h-.8zM90.2 469.5h.8v.8h-.8zM108.8 459.5h.8v.8h-.8zM103.2 477.5h.8v.8h-.8zM95.4 471.7h.8v.8h-.8zM100.4 476.6h.8v.8h-.8zM95.4 473.7h.8v.8h-.8zM103.3 470.1h.8v.8h-.8zM89.3 476.3h.8v.8h-.8zM96.1 471.2h.8v.8h-.8zM93.9 469.4h.8v.8h-.8zM98.9 470.6h.8v.8h-.8zM88.5 473.7h.8v.8h-.8zM101.7 471.7h.8v.8h-.8zM92.5 473.3h.8v.8h-.8zM104.6 465.1h.8v.8h-.8zM97.2 462.3h.8v.8h-.8zM99.6 472.7h.8v.8h-.8zM97.9 469.8h.8v.8h-.8zM104.4 477.9h.8v.8h-.8zM99.6 467.0h.8v.8h-.8zM101.9 476.4h.8v.8h-.8zM105.7 474.5h.8v.8h-.8zM95.6 473.7h.8v.8h-.8zM107.8 469.4h.8v.8h-.8zM95.6 469.1h.8v.8h-.8zM91.5 477.8h.8v.8h-.8zM100.6 473.3h.8v.8h-.8zM97.4 462.0h.8v.8h-.8zM93.7 470.4h.8v.8h-.8zM94.4 468.7h.8v.8h-.8zM98.9 474.5h.8v.8h-.8zM101.0 476.9h.8v.8h-.8zM95.3 470.8h.8v.8h-.8zM97.5 466.3h.8v.8h-.8zM92.0 471.7h.8v.8h-.8zM89.5 468.2h.8v.8h-.8zM95.7 469.3h.8v.8h-.8zM95.6 465.1h.8v.8h-.8zM98.1 475.1h.8v.8h-.8zM98.7 473.7h.8v.8h-.8zM95.5 479.0h.8v.8h-.8zM100.7 466.6h.8v.8h-.8zM105.7 473.3h.8v.8h-.8zM100.4 470.1h.8v.8h-.8zM95.9 465.8h.8v.8h-.8zM96.0 472.3h.8v.8h-.8zM96.2 473.0h.8v.8h-.8zM102.1 474.3h.8v.8h-.8zM96.1 468.1h.8v.8h-.8zM96.1 473.6h.8v.8h-.8zM99.4 478.1h.8v.8h-.8zM91.8 476.4h.8v.8h-.8zM108.0 459.6h.8v.8h-.8zM99.2 476.5h.8v.8h-.8zM99.9 468.4h.8v.8h-.8zM95.5 477.1h.8v.8h-.8zM98.9 470.1h.8v.8h-.8zM91.6 468.6h.8v.8h-.8zM94.1 468.9h.8v.8h-.8zM104.5 462.1h.8v.8h-.8zM97.0 474.4h.8v.8h-.8zM100.6 468.5h.8v.8h-.8zM104.1 471.4h.8v.8h-.8zM101.7 475.3h.8v.8h-.8zM100.8 466.2h.8v.8h-.8zM95.5 473.1h.8v.8h-.8zM103.0 470.7h.8v.8h-.8zM106.2 479.0h.8v.8h-.8zM93.6 469.9h.8v.8h-.8zM106.5 469.9h.8v.8h-.8zM93.5 467.8h.8v.8h-.8zM103.7 470.7h.8v.8h-.8zM102.7 470.2h.8v.8h-.8zM102.1 469.8h.8v.8h-.8zM100.8 468.8h.8v.8h-.8zM93.9 473.3h.8v.8h-.8zM93.9 470.4h.8v.8h-.8zM98.2 466.2h.8v.8h-.8zM92.9 472.8h.8v.8h-.8zM89.5 470.3h.8v.8h-.8zM103.4 472.6h.8v.8h-.8zM97.1 471.1h.8v.8h-.8zM104.2 475.3h.8v.8h-.8zM97.7 473.3h.8v.8h-.8zM93.8 463.7h.8v.8h-.8zM94.2 468.9h.8v.8h-.8zM105.6 474.2h.8v.8h-.8zM100.0 471.8h.8v.8h-.8zM90.6 476.2h.8v.8h-.8zM93.8 472.7h.8v.8h-.8zM99.1 471.4h.8v.8h-.8zM91.7 469.7h.8v.8h-.8zM104.2 463.1h.8v.8h-.8zM98.6 476.8h.8v.8h-.8zM99.9 471.6h.8v.8h-.8zM97.6 464.1h.8v.8h-.8zM91.9 464.0h.8v.8h-.8zM102.9 471.1h.8v.8h-.8zM90.7 465.4h.8v.8h-.8zM94.6 467.7h.8v.8h-.8zM99.7 472.6h.8v.8h-.8zM97.4 464.7h.8v.8h-.8zM93.2 464.3h.8v.8h-.8zM93.7 469.6h.8v.8h-.8zM92.3 470.4h.8v.8h-.8zM93.9 477.0h.8v.8h-.8zM95.3 478.4h.8v.8h-.8zM94.7 474.8h.8v.8h-.8zM107.6 465.5h.8v.8h-.8zM110.4 465.7h.8v.8h-.8zM101.7 474.0h.8v.8h-.8zM100.5 472.8h.8v.8h-.8zM93.7 476.3h.8v.8h-.8zM98.8 475.5h.8v.8h-.8zM98.0 472.7h.8v.8h-.8zM91.9 474.8h.8v.8h-.8zM97.6 471.3h.8v.8h-.8zM102.0 475.8h.8v.8h-.8zM99.4 475.0h.8v.8h-.8zM96.9 475.5h.8v.8h-.8zM100.9 466.2h.8v.8h-.8zM113.7 469.8h.8v.8h-.8zM94.9 478.2h.8v.8h-.8zM98.2 465.2h.8v.8h-.8zM96.1 471.7h.8v.8h-.8zM102.3 477.7h.8v.8h-.8zM95.3 466.7h.8v.8h-.8zM95.9 468.9h.8v.8h-.8zM98.7 464.2h.8v.8h-.8zM95.5 469.2h.8v.8h-.8zM99.1 466.9h.8v.8h-.8zM93.9 467.2h.8v.8h-.8zM91.4 470.1h.8v.8h-.8zM89.5 466.6h.8v.8h-.8zM96.5 471.1h.8v.8h-.8zM97.2 475.5h.8v.8h-.8zM88.0 465.8h.8v.8h-.8zM105.2 467.7h.8v.8h-.8zM104.5 471.1h.8v.8h-.8zM106.2 477.7h.8v.8h-.8zM97.4 470.2h.8v.8h-.8zM95.1 469.7h.8v.8h-.8zM94.8 471.6h.8v.8h-.8zM97.0 470.6h.8v.8h-.8zM101.9 478.7h.8v.8h-.8zM108.6 475.5h.8v.8h-.8zM92.9 471.3h.8v.8h-.8zM93.6 471.8h.8v.8h-.8zM107.4 467.2h.8v.8h-.8zM99.9 477.5h.8v.8h-.8zM98.7 474.0h.8v.8h-.8zM98.1 473.3h.8v.8h-.8zM100.0 474.9h.8v.8h-.8zM99.5 466.7h.8v.8h-.8zM103.4 466.9h.8v.8h-.8zM88.4 475.2h.8v.8h-.8zM88.9 469.1h.8v.8h-.8zM109.9 474.4h.8v.8h-.8zM95.4 461.5h.8v.8h-.8zM90.5 466.6h.8v.8h-.8zM96.2 473.8h.8v.8h-.8zM100.7 473.1h.8v.8h-.8zM99.4 472.8h.8v.8h-.8zM103.1 469.6h.8v.8h-.8zM98.8 469.1h.8v.8h-.8zM106.6 472.0h.8v.8h-.8zM97.3 470.8h.8v.8h-.8zM94.8 467.4h.8v.8h-.8zM95.7 468.4h.8v.8h-.8zM95.4 471.0h.8v.8h-.8zM91.5 471.9h.8v.8h-.8zM97.4 474.9h.8v.8h-.8zM100.4 469.5h.8v.8h-.8zM106.4 470.1h.8v.8h-.8zM91.2 471.6h.8v.8h-.8zM88.8 467.7h.8v.8h-.8zM97.1 467.3h.8v.8h-.8zM95.1 476.2h.8v.8h-.8zM103.2 475.0h.8v.8h-.8zM93.8 473.2h.8v.8h-.8zM97.4 470.4h.8v.8h-.8zM89.4 469.2h.8v.8h-.8zM92.4 472.5h.8v.8h-.8zM101.0 474.7h.8v.8h-.8zM90.5 476.1h.8v.8h-.8zM95.3 476.1h.8v.8h-.8zM96.7 474.9h.8v.8h-.8zM97.0 474.0h.8v.8h-.8zM94.0 469.1h.8v.8h-.8zM106.1 477.3h.8v.8h-.8zM93.9 469.5h.8v.8h-.8zM102.0 474.4h.8v.8h-.8zM87.3 465.4h.8v.8h-.8zM109.0 470.8h.8v.8h-.8zM99.0 479.1h.8v.8h-.8zM90.7 468.1h.8v.8h-.8zM95.5 474.6h.8v.8h-.8zM96.4 477.4h.8v.8h-.8zM97.2 470.8h.8v.8h-.8zM94.0 468.2h.8v.8h-.8zM96.2 472.7h.8v.8h-.8zM101.4 463.6h.8v.8h-.8zM91.9 467.3h.8v.8h-.8zM96.6 474.0h.8v.8h-.8zM101.7 467.0h.8v.8h-.8zM87.2 471.5h.8v.8h-.8zM95.8 470.1h.8v.8h-.8zM90.8 470.8h.8v.8h-.8zM103.5 473.7h.8v.8h-.8zM99.6 475.6h.8v.8h-.8zM100.6 473.4h.8v.8h-.8zM96.9 476.3h.8v.8h-.8zM108.7 471.4h.8v.8h-.8zM102.4 473.2h.8v.8h-.8zM101.1 468.6h.8v.8h-.8zM101.0 470.3h.8v.8h-.8zM98.3 466.3h.8v.8h-.8zM101.5 473.6h.8v.8h-.8zM93.2 479.5h.8v.8h-.8zM105.6 467.2h.8v.8h-.8zM101.4 471.1h.8v.8h-.8zM102.3 475.9h.8v.8h-.8zM91.7 466.7h.8v.8h-.8zM100.7 475.8h.8v.8h-.8zM96.3 467.4h.8v.8h-.8zM98.8 459.9h.8v.8h-.8zM97.5 467.7h.8v.8h-.8zM107.9 465.6h.8v.8h-.8zM98.4 467.0h.8v.8h-.8zM95.6 468.5h.8v.8h-.8zM100.6 471.4h.8v.8h-.8zM94.9 467.3h.8v.8h-.8zM98.5 470.9h.8v.8h-.8zM99.2 472.6h.8v.8h-.8zM101.6 471.5h.8v.8h-.8zM96.4 466.5h.8v.8h-.8zM94.6 472.8h.8v.8h-.8zM97.7 467.5h.8v.8h-.8zM94.1 471.0h.8v.8h-.8zM99.3 466.4h.8v.8h-.8zM97.9 474.9h.8v.8h-.8zM94.2 470.2h.8v.8h-.8zM96.2 462.7h.8v.8h-.8zM89.9 474.0h.8v.8h-.8zM99.4 469.4h.8v.8h-.8zM104.7 470.9h.8v.8h-.8zM90.8 472.7h.8v.8h-.8zM108.0 471.2h.8v.8h-.8zM96.7 478.8h.8v.8h-.8zM105.2 465.1h.8v.8h-.8zM98.6 479.4h.8v.8h-.8zM101.2 474.1h.8v.8h-.8zM103.1 471.5h.8v.8h-.8zM96.6 478.2h.8v.8h-.8zM98.8 466.8h.8v.8h-.8zM93.6 474.5h.8v.8h-.8zM89.5 476.1h.8v.8h-.8zM99.4 474.6h.8v.8h-.8zM91.5 474.6h.8v.8h-.8zM97.2 469.9h.8v.8h-.8zM92.0 474.1h.8v.8h-.8zM93.7 467.1h.8v.8h-.8zM98.3 474.4h.8v.8h-.8zM103.3 474.3h.8v.8h-.8zM96.4 470.2h.8v.8h-.8zM96.2 467.8h.8v.8h-.8zM101.0 466.0h.8v.8h-.8zM89.4 471.9h.8v.8h-.8zM93.9 474.8h.8v.8h-.8zM95.9 471.3h.8v.8h-.8zM100.7 462.1h.8v.8h-.8zM100.8 467.6h.8v.8h-.8zM95.1 469.8h.8v.8h-.8zM95.6 475.4h.8v.8h-.8zM94.3 477.4h.8v.8h-.8zM106.1 476.0h.8v.8h-.8zM107.0 474.3h.8v.8h-.8zM94.9 473.4h.8v.8h-.8zM99.9 467.1h.8v.8h-.8zM94.8 463.0h.8v.8h-.8zM97.2 469.9h.8v.8h-.8zM93.5 476.5h.8v.8h-.8zM100.2 479.1h.8v.8h-.8zM98.1 472.7h.8v.8h-.8zM100.9 476.6h.8v.8h-.8zM99.7 462.8h.8v.8h-.8zM89.3 476.0h.8v.8h-.8zM106.0 470.7h.8v.8h-.8zM98.6 475.9h.8v.8h-.8zM94.9 475.2h.8v.8h-.8zM99.4 468.0h.8v.8h-.8zM100.0 472.0h.8v.8h-.8zM105.4 471.5h.8v.8h-.8zM99.1 467.2h.8v.8h-.8zM101.7 474.1h.8v.8h-.8zM96.2 466.7h.8v.8h-.8zM100.0 472.7h.8v.8h-.8zM101.8 469.9h.8v.8h-.8zM103.9 470.7h.8v.8h-.8zM93.8 476.8h.8v.8h-.8zM98.4 471.6h.8v.8h-.8zM106.8 474.8h.8v.8h-.8zM102.5 472.8h.8v.8h-.8zM88.2 474.4h.8v.8h-.8zM106.9 477.5h.8v.8h-.8zM94.1 470.9h.8v.8h-.8zM102.8 475.5h.8v.8h-.8zM99.0 470.6h.8v.8h-.8zM103.4 471.8h.8v.8h-.8zM100.3 474.1h.8v.8h-.8zM101.4 467.8h.8v.8h-.8zM97.2 473.4h.8v.8h-.8zM98.9 472.2h.8v.8h-.8zM92.3 469.0h.8v.8h-.8zM95.2 473.2h.8v.8h-.8zM94.6 472.1h.8v.8h-.8zM98.0 477.4h.8v.8h-.8zM96.5 474.2h.8v.8h-.8zM88.1 463.9h.8v.8h-.8zM95.7 474.8h.8v.8h-.8zM94.6 471.1h.8v.8h-.8zM92.6 475.4h.8v.8h-.8zM101.8 469.7h.8v.8h-.8zM92.8 474.5h.8v.8h-.8zM109.0 465.2h.8v.8h-.8zM104.3 467.6h.8v.8h-.8zM93.8 473.8h.8v.8h-.8zM92.1 473.9h.8v.8h-.8zM99.3 475.9h.8v.8h-.8zM100.8 476.6h.8v.8h-.8zM95.3 477.5h.8v.8h-.8zM97.0 474.3h.8v.8h-.8zM97.1 471.0h.8v.8h-.8zM95.4 469.9h.8v.8h-.8zM95.3 479.4h.8v.8h-.8zM95.6 473.7h.8v.8h-.8zM93.0 467.7h.8v.8h-.8zM95.4 471.7h.8v.8h-.8zM109.0 471.6h.8v.8h-.8zM102.6 472.0h.8v.8h-.8zM106.8 474.0h.8v.8h-.8zM106.5 471.3h.8v.8h-.8zM99.9 469.8h.8v.8h-.8zM96.9 473.4h.8v.8h-.8zM104.2 471.2h.8v.8h-.8zM88.8 471.4h.8v.8h-.8zM109.4 477.5h.8v.8h-.8zM99.5 470.0h.8v.8h-.8zM95.5 471.5h.8v.8h-.8zM96.3 473.3h.8v.8h-.8zM100.7 466.4h.8v.8h-.8zM96.4 471.9h.8v.8h-.8zM103.7 476.4h.8v.8h-.8zM98.1 468.1h.8v.8h-.8zM102.0 470.6h.8v.8h-.8zM98.6 468.7h.8v.8h-.8zM96.5 468.1h.8v.8h-.8zM103.4 464.5h.8v.8h-.8zM97.6 467.5h.8v.8h-.8zM102.3 479.7h.8v.8h-.8zM95.1 469.0h.8v.8h-.8zM92.2 466.6h.8v.8h-.8zM102.5 478.1h.8v.8h-.8zM102.0 469.3h.8v.8h-.8zM100.6 463.3h.8v.8h-.8zM98.9 479.6h.8v.8h-.8zM95.3 466.1h.8v.8h-.8zM101.8 476.7h.8v.8h-.8zM102.0 474.9h.8v.8h-.8zM97.4 475.9h.8v.8h-.8zM93.5 476.9h.8v.8h-.8zM90.3 475.7h.8v.8h-.8zM93.9 473.7h.8v.8h-.8zM100.7 477.4h.8v.8h-.8zM97.4 472.8h.8v.8h-.8zM98.2 476.3h.8v.8h-.8zM90.2 466.3h.8v.8h-.8zM109.4 476.7h.8v.8h-.8zM115.4 472.2h.8v.8h-.8zM114.9 477.0h.8v.8h-.8zM108.5 472.9h.8v.8h-.8zM109.4 474.1h.8v.8h-.8zM115.1 472.4h.8v.8h-.8zM112.5 468.3h.8v.8h-.8zM110.8 476.4h.8v.8h-.8zM111.7 470.3h.8v.8h-.8zM108.2 475.9h.8v.8h-.8zM111.8 475.5h.8v.8h-.8zM111.9 474.2h.8v.8h-.8zM109.2 473.2h.8v.8h-.8zM105.8 468.6h.8v.8h-.8zM118.0 474.1h.8v.8h-.8zM113.9 466.4h.8v.8h-.8zM115.3 468.9h.8v.8h-.8zM112.3 475.0h.8v.8h-.8zM115.4 469.5h.8v.8h-.8zM110.7 466.4h.8v.8h-.8zM110.8 463.4h.8v.8h-.8zM111.0 472.3h.8v.8h-.8zM114.8 473.9h.8v.8h-.8zM116.6 464.9h.8v.8h-.8zM116.9 476.8h.8v.8h-.8zM109.3 475.3h.8v.8h-.8zM112.5 469.5h.8v.8h-.8zM109.5 476.8h.8v.8h-.8zM113.5 474.6h.8v.8h-.8zM114.0 466.5h.8v.8h-.8zM112.6 473.7h.8v.8h-.8zM111.1 471.3h.8v.8h-.8zM103.6 469.5h.8v.8h-.8zM113.6 463.4h.8v.8h-.8zM105.8 474.3h.8v.8h-.8zM117.2 475.7h.8v.8h-.8zM115.9 477.0h.8v.8h-.8zM112.0 467.9h.8v.8h-.8zM108.3 471.9h.8v.8h-.8zM107.7 472.7h.8v.8h-.8zM112.9 472.9h.8v.8h-.8zM114.0 466.5h.8v.8h-.8zM112.7 474.7h.8v.8h-.8zM113.3 477.4h.8v.8h-.8zM109.8 474.2h.8v.8h-.8zM112.5 471.0h.8v.8h-.8zM110.0 478.8h.8v.8h-.8zM116.6 473.2h.8v.8h-.8zM113.5 469.5h.8v.8h-.8zM114.6 475.4h.8v.8h-.8zM111.1 470.4h.8v.8h-.8zM114.9 464.1h.8v.8h-.8zM115.7 472.5h.8v.8h-.8zM105.4 468.7h.8v.8h-.8zM116.6 468.6h.8v.8h-.8zM106.1 464.2h.8v.8h-.8zM109.8 472.6h.8v.8h-.8zM113.9 473.7h.8v.8h-.8zM105.1 475.7h.8v.8h-.8zM111.7 471.4h.8v.8h-.8zM108.0 471.7h.8v.8h-.8zM106.9 474.8h.8v.8h-.8zM110.3 471.9h.8v.8h-.8zM115.9 474.5h.8v.8h-.8zM111.8 465.0h.8v.8h-.8zM112.0 473.7h.8v.8h-.8zM111.4 475.8h.8v.8h-.8zM114.4 468.4h.8v.8h-.8zM109.6 470.2h.8v.8h-.8zM117.5 469.0h.8v.8h-.8zM114.5 464.8h.8v.8h-.8zM111.2 477.8h.8v.8h-.8zM111.0 470.1h.8v.8h-.8zM114.5 479.2h.8v.8h-.8zM114.4 467.7h.8v.8h-.8zM108.3 473.8h.8v.8h-.8zM118.1 475.2h.8v.8h-.8zM103.3 469.3h.8v.8h-.8zM118.2 472.4h.8v.8h-.8zM117.7 472.7h.8v.8h-.8zM111.7 470.3h.8v.8h-.8zM109.1 468.6h.8v.8h-.8zM110.5 474.4h.8v.8h-.8zM114.5 476.9h.8v.8h-.8zM110.7 471.1h.8v.8h-.8zM115.3 474.4h.8v.8h-.8zM115.3 473.7h.8v.8h-.8zM117.2 468.4h.8v.8h-.8zM119.6 474.0h.8v.8h-.8zM109.9 472.9h.8v.8h-.8zM115.5 461.4h.8v.8h-.8zM104.2 472.1h.8v.8h-.8zM116.8 478.4h.8v.8h-.8zM109.1 478.7h.8v.8h-.8zM101.1 473.0h.8v.8h-.8zM113.0 470.1h.8v.8h-.8zM113.6 474.1h.8v.8h-.8zM111.2 478.4h.8v.8h-.8zM114.5 474.5h.8v.8h-.8zM113.8 479.7h.8v.8h-.8zM112.3 473.9h.8v.8h-.8zM106.5 472.6h.8v.8h-.8zM111.5 476.8h.8v.8h-.8zM110.2 474.6h.8v.8h-.8zM107.1 470.4h.8v.8h-.8zM111.9 463.4h.8v.8h-.8zM113.8 472.2h.8v.8h-.8zM111.9 467.7h.8v.8h-.8zM111.0 468.2h.8v.8h-.8zM108.4 464.6h.8v.8h-.8zM113.6 469.9h.8v.8h-.8zM111.8 469.1h.8v.8h-.8zM109.9 471.3h.8v.8h-.8zM109.9 471.0h.8v.8h-.8zM114.2 475.4h.8v.8h-.8zM120.5 475.6h.8v.8h-.8zM112.5 474.3h.8v.8h-.8zM111.3 475.8h.8v.8h-.8zM115.6 472.8h.8v.8h-.8zM108.0 476.1h.8v.8h-.8zM117.2 473.1h.8v.8h-.8zM106.9 468.8h.8v.8h-.8zM112.9 472.0h.8v.8h-.8zM120.4 475.0h.8v.8h-.8zM112.8 467.5h.8v.8h-.8zM110.2 474.5h.8v.8h-.8zM112.6 468.1h.8v.8h-.8zM114.3 472.1h.8v.8h-.8zM114.4 478.2h.8v.8h-.8zM112.0 475.1h.8v.8h-.8zM115.3 474.8h.8v.8h-.8zM111.6 471.5h.8v.8h-.8zM111.5 478.2h.8v.8h-.8zM109.0 473.4h.8v.8h-.8zM110.1 471.0h.8v.8h-.8zM116.1 476.7h.8v.8h-.8zM113.5 477.8h.8v.8h-.8zM113.6 464.7h.8v.8h-.8zM110.9 472.9h.8v.8h-.8zM115.6 471.5h.8v.8h-.8zM111.6 471.4h.8v.8h-.8zM111.3 467.8h.8v.8h-.8zM112.8 470.3h.8v.8h-.8zM108.2 474.8h.8v.8h-.8zM110.3 472.0h.8v.8h-.8zM113.1 478.1h.8v.8h-.8zM115.9 475.5h.8v.8h-.8zM112.6 479.2h.8v.8h-.8zM110.8 469.2h.8v.8h-.8zM109.2 475.5h.8v.8h-.8zM105.8 474.2h.8v.8h-.8zM115.3 472.5h.8v.8h-.8zM108.4 460.7h.8v.8h-.8zM111.4 470.4h.8v.8h-.8zM119.6 466.2h.8v.8h-.8zM115.4 472.6h.8v.8h-.8zM116.5 477.5h.8v.8h-.8zM111.2 467.5h.8v.8h-.8zM114.0 465.2h.8v.8h-.8zM110.5 472.1h.8v.8h-.8zM115.2 477.2h.8v.8h-.8zM108.4 471.8h.8v.8h-.8zM113.6 471.2h.8v.8h-.8zM111.0 473.5h.8v.8h-.8zM114.5 463.7h.8v.8h-.8zM114.1 478.3h.8v.8h-.8zM115.5 464.1h.8v.8h-.8zM111.4 468.5h.8v.8h-.8zM113.0 472.9h.8v.8h-.8zM113.8 478.4h.8v.8h-.8zM111.4 470.9h.8v.8h-.8zM111.9 465.7h.8v.8h-.8zM113.5 470.2h.8v.8h-.8zM110.4 476.8h.8v.8h-.8zM112.5 469.7h.8v.8h-.8zM113.1 468.7h.8v.8h-.8zM106.3 468.6h.8v.8h-.8zM107.9 471.3h.8v.8h-.8zM109.0 470.1h.8v.8h-.8zM112.4 469.5h.8v.8h-.8zM109.5 469.0h.8v.8h-.8zM115.5 470.4h.8v.8h-.8zM113.4 474.8h.8v.8h-.8zM108.8 476.0h.8v.8h-.8zM112.9 473.1h.8v.8h-.8zM110.4 471.4h.8v.8h-.8zM116.3 470.1h.8v.8h-.8zM112.9 473.3h.8v.8h-.8zM111.9 477.7h.8v.8h-.8zM105.3 473.7h.8v.8h-.8zM113.7 467.0h.8v.8h-.8zM109.4 470.1h.8v.8h-.8zM114.9 477.9h.8v.8h-.8zM112.8 478.5h.8v.8h-.8zM116.8 472.1h.8v.8h-.8zM120.4 473.2h.8v.8h-.8zM111.2 467.5h.8v.8h-.8zM113.8 471.5h.8v.8h-.8zM114.7 468.6h.8v.8h-.8zM105.9 468.6h.8v.8h-.8zM108.8 473.3h.8v.8h-.8zM105.7 470.4h.8v.8h-.8zM110.4 469.1h.8v.8h-.8zM117.6 470.9h.8v.8h-.8zM114.3 466.2h.8v.8h-.8zM111.0 470.5h.8v.8h-.8zM117.3 472.6h.8v.8h-.8zM112.8 468.1h.8v.8h-.8zM105.0 475.2h.8v.8h-.8zM117.2 470.2h.8v.8h-.8zM114.6 467.9h.8v.8h-.8zM108.5 474.2h.8v.8h-.8zM115.4 473.6h.8v.8h-.8zM110.1 473.7h.8v.8h-.8zM120.0 475.9h.8v.8h-.8zM106.5 476.2h.8v.8h-.8zM116.7 469.5h.8v.8h-.8zM108.4 468.3h.8v.8h-.8zM106.4 471.3h.8v.8h-.8zM116.8 465.3h.8v.8h-.8zM113.4 470.9h.8v.8h-.8zM116.5 468.8h.8v.8h-.8zM115.4 472.3h.8v.8h-.8zM110.2 470.1h.8v.8h-.8zM108.5 464.6h.8v.8h-.8zM111.0 469.9h.8v.8h-.8zM108.8 467.4h.8v.8h-.8zM102.6 473.3h.8v.8h-.8zM109.8 474.2h.8v.8h-.8zM106.8 468.5h.8v.8h-.8zM103.1 471.2h.8v.8h-.8zM115.5 471.4h.8v.8h-.8zM115.9 463.4h.8v.8h-.8zM119.5 479.5h.8v.8h-.8zM109.3 477.5h.8v.8h-.8zM114.9 473.4h.8v.8h-.8zM110.8 474.4h.8v.8h-.8zM111.7 479.5h.8v.8h-.8zM117.3 467.9h.8v.8h-.8zM112.3 470.1h.8v.8h-.8zM114.9 473.7h.8v.8h-.8zM118.1 471.2h.8v.8h-.8zM115.8 473.4h.8v.8h-.8zM111.7 467.7h.8v.8h-.8zM107.9 475.1h.8v.8h-.8zM112.4 473.1h.8v.8h-.8zM118.3 469.3h.8v.8h-.8zM112.6 474.4h.8v.8h-.8zM116.1 473.7h.8v.8h-.8zM110.1 475.9h.8v.8h-.8zM112.2 477.9h.8v.8h-.8zM111.9 475.6h.8v.8h-.8zM114.6 474.1h.8v.8h-.8zM110.4 473.3h.8v.8h-.8zM106.9 470.9h.8v.8h-.8zM113.1 460.9h.8v.8h-.8zM115.2 471.1h.8v.8h-.8zM114.0 473.7h.8v.8h-.8zM114.6 474.0h.8v.8h-.8zM108.4 471.3h.8v.8h-.8zM117.0 472.5h.8v.8h-.8zM110.3 473.1h.8v.8h-.8zM112.6 472.1h.8v.8h-.8zM107.1 469.3h.8v.8h-.8zM114.5 473.2h.8v.8h-.8zM113.4 474.5h.8v.8h-.8zM112.0 474.1h.8v.8h-.8zM106.3 471.9h.8v.8h-.8zM112.2 468.8h.8v.8h-.8zM112.7 475.9h.8v.8h-.8zM109.3 475.9h.8v.8h-.8zM112.8 472.8h.8v.8h-.8zM112.8 463.9h.8v.8h-.8zM112.1 476.3h.8v.8h-.8zM110.9 471.9h.8v.8h-.8zM111.9 469.6h.8v.8h-.8zM116.1 469.1h.8v.8h-.8zM112.1 472.7h.8v.8h-.8zM108.5 470.8h.8v.8h-.8zM116.2 477.1h.8v.8h-.8zM113.2 469.8h.8v.8h-.8zM114.9 471.8h.8v.8h-.8zM112.8 471.3h.8v.8h-.8zM109.2 471.8h.8v.8h-.8zM106.5 469.6h.8v.8h-.8zM111.1 476.9h.8v.8h-.8zM117.6 471.7h.8v.8h-.8zM110.5 475.9h.8v.8h-.8zM108.4 474.9h.8v.8h-.8zM109.2 470.1h.8v.8h-.8zM112.0 472.1h.8v.8h-.8zM109.6 471.8h.8v.8h-.8zM113.7 475.5h.8v.8h-.8zM113.5 473.4h.8v.8h-.8zM111.1 474.8h.8v.8h-.8zM110.1 468.2h.8v.8h-.8zM113.1 478.2h.8v.8h-.8zM110.6 471.4h.8v.8h-.8zM106.8 474.4h.8v.8h-.8zM107.6 471.0h.8v.8h-.8zM114.1 469.4h.8v.8h-.8zM113.9 473.8h.8v.8h-.8zM112.4 475.6h.8v.8h-.8zM111.2 474.6h.8v.8h-.8zM112.7 474.1h.8v.8h-.8zM111.9 472.9h.8v.8h-.8zM111.3 474.2h.8v.8h-.8zM108.6 479.6h.8v.8h-.8zM113.6 476.9h.8v.8h-.8zM114.1 471.4h.8v.8h-.8zM112.3 479.1h.8v.8h-.8zM111.1 467.3h.8v.8h-.8zM119.2 475.1h.8v.8h-.8zM111.7 475.2h.8v.8h-.8zM110.3 469.8h.8v.8h-.8zM112.7 473.2h.8v.8h-.8zM112.1 469.2h.8v.8h-.8zM112.1 473.9h.8v.8h-.8zM110.4 476.1h.8v.8h-.8zM109.2 473.3h.8v.8h-.8zM112.1 476.8h.8v.8h-.8zM112.3 468.1h.8v.8h-.8zM112.0 470.1h.8v.8h-.8zM114.9 476.7h.8v.8h-.8zM110.1 472.0h.8v.8h-.8zM112.4 471.6h.8v.8h-.8zM110.6 471.3h.8v.8h-.8zM110.4 471.6h.8v.8h-.8zM111.8 466.6h.8v.8h-.8zM111.7 470.9h.8v.8h-.8zM109.1 475.9h.8v.8h-.8zM111.7 470.4h.8v.8h-.8zM109.4 470.3h.8v.8h-.8zM114.5 475.9h.8v.8h-.8zM112.5 466.2h.8v.8h-.8zM112.6 465.6h.8v.8h-.8zM109.2 468.7h.8v.8h-.8zM110.3 472.3h.8v.8h-.8zM115.2 471.2h.8v.8h-.8zM108.6 472.2h.8v.8h-.8zM106.6 472.1h.8v.8h-.8zM113.3 470.6h.8v.8h-.8zM109.6 471.0h.8v.8h-.8zM111.8 463.9h.8v.8h-.8zM110.4 470.8h.8v.8h-.8zM113.3 473.5h.8v.8h-.8zM109.9 475.3h.8v.8h-.8zM116.4 475.3h.8v.8h-.8zM112.0 476.1h.8v.8h-.8zM117.3 465.8h.8v.8h-.8zM109.7 472.7h.8v.8h-.8zM113.2 474.3h.8v.8h-.8zM110.2 472.4h.8v.8h-.8zM114.9 470.5h.8v.8h-.8zM107.0 462.9h.8v.8h-.8zM107.4 470.9h.8v.8h-.8zM112.4 469.6h.8v.8h-.8zM107.8 477.3h.8v.8h-.8zM111.7 468.2h.8v.8h-.8zM115.4 465.4h.8v.8h-.8zM114.4 475.7h.8v.8h-.8zM107.7 473.3h.8v.8h-.8zM110.9 476.3h.8v.8h-.8zM115.0 472.1h.8v.8h-.8zM112.5 469.7h.8v.8h-.8zM108.5 475.6h.8v.8h-.8zM116.6 470.6h.8v.8h-.8zM111.0 471.2h.8v.8h-.8zM114.1 466.4h.8v.8h-.8zM110.6 472.0h.8v.8h-.8zM113.3 471.2h.8v.8h-.8zM111.7 477.7h.8v.8h-.8zM108.7 476.2h.8v.8h-.8zM110.4 472.9h.8v.8h-.8zM110.8 467.4h.8v.8h-.8zM109.8 468.3h.8v.8h-.8zM104.4 471.8h.8v.8h-.8zM114.0 476.2h.8v.8h-.8zM111.8 475.0h.8v.8h-.8zM115.1 471.7h.8v.8h-.8zM111.0 471.5h.8v.8h-.8zM113.3 473.7h.8v.8h-.8zM108.1 474.6h.8v.8h-.8zM106.1 474.4h.8v.8h-.8zM115.3 470.0h.8v.8h-.8zM114.3 472.7h.8v.8h-.8zM110.9 479.1h.8v.8h-.8zM112.8 479.4h.8v.8h-.8zM112.6 472.8h.8v.8h-.8zM117.3 467.7h.8v.8h-.8zM114.1 473.3h.8v.8h-.8zM114.2 470.8h.8v.8h-.8zM107.5 478.8h.8v.8h-.8zM114.1 475.1h.8v.8h-.8zM113.5 470.7h.8v.8h-.8zM108.6 479.3h.8v.8h-.8zM113.2 470.7h.8v.8h-.8zM114.2 476.7h.8v.8h-.8zM111.2 470.1h.8v.8h-.8zM118.1 473.4h.8v.8h-.8zM112.5 469.9h.8v.8h-.8zM107.4 468.8h.8v.8h-.8zM117.6 472.8h.8v.8h-.8zM110.6 473.2h.8v.8h-.8zM107.4 467.6h.8v.8h-.8zM113.3 469.4h.8v.8h-.8zM109.6 470.9h.8v.8h-.8zM109.8 469.0h.8v.8h-.8zM113.9 469.9h.8v.8h-.8zM113.5 475.5h.8v.8h-.8zM108.9 475.6h.8v.8h-.8zM106.6 476.9h.8v.8h-.8zM106.5 461.0h.8v.8h-.8zM112.3 468.9h.8v.8h-.8zM114.5 473.6h.8v.8h-.8zM116.3 465.3h.8v.8h-.8zM112.3 472.8h.8v.8h-.8zM110.3 468.4h.8v.8h-.8zM108.7 471.0h.8v.8h-.8zM109.7 469.1h.8v.8h-.8zM112.2 462.6h.8v.8h-.8zM114.8 469.2h.8v.8h-.8zM114.1 475.6h.8v.8h-.8zM119.7 471.6h.8v.8h-.8zM115.2 470.9h.8v.8h-.8zM109.7 478.0h.8v.8h-.8zM115.0 471.9h.8v.8h-.8zM112.5 469.6h.8v.8h-.8zM108.4 471.8h.8v.8h-.8zM107.5 475.4h.8v.8h-.8zM112.5 474.0h.8v.8h-.8zM115.0 473.0h.8v.8h-.8zM117.2 477.4h.8v.8h-.8zM112.8 467.1h.8v.8h-.8zM111.5 474.0h.8v.8h-.8zM107.8 467.3h.8v.8h-.8zM111.3 474.8h.8v.8h-.8zM110.8 476.1h.8v.8h-.8zM115.4 473.0h.8v.8h-.8zM114.2 471.1h.8v.8h-.8zM108.1 471.9h.8v.8h-.8zM113.9 475.2h.8v.8h-.8zM108.4 472.2h.8v.8h-.8zM111.7 473.6h.8v.8h-.8zM112.8 476.2h.8v.8h-.8zM114.8 465.5h.8v.8h-.8zM110.1 466.2h.8v.8h-.8zM115.2 472.0h.8v.8h-.8zM116.5 468.6h.8v.8h-.8zM118.5 472.3h.8v.8h-.8zM112.9 476.5h.8v.8h-.8zM112.1 469.1h.8v.8h-.8zM111.4 472.9h.8v.8h-.8zM113.3 475.1h.8v.8h-.8zM108.5 470.6h.8v.8h-.8zM110.8 476.2h.8v.8h-.8zM106.8 470.9h.8v.8h-.8zM110.8 466.8h.8v.8h-.8zM119.1 476.5h.8v.8h-.8zM114.4 474.2h.8v.8h-.8zM112.0 475.4h.8v.8h-.8zM114.0 471.6h.8v.8h-.8zM115.6 465.8h.8v.8h-.8zM109.8 467.1h.8v.8h-.8zM115.8 470.7h.8v.8h-.8zM115.8 475.3h.8v.8h-.8zM105.8 466.2h.8v.8h-.8zM112.7 465.4h.8v.8h-.8zM116.1 471.9h.8v.8h-.8zM111.4 468.0h.8v.8h-.8zM116.0 477.4h.8v.8h-.8zM111.3 465.6h.8v.8h-.8zM109.1 463.4h.8v.8h-.8zM107.3 469.7h.8v.8h-.8zM114.3 478.5h.8v.8h-.8zM116.5 468.1h.8v.8h-.8zM112.5 465.5h.8v.8h-.8zM114.5 475.6h.8v.8h-.8zM109.5 475.3h.8v.8h-.8zM120.5 473.3h.8v.8h-.8zM112.6 476.3h.8v.8h-.8zM110.3 472.1h.8v.8h-.8zM109.2 470.2h.8v.8h-.8zM114.2 465.0h.8v.8h-.8zM114.2 477.9h.8v.8h-.8zM108.4 474.6h.8v.8h-.8zM111.6 467.4h.8v.8h-.8zM112.4 470.1h.8v.8h-.8zM113.7 475.2h.8v.8h-.8zM111.4 469.8h.8v.8h-.8zM108.8 468.2h.8v.8h-.8zM117.0 471.8h.8v.8h-.8zM107.1 476.7h.8v.8h-.8zM108.7 474.0h.8v.8h-.8zM115.3 474.8h.8v.8h-.8zM109.0 476.1h.8v.8h-.8zM112.3 468.3h.8v.8h-.8zM105.1 473.7h.8v.8h-.8zM110.1 473.3h.8v.8h-.8zM114.0 469.4h.8v.8h-.8zM112.9 474.3h.8v.8h-.8zM108.4 476.1h.8v.8h-.8zM113.9 467.3h.8v.8h-.8zM113.1 470.3h.8v.8h-.8zM107.0 469.9h.8v.8h-.8zM119.3 437.3h.8v.8h-.8zM111.5 436.5h.8v.8h-.8zM106.3 437.2h.8v.8h-.8zM117.2 436.7h.8v.8h-.8zM112.6 436.6h.8v.8h-.8zM107.5 437.7h.8v.8h-.8zM112.4 438.2h.8v.8h-.8zM112.3 436.6h.8v.8h-.8zM115.4 437.2h.8v.8h-.8zM114.3 436.0h.8v.8h-.8zM117.5 436.0h.8v.8h-.8zM109.3 440.2h.8v.8h-.8zM108.0 435.8h.8v.8h-.8zM111.1 434.4h.8v.8h-.8zM111.0 438.5h.8v.8h-.8zM116.2 434.6h.8v.8h-.8zM123.1 435.1h.8v.8h-.8zM123.4 433.3h.8v.8h-.8zM114.8 435.2h.8v.8h-.8zM123.0 434.8h.8v.8h-.8zM121.4 434.9h.8v.8h-.8zM110.2 438.0h.8v.8h-.8zM122.4 435.6h.8v.8h-.8zM121.4 435.8h.8v.8h-.8zM121.4 435.6h.8v.8h-.8zM120.8 438.3h.8v.8h-.8zM120.8 435.8h.8v.8h-.8zM112.4 437.8h.8v.8h-.8zM106.7 433.1h.8v.8h-.8zM106.5 440.2h.8v.8h-.8zM113.0 438.7h.8v.8h-.8zM115.3 436.9h.8v.8h-.8zM114.8 439.1h.8v.8h-.8zM116.2 435.6h.8v.8h-.8zM117.8 437.4h.8v.8h-.8zM114.4 436.8h.8v.8h-.8zM113.7 437.3h.8v.8h-.8zM114.2 436.4h.8v.8h-.8zM120.6 432.9h.8v.8h-.8zM115.6 436.6h.8v.8h-.8zM109.5 435.9h.8v.8h-.8zM119.0 436.9h.8v.8h-.8zM121.7 435.9h.8v.8h-.8zM112.6 436.2h.8v.8h-.8zM107.9 439.5h.8v.8h-.8zM117.5 437.1h.8v.8h-.8zM110.3 437.1h.8v.8h-.8zM108.3 439.7h.8v.8h-.8zM116.0 438.6h.8v.8h-.8zM108.4 436.6h.8v.8h-.8zM117.5 435.3h.8v.8h-.8zM118.2 433.7h.8v.8h-.8zM109.8 436.1h.8v.8h-.8zM111.1 436.6h.8v.8h-.8zM119.7 434.4h.8v.8h-.8zM108.4 437.7h.8v.8h-.8zM116.4 436.4h.8v.8h-.8zM111.7 436.8h.8v.8h-.8zM108.5 436.4h.8v.8h-.8zM112.1 437.4h.8v.8h-.8zM122.0 435.9h.8v.8h-.8zM121.5 436.2h.8v.8h-.8zM119.9 438.2h.8v.8h-.8zM120.2 437.8h.8v.8h-.8zM120.3 436.1h.8v.8h-.8zM115.3 436.8h.8v.8h-.8zM109.6 436.3h.8v.8h-.8zM117.1 439.2h.8v.8h-.8zM118.8 435.2h.8v.8h-.8zM116.5 438.6h.8v.8h-.8zM116.9 435.6h.8v.8h-.8zM119.3 437.2h.8v.8h-.8zM118.2 434.2h.8v.8h-.8zM114.2 436.9h.8v.8h-.8zM113.0 436.6h.8v.8h-.8zM107.4 436.1h.8v.8h-.8zM110.4 438.3h.8v.8h-.8zM122.5 435.5h.8v.8h-.8zM113.0 433.8h.8v.8h-.8zM116.5 433.2h.8v.8h-.8zM113.6 436.1h.8v.8h-.8zM123.0 434.2h.8v.8h-.8zM117.0 439.2h.8v.8h-.8zM113.4 436.2h.8v.8h-.8zM114.1 438.4h.8v.8h-.8zM123.9 437.1h.8v.8h-.8zM112.5 438.3h.8v.8h-.8zM110.0 437.0h.8v.8h-.8zM116.3 438.8h.8v.8h-.8zM114.7 436.9h.8v.8h-.8zM117.0 435.8h.8v.8h-.8zM117.6 437.1h.8v.8h-.8zM108.2 434.6h.8v.8h-.8zM120.6 435.5h.8v.8h-.8zM116.8 437.1h.8v.8h-.8zM123.2 436.0h.8v.8h-.8zM109.5 439.1h.8v.8h-.8zM115.7 434.7h.8v.8h-.8zM113.4 439.2h.8v.8h-.8zM116.9 435.5h.8v.8h-.8zM109.5 435.3h.8v.8h-.8zM109.7 436.3h.8v.8h-.8zM116.2 436.6h.8v.8h-.8zM115.7 437.5h.8v.8h-.8zM118.6 435.4h.8v.8h-.8zM122.0 432.7h.8v.8h-.8zM114.3 435.0h.8v.8h-.8zM118.1 435.2h.8v.8h-.8zM118.4 436.2h.8v.8h-.8zM115.9 436.6h.8v.8h-.8zM112.7 437.4h.8v.8h-.8zM107.7 436.8h.8v.8h-.8zM122.6 435.2h.8v.8h-.8zM121.3 435.9h.8v.8h-.8zM106.6 437.6h.8v.8h-.8zM109.4 434.3h.8v.8h-.8zM108.4 439.0h.8v.8h-.8zM110.2 438.1h.8v.8h-.8zM110.4 435.4h.8v.8h-.8zM116.2 436.5h.8v.8h-.8z" fill="#c81212" fill-opacity="0.7"/>
<path d="M87.1,468.9 L97.5,468.7 Q102.0,470.5 102.0,477.5 L100.5,479.7 L87.1,479.7 Z" fill="#e8161c" opacity="1" filter="url(#bl4)"/>
<rect x="87.0" y="470.0" width="11.0" height="9.7" fill="#e8161c" filter="url(#bl2)"/>
<ellipse cx="112.0" cy="472.5" rx="3.6" ry="4.0" fill="#e41c1c" opacity="0.87" filter="url(#bl4)"/>
<path d="M107.0,435.0 Q115.0,434.0 123.0,435.1 L123.0,436.2 Q115.0,438.6 107.0,439.6 Z" fill="#e01a1a" filter="url(#bl2)"/>
<path d="M108.0,436.4 Q115.0,435.4 120.0,435.6 Q115.0,437.2 108.0,438.2 Z" fill="#b81014" filter="url(#bl2)"/>
<rect x="86.50" y="426.50" width="55.00" height="54.00" fill="none" stroke="#555" stroke-width="0.75" />
<line x1="100.50" y1="426.50" x2="100.50" y2="480.50" stroke="#666" stroke-width="0.65" />
<line x1="86.50" y1="467.50" x2="141.50" y2="467.50" stroke="#666" stroke-width="0.65" />
<text x="129.10" y="433.48" font-size="6.6" font-weight="bold" text-anchor="start" fill="#222" stroke="#222" stroke-width="0.12" textLength="10.80" lengthAdjust="spacingAndGlyphs" >24%</text>
<text x="129.10" y="478.28" font-size="6.6" font-weight="bold" text-anchor="start" fill="#222" stroke="#222" stroke-width="0.12" textLength="10.80" lengthAdjust="spacingAndGlyphs" >20%</text>
<line x1="85.50" y1="480.50" x2="86.50" y2="480.50" stroke="#555" stroke-width="0.4" />
<text x="84.70" y="481.40" font-size="2.6" font-weight="bold" text-anchor="end" fill="#444" >10</text>
<line x1="85.50" y1="467.00" x2="86.50" y2="467.00" stroke="#555" stroke-width="0.4" />
<text x="84.70" y="467.90" font-size="2.6" font-weight="bold" text-anchor="end" fill="#444" >10</text>
<line x1="85.50" y1="453.50" x2="86.50" y2="453.50" stroke="#555" stroke-width="0.4" />
<text x="84.70" y="454.40" font-size="2.6" font-weight="bold" text-anchor="end" fill="#444" >10</text>
<line x1="85.50" y1="440.00" x2="86.50" y2="440.00" stroke="#555" stroke-width="0.4" />
<text x="84.70" y="440.90" font-size="2.6" font-weight="bold" text-anchor="end" fill="#444" >10</text>
<line x1="85.50" y1="426.50" x2="86.50" y2="426.50" stroke="#555" stroke-width="0.4" />
<text x="84.70" y="427.40" font-size="2.6" font-weight="bold" text-anchor="end" fill="#444" >10</text>
<line x1="86.50" y1="480.50" x2="86.50" y2="481.50" stroke="#555" stroke-width="0.4" />
<text x="86.50" y="483.50" font-size="2.6" font-weight="bold" text-anchor="middle" fill="#444" transform="rotate(-45 86.50 483.50)" >10</text>
<line x1="100.25" y1="480.50" x2="100.25" y2="481.50" stroke="#555" stroke-width="0.4" />
<text x="100.25" y="483.50" font-size="2.6" font-weight="bold" text-anchor="middle" fill="#444" transform="rotate(-45 100.25 483.50)" >10</text>
<line x1="114.00" y1="480.50" x2="114.00" y2="481.50" stroke="#555" stroke-width="0.4" />
<text x="114.00" y="483.50" font-size="2.6" font-weight="bold" text-anchor="middle" fill="#444" transform="rotate(-45 114.00 483.50)" >10</text>
<line x1="127.75" y1="480.50" x2="127.75" y2="481.50" stroke="#555" stroke-width="0.4" />
<text x="127.75" y="483.50" font-size="2.6" font-weight="bold" text-anchor="middle" fill="#444" transform="rotate(-45 127.75 483.50)" >10</text>
<line x1="141.50" y1="480.50" x2="141.50" y2="481.50" stroke="#555" stroke-width="0.4" />
<text x="141.50" y="483.50" font-size="2.6" font-weight="bold" text-anchor="middle" fill="#444" transform="rotate(-45 141.50 483.50)" >10</text>
<path d="M170.3 449.7h.8v.8h-.8zM181.3 446.4h.8v.8h-.8zM170.4 464.1h.8v.8h-.8zM179.4 454.5h.8v.8h-.8zM171.4 457.0h.8v.8h-.8zM176.9 451.0h.8v.8h-.8zM169.7 459.5h.8v.8h-.8zM176.9 460.7h.8v.8h-.8zM165.4 450.4h.8v.8h-.8zM181.2 448.8h.8v.8h-.8zM168.5 467.3h.8v.8h-.8zM181.8 454.8h.8v.8h-.8zM169.8 453.2h.8v.8h-.8zM167.3 459.0h.8v.8h-.8zM177.8 450.0h.8v.8h-.8zM162.6 454.4h.8v.8h-.8zM164.8 463.1h.8v.8h-.8zM176.3 462.6h.8v.8h-.8zM169.6 449.4h.8v.8h-.8zM163.6 461.4h.8v.8h-.8zM174.6 455.1h.8v.8h-.8zM171.5 448.2h.8v.8h-.8zM173.9 448.6h.8v.8h-.8zM164.9 456.8h.8v.8h-.8zM181.4 450.0h.8v.8h-.8zM175.7 444.7h.8v.8h-.8zM165.7 466.2h.8v.8h-.8zM176.6 452.2h.8v.8h-.8zM183.5 459.8h.8v.8h-.8zM160.8 460.5h.8v.8h-.8zM174.2 458.1h.8v.8h-.8zM171.7 446.2h.8v.8h-.8zM182.2 444.6h.8v.8h-.8zM176.1 452.9h.8v.8h-.8zM179.7 440.2h.8v.8h-.8zM171.0 448.5h.8v.8h-.8zM173.4 450.1h.8v.8h-.8zM171.3 446.8h.8v.8h-.8zM171.7 460.9h.8v.8h-.8zM171.3 463.4h.8v.8h-.8zM172.8 455.9h.8v.8h-.8zM168.2 457.7h.8v.8h-.8zM174.5 452.8h.8v.8h-.8zM158.2 458.6h.8v.8h-.8zM177.8 448.5h.8v.8h-.8zM169.1 455.1h.8v.8h-.8zM173.7 454.1h.8v.8h-.8zM179.3 450.5h.8v.8h-.8zM168.3 448.8h.8v.8h-.8zM172.1 463.3h.8v.8h-.8zM179.0 446.3h.8v.8h-.8zM179.7 445.4h.8v.8h-.8zM170.6 459.7h.8v.8h-.8zM173.9 452.9h.8v.8h-.8zM173.1 465.6h.8v.8h-.8zM175.2 446.5h.8v.8h-.8zM173.7 471.8h.8v.8h-.8zM179.6 444.3h.8v.8h-.8zM175.6 461.0h.8v.8h-.8zM183.8 441.8h.8v.8h-.8zM171.7 458.5h.8v.8h-.8zM178.8 448.6h.8v.8h-.8zM169.6 455.1h.8v.8h-.8zM169.0 444.6h.8v.8h-.8zM173.6 457.0h.8v.8h-.8zM175.6 462.4h.8v.8h-.8zM183.3 449.2h.8v.8h-.8zM171.9 462.6h.8v.8h-.8zM177.0 461.9h.8v.8h-.8zM170.2 452.3h.8v.8h-.8zM168.8 450.0h.8v.8h-.8zM178.4 451.3h.8v.8h-.8zM172.5 465.2h.8v.8h-.8zM178.6 452.3h.8v.8h-.8zM179.1 443.1h.8v.8h-.8zM168.2 455.0h.8v.8h-.8zM177.6 462.1h.8v.8h-.8zM177.0 442.9h.8v.8h-.8zM164.3 459.6h.8v.8h-.8zM170.3 447.6h.8v.8h-.8zM175.2 463.7h.8v.8h-.8zM177.9 449.2h.8v.8h-.8zM166.4 454.3h.8v.8h-.8zM175.9 450.2h.8v.8h-.8zM169.3 456.4h.8v.8h-.8zM173.0 456.2h.8v.8h-.8zM178.9 458.9h.8v.8h-.8zM173.2 452.7h.8v.8h-.8zM173.2 450.3h.8v.8h-.8zM176.7 446.4h.8v.8h-.8zM183.5 447.0h.8v.8h-.8zM169.1 460.4h.8v.8h-.8zM171.8 447.8h.8v.8h-.8zM177.1 455.5h.8v.8h-.8zM175.8 453.5h.8v.8h-.8zM177.7 459.3h.8v.8h-.8zM166.0 467.2h.8v.8h-.8zM183.7 444.6h.8v.8h-.8zM167.9 463.3h.8v.8h-.8zM183.1 448.9h.8v.8h-.8zM178.2 462.1h.8v.8h-.8zM169.7 447.3h.8v.8h-.8zM171.2 450.7h.8v.8h-.8zM179.5 450.8h.8v.8h-.8zM181.5 444.2h.8v.8h-.8zM172.0 456.6h.8v.8h-.8zM183.0 448.7h.8v.8h-.8zM167.5 462.9h.8v.8h-.8zM165.0 456.7h.8v.8h-.8zM175.3 447.0h.8v.8h-.8zM172.1 453.4h.8v.8h-.8zM161.6 462.6h.8v.8h-.8zM175.3 456.8h.8v.8h-.8zM177.3 454.1h.8v.8h-.8zM169.4 435.0h.8v.8h-.8zM167.2 460.5h.8v.8h-.8zM164.2 454.4h.8v.8h-.8zM170.5 447.9h.8v.8h-.8zM178.9 444.0h.8v.8h-.8zM172.9 455.2h.8v.8h-.8zM168.6 466.6h.8v.8h-.8zM180.4 447.3h.8v.8h-.8zM178.7 453.7h.8v.8h-.8zM165.9 447.6h.8v.8h-.8zM176.5 450.4h.8v.8h-.8zM166.3 454.8h.8v.8h-.8zM175.9 446.9h.8v.8h-.8zM171.5 452.4h.8v.8h-.8zM174.9 443.1h.8v.8h-.8zM174.3 444.4h.8v.8h-.8zM173.5 457.3h.8v.8h-.8zM165.1 464.1h.8v.8h-.8zM169.3 447.0h.8v.8h-.8zM169.2 451.7h.8v.8h-.8zM159.6 464.2h.8v.8h-.8zM165.2 458.3h.8v.8h-.8zM179.0 459.7h.8v.8h-.8zM186.7 444.0h.8v.8h-.8zM165.2 448.0h.8v.8h-.8zM173.3 462.6h.8v.8h-.8zM174.8 447.8h.8v.8h-.8zM167.3 450.8h.8v.8h-.8zM164.3 459.3h.8v.8h-.8zM174.2 450.4h.8v.8h-.8zM175.8 463.6h.8v.8h-.8zM173.2 454.6h.8v.8h-.8zM175.4 445.4h.8v.8h-.8zM171.6 455.9h.8v.8h-.8zM174.9 457.2h.8v.8h-.8zM172.0 455.2h.8v.8h-.8zM166.7 447.5h.8v.8h-.8zM171.7 441.1h.8v.8h-.8zM170.3 450.2h.8v.8h-.8zM174.7 449.1h.8v.8h-.8zM187.8 440.3h.8v.8h-.8zM180.3 450.1h.8v.8h-.8zM161.1 460.3h.8v.8h-.8zM166.7 459.9h.8v.8h-.8zM169.4 449.0h.8v.8h-.8zM174.4 450.9h.8v.8h-.8zM167.1 462.8h.8v.8h-.8zM165.9 460.2h.8v.8h-.8zM182.4 449.7h.8v.8h-.8zM183.3 451.6h.8v.8h-.8zM178.4 456.4h.8v.8h-.8zM179.8 443.5h.8v.8h-.8zM173.1 451.0h.8v.8h-.8zM173.8 463.5h.8v.8h-.8zM177.4 445.8h.8v.8h-.8zM180.7 448.1h.8v.8h-.8zM172.3 458.0h.8v.8h-.8zM171.0 460.9h.8v.8h-.8zM164.6 457.5h.8v.8h-.8zM176.9 451.6h.8v.8h-.8zM166.3 461.1h.8v.8h-.8zM169.0 457.5h.8v.8h-.8zM168.6 460.7h.8v.8h-.8zM164.6 462.6h.8v.8h-.8zM169.9 461.6h.8v.8h-.8zM167.8 455.3h.8v.8h-.8zM177.9 444.2h.8v.8h-.8zM168.4 462.2h.8v.8h-.8zM169.8 451.5h.8v.8h-.8zM167.2 450.5h.8v.8h-.8zM168.5 452.9h.8v.8h-.8zM175.1 441.7h.8v.8h-.8zM184.6 447.2h.8v.8h-.8zM182.6 448.8h.8v.8h-.8zM171.9 458.1h.8v.8h-.8zM174.2 449.6h.8v.8h-.8zM171.4 441.4h.8v.8h-.8zM177.3 448.9h.8v.8h-.8zM161.9 455.2h.8v.8h-.8zM173.1 458.8h.8v.8h-.8zM172.2 453.2h.8v.8h-.8zM177.5 451.3h.8v.8h-.8zM176.7 451.2h.8v.8h-.8zM179.5 444.0h.8v.8h-.8zM178.8 452.8h.8v.8h-.8zM183.3 453.7h.8v.8h-.8zM175.8 450.1h.8v.8h-.8zM174.8 458.7h.8v.8h-.8zM180.3 447.3h.8v.8h-.8zM175.4 462.9h.8v.8h-.8zM166.5 463.2h.8v.8h-.8zM168.2 452.9h.8v.8h-.8zM177.6 456.7h.8v.8h-.8zM167.8 456.5h.8v.8h-.8zM172.6 453.9h.8v.8h-.8zM177.2 448.6h.8v.8h-.8zM174.9 449.8h.8v.8h-.8zM171.7 450.3h.8v.8h-.8zM175.5 447.7h.8v.8h-.8zM179.8 452.1h.8v.8h-.8zM174.6 453.4h.8v.8h-.8zM174.6 442.7h.8v.8h-.8zM167.0 461.9h.8v.8h-.8zM179.5 443.6h.8v.8h-.8zM169.4 448.0h.8v.8h-.8zM174.3 452.5h.8v.8h-.8zM181.1 462.1h.8v.8h-.8zM177.5 453.0h.8v.8h-.8zM174.3 442.1h.8v.8h-.8zM171.6 447.0h.8v.8h-.8zM167.7 468.5h.8v.8h-.8zM170.5 467.2h.8v.8h-.8zM161.4 465.5h.8v.8h-.8zM170.1 452.3h.8v.8h-.8zM182.3 456.7h.8v.8h-.8zM166.1 457.6h.8v.8h-.8zM167.1 459.8h.8v.8h-.8zM172.7 451.2h.8v.8h-.8zM163.0 461.6h.8v.8h-.8zM174.9 445.5h.8v.8h-.8zM165.3 459.8h.8v.8h-.8zM177.1 465.3h.8v.8h-.8zM171.3 464.8h.8v.8h-.8zM171.4 460.5h.8v.8h-.8zM178.8 449.2h.8v.8h-.8zM177.9 456.0h.8v.8h-.8zM180.8 439.5h.8v.8h-.8zM176.6 446.6h.8v.8h-.8zM173.0 447.2h.8v.8h-.8zM166.5 456.1h.8v.8h-.8zM169.6 455.5h.8v.8h-.8zM180.1 444.3h.8v.8h-.8zM172.1 457.7h.8v.8h-.8zM180.3 453.0h.8v.8h-.8zM172.2 455.9h.8v.8h-.8zM172.4 465.8h.8v.8h-.8zM175.1 445.7h.8v.8h-.8zM181.4 443.8h.8v.8h-.8zM172.6 453.3h.8v.8h-.8zM175.8 463.7h.8v.8h-.8zM173.5 448.5h.8v.8h-.8zM178.5 452.5h.8v.8h-.8zM171.7 466.2h.8v.8h-.8zM174.3 450.7h.8v.8h-.8zM179.5 471.1h.8v.8h-.8zM181.5 448.2h.8v.8h-.8zM175.6 458.4h.8v.8h-.8zM168.4 448.9h.8v.8h-.8zM164.3 445.8h.8v.8h-.8zM167.9 458.6h.8v.8h-.8zM173.6 448.4h.8v.8h-.8zM174.0 444.4h.8v.8h-.8zM175.4 461.6h.8v.8h-.8zM164.2 464.7h.8v.8h-.8zM175.6 436.2h.8v.8h-.8zM176.5 442.4h.8v.8h-.8zM182.3 441.5h.8v.8h-.8zM184.7 450.9h.8v.8h-.8zM176.5 450.8h.8v.8h-.8zM172.7 446.5h.8v.8h-.8zM171.7 446.5h.8v.8h-.8zM173.9 450.4h.8v.8h-.8zM161.3 456.2h.8v.8h-.8zM173.8 447.5h.8v.8h-.8zM186.0 453.7h.8v.8h-.8zM167.9 465.3h.8v.8h-.8zM174.2 452.2h.8v.8h-.8zM169.8 453.7h.8v.8h-.8zM173.6 451.6h.8v.8h-.8zM174.6 451.8h.8v.8h-.8zM181.9 452.0h.8v.8h-.8zM178.2 451.4h.8v.8h-.8zM176.0 459.2h.8v.8h-.8zM170.3 443.4h.8v.8h-.8zM166.1 458.0h.8v.8h-.8zM166.5 452.6h.8v.8h-.8zM167.4 448.6h.8v.8h-.8zM177.6 443.7h.8v.8h-.8zM165.4 450.2h.8v.8h-.8zM180.1 450.4h.8v.8h-.8zM172.3 449.6h.8v.8h-.8zM175.3 455.4h.8v.8h-.8zM169.9 460.7h.8v.8h-.8zM172.7 456.2h.8v.8h-.8zM169.2 457.9h.8v.8h-.8zM174.0 454.5h.8v.8h-.8zM157.0 457.1h.8v.8h-.8zM163.7 450.9h.8v.8h-.8zM171.9 439.9h.8v.8h-.8zM175.5 437.4h.8v.8h-.8zM171.3 440.2h.8v.8h-.8zM159.0 456.0h.8v.8h-.8zM171.2 438.3h.8v.8h-.8zM158.4 453.2h.8v.8h-.8zM161.6 449.9h.8v.8h-.8zM157.6 452.5h.8v.8h-.8zM164.1 445.3h.8v.8h-.8zM157.8 459.4h.8v.8h-.8zM157.9 452.8h.8v.8h-.8zM160.8 451.9h.8v.8h-.8zM162.4 442.3h.8v.8h-.8zM166.0 442.1h.8v.8h-.8zM173.1 439.6h.8v.8h-.8zM166.8 444.8h.8v.8h-.8zM168.8 442.0h.8v.8h-.8zM167.7 445.2h.8v.8h-.8zM172.5 439.1h.8v.8h-.8zM173.3 439.2h.8v.8h-.8zM155.8 460.6h.8v.8h-.8zM159.0 449.5h.8v.8h-.8zM163.2 448.6h.8v.8h-.8zM156.7 459.9h.8v.8h-.8zM161.5 459.2h.8v.8h-.8zM164.9 444.5h.8v.8h-.8zM173.3 436.1h.8v.8h-.8zM166.6 445.2h.8v.8h-.8zM168.6 440.1h.8v.8h-.8zM161.9 448.7h.8v.8h-.8zM172.4 444.2h.8v.8h-.8zM169.7 445.7h.8v.8h-.8zM166.6 440.6h.8v.8h-.8zM155.4 462.9h.8v.8h-.8zM173.4 437.6h.8v.8h-.8zM157.9 458.4h.8v.8h-.8zM164.5 450.8h.8v.8h-.8zM162.4 444.3h.8v.8h-.8zM168.3 442.3h.8v.8h-.8zM154.7 459.0h.8v.8h-.8zM163.1 445.2h.8v.8h-.8zM161.1 453.8h.8v.8h-.8zM164.0 447.4h.8v.8h-.8zM169.1 443.1h.8v.8h-.8zM164.6 447.5h.8v.8h-.8zM161.0 447.7h.8v.8h-.8zM161.3 453.3h.8v.8h-.8zM162.9 444.1h.8v.8h-.8zM159.6 449.0h.8v.8h-.8zM159.3 451.3h.8v.8h-.8zM155.7 457.8h.8v.8h-.8zM161.1 451.0h.8v.8h-.8zM171.1 438.4h.8v.8h-.8zM161.9 446.4h.8v.8h-.8zM171.8 439.1h.8v.8h-.8zM157.5 458.1h.8v.8h-.8zM157.8 457.3h.8v.8h-.8zM165.6 447.6h.8v.8h-.8zM160.5 451.3h.8v.8h-.8zM170.8 440.9h.8v.8h-.8zM171.4 438.6h.8v.8h-.8zM165.8 447.3h.8v.8h-.8zM162.6 450.0h.8v.8h-.8zM157.7 452.0h.8v.8h-.8zM170.5 438.3h.8v.8h-.8zM170.0 438.9h.8v.8h-.8zM159.9 452.9h.8v.8h-.8zM164.7 447.3h.8v.8h-.8zM159.8 454.8h.8v.8h-.8zM168.7 444.2h.8v.8h-.8zM168.4 441.1h.8v.8h-.8zM171.1 441.1h.8v.8h-.8zM170.0 440.1h.8v.8h-.8zM158.8 461.1h.8v.8h-.8zM164.5 445.6h.8v.8h-.8zM163.0 452.6h.8v.8h-.8zM156.4 460.0h.8v.8h-.8zM170.3 441.5h.8v.8h-.8zM161.9 449.3h.8v.8h-.8zM171.6 437.6h.8v.8h-.8zM160.5 448.0h.8v.8h-.8zM167.1 442.9h.8v.8h-.8zM157.1 455.4h.8v.8h-.8zM170.3 435.8h.8v.8h-.8zM158.6 459.6h.8v.8h-.8zM157.7 461.5h.8v.8h-.8zM159.8 458.5h.8v.8h-.8zM166.5 444.9h.8v.8h-.8zM158.8 452.9h.8v.8h-.8zM164.0 446.2h.8v.8h-.8zM156.8 458.4h.8v.8h-.8zM156.4 460.5h.8v.8h-.8zM170.7 439.0h.8v.8h-.8zM171.0 437.0h.8v.8h-.8zM163.3 450.3h.8v.8h-.8zM161.8 451.8h.8v.8h-.8zM160.2 451.4h.8v.8h-.8zM160.8 450.8h.8v.8h-.8zM155.6 463.1h.8v.8h-.8zM162.8 448.4h.8v.8h-.8zM161.2 457.9h.8v.8h-.8zM157.6 461.5h.8v.8h-.8zM162.6 444.5h.8v.8h-.8zM157.9 463.2h.8v.8h-.8zM175.3 440.5h.8v.8h-.8zM159.7 456.7h.8v.8h-.8zM156.1 460.8h.8v.8h-.8zM169.1 442.1h.8v.8h-.8zM156.1 462.8h.8v.8h-.8zM168.1 437.6h.8v.8h-.8zM158.3 460.8h.8v.8h-.8zM173.5 438.9h.8v.8h-.8zM165.4 445.3h.8v.8h-.8zM167.0 446.1h.8v.8h-.8zM165.6 449.4h.8v.8h-.8zM172.1 440.1h.8v.8h-.8zM174.1 436.6h.8v.8h-.8zM165.6 448.1h.8v.8h-.8zM154.0 460.7h.8v.8h-.8zM176.7 439.5h.8v.8h-.8zM169.5 440.0h.8v.8h-.8zM160.5 452.5h.8v.8h-.8zM157.4 460.9h.8v.8h-.8zM165.1 443.2h.8v.8h-.8zM159.0 447.8h.8v.8h-.8zM159.1 457.0h.8v.8h-.8zM160.4 445.9h.8v.8h-.8zM158.1 456.5h.8v.8h-.8zM157.2 457.6h.8v.8h-.8zM156.0 461.6h.8v.8h-.8zM160.0 453.8h.8v.8h-.8zM155.9 457.3h.8v.8h-.8zM158.1 455.7h.8v.8h-.8zM174.6 437.2h.8v.8h-.8zM157.5 452.7h.8v.8h-.8zM155.2 456.7h.8v.8h-.8zM165.8 445.7h.8v.8h-.8zM158.0 462.3h.8v.8h-.8zM158.9 453.8h.8v.8h-.8zM166.9 446.7h.8v.8h-.8zM158.3 457.8h.8v.8h-.8zM167.5 441.3h.8v.8h-.8zM167.3 444.3h.8v.8h-.8zM157.1 464.1h.8v.8h-.8zM162.2 452.0h.8v.8h-.8zM164.7 448.0h.8v.8h-.8zM170.8 440.0h.8v.8h-.8zM157.2 463.5h.8v.8h-.8zM156.7 456.3h.8v.8h-.8zM165.3 446.5h.8v.8h-.8zM159.1 456.9h.8v.8h-.8zM157.3 460.8h.8v.8h-.8zM157.2 465.4h.8v.8h-.8zM173.1 441.0h.8v.8h-.8zM159.8 452.0h.8v.8h-.8zM161.8 449.4h.8v.8h-.8zM158.0 460.5h.8v.8h-.8zM164.7 449.4h.8v.8h-.8zM157.4 449.8h.8v.8h-.8zM158.9 451.9h.8v.8h-.8zM171.2 440.7h.8v.8h-.8zM160.6 452.8h.8v.8h-.8zM169.4 441.5h.8v.8h-.8zM159.5 447.3h.8v.8h-.8zM157.9 449.1h.8v.8h-.8zM172.2 440.1h.8v.8h-.8zM159.5 450.5h.8v.8h-.8zM174.4 438.2h.8v.8h-.8zM155.1 464.3h.8v.8h-.8zM159.5 458.0h.8v.8h-.8zM172.4 438.7h.8v.8h-.8zM171.1 438.1h.8v.8h-.8zM165.0 442.2h.8v.8h-.8zM160.6 449.9h.8v.8h-.8zM177.3 437.1h.8v.8h-.8zM160.8 455.3h.8v.8h-.8zM166.0 448.8h.8v.8h-.8zM163.3 447.5h.8v.8h-.8zM167.5 442.0h.8v.8h-.8zM163.7 444.7h.8v.8h-.8zM160.6 453.5h.8v.8h-.8zM173.5 437.6h.8v.8h-.8zM156.8 455.8h.8v.8h-.8zM157.2 460.0h.8v.8h-.8zM169.9 440.2h.8v.8h-.8zM161.1 452.2h.8v.8h-.8zM160.5 451.9h.8v.8h-.8zM162.4 445.4h.8v.8h-.8zM160.4 453.0h.8v.8h-.8zM164.0 442.3h.8v.8h-.8zM164.3 446.8h.8v.8h-.8zM169.4 439.9h.8v.8h-.8zM164.5 449.0h.8v.8h-.8zM159.6 459.7h.8v.8h-.8zM163.8 444.4h.8v.8h-.8zM170.9 437.2h.8v.8h-.8zM158.3 461.9h.8v.8h-.8zM162.8 446.7h.8v.8h-.8zM175.5 439.0h.8v.8h-.8zM168.1 441.9h.8v.8h-.8zM166.1 438.3h.8v.8h-.8zM157.7 456.9h.8v.8h-.8zM164.1 447.0h.8v.8h-.8zM156.1 463.5h.8v.8h-.8zM157.8 454.8h.8v.8h-.8zM158.4 455.6h.8v.8h-.8zM159.3 450.1h.8v.8h-.8zM155.7 463.0h.8v.8h-.8zM156.7 459.7h.8v.8h-.8zM172.5 439.5h.8v.8h-.8zM170.3 439.8h.8v.8h-.8zM159.5 454.1h.8v.8h-.8zM161.6 456.3h.8v.8h-.8zM160.3 448.9h.8v.8h-.8zM169.8 443.2h.8v.8h-.8zM163.8 449.4h.8v.8h-.8zM163.8 446.0h.8v.8h-.8zM170.3 441.9h.8v.8h-.8zM160.1 449.5h.8v.8h-.8zM172.2 437.9h.8v.8h-.8zM162.1 445.0h.8v.8h-.8zM158.5 459.9h.8v.8h-.8zM174.2 438.8h.8v.8h-.8zM156.9 454.8h.8v.8h-.8zM170.0 441.9h.8v.8h-.8zM166.8 445.6h.8v.8h-.8zM156.0 462.2h.8v.8h-.8zM164.2 445.9h.8v.8h-.8zM156.8 461.6h.8v.8h-.8zM156.4 458.3h.8v.8h-.8zM160.7 462.5h.8v.8h-.8zM166.5 442.3h.8v.8h-.8zM162.8 444.7h.8v.8h-.8zM168.5 445.5h.8v.8h-.8zM161.1 452.4h.8v.8h-.8zM156.2 459.9h.8v.8h-.8zM157.6 462.1h.8v.8h-.8zM163.7 448.6h.8v.8h-.8zM174.0 453.5h.8v.8h-.8zM174.5 446.9h.8v.8h-.8zM176.5 457.6h.8v.8h-.8zM173.9 455.8h.8v.8h-.8zM173.3 456.9h.8v.8h-.8zM172.7 448.8h.8v.8h-.8zM175.3 454.7h.8v.8h-.8zM175.0 456.4h.8v.8h-.8zM174.1 465.1h.8v.8h-.8zM176.3 450.5h.8v.8h-.8zM177.9 465.7h.8v.8h-.8zM172.5 449.4h.8v.8h-.8zM176.4 448.0h.8v.8h-.8zM173.5 451.8h.8v.8h-.8zM177.6 442.3h.8v.8h-.8zM171.8 446.0h.8v.8h-.8zM173.8 450.7h.8v.8h-.8zM175.0 463.5h.8v.8h-.8zM177.1 449.8h.8v.8h-.8zM178.9 460.1h.8v.8h-.8zM175.4 461.0h.8v.8h-.8zM174.4 463.8h.8v.8h-.8zM174.5 443.3h.8v.8h-.8zM177.6 447.4h.8v.8h-.8zM175.9 449.1h.8v.8h-.8zM180.7 465.7h.8v.8h-.8zM175.9 461.3h.8v.8h-.8zM181.2 459.3h.8v.8h-.8zM169.3 450.9h.8v.8h-.8zM176.0 460.4h.8v.8h-.8zM177.9 450.2h.8v.8h-.8zM173.8 453.6h.8v.8h-.8zM175.0 456.5h.8v.8h-.8zM176.9 457.5h.8v.8h-.8zM176.7 461.7h.8v.8h-.8zM172.8 457.5h.8v.8h-.8zM177.5 456.4h.8v.8h-.8zM181.2 466.1h.8v.8h-.8zM178.3 458.1h.8v.8h-.8zM174.6 445.8h.8v.8h-.8zM176.4 463.4h.8v.8h-.8zM177.0 458.2h.8v.8h-.8zM173.1 447.4h.8v.8h-.8zM172.7 445.0h.8v.8h-.8zM176.1 445.8h.8v.8h-.8zM174.2 447.5h.8v.8h-.8zM174.9 447.2h.8v.8h-.8zM171.7 443.2h.8v.8h-.8zM176.4 465.9h.8v.8h-.8zM174.6 449.5h.8v.8h-.8zM178.1 458.4h.8v.8h-.8zM172.9 441.2h.8v.8h-.8zM172.3 447.3h.8v.8h-.8zM176.0 460.7h.8v.8h-.8zM176.7 458.9h.8v.8h-.8zM177.1 447.1h.8v.8h-.8zM176.2 448.6h.8v.8h-.8zM178.6 448.5h.8v.8h-.8zM176.5 460.8h.8v.8h-.8zM173.6 458.6h.8v.8h-.8zM178.3 461.0h.8v.8h-.8zM176.8 455.7h.8v.8h-.8zM178.4 462.8h.8v.8h-.8zM178.1 452.6h.8v.8h-.8zM175.2 453.1h.8v.8h-.8zM174.8 460.0h.8v.8h-.8zM174.7 462.3h.8v.8h-.8zM171.9 466.4h.8v.8h-.8zM178.9 457.8h.8v.8h-.8zM174.0 462.2h.8v.8h-.8zM176.8 465.0h.8v.8h-.8zM174.1 463.0h.8v.8h-.8zM175.8 441.6h.8v.8h-.8zM175.5 451.2h.8v.8h-.8zM175.7 458.9h.8v.8h-.8zM176.2 447.2h.8v.8h-.8zM175.9 457.3h.8v.8h-.8zM175.2 446.5h.8v.8h-.8zM174.1 462.6h.8v.8h-.8zM177.6 463.5h.8v.8h-.8zM174.2 443.1h.8v.8h-.8zM178.5 463.0h.8v.8h-.8zM175.7 457.8h.8v.8h-.8zM170.8 454.3h.8v.8h-.8zM176.8 462.1h.8v.8h-.8zM173.0 458.9h.8v.8h-.8zM174.1 450.3h.8v.8h-.8zM180.3 462.8h.8v.8h-.8zM176.5 442.0h.8v.8h-.8zM175.6 445.3h.8v.8h-.8zM176.8 459.1h.8v.8h-.8zM179.0 464.7h.8v.8h-.8zM174.6 448.8h.8v.8h-.8zM174.5 450.9h.8v.8h-.8zM176.5 462.7h.8v.8h-.8zM171.9 455.3h.8v.8h-.8zM173.7 441.6h.8v.8h-.8zM175.3 456.0h.8v.8h-.8zM177.0 443.7h.8v.8h-.8zM174.6 449.3h.8v.8h-.8zM178.9 459.4h.8v.8h-.8zM176.8 445.9h.8v.8h-.8zM173.8 448.7h.8v.8h-.8zM177.9 446.8h.8v.8h-.8zM175.5 461.1h.8v.8h-.8zM176.1 463.6h.8v.8h-.8zM175.8 457.6h.8v.8h-.8zM173.8 440.2h.8v.8h-.8zM177.8 460.3h.8v.8h-.8zM176.2 459.7h.8v.8h-.8zM179.0 443.2h.8v.8h-.8zM172.8 447.1h.8v.8h-.8zM172.6 448.0h.8v.8h-.8zM179.6 469.5h.8v.8h-.8zM180.5 461.8h.8v.8h-.8zM179.6 454.6h.8v.8h-.8zM175.2 451.0h.8v.8h-.8zM179.3 460.7h.8v.8h-.8zM171.9 454.3h.8v.8h-.8zM171.8 446.2h.8v.8h-.8zM176.7 446.3h.8v.8h-.8zM178.8 457.1h.8v.8h-.8zM171.9 446.5h.8v.8h-.8zM176.2 442.2h.8v.8h-.8zM174.4 446.1h.8v.8h-.8zM177.7 450.7h.8v.8h-.8zM173.0 444.2h.8v.8h-.8zM174.4 441.0h.8v.8h-.8zM177.1 452.0h.8v.8h-.8zM173.8 457.5h.8v.8h-.8zM177.9 449.4h.8v.8h-.8zM175.9 444.8h.8v.8h-.8zM175.3 445.8h.8v.8h-.8zM175.3 448.7h.8v.8h-.8zM177.4 446.3h.8v.8h-.8zM173.9 445.3h.8v.8h-.8zM181.3 459.6h.8v.8h-.8zM175.9 442.8h.8v.8h-.8zM178.7 469.0h.8v.8h-.8zM182.3 462.9h.8v.8h-.8zM173.8 443.8h.8v.8h-.8zM174.8 462.0h.8v.8h-.8zM175.9 460.1h.8v.8h-.8zM174.8 454.5h.8v.8h-.8zM177.5 442.8h.8v.8h-.8zM174.9 461.4h.8v.8h-.8zM174.2 459.8h.8v.8h-.8zM176.1 447.0h.8v.8h-.8zM179.1 451.5h.8v.8h-.8zM176.8 449.8h.8v.8h-.8zM178.1 462.5h.8v.8h-.8zM174.3 452.9h.8v.8h-.8zM174.9 457.0h.8v.8h-.8zM175.3 451.3h.8v.8h-.8zM176.0 466.9h.8v.8h-.8zM174.6 452.2h.8v.8h-.8zM175.1 443.9h.8v.8h-.8zM170.9 446.0h.8v.8h-.8zM177.2 462.7h.8v.8h-.8zM174.2 454.4h.8v.8h-.8zM179.2 452.2h.8v.8h-.8zM176.5 463.9h.8v.8h-.8zM179.8 462.6h.8v.8h-.8zM174.4 448.1h.8v.8h-.8zM179.1 453.7h.8v.8h-.8zM174.6 448.6h.8v.8h-.8zM173.6 446.4h.8v.8h-.8zM174.6 450.1h.8v.8h-.8zM178.4 460.2h.8v.8h-.8zM176.4 445.9h.8v.8h-.8zM176.3 465.1h.8v.8h-.8zM175.6 461.7h.8v.8h-.8zM173.4 461.3h.8v.8h-.8zM174.2 451.7h.8v.8h-.8zM175.0 460.0h.8v.8h-.8zM175.8 456.9h.8v.8h-.8zM172.4 443.5h.8v.8h-.8zM177.5 461.3h.8v.8h-.8zM179.0 443.2h.8v.8h-.8zM172.8 445.3h.8v.8h-.8zM177.8 459.3h.8v.8h-.8zM174.7 458.9h.8v.8h-.8zM176.5 441.6h.8v.8h-.8zM175.0 456.4h.8v.8h-.8zM176.1 460.7h.8v.8h-.8zM173.5 451.3h.8v.8h-.8zM179.7 459.3h.8v.8h-.8zM175.9 457.3h.8v.8h-.8zM176.8 467.8h.8v.8h-.8zM177.7 469.0h.8v.8h-.8zM172.5 447.1h.8v.8h-.8zM176.9 441.9h.8v.8h-.8zM176.0 448.5h.8v.8h-.8zM178.0 461.5h.8v.8h-.8zM177.2 465.1h.8v.8h-.8zM177.1 452.6h.8v.8h-.8zM175.4 453.4h.8v.8h-.8zM176.5 444.4h.8v.8h-.8zM182.4 461.7h.8v.8h-.8zM179.7 464.2h.8v.8h-.8zM174.8 462.5h.8v.8h-.8zM174.6 453.7h.8v.8h-.8zM176.9 445.3h.8v.8h-.8zM173.0 456.9h.8v.8h-.8zM175.8 461.8h.8v.8h-.8zM174.5 463.2h.8v.8h-.8zM173.9 451.4h.8v.8h-.8zM179.5 449.8h.8v.8h-.8zM175.5 462.6h.8v.8h-.8zM175.3 443.9h.8v.8h-.8zM176.9 453.1h.8v.8h-.8zM172.0 455.0h.8v.8h-.8zM175.3 447.3h.8v.8h-.8zM175.9 452.8h.8v.8h-.8zM177.3 457.2h.8v.8h-.8zM179.2 460.2h.8v.8h-.8zM176.5 452.1h.8v.8h-.8zM172.6 446.9h.8v.8h-.8zM175.3 453.4h.8v.8h-.8zM173.3 445.5h.8v.8h-.8zM174.4 446.4h.8v.8h-.8zM174.2 464.1h.8v.8h-.8zM177.5 451.6h.8v.8h-.8zM176.5 463.4h.8v.8h-.8zM176.6 459.2h.8v.8h-.8zM174.5 451.7h.8v.8h-.8zM179.3 446.3h.8v.8h-.8zM174.4 466.6h.8v.8h-.8zM176.4 442.4h.8v.8h-.8zM177.7 461.0h.8v.8h-.8zM176.4 448.7h.8v.8h-.8zM172.0 448.4h.8v.8h-.8zM173.5 450.3h.8v.8h-.8zM178.2 444.2h.8v.8h-.8zM177.2 461.6h.8v.8h-.8zM173.7 456.7h.8v.8h-.8zM173.4 460.2h.8v.8h-.8zM175.3 456.8h.8v.8h-.8zM171.9 445.6h.8v.8h-.8zM172.6 450.2h.8v.8h-.8zM178.2 446.1h.8v.8h-.8zM173.5 449.3h.8v.8h-.8zM173.5 450.1h.8v.8h-.8zM175.6 451.7h.8v.8h-.8zM177.8 446.9h.8v.8h-.8zM177.6 445.4h.8v.8h-.8zM173.7 450.0h.8v.8h-.8zM176.0 457.1h.8v.8h-.8zM174.8 446.1h.8v.8h-.8zM175.9 464.3h.8v.8h-.8zM173.8 449.7h.8v.8h-.8zM175.8 462.3h.8v.8h-.8zM177.9 464.6h.8v.8h-.8zM173.7 445.1h.8v.8h-.8zM174.8 454.5h.8v.8h-.8zM174.5 444.7h.8v.8h-.8zM170.0 444.0h.8v.8h-.8zM174.0 453.2h.8v.8h-.8zM179.1 461.3h.8v.8h-.8zM175.4 459.8h.8v.8h-.8zM175.7 465.0h.8v.8h-.8zM176.5 456.4h.8v.8h-.8zM176.6 462.0h.8v.8h-.8zM176.2 455.2h.8v.8h-.8zM175.8 448.0h.8v.8h-.8zM178.5 442.2h.8v.8h-.8zM174.9 452.6h.8v.8h-.8zM176.7 464.7h.8v.8h-.8zM176.2 467.3h.8v.8h-.8zM176.6 458.5h.8v.8h-.8zM174.5 452.2h.8v.8h-.8zM176.4 451.6h.8v.8h-.8zM178.7 460.9h.8v.8h-.8zM174.0 455.4h.8v.8h-.8zM175.3 447.8h.8v.8h-.8zM172.8 452.0h.8v.8h-.8zM174.2 448.0h.8v.8h-.8zM170.7 447.3h.8v.8h-.8zM178.9 467.0h.8v.8h-.8zM176.9 444.9h.8v.8h-.8zM178.5 464.6h.8v.8h-.8zM174.0 454.7h.8v.8h-.8zM178.1 465.6h.8v.8h-.8zM176.3 460.7h.8v.8h-.8zM169.3 444.5h.8v.8h-.8zM175.8 455.5h.8v.8h-.8zM174.9 452.5h.8v.8h-.8zM176.7 453.4h.8v.8h-.8zM177.1 442.6h.8v.8h-.8zM177.3 444.3h.8v.8h-.8zM175.2 460.2h.8v.8h-.8zM179.6 452.7h.8v.8h-.8zM175.0 463.7h.8v.8h-.8zM173.8 450.3h.8v.8h-.8zM177.1 455.5h.8v.8h-.8zM179.3 462.4h.8v.8h-.8zM175.4 450.3h.8v.8h-.8zM173.8 447.9h.8v.8h-.8zM171.4 456.8h.8v.8h-.8zM176.7 456.1h.8v.8h-.8zM173.2 461.1h.8v.8h-.8zM172.7 456.1h.8v.8h-.8zM176.6 454.2h.8v.8h-.8zM174.8 451.5h.8v.8h-.8zM175.9 450.9h.8v.8h-.8zM173.9 449.5h.8v.8h-.8zM179.6 461.6h.8v.8h-.8zM177.3 440.3h.8v.8h-.8zM175.8 442.3h.8v.8h-.8zM174.1 444.9h.8v.8h-.8zM176.5 464.0h.8v.8h-.8zM175.9 452.0h.8v.8h-.8zM176.8 459.0h.8v.8h-.8zM173.7 445.6h.8v.8h-.8zM171.9 440.8h.8v.8h-.8zM176.3 447.0h.8v.8h-.8zM179.2 464.9h.8v.8h-.8zM175.6 455.4h.8v.8h-.8zM180.1 454.4h.8v.8h-.8zM174.0 450.8h.8v.8h-.8zM177.4 455.0h.8v.8h-.8zM174.3 450.8h.8v.8h-.8zM176.1 442.2h.8v.8h-.8zM175.4 444.8h.8v.8h-.8zM174.9 450.5h.8v.8h-.8zM175.8 453.5h.8v.8h-.8zM174.1 453.0h.8v.8h-.8zM171.8 453.8h.8v.8h-.8zM175.3 457.3h.8v.8h-.8zM175.6 470.2h.8v.8h-.8zM173.0 448.3h.8v.8h-.8zM176.1 452.4h.8v.8h-.8zM174.8 458.8h.8v.8h-.8zM178.2 446.2h.8v.8h-.8zM175.6 452.3h.8v.8h-.8zM174.8 451.2h.8v.8h-.8zM176.0 452.2h.8v.8h-.8zM176.7 457.3h.8v.8h-.8zM179.1 455.7h.8v.8h-.8zM174.8 444.9h.8v.8h-.8zM177.2 457.6h.8v.8h-.8zM174.3 452.9h.8v.8h-.8zM177.3 447.7h.8v.8h-.8zM174.2 457.2h.8v.8h-.8zM174.0 445.3h.8v.8h-.8zM174.4 460.7h.8v.8h-.8zM170.9 454.6h.8v.8h-.8zM181.0 453.2h.8v.8h-.8zM177.8 456.3h.8v.8h-.8zM175.2 456.1h.8v.8h-.8zM178.2 445.7h.8v.8h-.8zM176.1 464.3h.8v.8h-.8zM174.8 452.8h.8v.8h-.8zM175.0 445.6h.8v.8h-.8zM176.4 454.2h.8v.8h-.8zM180.2 465.5h.8v.8h-.8zM176.3 445.9h.8v.8h-.8zM174.3 442.3h.8v.8h-.8zM171.5 461.7h.8v.8h-.8zM175.0 446.1h.8v.8h-.8zM175.3 457.9h.8v.8h-.8zM174.7 465.8h.8v.8h-.8zM180.7 460.8h.8v.8h-.8zM182.5 449.5h.8v.8h-.8zM177.9 456.4h.8v.8h-.8zM177.0 444.5h.8v.8h-.8zM176.4 443.0h.8v.8h-.8zM176.9 459.2h.8v.8h-.8zM174.3 445.4h.8v.8h-.8zM178.4 451.1h.8v.8h-.8zM173.0 462.3h.8v.8h-.8zM175.0 442.7h.8v.8h-.8zM174.2 448.4h.8v.8h-.8zM173.2 445.1h.8v.8h-.8zM177.5 455.8h.8v.8h-.8zM179.6 458.8h.8v.8h-.8zM178.8 462.0h.8v.8h-.8zM176.6 452.8h.8v.8h-.8zM177.3 446.8h.8v.8h-.8zM175.2 449.4h.8v.8h-.8zM178.4 464.8h.8v.8h-.8zM174.9 447.2h.8v.8h-.8zM174.5 453.5h.8v.8h-.8zM177.9 442.7h.8v.8h-.8zM177.8 466.1h.8v.8h-.8zM178.1 459.2h.8v.8h-.8zM174.3 451.0h.8v.8h-.8zM176.4 462.9h.8v.8h-.8zM177.9 449.7h.8v.8h-.8zM175.9 460.8h.8v.8h-.8zM179.3 452.6h.8v.8h-.8zM171.2 459.1h.8v.8h-.8zM172.4 456.8h.8v.8h-.8zM174.9 448.3h.8v.8h-.8zM176.0 457.4h.8v.8h-.8zM175.9 458.5h.8v.8h-.8zM177.4 466.3h.8v.8h-.8zM174.4 448.5h.8v.8h-.8zM174.1 453.5h.8v.8h-.8zM175.0 457.2h.8v.8h-.8zM177.1 459.2h.8v.8h-.8zM175.0 449.2h.8v.8h-.8zM179.7 441.4h.8v.8h-.8zM174.4 448.9h.8v.8h-.8zM173.9 456.0h.8v.8h-.8zM173.0 448.1h.8v.8h-.8zM179.1 468.4h.8v.8h-.8zM175.1 451.0h.8v.8h-.8zM177.5 459.1h.8v.8h-.8zM178.2 446.9h.8v.8h-.8zM176.8 457.2h.8v.8h-.8zM173.8 443.7h.8v.8h-.8zM175.5 456.0h.8v.8h-.8zM176.5 454.0h.8v.8h-.8zM173.6 454.0h.8v.8h-.8zM175.4 450.4h.8v.8h-.8zM176.8 461.8h.8v.8h-.8zM175.0 451.8h.8v.8h-.8zM173.6 446.9h.8v.8h-.8zM177.1 461.0h.8v.8h-.8zM174.1 442.8h.8v.8h-.8zM174.4 450.4h.8v.8h-.8zM179.2 465.3h.8v.8h-.8zM176.7 441.7h.8v.8h-.8zM175.6 455.3h.8v.8h-.8zM172.5 443.8h.8v.8h-.8zM177.3 460.2h.8v.8h-.8zM174.9 461.4h.8v.8h-.8zM173.2 445.8h.8v.8h-.8zM180.4 461.6h.8v.8h-.8zM180.2 463.2h.8v.8h-.8zM179.0 461.7h.8v.8h-.8zM177.3 449.1h.8v.8h-.8zM175.2 445.7h.8v.8h-.8zM179.0 448.9h.8v.8h-.8zM175.1 462.6h.8v.8h-.8zM174.4 458.8h.8v.8h-.8zM177.2 450.4h.8v.8h-.8zM181.0 461.8h.8v.8h-.8zM177.5 452.2h.8v.8h-.8zM174.9 449.4h.8v.8h-.8zM172.0 450.3h.8v.8h-.8zM176.3 445.0h.8v.8h-.8zM179.7 460.7h.8v.8h-.8zM180.9 447.8h.8v.8h-.8zM173.3 459.8h.8v.8h-.8zM177.6 452.8h.8v.8h-.8zM174.6 441.2h.8v.8h-.8zM176.5 444.7h.8v.8h-.8zM171.2 443.8h.8v.8h-.8zM175.5 452.7h.8v.8h-.8zM176.1 444.9h.8v.8h-.8zM175.1 449.9h.8v.8h-.8zM176.2 446.6h.8v.8h-.8zM179.5 460.9h.8v.8h-.8zM176.1 455.6h.8v.8h-.8zM176.5 452.2h.8v.8h-.8zM176.2 446.2h.8v.8h-.8zM175.1 455.9h.8v.8h-.8zM175.2 467.2h.8v.8h-.8zM175.6 446.0h.8v.8h-.8zM174.1 459.0h.8v.8h-.8zM175.2 445.6h.8v.8h-.8zM172.5 448.4h.8v.8h-.8zM175.0 439.7h.8v.8h-.8zM179.1 459.4h.8v.8h-.8zM173.2 454.2h.8v.8h-.8zM174.8 467.1h.8v.8h-.8zM174.7 464.1h.8v.8h-.8zM174.6 447.8h.8v.8h-.8zM173.4 450.7h.8v.8h-.8zM177.8 462.4h.8v.8h-.8zM175.7 455.4h.8v.8h-.8zM173.3 447.8h.8v.8h-.8zM170.9 449.1h.8v.8h-.8zM176.5 447.0h.8v.8h-.8zM176.1 455.6h.8v.8h-.8zM175.0 452.8h.8v.8h-.8zM172.2 442.4h.8v.8h-.8zM177.9 460.4h.8v.8h-.8zM177.2 450.1h.8v.8h-.8zM174.5 447.3h.8v.8h-.8zM177.2 449.1h.8v.8h-.8zM180.7 446.3h.8v.8h-.8zM173.7 460.4h.8v.8h-.8zM176.8 450.7h.8v.8h-.8zM175.3 462.2h.8v.8h-.8zM173.4 458.6h.8v.8h-.8zM178.9 444.8h.8v.8h-.8zM171.7 446.1h.8v.8h-.8zM175.5 458.0h.8v.8h-.8zM174.8 460.0h.8v.8h-.8zM177.9 461.5h.8v.8h-.8zM177.0 458.3h.8v.8h-.8zM174.5 447.6h.8v.8h-.8zM173.3 451.0h.8v.8h-.8zM175.0 448.1h.8v.8h-.8zM171.8 469.0h.8v.8h-.8zM176.7 447.6h.8v.8h-.8zM174.5 444.0h.8v.8h-.8zM173.5 444.6h.8v.8h-.8zM172.3 441.8h.8v.8h-.8zM174.6 455.7h.8v.8h-.8zM175.8 452.9h.8v.8h-.8zM174.6 442.9h.8v.8h-.8zM180.1 464.5h.8v.8h-.8zM176.2 443.1h.8v.8h-.8zM174.9 447.2h.8v.8h-.8zM175.8 444.5h.8v.8h-.8zM176.6 443.6h.8v.8h-.8zM179.3 453.2h.8v.8h-.8zM175.0 452.5h.8v.8h-.8zM175.1 446.3h.8v.8h-.8zM171.8 448.2h.8v.8h-.8zM174.1 452.9h.8v.8h-.8zM174.9 451.1h.8v.8h-.8zM176.2 443.4h.8v.8h-.8zM175.4 447.7h.8v.8h-.8zM173.2 458.4h.8v.8h-.8zM174.8 458.2h.8v.8h-.8zM177.7 450.8h.8v.8h-.8zM176.0 448.4h.8v.8h-.8zM174.6 445.3h.8v.8h-.8zM172.7 449.0h.8v.8h-.8zM177.0 451.1h.8v.8h-.8zM172.3 462.3h.8v.8h-.8zM177.1 455.7h.8v.8h-.8zM176.3 447.2h.8v.8h-.8zM176.8 462.6h.8v.8h-.8zM175.4 457.1h.8v.8h-.8zM175.7 453.8h.8v.8h-.8zM173.2 453.5h.8v.8h-.8zM176.7 449.9h.8v.8h-.8zM173.2 458.0h.8v.8h-.8zM174.9 445.2h.8v.8h-.8zM173.5 441.9h.8v.8h-.8zM177.2 455.0h.8v.8h-.8zM175.2 445.2h.8v.8h-.8zM175.1 457.6h.8v.8h-.8zM177.7 465.5h.8v.8h-.8zM170.9 462.3h.8v.8h-.8zM180.5 462.2h.8v.8h-.8zM174.0 452.0h.8v.8h-.8zM175.4 453.7h.8v.8h-.8zM174.0 451.6h.8v.8h-.8zM173.2 461.7h.8v.8h-.8zM176.8 441.8h.8v.8h-.8zM178.3 466.2h.8v.8h-.8zM175.0 456.7h.8v.8h-.8zM172.5 444.0h.8v.8h-.8zM175.1 464.7h.8v.8h-.8zM175.8 452.6h.8v.8h-.8zM176.9 445.0h.8v.8h-.8zM176.6 453.7h.8v.8h-.8zM175.4 447.2h.8v.8h-.8zM177.1 462.8h.8v.8h-.8zM170.2 447.8h.8v.8h-.8zM179.7 461.8h.8v.8h-.8zM175.4 452.4h.8v.8h-.8zM175.3 442.4h.8v.8h-.8zM159.7 469.5h.8v.8h-.8zM164.8 464.1h.8v.8h-.8zM167.2 475.2h.8v.8h-.8zM163.5 474.0h.8v.8h-.8zM166.0 477.3h.8v.8h-.8zM154.2 460.8h.8v.8h-.8zM160.1 468.5h.8v.8h-.8zM161.6 472.2h.8v.8h-.8zM164.5 475.5h.8v.8h-.8zM163.9 467.2h.8v.8h-.8zM164.7 474.0h.8v.8h-.8zM158.8 476.0h.8v.8h-.8zM161.4 464.7h.8v.8h-.8zM160.7 476.0h.8v.8h-.8zM172.5 475.8h.8v.8h-.8zM167.8 464.5h.8v.8h-.8zM167.5 469.2h.8v.8h-.8zM156.2 476.0h.8v.8h-.8zM166.1 471.0h.8v.8h-.8zM162.9 472.3h.8v.8h-.8zM160.4 468.0h.8v.8h-.8zM156.1 472.8h.8v.8h-.8zM165.7 471.2h.8v.8h-.8zM167.9 478.7h.8v.8h-.8zM170.2 473.0h.8v.8h-.8zM170.5 468.2h.8v.8h-.8zM175.2 479.3h.8v.8h-.8zM164.6 466.8h.8v.8h-.8zM167.6 470.1h.8v.8h-.8zM166.3 476.0h.8v.8h-.8zM168.6 472.8h.8v.8h-.8zM168.5 479.0h.8v.8h-.8zM165.7 479.1h.8v.8h-.8zM164.6 471.8h.8v.8h-.8zM161.9 474.9h.8v.8h-.8zM163.5 466.9h.8v.8h-.8zM162.5 466.6h.8v.8h-.8zM159.6 477.7h.8v.8h-.8zM168.7 470.2h.8v.8h-.8zM167.8 469.5h.8v.8h-.8zM160.7 475.9h.8v.8h-.8zM163.1 471.6h.8v.8h-.8zM172.8 472.1h.8v.8h-.8zM167.1 466.2h.8v.8h-.8zM162.6 469.8h.8v.8h-.8zM163.8 473.6h.8v.8h-.8zM164.4 476.8h.8v.8h-.8zM167.3 474.9h.8v.8h-.8zM166.3 472.8h.8v.8h-.8zM166.7 468.2h.8v.8h-.8zM166.6 469.4h.8v.8h-.8zM168.8 475.4h.8v.8h-.8zM162.8 468.1h.8v.8h-.8zM162.7 470.5h.8v.8h-.8zM160.8 471.4h.8v.8h-.8zM161.0 472.7h.8v.8h-.8zM163.0 471.4h.8v.8h-.8zM167.5 476.0h.8v.8h-.8zM166.5 472.9h.8v.8h-.8zM167.2 476.7h.8v.8h-.8zM159.0 473.7h.8v.8h-.8zM164.4 463.9h.8v.8h-.8zM157.4 468.7h.8v.8h-.8zM162.5 471.0h.8v.8h-.8zM159.7 466.0h.8v.8h-.8zM161.7 464.7h.8v.8h-.8zM155.8 468.4h.8v.8h-.8zM157.3 476.3h.8v.8h-.8zM169.0 472.8h.8v.8h-.8zM168.3 476.7h.8v.8h-.8zM160.0 466.0h.8v.8h-.8zM168.1 476.0h.8v.8h-.8zM161.6 475.0h.8v.8h-.8zM165.0 470.8h.8v.8h-.8zM158.1 475.3h.8v.8h-.8zM171.3 469.7h.8v.8h-.8zM162.9 473.4h.8v.8h-.8zM161.9 478.5h.8v.8h-.8zM161.4 475.5h.8v.8h-.8zM166.9 470.6h.8v.8h-.8zM168.8 479.4h.8v.8h-.8zM163.2 474.4h.8v.8h-.8zM157.3 473.4h.8v.8h-.8zM161.4 477.0h.8v.8h-.8zM160.6 469.3h.8v.8h-.8zM162.9 473.4h.8v.8h-.8zM165.8 478.1h.8v.8h-.8zM155.2 475.4h.8v.8h-.8zM157.9 474.9h.8v.8h-.8zM156.1 465.5h.8v.8h-.8zM165.9 477.2h.8v.8h-.8zM155.2 478.5h.8v.8h-.8zM164.5 474.0h.8v.8h-.8zM171.7 478.3h.8v.8h-.8zM164.9 476.0h.8v.8h-.8zM160.3 477.7h.8v.8h-.8zM166.0 475.0h.8v.8h-.8zM163.8 467.9h.8v.8h-.8zM157.0 474.6h.8v.8h-.8zM164.9 466.2h.8v.8h-.8zM164.9 476.4h.8v.8h-.8zM164.7 463.3h.8v.8h-.8zM160.7 471.8h.8v.8h-.8zM162.6 473.1h.8v.8h-.8zM161.8 469.4h.8v.8h-.8zM156.2 479.1h.8v.8h-.8zM165.9 470.7h.8v.8h-.8zM166.9 477.5h.8v.8h-.8zM166.0 473.4h.8v.8h-.8zM157.1 465.1h.8v.8h-.8zM166.7 475.8h.8v.8h-.8zM164.6 465.9h.8v.8h-.8zM163.3 468.6h.8v.8h-.8zM165.0 468.8h.8v.8h-.8zM163.8 476.0h.8v.8h-.8zM165.4 472.8h.8v.8h-.8zM157.1 473.2h.8v.8h-.8zM168.5 468.3h.8v.8h-.8zM168.2 478.8h.8v.8h-.8zM165.4 470.0h.8v.8h-.8zM161.4 477.2h.8v.8h-.8zM164.2 476.8h.8v.8h-.8zM167.9 466.4h.8v.8h-.8zM167.9 476.1h.8v.8h-.8zM166.7 470.2h.8v.8h-.8zM159.8 478.6h.8v.8h-.8zM159.3 473.4h.8v.8h-.8zM167.7 476.1h.8v.8h-.8zM154.2 474.4h.8v.8h-.8zM171.4 466.5h.8v.8h-.8zM160.2 469.4h.8v.8h-.8zM158.9 473.2h.8v.8h-.8zM157.6 469.1h.8v.8h-.8zM165.3 474.5h.8v.8h-.8zM157.4 476.0h.8v.8h-.8zM170.9 471.7h.8v.8h-.8zM159.9 474.3h.8v.8h-.8zM162.0 479.1h.8v.8h-.8zM158.3 467.5h.8v.8h-.8zM161.4 472.4h.8v.8h-.8zM167.3 473.2h.8v.8h-.8zM176.5 469.8h.8v.8h-.8zM161.7 475.6h.8v.8h-.8zM169.2 477.5h.8v.8h-.8zM170.0 479.0h.8v.8h-.8zM170.0 479.2h.8v.8h-.8zM171.6 469.5h.8v.8h-.8zM166.5 464.2h.8v.8h-.8zM154.0 476.1h.8v.8h-.8zM163.0 474.1h.8v.8h-.8zM168.5 467.9h.8v.8h-.8zM160.5 471.4h.8v.8h-.8zM165.1 475.9h.8v.8h-.8zM171.2 467.3h.8v.8h-.8zM155.4 477.0h.8v.8h-.8zM162.1 474.6h.8v.8h-.8zM159.3 471.8h.8v.8h-.8zM163.8 469.3h.8v.8h-.8zM161.1 468.5h.8v.8h-.8zM167.1 467.1h.8v.8h-.8zM164.2 474.2h.8v.8h-.8zM161.6 467.3h.8v.8h-.8zM163.4 468.8h.8v.8h-.8zM158.2 474.0h.8v.8h-.8zM160.7 469.1h.8v.8h-.8zM166.4 472.2h.8v.8h-.8zM165.4 469.6h.8v.8h-.8zM160.7 470.7h.8v.8h-.8zM167.9 462.3h.8v.8h-.8zM164.0 467.2h.8v.8h-.8zM168.5 468.8h.8v.8h-.8zM166.1 466.7h.8v.8h-.8zM156.4 473.2h.8v.8h-.8zM159.8 475.5h.8v.8h-.8zM159.4 471.0h.8v.8h-.8zM163.9 472.4h.8v.8h-.8zM163.3 476.7h.8v.8h-.8zM171.6 476.2h.8v.8h-.8zM161.3 469.9h.8v.8h-.8zM160.9 470.8h.8v.8h-.8zM163.7 477.2h.8v.8h-.8zM174.9 462.2h.8v.8h-.8zM165.9 470.7h.8v.8h-.8zM156.4 477.4h.8v.8h-.8zM165.9 478.8h.8v.8h-.8zM174.0 471.1h.8v.8h-.8zM166.8 473.3h.8v.8h-.8zM157.5 469.1h.8v.8h-.8zM168.0 473.8h.8v.8h-.8zM164.6 470.3h.8v.8h-.8zM169.8 468.3h.8v.8h-.8zM158.4 472.5h.8v.8h-.8zM168.7 471.7h.8v.8h-.8zM163.5 471.0h.8v.8h-.8zM167.7 465.7h.8v.8h-.8zM162.2 470.6h.8v.8h-.8zM172.6 467.5h.8v.8h-.8zM166.8 477.5h.8v.8h-.8zM161.7 476.6h.8v.8h-.8zM165.8 472.6h.8v.8h-.8zM164.3 468.8h.8v.8h-.8zM164.3 470.8h.8v.8h-.8zM164.0 475.2h.8v.8h-.8zM164.8 473.1h.8v.8h-.8zM160.9 469.0h.8v.8h-.8zM169.8 470.4h.8v.8h-.8zM157.9 463.2h.8v.8h-.8zM156.5 470.5h.8v.8h-.8zM174.3 468.3h.8v.8h-.8zM158.3 472.9h.8v.8h-.8zM162.4 473.7h.8v.8h-.8zM162.7 468.2h.8v.8h-.8zM161.5 475.8h.8v.8h-.8zM168.9 466.2h.8v.8h-.8zM158.7 467.5h.8v.8h-.8zM169.1 473.6h.8v.8h-.8zM164.9 466.8h.8v.8h-.8zM162.8 473.8h.8v.8h-.8zM166.1 474.5h.8v.8h-.8zM165.8 474.5h.8v.8h-.8zM161.7 463.4h.8v.8h-.8zM163.1 473.5h.8v.8h-.8zM161.6 464.5h.8v.8h-.8zM165.3 476.4h.8v.8h-.8zM165.9 471.3h.8v.8h-.8zM170.3 469.5h.8v.8h-.8zM166.8 467.4h.8v.8h-.8zM159.1 476.7h.8v.8h-.8zM159.3 460.9h.8v.8h-.8zM154.9 463.6h.8v.8h-.8zM159.0 474.4h.8v.8h-.8zM157.7 471.2h.8v.8h-.8zM164.8 475.8h.8v.8h-.8zM171.6 465.3h.8v.8h-.8zM164.6 477.6h.8v.8h-.8zM164.4 479.2h.8v.8h-.8zM156.2 470.3h.8v.8h-.8zM165.3 477.2h.8v.8h-.8zM166.6 473.9h.8v.8h-.8zM162.6 471.9h.8v.8h-.8zM163.5 472.5h.8v.8h-.8zM165.8 474.6h.8v.8h-.8zM157.7 474.1h.8v.8h-.8zM168.8 471.8h.8v.8h-.8zM162.8 474.7h.8v.8h-.8zM167.1 466.8h.8v.8h-.8zM162.8 469.6h.8v.8h-.8zM171.5 464.8h.8v.8h-.8zM164.5 469.6h.8v.8h-.8zM167.1 478.4h.8v.8h-.8zM169.1 470.4h.8v.8h-.8zM162.4 468.9h.8v.8h-.8zM169.1 463.7h.8v.8h-.8zM161.8 468.4h.8v.8h-.8zM167.2 471.3h.8v.8h-.8zM160.1 479.6h.8v.8h-.8zM164.5 476.9h.8v.8h-.8zM160.1 469.6h.8v.8h-.8zM160.5 466.3h.8v.8h-.8zM160.7 473.4h.8v.8h-.8zM165.7 479.0h.8v.8h-.8zM165.9 469.2h.8v.8h-.8zM165.5 466.9h.8v.8h-.8zM171.4 465.3h.8v.8h-.8zM158.2 476.3h.8v.8h-.8zM165.1 476.4h.8v.8h-.8zM156.9 478.9h.8v.8h-.8zM169.4 478.3h.8v.8h-.8zM167.9 468.1h.8v.8h-.8zM164.2 474.1h.8v.8h-.8zM164.9 477.7h.8v.8h-.8zM162.0 475.7h.8v.8h-.8zM160.2 466.9h.8v.8h-.8zM169.0 477.6h.8v.8h-.8zM168.3 461.2h.8v.8h-.8zM155.5 464.4h.8v.8h-.8zM161.0 469.5h.8v.8h-.8zM164.0 468.2h.8v.8h-.8zM161.9 468.6h.8v.8h-.8zM162.4 472.2h.8v.8h-.8zM163.2 468.2h.8v.8h-.8zM166.5 472.4h.8v.8h-.8zM161.4 474.1h.8v.8h-.8zM165.3 473.3h.8v.8h-.8zM157.4 473.2h.8v.8h-.8zM161.6 471.8h.8v.8h-.8zM158.2 472.7h.8v.8h-.8zM155.6 467.8h.8v.8h-.8zM164.7 471.2h.8v.8h-.8zM161.3 475.1h.8v.8h-.8zM154.5 473.5h.8v.8h-.8zM162.2 478.8h.8v.8h-.8zM162.4 475.3h.8v.8h-.8zM165.2 472.3h.8v.8h-.8zM158.7 465.7h.8v.8h-.8zM166.9 470.1h.8v.8h-.8zM168.8 467.8h.8v.8h-.8zM171.2 472.1h.8v.8h-.8zM166.1 466.4h.8v.8h-.8zM167.2 469.5h.8v.8h-.8zM164.7 467.2h.8v.8h-.8zM156.2 474.8h.8v.8h-.8zM160.8 473.2h.8v.8h-.8zM159.3 466.1h.8v.8h-.8zM162.6 467.6h.8v.8h-.8zM163.5 473.6h.8v.8h-.8zM168.4 473.5h.8v.8h-.8zM165.7 476.6h.8v.8h-.8zM162.6 474.3h.8v.8h-.8zM159.6 468.2h.8v.8h-.8zM162.6 472.8h.8v.8h-.8zM164.2 468.9h.8v.8h-.8zM165.0 473.2h.8v.8h-.8zM155.2 469.3h.8v.8h-.8zM156.9 469.3h.8v.8h-.8zM163.6 473.6h.8v.8h-.8zM158.3 471.7h.8v.8h-.8zM172.6 468.7h.8v.8h-.8zM164.8 468.0h.8v.8h-.8zM169.1 466.0h.8v.8h-.8zM162.9 470.0h.8v.8h-.8zM164.6 474.2h.8v.8h-.8zM165.7 474.4h.8v.8h-.8zM161.4 471.1h.8v.8h-.8zM161.9 477.3h.8v.8h-.8zM165.6 464.6h.8v.8h-.8zM167.6 476.8h.8v.8h-.8zM169.3 471.8h.8v.8h-.8zM172.1 467.7h.8v.8h-.8zM163.3 470.1h.8v.8h-.8zM156.7 474.2h.8v.8h-.8zM162.1 469.3h.8v.8h-.8zM164.0 475.8h.8v.8h-.8zM160.1 471.9h.8v.8h-.8zM161.2 474.2h.8v.8h-.8zM165.3 474.4h.8v.8h-.8zM165.9 472.1h.8v.8h-.8zM162.3 474.6h.8v.8h-.8zM168.3 467.3h.8v.8h-.8zM161.0 470.1h.8v.8h-.8zM160.1 473.1h.8v.8h-.8zM165.7 471.2h.8v.8h-.8zM159.4 470.8h.8v.8h-.8zM160.2 469.9h.8v.8h-.8zM168.6 472.4h.8v.8h-.8zM160.7 473.8h.8v.8h-.8zM174.1 475.3h.8v.8h-.8zM172.4 473.5h.8v.8h-.8zM161.0 475.9h.8v.8h-.8zM160.6 472.3h.8v.8h-.8zM159.5 476.2h.8v.8h-.8zM173.4 477.9h.8v.8h-.8zM165.8 471.9h.8v.8h-.8zM164.6 473.9h.8v.8h-.8zM167.9 471.4h.8v.8h-.8zM154.7 477.0h.8v.8h-.8zM158.8 470.7h.8v.8h-.8zM164.3 468.5h.8v.8h-.8zM169.5 474.7h.8v.8h-.8zM158.3 479.6h.8v.8h-.8zM163.9 474.5h.8v.8h-.8zM163.0 478.6h.8v.8h-.8zM160.7 466.1h.8v.8h-.8zM160.8 475.8h.8v.8h-.8zM161.8 475.4h.8v.8h-.8zM167.7 465.5h.8v.8h-.8zM167.1 468.7h.8v.8h-.8zM155.3 471.4h.8v.8h-.8zM165.9 471.5h.8v.8h-.8zM167.6 469.7h.8v.8h-.8zM163.2 464.7h.8v.8h-.8zM160.6 475.2h.8v.8h-.8zM159.8 470.1h.8v.8h-.8zM174.1 475.5h.8v.8h-.8zM169.5 474.2h.8v.8h-.8zM158.1 463.9h.8v.8h-.8zM155.9 475.2h.8v.8h-.8zM165.4 474.5h.8v.8h-.8zM154.5 475.8h.8v.8h-.8zM160.5 472.1h.8v.8h-.8zM162.6 477.4h.8v.8h-.8zM157.8 468.7h.8v.8h-.8zM168.3 473.2h.8v.8h-.8zM165.0 470.1h.8v.8h-.8zM166.3 472.6h.8v.8h-.8zM164.2 465.6h.8v.8h-.8zM163.7 476.1h.8v.8h-.8zM164.3 468.3h.8v.8h-.8zM168.2 469.9h.8v.8h-.8zM166.9 475.4h.8v.8h-.8zM158.4 470.6h.8v.8h-.8zM163.9 474.9h.8v.8h-.8zM166.2 472.5h.8v.8h-.8zM168.8 472.7h.8v.8h-.8zM166.3 469.5h.8v.8h-.8zM161.1 470.9h.8v.8h-.8zM158.1 475.3h.8v.8h-.8zM154.8 470.0h.8v.8h-.8zM165.3 467.7h.8v.8h-.8zM156.8 468.8h.8v.8h-.8zM166.1 469.4h.8v.8h-.8zM159.6 473.2h.8v.8h-.8zM160.6 470.7h.8v.8h-.8zM161.0 468.7h.8v.8h-.8zM155.7 472.6h.8v.8h-.8zM167.1 467.6h.8v.8h-.8zM159.5 468.3h.8v.8h-.8zM164.2 471.6h.8v.8h-.8zM168.1 469.4h.8v.8h-.8zM153.9 472.0h.8v.8h-.8zM167.5 470.8h.8v.8h-.8zM168.3 470.6h.8v.8h-.8zM166.0 474.5h.8v.8h-.8zM158.4 466.2h.8v.8h-.8zM166.2 464.6h.8v.8h-.8zM165.3 475.9h.8v.8h-.8zM157.4 473.3h.8v.8h-.8zM160.1 465.6h.8v.8h-.8zM163.4 467.1h.8v.8h-.8zM162.4 476.3h.8v.8h-.8zM157.8 473.7h.8v.8h-.8zM169.7 473.8h.8v.8h-.8zM156.3 470.5h.8v.8h-.8zM156.0 478.7h.8v.8h-.8zM162.1 471.6h.8v.8h-.8zM156.7 472.8h.8v.8h-.8zM160.3 467.8h.8v.8h-.8zM169.5 475.9h.8v.8h-.8zM167.6 472.5h.8v.8h-.8zM162.6 476.4h.8v.8h-.8zM168.5 472.5h.8v.8h-.8zM171.1 468.5h.8v.8h-.8zM162.0 476.7h.8v.8h-.8zM161.1 471.4h.8v.8h-.8zM168.0 476.9h.8v.8h-.8zM162.5 470.0h.8v.8h-.8zM161.6 474.9h.8v.8h-.8zM157.3 472.7h.8v.8h-.8zM172.1 475.3h.8v.8h-.8zM166.8 475.8h.8v.8h-.8zM161.9 471.1h.8v.8h-.8zM162.9 465.5h.8v.8h-.8zM167.9 473.7h.8v.8h-.8zM165.8 477.2h.8v.8h-.8zM158.8 470.2h.8v.8h-.8zM168.5 477.1h.8v.8h-.8zM160.7 479.5h.8v.8h-.8zM158.1 470.7h.8v.8h-.8zM162.3 468.0h.8v.8h-.8zM183.5 471.9h.8v.8h-.8zM182.6 470.9h.8v.8h-.8zM178.6 473.9h.8v.8h-.8zM176.4 473.9h.8v.8h-.8zM180.1 471.8h.8v.8h-.8zM169.5 469.8h.8v.8h-.8zM183.5 475.6h.8v.8h-.8zM177.7 473.0h.8v.8h-.8zM179.2 474.1h.8v.8h-.8zM184.8 475.4h.8v.8h-.8zM176.2 474.6h.8v.8h-.8zM179.2 474.6h.8v.8h-.8zM177.7 475.2h.8v.8h-.8zM177.5 473.8h.8v.8h-.8zM184.2 474.9h.8v.8h-.8zM176.4 470.6h.8v.8h-.8zM176.6 471.4h.8v.8h-.8zM179.2 476.4h.8v.8h-.8zM176.1 479.3h.8v.8h-.8zM172.0 477.7h.8v.8h-.8zM178.8 462.9h.8v.8h-.8zM175.3 471.2h.8v.8h-.8zM180.8 469.2h.8v.8h-.8zM185.6 468.1h.8v.8h-.8zM179.5 463.6h.8v.8h-.8zM175.6 466.7h.8v.8h-.8zM177.0 477.6h.8v.8h-.8zM182.9 478.3h.8v.8h-.8zM176.6 474.2h.8v.8h-.8zM179.1 476.6h.8v.8h-.8zM180.1 475.0h.8v.8h-.8zM176.3 475.0h.8v.8h-.8zM182.7 472.7h.8v.8h-.8zM183.9 469.4h.8v.8h-.8zM174.6 469.1h.8v.8h-.8zM178.8 467.3h.8v.8h-.8zM180.5 471.0h.8v.8h-.8zM176.2 475.0h.8v.8h-.8zM177.4 473.3h.8v.8h-.8zM180.3 455.2h.8v.8h-.8zM178.4 464.7h.8v.8h-.8zM178.3 471.7h.8v.8h-.8zM176.6 465.6h.8v.8h-.8zM176.9 473.3h.8v.8h-.8zM184.5 468.0h.8v.8h-.8zM179.3 466.3h.8v.8h-.8zM179.9 478.8h.8v.8h-.8zM170.9 470.8h.8v.8h-.8zM176.9 472.7h.8v.8h-.8zM176.3 472.6h.8v.8h-.8zM179.1 477.5h.8v.8h-.8zM177.8 468.7h.8v.8h-.8zM178.6 478.3h.8v.8h-.8zM179.8 473.1h.8v.8h-.8zM182.0 471.8h.8v.8h-.8zM176.8 472.2h.8v.8h-.8zM177.9 474.2h.8v.8h-.8zM180.8 472.2h.8v.8h-.8zM177.2 473.8h.8v.8h-.8zM175.8 471.1h.8v.8h-.8zM178.0 464.1h.8v.8h-.8zM175.1 463.5h.8v.8h-.8zM174.1 471.2h.8v.8h-.8zM172.5 474.3h.8v.8h-.8zM177.9 479.1h.8v.8h-.8zM180.2 465.9h.8v.8h-.8zM179.6 476.0h.8v.8h-.8zM180.4 474.8h.8v.8h-.8zM182.3 478.3h.8v.8h-.8zM178.5 475.6h.8v.8h-.8zM177.5 457.8h.8v.8h-.8zM174.8 473.8h.8v.8h-.8zM178.0 466.4h.8v.8h-.8zM181.9 467.5h.8v.8h-.8zM173.8 475.8h.8v.8h-.8zM178.7 467.4h.8v.8h-.8zM182.4 471.6h.8v.8h-.8zM175.2 469.5h.8v.8h-.8zM178.2 471.8h.8v.8h-.8zM182.9 463.2h.8v.8h-.8zM178.4 466.7h.8v.8h-.8zM178.5 467.8h.8v.8h-.8zM179.7 471.3h.8v.8h-.8zM175.8 464.5h.8v.8h-.8zM178.2 474.1h.8v.8h-.8zM176.0 469.9h.8v.8h-.8zM178.5 477.0h.8v.8h-.8zM170.9 470.0h.8v.8h-.8zM168.4 469.9h.8v.8h-.8zM175.8 476.9h.8v.8h-.8zM179.6 474.8h.8v.8h-.8zM175.4 460.8h.8v.8h-.8zM186.4 472.3h.8v.8h-.8zM177.5 468.5h.8v.8h-.8zM177.7 468.7h.8v.8h-.8zM178.5 472.0h.8v.8h-.8zM177.0 475.6h.8v.8h-.8zM178.3 474.6h.8v.8h-.8zM180.3 469.9h.8v.8h-.8zM181.5 469.0h.8v.8h-.8zM178.6 473.3h.8v.8h-.8zM178.9 476.5h.8v.8h-.8zM185.4 467.8h.8v.8h-.8zM173.9 473.9h.8v.8h-.8zM174.2 468.2h.8v.8h-.8zM184.4 477.1h.8v.8h-.8zM178.4 468.0h.8v.8h-.8zM184.2 475.2h.8v.8h-.8zM176.4 471.3h.8v.8h-.8zM178.7 469.5h.8v.8h-.8zM181.0 466.8h.8v.8h-.8zM173.3 475.0h.8v.8h-.8zM181.2 466.8h.8v.8h-.8zM177.0 473.1h.8v.8h-.8zM178.7 469.8h.8v.8h-.8zM176.9 475.5h.8v.8h-.8zM179.6 469.6h.8v.8h-.8zM178.9 474.7h.8v.8h-.8zM185.6 467.2h.8v.8h-.8zM181.7 466.4h.8v.8h-.8zM175.8 478.3h.8v.8h-.8zM175.8 470.1h.8v.8h-.8zM177.0 477.1h.8v.8h-.8zM183.1 464.0h.8v.8h-.8zM180.2 475.4h.8v.8h-.8zM173.0 478.3h.8v.8h-.8zM175.8 469.8h.8v.8h-.8zM175.6 478.6h.8v.8h-.8zM174.0 463.6h.8v.8h-.8zM181.0 476.6h.8v.8h-.8zM175.0 478.1h.8v.8h-.8zM171.4 461.4h.8v.8h-.8zM183.2 472.2h.8v.8h-.8zM181.2 467.4h.8v.8h-.8zM180.3 476.0h.8v.8h-.8zM181.2 473.2h.8v.8h-.8zM178.6 477.9h.8v.8h-.8zM175.2 472.9h.8v.8h-.8zM178.7 464.5h.8v.8h-.8zM180.6 475.8h.8v.8h-.8zM179.5 463.5h.8v.8h-.8zM175.3 473.9h.8v.8h-.8zM179.4 475.6h.8v.8h-.8zM178.4 473.8h.8v.8h-.8zM181.3 467.7h.8v.8h-.8zM179.8 472.5h.8v.8h-.8zM183.2 479.5h.8v.8h-.8zM178.4 468.5h.8v.8h-.8zM179.8 478.8h.8v.8h-.8zM178.3 471.1h.8v.8h-.8zM179.5 473.4h.8v.8h-.8zM186.1 477.7h.8v.8h-.8zM183.7 475.4h.8v.8h-.8zM176.5 469.7h.8v.8h-.8zM183.8 475.7h.8v.8h-.8zM174.5 471.6h.8v.8h-.8zM177.5 467.1h.8v.8h-.8zM180.9 473.1h.8v.8h-.8zM178.1 475.5h.8v.8h-.8zM174.6 476.4h.8v.8h-.8zM173.9 470.3h.8v.8h-.8zM175.2 472.7h.8v.8h-.8zM174.5 470.7h.8v.8h-.8zM179.2 469.2h.8v.8h-.8zM178.6 475.0h.8v.8h-.8zM178.8 474.5h.8v.8h-.8zM176.1 474.6h.8v.8h-.8zM177.3 472.3h.8v.8h-.8zM182.3 477.6h.8v.8h-.8zM177.4 474.7h.8v.8h-.8zM179.3 477.0h.8v.8h-.8zM175.5 468.2h.8v.8h-.8zM171.6 470.3h.8v.8h-.8zM178.7 473.2h.8v.8h-.8zM180.2 470.9h.8v.8h-.8zM177.0 474.6h.8v.8h-.8zM177.8 471.6h.8v.8h-.8zM173.2 471.4h.8v.8h-.8zM181.8 475.6h.8v.8h-.8zM179.5 466.3h.8v.8h-.8zM178.8 469.8h.8v.8h-.8zM177.8 476.3h.8v.8h-.8zM184.6 476.9h.8v.8h-.8zM182.2 466.0h.8v.8h-.8zM185.1 474.6h.8v.8h-.8zM177.0 462.4h.8v.8h-.8zM174.9 470.3h.8v.8h-.8zM176.5 466.5h.8v.8h-.8zM181.7 475.6h.8v.8h-.8zM174.2 469.4h.8v.8h-.8zM179.4 466.7h.8v.8h-.8zM180.0 478.7h.8v.8h-.8zM174.7 471.0h.8v.8h-.8zM183.4 476.4h.8v.8h-.8zM177.1 477.0h.8v.8h-.8zM176.2 471.0h.8v.8h-.8zM177.6 469.5h.8v.8h-.8zM174.2 460.1h.8v.8h-.8zM171.7 466.3h.8v.8h-.8zM176.0 470.5h.8v.8h-.8zM180.3 464.3h.8v.8h-.8zM176.3 470.0h.8v.8h-.8zM178.9 475.2h.8v.8h-.8zM175.9 474.9h.8v.8h-.8zM181.5 474.1h.8v.8h-.8zM175.9 469.2h.8v.8h-.8zM178.7 470.7h.8v.8h-.8zM180.9 475.3h.8v.8h-.8zM183.7 465.8h.8v.8h-.8zM173.1 476.0h.8v.8h-.8zM175.8 467.6h.8v.8h-.8zM179.2 473.8h.8v.8h-.8zM176.5 479.4h.8v.8h-.8zM175.9 469.0h.8v.8h-.8zM178.5 472.5h.8v.8h-.8zM181.6 474.6h.8v.8h-.8zM180.8 468.9h.8v.8h-.8zM180.1 472.7h.8v.8h-.8zM181.8 466.9h.8v.8h-.8zM178.8 460.9h.8v.8h-.8zM178.5 465.5h.8v.8h-.8zM180.8 467.9h.8v.8h-.8zM171.8 469.4h.8v.8h-.8zM170.3 469.3h.8v.8h-.8zM173.7 476.2h.8v.8h-.8zM174.8 463.7h.8v.8h-.8zM179.8 471.8h.8v.8h-.8zM177.1 468.1h.8v.8h-.8zM173.9 466.7h.8v.8h-.8zM172.8 471.4h.8v.8h-.8zM175.7 475.6h.8v.8h-.8zM177.6 475.6h.8v.8h-.8zM171.4 469.4h.8v.8h-.8zM181.7 466.3h.8v.8h-.8zM178.8 471.2h.8v.8h-.8zM177.9 469.0h.8v.8h-.8zM179.6 461.7h.8v.8h-.8zM171.3 473.5h.8v.8h-.8zM184.0 474.9h.8v.8h-.8zM178.5 475.6h.8v.8h-.8zM172.3 470.3h.8v.8h-.8zM181.8 470.5h.8v.8h-.8zM182.5 467.7h.8v.8h-.8zM177.2 478.2h.8v.8h-.8zM179.7 469.2h.8v.8h-.8zM176.0 468.0h.8v.8h-.8zM177.2 462.1h.8v.8h-.8zM181.7 475.3h.8v.8h-.8zM172.3 468.3h.8v.8h-.8zM178.9 466.0h.8v.8h-.8zM176.8 468.1h.8v.8h-.8zM178.4 472.7h.8v.8h-.8zM181.1 472.3h.8v.8h-.8zM176.5 463.1h.8v.8h-.8zM178.8 470.3h.8v.8h-.8zM181.1 476.3h.8v.8h-.8zM180.0 472.1h.8v.8h-.8zM177.3 463.5h.8v.8h-.8zM178.8 474.9h.8v.8h-.8zM182.5 471.7h.8v.8h-.8zM180.4 470.6h.8v.8h-.8zM175.3 472.0h.8v.8h-.8zM178.4 473.6h.8v.8h-.8zM176.1 464.9h.8v.8h-.8zM178.4 476.2h.8v.8h-.8zM178.3 479.6h.8v.8h-.8zM178.7 462.8h.8v.8h-.8zM180.0 471.9h.8v.8h-.8zM175.1 470.1h.8v.8h-.8zM178.6 470.2h.8v.8h-.8zM181.8 473.3h.8v.8h-.8zM177.3 467.5h.8v.8h-.8zM180.8 466.6h.8v.8h-.8zM179.2 479.6h.8v.8h-.8zM178.8 471.7h.8v.8h-.8zM177.2 472.4h.8v.8h-.8zM174.7 473.7h.8v.8h-.8zM180.1 475.8h.8v.8h-.8zM178.2 478.0h.8v.8h-.8zM182.0 471.9h.8v.8h-.8zM183.6 470.9h.8v.8h-.8zM184.0 466.7h.8v.8h-.8zM174.0 471.9h.8v.8h-.8zM179.0 473.1h.8v.8h-.8zM178.7 467.6h.8v.8h-.8zM181.3 470.0h.8v.8h-.8zM177.7 468.2h.8v.8h-.8zM177.3 461.3h.8v.8h-.8zM168.9 476.5h.8v.8h-.8zM179.3 460.8h.8v.8h-.8zM171.0 467.0h.8v.8h-.8zM180.0 467.7h.8v.8h-.8zM173.6 476.5h.8v.8h-.8zM179.5 470.2h.8v.8h-.8zM181.7 471.5h.8v.8h-.8zM178.5 468.6h.8v.8h-.8zM177.8 461.9h.8v.8h-.8zM179.9 473.5h.8v.8h-.8zM182.1 477.4h.8v.8h-.8zM184.3 470.1h.8v.8h-.8zM178.0 475.7h.8v.8h-.8zM171.7 465.8h.8v.8h-.8zM178.7 474.1h.8v.8h-.8zM174.7 476.2h.8v.8h-.8zM176.4 477.8h.8v.8h-.8zM177.0 468.2h.8v.8h-.8zM179.3 477.8h.8v.8h-.8zM180.4 467.5h.8v.8h-.8zM169.6 476.1h.8v.8h-.8zM182.4 474.6h.8v.8h-.8zM183.7 468.3h.8v.8h-.8zM179.4 469.4h.8v.8h-.8zM178.7 469.2h.8v.8h-.8zM171.3 468.1h.8v.8h-.8zM183.6 468.8h.8v.8h-.8zM177.0 465.3h.8v.8h-.8zM174.4 470.6h.8v.8h-.8zM177.4 468.7h.8v.8h-.8zM183.8 472.4h.8v.8h-.8zM179.6 474.3h.8v.8h-.8zM175.4 469.4h.8v.8h-.8zM173.7 474.1h.8v.8h-.8zM175.9 475.4h.8v.8h-.8zM180.2 476.3h.8v.8h-.8zM179.6 471.8h.8v.8h-.8zM179.9 474.2h.8v.8h-.8zM175.7 468.3h.8v.8h-.8zM177.7 464.1h.8v.8h-.8zM180.6 468.4h.8v.8h-.8zM177.3 464.2h.8v.8h-.8zM180.5 468.2h.8v.8h-.8zM181.3 468.6h.8v.8h-.8zM172.0 470.5h.8v.8h-.8zM187.6 469.0h.8v.8h-.8zM180.8 468.0h.8v.8h-.8zM174.2 468.4h.8v.8h-.8zM177.4 469.4h.8v.8h-.8zM180.9 477.3h.8v.8h-.8zM182.1 476.2h.8v.8h-.8zM181.9 471.7h.8v.8h-.8zM176.5 469.8h.8v.8h-.8zM177.9 477.0h.8v.8h-.8zM175.6 476.8h.8v.8h-.8zM174.5 473.4h.8v.8h-.8zM173.6 473.6h.8v.8h-.8zM179.0 474.6h.8v.8h-.8zM181.1 475.4h.8v.8h-.8zM175.5 470.9h.8v.8h-.8zM180.0 474.0h.8v.8h-.8zM177.5 470.4h.8v.8h-.8zM182.9 470.3h.8v.8h-.8zM188.8 463.2h.8v.8h-.8zM183.9 471.4h.8v.8h-.8zM182.3 466.5h.8v.8h-.8zM178.0 468.8h.8v.8h-.8zM175.3 464.7h.8v.8h-.8zM176.8 462.9h.8v.8h-.8zM176.1 466.2h.8v.8h-.8zM173.8 471.6h.8v.8h-.8zM184.6 468.0h.8v.8h-.8zM174.8 469.9h.8v.8h-.8zM179.4 462.2h.8v.8h-.8zM175.2 468.6h.8v.8h-.8zM179.1 468.9h.8v.8h-.8zM179.6 471.7h.8v.8h-.8zM173.0 478.0h.8v.8h-.8zM180.1 477.7h.8v.8h-.8zM181.9 479.1h.8v.8h-.8zM178.2 467.6h.8v.8h-.8zM177.0 472.2h.8v.8h-.8zM179.5 468.8h.8v.8h-.8zM175.9 468.0h.8v.8h-.8zM175.2 477.3h.8v.8h-.8zM179.5 469.2h.8v.8h-.8zM175.9 476.2h.8v.8h-.8zM181.8 470.3h.8v.8h-.8zM185.5 472.6h.8v.8h-.8zM179.0 477.4h.8v.8h-.8zM184.7 477.6h.8v.8h-.8zM177.6 469.1h.8v.8h-.8zM179.4 473.5h.8v.8h-.8zM175.9 472.4h.8v.8h-.8zM178.8 473.9h.8v.8h-.8zM178.0 466.3h.8v.8h-.8zM184.7 470.4h.8v.8h-.8zM178.7 462.0h.8v.8h-.8zM179.8 475.4h.8v.8h-.8zM175.1 462.7h.8v.8h-.8zM177.6 468.8h.8v.8h-.8zM177.7 476.5h.8v.8h-.8zM179.9 469.4h.8v.8h-.8zM176.3 465.0h.8v.8h-.8zM176.4 469.8h.8v.8h-.8zM177.1 477.8h.8v.8h-.8zM180.0 471.9h.8v.8h-.8zM179.2 478.1h.8v.8h-.8zM179.6 472.4h.8v.8h-.8zM182.4 472.7h.8v.8h-.8zM174.2 471.5h.8v.8h-.8zM176.1 470.5h.8v.8h-.8zM176.6 470.5h.8v.8h-.8zM181.9 468.9h.8v.8h-.8zM175.7 468.4h.8v.8h-.8zM180.2 467.8h.8v.8h-.8zM183.2 475.6h.8v.8h-.8zM177.8 476.2h.8v.8h-.8zM180.2 471.7h.8v.8h-.8zM180.4 477.4h.8v.8h-.8zM180.2 475.5h.8v.8h-.8zM178.2 467.0h.8v.8h-.8zM176.1 477.3h.8v.8h-.8zM181.6 477.3h.8v.8h-.8zM178.0 469.9h.8v.8h-.8zM176.8 479.3h.8v.8h-.8zM174.2 475.4h.8v.8h-.8zM178.2 458.9h.8v.8h-.8zM178.7 472.3h.8v.8h-.8zM178.1 470.5h.8v.8h-.8zM178.8 464.6h.8v.8h-.8zM177.8 474.0h.8v.8h-.8zM171.3 471.8h.8v.8h-.8zM180.9 473.1h.8v.8h-.8zM181.3 470.1h.8v.8h-.8zM181.8 460.3h.8v.8h-.8zM178.0 464.7h.8v.8h-.8zM173.7 477.1h.8v.8h-.8zM181.4 479.1h.8v.8h-.8zM178.4 472.6h.8v.8h-.8zM176.6 468.0h.8v.8h-.8zM174.1 472.8h.8v.8h-.8zM179.2 473.3h.8v.8h-.8zM177.0 473.1h.8v.8h-.8zM173.4 475.5h.8v.8h-.8zM181.3 474.6h.8v.8h-.8zM178.3 478.5h.8v.8h-.8zM173.3 474.3h.8v.8h-.8zM172.9 473.7h.8v.8h-.8zM176.4 471.9h.8v.8h-.8zM180.9 472.5h.8v.8h-.8zM182.6 471.0h.8v.8h-.8zM177.7 470.5h.8v.8h-.8zM172.9 469.2h.8v.8h-.8zM175.6 468.6h.8v.8h-.8zM185.1 465.4h.8v.8h-.8zM177.9 474.6h.8v.8h-.8zM179.6 460.9h.8v.8h-.8zM174.6 473.3h.8v.8h-.8zM185.1 470.0h.8v.8h-.8zM172.0 476.5h.8v.8h-.8zM180.1 474.3h.8v.8h-.8zM178.8 466.9h.8v.8h-.8zM179.5 471.6h.8v.8h-.8zM174.0 470.5h.8v.8h-.8zM174.7 462.6h.8v.8h-.8zM171.3 473.9h.8v.8h-.8zM181.6 477.2h.8v.8h-.8zM179.5 472.6h.8v.8h-.8zM172.9 476.4h.8v.8h-.8zM181.3 477.4h.8v.8h-.8zM172.6 464.3h.8v.8h-.8zM177.7 479.6h.8v.8h-.8zM181.5 471.9h.8v.8h-.8zM174.0 475.7h.8v.8h-.8zM179.1 476.3h.8v.8h-.8zM175.6 472.0h.8v.8h-.8zM180.2 461.1h.8v.8h-.8zM179.7 474.7h.8v.8h-.8zM173.6 472.7h.8v.8h-.8zM175.0 465.6h.8v.8h-.8zM176.6 463.5h.8v.8h-.8zM179.1 470.5h.8v.8h-.8zM175.1 472.3h.8v.8h-.8zM179.1 465.7h.8v.8h-.8zM171.9 477.7h.8v.8h-.8zM174.8 469.6h.8v.8h-.8zM177.5 475.7h.8v.8h-.8zM183.4 474.6h.8v.8h-.8zM182.2 464.9h.8v.8h-.8zM178.8 465.9h.8v.8h-.8zM179.3 473.5h.8v.8h-.8zM177.4 471.0h.8v.8h-.8zM176.3 476.7h.8v.8h-.8zM175.2 473.9h.8v.8h-.8zM168.9 466.5h.8v.8h-.8zM178.9 457.2h.8v.8h-.8zM177.6 471.4h.8v.8h-.8zM181.4 468.8h.8v.8h-.8zM182.1 471.8h.8v.8h-.8zM180.0 462.3h.8v.8h-.8zM187.3 469.8h.8v.8h-.8zM179.7 472.2h.8v.8h-.8zM177.0 467.5h.8v.8h-.8zM184.5 479.3h.8v.8h-.8zM180.3 469.9h.8v.8h-.8zM177.6 470.8h.8v.8h-.8zM172.5 473.6h.8v.8h-.8zM180.1 477.8h.8v.8h-.8zM177.9 473.2h.8v.8h-.8zM177.3 473.0h.8v.8h-.8zM171.6 473.6h.8v.8h-.8zM179.3 475.1h.8v.8h-.8zM172.9 470.9h.8v.8h-.8zM178.6 470.0h.8v.8h-.8zM178.2 469.7h.8v.8h-.8zM179.5 476.6h.8v.8h-.8zM176.9 465.9h.8v.8h-.8zM173.7 469.7h.8v.8h-.8zM176.9 472.7h.8v.8h-.8zM176.6 470.8h.8v.8h-.8zM182.5 476.5h.8v.8h-.8zM183.0 468.6h.8v.8h-.8zM181.3 468.8h.8v.8h-.8zM181.1 458.7h.8v.8h-.8zM176.3 466.3h.8v.8h-.8zM173.7 468.3h.8v.8h-.8zM180.9 473.4h.8v.8h-.8zM178.7 475.3h.8v.8h-.8zM182.3 470.5h.8v.8h-.8zM176.0 474.3h.8v.8h-.8zM175.2 479.5h.8v.8h-.8zM172.4 479.2h.8v.8h-.8zM175.3 475.9h.8v.8h-.8zM176.3 479.1h.8v.8h-.8zM177.1 474.7h.8v.8h-.8zM175.4 467.8h.8v.8h-.8zM178.9 472.9h.8v.8h-.8zM180.3 471.0h.8v.8h-.8zM177.4 471.3h.8v.8h-.8zM183.1 477.6h.8v.8h-.8zM180.0 470.0h.8v.8h-.8zM180.2 469.9h.8v.8h-.8zM180.9 463.7h.8v.8h-.8zM178.4 472.0h.8v.8h-.8zM181.7 464.8h.8v.8h-.8zM175.7 471.4h.8v.8h-.8zM176.3 472.6h.8v.8h-.8zM184.7 477.3h.8v.8h-.8zM181.1 470.7h.8v.8h-.8zM171.1 472.6h.8v.8h-.8zM179.9 475.3h.8v.8h-.8zM175.9 474.8h.8v.8h-.8zM183.7 465.3h.8v.8h-.8zM179.6 459.8h.8v.8h-.8zM183.8 467.8h.8v.8h-.8zM177.4 472.3h.8v.8h-.8zM178.6 465.3h.8v.8h-.8zM180.1 466.4h.8v.8h-.8zM178.7 477.8h.8v.8h-.8zM174.8 478.1h.8v.8h-.8zM177.6 470.0h.8v.8h-.8zM179.0 477.7h.8v.8h-.8zM171.4 467.3h.8v.8h-.8zM178.7 479.6h.8v.8h-.8zM177.7 467.8h.8v.8h-.8zM180.9 475.1h.8v.8h-.8zM177.0 478.3h.8v.8h-.8zM176.3 468.3h.8v.8h-.8zM180.1 476.6h.8v.8h-.8zM175.7 474.1h.8v.8h-.8zM183.7 468.6h.8v.8h-.8zM181.2 479.2h.8v.8h-.8zM183.7 476.6h.8v.8h-.8zM186.7 468.1h.8v.8h-.8zM175.4 479.4h.8v.8h-.8zM179.2 472.6h.8v.8h-.8zM175.7 463.7h.8v.8h-.8zM182.5 469.9h.8v.8h-.8zM178.3 471.4h.8v.8h-.8zM181.5 477.8h.8v.8h-.8zM177.5 467.5h.8v.8h-.8zM177.6 476.6h.8v.8h-.8zM177.4 467.7h.8v.8h-.8zM183.2 475.2h.8v.8h-.8zM175.3 477.5h.8v.8h-.8zM183.5 470.8h.8v.8h-.8zM171.4 469.2h.8v.8h-.8zM176.6 468.4h.8v.8h-.8zM177.6 468.0h.8v.8h-.8zM170.8 469.3h.8v.8h-.8zM176.5 462.9h.8v.8h-.8zM172.1 455.7h.8v.8h-.8zM180.1 466.6h.8v.8h-.8zM180.0 467.9h.8v.8h-.8zM179.5 466.0h.8v.8h-.8zM176.4 476.6h.8v.8h-.8zM181.6 466.0h.8v.8h-.8zM171.1 471.0h.8v.8h-.8zM177.6 465.2h.8v.8h-.8zM177.5 474.4h.8v.8h-.8zM180.2 478.1h.8v.8h-.8zM178.0 461.1h.8v.8h-.8zM176.6 472.1h.8v.8h-.8zM176.2 464.8h.8v.8h-.8zM175.2 467.5h.8v.8h-.8zM179.1 468.1h.8v.8h-.8zM177.7 473.7h.8v.8h-.8zM174.1 472.2h.8v.8h-.8zM176.1 471.1h.8v.8h-.8zM183.5 470.1h.8v.8h-.8zM173.9 473.8h.8v.8h-.8zM176.2 477.9h.8v.8h-.8zM179.5 473.1h.8v.8h-.8zM169.5 466.5h.8v.8h-.8zM178.0 475.8h.8v.8h-.8zM177.5 472.5h.8v.8h-.8zM182.1 475.1h.8v.8h-.8zM174.9 470.4h.8v.8h-.8zM181.2 477.2h.8v.8h-.8zM178.0 474.1h.8v.8h-.8zM177.6 464.9h.8v.8h-.8zM182.2 468.5h.8v.8h-.8zM177.6 471.8h.8v.8h-.8zM178.4 469.2h.8v.8h-.8zM178.6 469.7h.8v.8h-.8zM182.7 467.5h.8v.8h-.8zM179.4 474.7h.8v.8h-.8zM177.4 468.8h.8v.8h-.8zM169.5 468.4h.8v.8h-.8zM180.2 475.7h.8v.8h-.8zM177.4 466.8h.8v.8h-.8zM178.0 476.8h.8v.8h-.8zM176.9 475.3h.8v.8h-.8zM176.3 468.7h.8v.8h-.8zM186.3 471.6h.8v.8h-.8zM174.1 474.3h.8v.8h-.8zM183.0 470.5h.8v.8h-.8zM183.4 474.2h.8v.8h-.8zM178.5 469.9h.8v.8h-.8zM171.1 476.0h.8v.8h-.8zM179.7 467.7h.8v.8h-.8zM179.4 465.8h.8v.8h-.8zM173.5 475.4h.8v.8h-.8zM179.0 473.2h.8v.8h-.8zM176.8 476.1h.8v.8h-.8zM179.1 469.1h.8v.8h-.8zM181.0 473.3h.8v.8h-.8zM177.6 462.7h.8v.8h-.8zM174.4 472.0h.8v.8h-.8zM182.0 479.5h.8v.8h-.8zM172.1 461.6h.8v.8h-.8zM172.5 470.7h.8v.8h-.8zM181.3 469.1h.8v.8h-.8zM179.5 470.0h.8v.8h-.8zM176.7 470.3h.8v.8h-.8zM181.4 458.1h.8v.8h-.8zM175.4 470.7h.8v.8h-.8zM176.8 476.6h.8v.8h-.8zM178.8 476.7h.8v.8h-.8zM181.0 461.4h.8v.8h-.8zM172.5 478.0h.8v.8h-.8zM177.7 468.1h.8v.8h-.8zM183.1 464.4h.8v.8h-.8zM180.5 471.1h.8v.8h-.8zM176.7 479.6h.8v.8h-.8zM173.3 470.1h.8v.8h-.8zM176.1 469.7h.8v.8h-.8zM176.7 474.3h.8v.8h-.8zM173.9 464.5h.8v.8h-.8zM177.7 466.6h.8v.8h-.8zM176.5 471.6h.8v.8h-.8zM189.6 474.3h.8v.8h-.8zM177.3 464.2h.8v.8h-.8zM182.5 476.1h.8v.8h-.8zM177.8 477.2h.8v.8h-.8zM177.7 475.6h.8v.8h-.8zM177.5 472.7h.8v.8h-.8zM182.4 471.5h.8v.8h-.8zM180.3 477.5h.8v.8h-.8zM175.4 469.4h.8v.8h-.8zM182.6 468.6h.8v.8h-.8zM178.7 477.5h.8v.8h-.8zM176.6 472.7h.8v.8h-.8zM176.2 478.2h.8v.8h-.8zM176.6 473.8h.8v.8h-.8zM177.3 471.1h.8v.8h-.8zM172.5 462.1h.8v.8h-.8zM175.5 471.8h.8v.8h-.8zM176.6 474.1h.8v.8h-.8zM174.7 477.8h.8v.8h-.8zM180.0 475.7h.8v.8h-.8zM176.3 466.9h.8v.8h-.8zM178.5 476.0h.8v.8h-.8zM179.4 473.2h.8v.8h-.8zM179.0 475.5h.8v.8h-.8zM187.9 477.6h.8v.8h-.8zM176.8 473.4h.8v.8h-.8zM177.4 465.2h.8v.8h-.8zM174.6 464.5h.8v.8h-.8zM177.0 467.0h.8v.8h-.8zM177.2 479.2h.8v.8h-.8zM177.5 473.3h.8v.8h-.8zM176.8 470.8h.8v.8h-.8zM177.6 478.8h.8v.8h-.8zM176.3 467.8h.8v.8h-.8zM179.9 467.6h.8v.8h-.8zM180.2 470.6h.8v.8h-.8zM181.0 469.2h.8v.8h-.8zM175.7 472.0h.8v.8h-.8zM180.2 477.2h.8v.8h-.8zM174.0 476.5h.8v.8h-.8zM179.1 465.1h.8v.8h-.8zM179.8 479.6h.8v.8h-.8zM174.6 469.9h.8v.8h-.8zM176.1 467.4h.8v.8h-.8zM185.2 469.8h.8v.8h-.8zM183.2 477.8h.8v.8h-.8zM179.4 475.3h.8v.8h-.8zM177.4 475.0h.8v.8h-.8zM176.0 479.3h.8v.8h-.8zM173.7 471.0h.8v.8h-.8zM174.3 478.0h.8v.8h-.8zM177.6 464.3h.8v.8h-.8zM176.5 477.2h.8v.8h-.8zM175.1 476.0h.8v.8h-.8zM178.8 469.3h.8v.8h-.8zM170.6 463.0h.8v.8h-.8zM184.9 479.3h.8v.8h-.8zM182.1 470.8h.8v.8h-.8zM180.5 477.0h.8v.8h-.8zM178.9 475.6h.8v.8h-.8zM178.5 469.8h.8v.8h-.8zM179.6 464.7h.8v.8h-.8zM181.0 474.1h.8v.8h-.8zM176.6 471.2h.8v.8h-.8zM177.7 471.0h.8v.8h-.8zM176.8 476.5h.8v.8h-.8zM182.2 474.2h.8v.8h-.8zM181.8 463.6h.8v.8h-.8zM178.9 465.1h.8v.8h-.8zM178.8 468.1h.8v.8h-.8zM176.9 472.6h.8v.8h-.8zM180.3 468.8h.8v.8h-.8zM182.9 473.3h.8v.8h-.8zM176.9 473.5h.8v.8h-.8zM177.2 471.0h.8v.8h-.8zM179.5 469.9h.8v.8h-.8zM177.7 473.2h.8v.8h-.8zM174.3 473.6h.8v.8h-.8zM180.4 467.7h.8v.8h-.8zM181.8 474.9h.8v.8h-.8zM177.4 468.5h.8v.8h-.8zM178.4 479.4h.8v.8h-.8zM178.7 471.8h.8v.8h-.8zM175.7 472.7h.8v.8h-.8zM175.7 472.5h.8v.8h-.8zM176.4 476.8h.8v.8h-.8zM172.5 465.7h.8v.8h-.8zM183.4 472.9h.8v.8h-.8zM175.2 474.5h.8v.8h-.8zM175.9 478.7h.8v.8h-.8zM177.1 468.8h.8v.8h-.8zM172.6 466.7h.8v.8h-.8zM171.5 472.2h.8v.8h-.8zM183.5 472.0h.8v.8h-.8zM175.0 468.5h.8v.8h-.8zM176.5 472.3h.8v.8h-.8zM175.7 462.9h.8v.8h-.8zM175.2 471.8h.8v.8h-.8zM174.0 470.0h.8v.8h-.8zM179.4 437.6h.8v.8h-.8zM179.7 432.8h.8v.8h-.8zM180.5 436.2h.8v.8h-.8zM177.7 437.0h.8v.8h-.8zM190.2 433.8h.8v.8h-.8zM181.3 435.4h.8v.8h-.8zM191.4 436.3h.8v.8h-.8zM191.4 435.4h.8v.8h-.8zM180.9 436.4h.8v.8h-.8zM188.9 434.6h.8v.8h-.8zM182.7 437.9h.8v.8h-.8zM188.3 437.8h.8v.8h-.8zM183.0 436.6h.8v.8h-.8zM178.5 435.3h.8v.8h-.8zM180.1 437.5h.8v.8h-.8zM183.3 437.9h.8v.8h-.8zM189.6 434.4h.8v.8h-.8zM175.9 434.9h.8v.8h-.8zM175.4 433.9h.8v.8h-.8zM191.2 435.4h.8v.8h-.8zM186.8 437.7h.8v.8h-.8zM181.2 435.0h.8v.8h-.8zM179.8 437.4h.8v.8h-.8zM182.7 435.6h.8v.8h-.8zM174.6 438.8h.8v.8h-.8zM191.1 435.2h.8v.8h-.8zM180.3 434.3h.8v.8h-.8zM177.6 436.3h.8v.8h-.8zM177.2 435.1h.8v.8h-.8zM191.9 438.9h.8v.8h-.8zM184.1 436.1h.8v.8h-.8zM177.5 436.1h.8v.8h-.8zM187.6 437.6h.8v.8h-.8zM192.2 435.3h.8v.8h-.8zM184.8 436.3h.8v.8h-.8zM188.6 436.0h.8v.8h-.8zM184.6 436.8h.8v.8h-.8zM180.5 436.9h.8v.8h-.8zM177.2 438.0h.8v.8h-.8zM180.8 436.6h.8v.8h-.8zM181.7 438.9h.8v.8h-.8zM193.2 433.5h.8v.8h-.8zM179.4 435.0h.8v.8h-.8zM185.7 437.7h.8v.8h-.8zM186.7 437.0h.8v.8h-.8zM184.2 436.5h.8v.8h-.8zM180.1 436.9h.8v.8h-.8zM187.3 435.6h.8v.8h-.8zM174.4 435.1h.8v.8h-.8zM177.4 436.5h.8v.8h-.8zM179.8 438.2h.8v.8h-.8zM179.0 438.6h.8v.8h-.8zM188.5 436.5h.8v.8h-.8zM177.0 435.9h.8v.8h-.8zM184.3 436.9h.8v.8h-.8zM175.7 435.4h.8v.8h-.8zM189.3 434.4h.8v.8h-.8zM188.4 435.9h.8v.8h-.8zM182.5 435.5h.8v.8h-.8zM182.5 438.6h.8v.8h-.8zM191.9 436.6h.8v.8h-.8zM185.7 435.1h.8v.8h-.8zM176.2 439.2h.8v.8h-.8zM176.9 435.4h.8v.8h-.8zM172.9 438.4h.8v.8h-.8zM184.4 435.9h.8v.8h-.8zM180.0 435.3h.8v.8h-.8zM184.5 437.3h.8v.8h-.8zM179.6 434.8h.8v.8h-.8zM190.0 434.7h.8v.8h-.8zM177.0 435.7h.8v.8h-.8zM186.1 434.0h.8v.8h-.8zM174.4 438.2h.8v.8h-.8zM188.2 437.9h.8v.8h-.8zM188.4 436.8h.8v.8h-.8zM180.4 437.7h.8v.8h-.8zM178.5 436.4h.8v.8h-.8zM176.3 436.6h.8v.8h-.8zM189.4 436.6h.8v.8h-.8zM177.0 436.7h.8v.8h-.8zM191.2 435.4h.8v.8h-.8zM185.0 435.5h.8v.8h-.8zM180.3 435.0h.8v.8h-.8zM192.3 435.4h.8v.8h-.8zM188.6 436.4h.8v.8h-.8zM186.7 436.4h.8v.8h-.8zM172.2 434.0h.8v.8h-.8zM185.7 436.9h.8v.8h-.8zM184.7 436.7h.8v.8h-.8zM178.6 437.9h.8v.8h-.8zM175.7 436.8h.8v.8h-.8zM193.8 437.2h.8v.8h-.8zM192.3 438.0h.8v.8h-.8zM181.3 439.2h.8v.8h-.8zM174.3 437.2h.8v.8h-.8zM189.0 438.4h.8v.8h-.8zM186.3 434.4h.8v.8h-.8zM190.8 436.4h.8v.8h-.8zM180.2 436.2h.8v.8h-.8zM190.3 437.4h.8v.8h-.8zM191.3 434.7h.8v.8h-.8zM189.4 436.2h.8v.8h-.8zM176.6 435.7h.8v.8h-.8zM190.1 435.9h.8v.8h-.8zM173.6 435.5h.8v.8h-.8zM180.4 437.2h.8v.8h-.8zM185.9 437.3h.8v.8h-.8zM188.8 434.9h.8v.8h-.8zM186.6 435.3h.8v.8h-.8zM186.6 438.0h.8v.8h-.8zM181.7 436.2h.8v.8h-.8zM177.8 437.0h.8v.8h-.8zM185.9 437.6h.8v.8h-.8zM186.2 435.3h.8v.8h-.8zM178.2 436.9h.8v.8h-.8zM191.6 435.8h.8v.8h-.8zM175.9 432.9h.8v.8h-.8zM191.3 438.8h.8v.8h-.8zM176.1 436.3h.8v.8h-.8zM181.8 436.0h.8v.8h-.8z" fill="#c81212" fill-opacity="0.7"/>
<path d="M154.1,468.9 L163.0,468.7 Q167.5,470.5 167.5,477.5 L166.0,479.7 L154.1,479.7 Z" fill="#e8161c" opacity="1" filter="url(#bl4)"/>
<rect x="154.0" y="470.0" width="9.5" height="9.7" fill="#e8161c" filter="url(#bl2)"/>
<ellipse cx="178.0" cy="472.0" rx="3.6" ry="4.9" fill="#e41c1c" opacity="0.95" filter="url(#bl4)"/>
<path d="M174.0,434.5 Q183.0,434.0 192.0,435.5 L192.0,436.6 Q183.0,438.4 174.0,438.9 Z" fill="#e01a1a" filter="url(#bl2)"/>
<path d="M175.0,435.8 Q183.0,435.3 189.0,436.0 Q183.0,437.1 175.0,437.6 Z" fill="#b81014" filter="url(#bl2)"/>
<rect x="153.50" y="426.50" width="55.00" height="54.00" fill="none" stroke="#555" stroke-width="0.75" />
<line x1="167.50" y1="426.50" x2="167.50" y2="480.50" stroke="#666" stroke-width="0.65" />
<line x1="153.50" y1="467.50" x2="208.50" y2="467.50" stroke="#666" stroke-width="0.65" />
<text x="196.10" y="433.48" font-size="6.6" font-weight="bold" text-anchor="start" fill="#222" stroke="#222" stroke-width="0.12" textLength="10.80" lengthAdjust="spacingAndGlyphs" >37%</text>
<text x="196.10" y="478.28" font-size="6.6" font-weight="bold" text-anchor="start" fill="#222" stroke="#222" stroke-width="0.12" textLength="10.80" lengthAdjust="spacingAndGlyphs" >28%</text>
<line x1="152.50" y1="480.50" x2="153.50" y2="480.50" stroke="#555" stroke-width="0.4" />
<text x="151.70" y="481.40" font-size="2.6" font-weight="bold" text-anchor="end" fill="#444" >10</text>
<line x1="152.50" y1="467.00" x2="153.50" y2="467.00" stroke="#555" stroke-width="0.4" />
<text x="151.70" y="467.90" font-size="2.6" font-weight="bold" text-anchor="end" fill="#444" >10</text>
<line x1="152.50" y1="453.50" x2="153.50" y2="453.50" stroke="#555" stroke-width="0.4" />
<text x="151.70" y="454.40" font-size="2.6" font-weight="bold" text-anchor="end" fill="#444" >10</text>
<line x1="152.50" y1="440.00" x2="153.50" y2="440.00" stroke="#555" stroke-width="0.4" />
<text x="151.70" y="440.90" font-size="2.6" font-weight="bold" text-anchor="end" fill="#444" >10</text>
<line x1="152.50" y1="426.50" x2="153.50" y2="426.50" stroke="#555" stroke-width="0.4" />
<text x="151.70" y="427.40" font-size="2.6" font-weight="bold" text-anchor="end" fill="#444" >10</text>
<line x1="153.50" y1="480.50" x2="153.50" y2="481.50" stroke="#555" stroke-width="0.4" />
<text x="153.50" y="483.50" font-size="2.6" font-weight="bold" text-anchor="middle" fill="#444" transform="rotate(-45 153.50 483.50)" >10</text>
<line x1="167.25" y1="480.50" x2="167.25" y2="481.50" stroke="#555" stroke-width="0.4" />
<text x="167.25" y="483.50" font-size="2.6" font-weight="bold" text-anchor="middle" fill="#444" transform="rotate(-45 167.25 483.50)" >10</text>
<line x1="181.00" y1="480.50" x2="181.00" y2="481.50" stroke="#555" stroke-width="0.4" />
<text x="181.00" y="483.50" font-size="2.6" font-weight="bold" text-anchor="middle" fill="#444" transform="rotate(-45 181.00 483.50)" >10</text>
<line x1="194.75" y1="480.50" x2="194.75" y2="481.50" stroke="#555" stroke-width="0.4" />
<text x="194.75" y="483.50" font-size="2.6" font-weight="bold" text-anchor="middle" fill="#444" transform="rotate(-45 194.75 483.50)" >10</text>
<line x1="208.50" y1="480.50" x2="208.50" y2="481.50" stroke="#555" stroke-width="0.4" />
<text x="208.50" y="483.50" font-size="2.6" font-weight="bold" text-anchor="middle" fill="#444" transform="rotate(-45 208.50 483.50)" >10</text>
</svg>
</body></html>
